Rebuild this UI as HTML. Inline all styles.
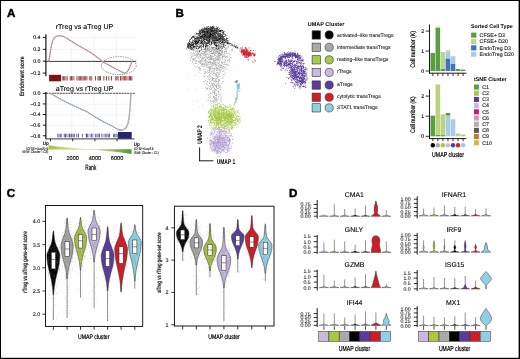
<!DOCTYPE html>
<html><head><meta charset="utf-8"><style>
html,body{margin:0;padding:0;background:#fff;width:520px;height:359px;overflow:hidden}
svg{display:block}
text{font-family:"Liberation Sans", sans-serif}
svg{will-change:transform}
text{filter:grayscale(1);text-rendering:geometricPrecision}
</style></head><body>
<svg width="520" height="359" viewBox="0 0 520 359" font-family='"Liberation Sans", sans-serif'>
<rect x="0" y="0" width="520" height="359" fill="#000"/>
<rect x="1" y="1" width="517.6" height="356.8" fill="#fff"/>
<text x="7" y="16.7" font-size="11.6" font-weight="bold" stroke="#000" stroke-width="0.45">A</text>
<text x="24.5" y="76.2" font-size="6.2" text-anchor="middle" textLength="39.7" lengthAdjust="spacingAndGlyphs" transform="rotate(-90 24.5 76.2)" stroke="#000" stroke-width="0.18" >Enrichment score</text>
<line x1="71.2" y1="34.5" x2="71.2" y2="74.5" stroke="#ececec" stroke-width="0.6" />
<line x1="94.2" y1="34.5" x2="94.2" y2="74.5" stroke="#ececec" stroke-width="0.6" />
<line x1="116.5" y1="34.5" x2="116.5" y2="74.5" stroke="#ececec" stroke-width="0.6" />
<line x1="46.4" y1="37.4" x2="137" y2="37.4" stroke="#ececec" stroke-width="0.6" />
<line x1="46.4" y1="49.3" x2="137" y2="49.3" stroke="#ececec" stroke-width="0.6" />
<text x="84.5" y="29.2" font-size="7.07" text-anchor="middle" textLength="57.6" lengthAdjust="spacingAndGlyphs" stroke="#000" stroke-width="0.12" >rTreg vs aTreg UP</text>
<line x1="45.9" y1="34.2" x2="45.9" y2="76.2" stroke="#000" stroke-width="1.1" />
<line x1="42.8" y1="37.4" x2="45.9" y2="37.4" stroke="#000" stroke-width="0.9" />
<text x="40.4" y="39.2" font-size="5.2" text-anchor="end" stroke="#000" stroke-width="0.12" >0.4</text>
<line x1="42.8" y1="49.3" x2="45.9" y2="49.3" stroke="#000" stroke-width="0.9" />
<text x="40.4" y="51.1" font-size="5.2" text-anchor="end" stroke="#000" stroke-width="0.12" >0.2</text>
<line x1="42.8" y1="61.2" x2="45.9" y2="61.2" stroke="#000" stroke-width="0.9" />
<text x="40.4" y="63" font-size="5.2" text-anchor="end" stroke="#000" stroke-width="0.12" >0.0</text>
<line x1="42.8" y1="73.1" x2="45.9" y2="73.1" stroke="#000" stroke-width="0.9" />
<text x="40.4" y="74.9" font-size="5.2" text-anchor="end" stroke="#000" stroke-width="0.12" >−0.2</text>
<line x1="45.9" y1="61.4" x2="136.2" y2="61.4" stroke="#222" stroke-width="0.9" />
<path d="M48.7 61.3 L49.6 56.5 L50.5 50.5 L51.5 45.3 L52.8 40.6 L54.4 37.6 L56.3 36.2 L59 35.9 L61.5 35.9 L63.5 36.4 L66 37.9 L70 40.4 L74 42.9 L78.4 45.5 L82.5 47.8 L86.7 50.2 L91 52.8 L95.1 55.6 L98.7 58.4 L102.2 61.3 L105.5 63.3 L109 65.2 L113 67.4 L117 69.5 L120.8 71.4 L123 72.6 L124.6 73.1 L126.2 72.6 L127.6 71.2 L129 68.8 L130.4 65.5 L131.3 62.8 L131.9 61.5" stroke="#e2bcbe" stroke-width="1.4" fill="none" stroke-linejoin="round" />
<path d="M48.7 61.3 L49.6 56.5 L50.5 50.5 L51.5 45.3 L52.8 40.6 L54.4 37.6 L56.3 36.2 L59 35.9 L61.5 35.9 L63.5 36.4 L66 37.9 L70 40.4 L74 42.9 L78.4 45.5 L82.5 47.8 L86.7 50.2 L91 52.8 L95.1 55.6 L98.7 58.4 L102.2 61.3 L105.5 63.3 L109 65.2 L113 67.4 L117 69.5 L120.8 71.4 L123 72.6 L124.6 73.1 L126.2 72.6 L127.6 71.2 L129 68.8 L130.4 65.5 L131.3 62.8 L131.9 61.5" stroke="#857a7a" stroke-width="0.85" fill="none" stroke-linejoin="round" stroke-dasharray="1.5 0.7"/>
<ellipse cx="118.8" cy="65.6" rx="17.4" ry="9" fill="none" stroke="#444" stroke-width="0.6" stroke-dasharray="1.3 1.1"/>
<rect x="49.1" y="74.8" width="11.9" height="6.5" fill="#7b1414" />
<rect x="61.8" y="76.1" width="0.8" height="4.4" fill="#9a3a3a"/><rect x="63.05" y="76.1" width="0.8" height="4.4" fill="#8c2626"/><rect x="64.3" y="76.1" width="0.8" height="4.4" fill="#9a3a3a"/><rect x="65.55" y="76.1" width="0.8" height="4.4" fill="#9a3a3a"/><rect x="66.8" y="76.1" width="0.8" height="4.4" fill="#9a3a3a"/><rect x="69.8" y="76.1" width="0.8" height="4.4" fill="#7b1414"/><rect x="71.05" y="76.1" width="0.8" height="4.4" fill="#7b1414"/><rect x="72.3" y="76.1" width="0.8" height="4.4" fill="#a85252"/><rect x="73.55" y="76.1" width="0.8" height="4.4" fill="#9a3a3a"/><rect x="76.5" y="76.1" width="0.8" height="4.4" fill="#9a3a3a"/><rect x="77.75" y="76.1" width="0.8" height="4.4" fill="#9a3a3a"/><rect x="79" y="76.1" width="0.8" height="4.4" fill="#9a3a3a"/><rect x="80.25" y="76.1" width="0.8" height="4.4" fill="#7b1414"/><rect x="81.5" y="76.1" width="0.8" height="4.4" fill="#7b1414"/><rect x="82.75" y="76.1" width="0.8" height="4.4" fill="#8c2626"/><rect x="84" y="76.1" width="0.8" height="4.4" fill="#9a3a3a"/><rect x="85.25" y="76.1" width="0.8" height="4.4" fill="#9a3a3a"/><rect x="86.5" y="76.1" width="0.8" height="4.4" fill="#861c1c"/><rect x="88.9" y="76.1" width="0.8" height="4.4" fill="#a85252"/><rect x="90.15" y="76.1" width="0.8" height="4.4" fill="#a85252"/><rect x="91.4" y="76.1" width="0.8" height="4.4" fill="#9a3a3a"/><rect x="95.15" y="76.1" width="0.8" height="4.4" fill="#861c1c"/><rect x="97.65" y="76.1" width="0.8" height="4.4" fill="#7b1414"/><rect x="98.9" y="76.1" width="0.8" height="4.4" fill="#7b1414"/><rect x="100.15" y="76.1" width="0.8" height="4.4" fill="#861c1c"/><rect x="103.5" y="76.1" width="0.8" height="4.4" fill="#7b1414"/><rect x="106" y="76.1" width="0.8" height="4.4" fill="#7b1414"/><rect x="108.5" y="76.1" width="0.8" height="4.4" fill="#8c2626"/><rect x="111" y="76.1" width="0.8" height="4.4" fill="#7b1414"/><rect x="115.2" y="76.1" width="0.8" height="4.4" fill="#a85252"/><rect x="116.45" y="76.1" width="0.8" height="4.4" fill="#7b1414"/><rect x="117.7" y="76.1" width="0.8" height="4.4" fill="#7b1414"/><rect x="120.2" y="76.1" width="0.8" height="4.4" fill="#7b1414"/><rect x="121.45" y="76.1" width="0.8" height="4.4" fill="#a85252"/><rect x="122.7" y="76.1" width="0.8" height="4.4" fill="#7b1414"/><rect x="123.95" y="76.1" width="0.8" height="4.4" fill="#8c2626"/><rect x="125.2" y="76.1" width="0.8" height="4.4" fill="#9a3a3a"/><rect x="126.45" y="76.1" width="0.8" height="4.4" fill="#9a3a3a"/><rect x="127.7" y="76.1" width="0.8" height="4.4" fill="#a85252"/><rect x="128.95" y="76.1" width="0.8" height="4.4" fill="#8c2626"/><rect x="130.2" y="76.1" width="0.8" height="4.4" fill="#7b1414"/><rect x="131.45" y="76.1" width="0.8" height="4.4" fill="#7b1414"/>
<line x1="71.7" y1="92.5" x2="71.7" y2="138.5" stroke="#ececec" stroke-width="0.6" />
<line x1="94.2" y1="92.5" x2="94.2" y2="138.5" stroke="#ececec" stroke-width="0.6" />
<line x1="116.5" y1="92.5" x2="116.5" y2="138.5" stroke="#ececec" stroke-width="0.6" />
<line x1="46.4" y1="104.2" x2="136" y2="104.2" stroke="#ececec" stroke-width="0.6" />
<line x1="46.4" y1="114.8" x2="136" y2="114.8" stroke="#ececec" stroke-width="0.6" />
<line x1="46.4" y1="125.3" x2="136" y2="125.3" stroke="#ececec" stroke-width="0.6" />
<text x="84.6" y="90.7" font-size="7.07" text-anchor="middle" textLength="57.7" lengthAdjust="spacingAndGlyphs" stroke="#000" stroke-width="0.12" >aTreg vs rTreg UP</text>
<line x1="45.9" y1="92" x2="45.9" y2="139.3" stroke="#000" stroke-width="1.1" />
<line x1="42.8" y1="93.3" x2="45.9" y2="93.3" stroke="#000" stroke-width="0.9" />
<text x="40.4" y="95.1" font-size="5.2" text-anchor="end" stroke="#000" stroke-width="0.12" >0.0</text>
<line x1="42.8" y1="103.92" x2="45.9" y2="103.92" stroke="#000" stroke-width="0.9" />
<text x="40.4" y="105.72" font-size="5.2" text-anchor="end" stroke="#000" stroke-width="0.12" >−0.2</text>
<line x1="42.8" y1="114.54" x2="45.9" y2="114.54" stroke="#000" stroke-width="0.9" />
<text x="40.4" y="116.34" font-size="5.2" text-anchor="end" stroke="#000" stroke-width="0.12" >−0.4</text>
<line x1="42.8" y1="125.16" x2="45.9" y2="125.16" stroke="#000" stroke-width="0.9" />
<text x="40.4" y="126.96" font-size="5.2" text-anchor="end" stroke="#000" stroke-width="0.12" >−0.6</text>
<line x1="42.8" y1="135.78" x2="45.9" y2="135.78" stroke="#000" stroke-width="0.9" />
<text x="40.4" y="137.58" font-size="5.2" text-anchor="end" stroke="#000" stroke-width="0.12" >−0.8</text>
<line x1="45.9" y1="93.3" x2="135.4" y2="93.3" stroke="#222" stroke-width="0.8" stroke-dasharray="2.2 0.6"/>
<path d="M50.4 93.3 L55 96 L60 98.8 L65 101.5 L70 104 L75 106.4 L81 109 L88 112.4 L96 117.5 L104 122 L111.7 125.9 L116 128.3 L119 129.8 L121.5 130.3" stroke="#c2d8e8" stroke-width="1.5" fill="none" stroke-linejoin="round" />
<path d="M119 129.8 L121.5 130.3 L124 129.6 L126.3 127.4 L128 123.5 L129.2 117 L130 108 L130.6 99 L131 93.5" stroke="#b4b4b4" stroke-width="1.6" fill="none" stroke-linejoin="round" />
<path d="M50.4 93.3 L55 96 L60 98.8 L65 101.5 L70 104 L75 106.4 L81 109 L88 112.4 L96 117.5 L104 122 L111.7 125.9 L116 128.3 L119 129.8 L121.5 130.3" stroke="#7a8088" stroke-width="0.85" fill="none" stroke-linejoin="round" stroke-dasharray="1.5 0.7"/>
<rect x="118" y="132" width="13.7" height="6.7" fill="#26266c" />
<rect x="57.3" y="133.7" width="0.75" height="3.7" fill="#6a6aa8"/><rect x="58.6" y="133.7" width="0.75" height="3.7" fill="#34347f"/><rect x="59.9" y="133.7" width="0.75" height="3.7" fill="#34347f"/><rect x="61.2" y="133.7" width="0.75" height="3.7" fill="#6a6aa8"/><rect x="63.8" y="133.7" width="0.75" height="3.7" fill="#2a2a78"/><rect x="65.1" y="133.7" width="0.75" height="3.7" fill="#2a2a78"/><rect x="66.4" y="133.7" width="0.75" height="3.7" fill="#6a6aa8"/><rect x="67.7" y="133.7" width="0.75" height="3.7" fill="#6a6aa8"/><rect x="69" y="133.7" width="0.75" height="3.7" fill="#2a2a78"/><rect x="70" y="133.7" width="0.75" height="3.7" fill="#8a8abc"/><rect x="71.3" y="133.7" width="0.75" height="3.7" fill="#34347f"/><rect x="72.6" y="133.7" width="0.75" height="3.7" fill="#2a2a78"/><rect x="73.9" y="133.7" width="0.75" height="3.7" fill="#34347f"/><rect x="76.5" y="133.7" width="0.75" height="3.7" fill="#34347f"/><rect x="78" y="133.7" width="0.75" height="3.7" fill="#34347f"/><rect x="81.9" y="133.7" width="0.75" height="3.7" fill="#34347f"/><rect x="85.8" y="133.7" width="0.75" height="3.7" fill="#4a4a94"/><rect x="86" y="133.7" width="0.75" height="3.7" fill="#34347f"/><rect x="87.3" y="133.7" width="0.75" height="3.7" fill="#4a4a94"/><rect x="88.6" y="133.7" width="0.75" height="3.7" fill="#8a8abc"/><rect x="89.9" y="133.7" width="0.75" height="3.7" fill="#8a8abc"/><rect x="91.2" y="133.7" width="0.75" height="3.7" fill="#4a4a94"/><rect x="92.5" y="133.7" width="0.75" height="3.7" fill="#4a4a94"/><rect x="95.1" y="133.7" width="0.75" height="3.7" fill="#4a4a94"/><rect x="96.4" y="133.7" width="0.75" height="3.7" fill="#6a6aa8"/><rect x="97.7" y="133.7" width="0.75" height="3.7" fill="#2a2a78"/><rect x="99" y="133.7" width="0.75" height="3.7" fill="#2a2a78"/><rect x="101.3" y="133.7" width="0.75" height="3.7" fill="#6a6aa8"/><rect x="102.6" y="133.7" width="0.75" height="3.7" fill="#6a6aa8"/><rect x="103.9" y="133.7" width="0.75" height="3.7" fill="#8a8abc"/><rect x="105.2" y="133.7" width="0.75" height="3.7" fill="#6a6aa8"/><rect x="106.5" y="133.7" width="0.75" height="3.7" fill="#34347f"/><rect x="107.8" y="133.7" width="0.75" height="3.7" fill="#34347f"/><rect x="109.1" y="133.7" width="0.75" height="3.7" fill="#34347f"/><rect x="113" y="133.7" width="0.75" height="3.7" fill="#4a4a94"/><rect x="114.3" y="133.7" width="0.75" height="3.7" fill="#4a4a94"/><rect x="115.6" y="133.7" width="0.75" height="3.7" fill="#2a2a78"/><rect x="116.9" y="133.7" width="0.75" height="3.7" fill="#4a4a94"/>
<line x1="45.9" y1="138.9" x2="134.5" y2="138.9" stroke="#222" stroke-width="0.9" />
<line x1="50.5" y1="138.8" x2="50.5" y2="141.4" stroke="#000" stroke-width="0.8" />
<text x="50.5" y="159.5" font-size="5.6" text-anchor="middle" stroke="#000" stroke-width="0.12" >0</text>
<line x1="72.7" y1="138.8" x2="72.7" y2="141.4" stroke="#000" stroke-width="0.8" />
<text x="72.7" y="159.5" font-size="5.6" text-anchor="middle" stroke="#000" stroke-width="0.12" >2000</text>
<line x1="94.9" y1="138.8" x2="94.9" y2="141.4" stroke="#000" stroke-width="0.8" />
<text x="94.9" y="159.5" font-size="5.6" text-anchor="middle" stroke="#000" stroke-width="0.12" >4000</text>
<line x1="117.1" y1="138.8" x2="117.1" y2="141.4" stroke="#000" stroke-width="0.8" />
<text x="117.1" y="159.5" font-size="5.6" text-anchor="middle" stroke="#000" stroke-width="0.12" >6000</text>
<text x="90.8" y="169.8" font-size="7.6" text-anchor="middle" textLength="10.9" lengthAdjust="spacingAndGlyphs" stroke="#000" stroke-width="0.22" >Rank</text>
<defs><linearGradient id="gl" x1="0" x2="1" y1="0" y2="0"><stop offset="0" stop-color="#a3c436"/><stop offset="0.45" stop-color="#cfe09a"/><stop offset="1" stop-color="#f4f8ea" stop-opacity="0"/></linearGradient><linearGradient id="gr" x1="0" x2="1" y1="0" y2="0"><stop offset="0" stop-color="#e4eed4" stop-opacity="0"/><stop offset="0.45" stop-color="#a9cc86"/><stop offset="1" stop-color="#56982a"/></linearGradient></defs>
<path d="M48.5 145.2 Q68 148.4 100 149.3 L100 149.8 L48.5 149.8 Z" fill="url(#gl)"/>
<line x1="48.5" y1="149.5" x2="131.5" y2="149.5" stroke="#d5e6b4" stroke-width="0.6" />
<path d="M84 149.3 L131.5 149.3 L131.5 153.9 Q112 151.2 84 149.3 Z" fill="url(#gr)"/>
<text x="42.8" y="145.3" font-size="5.2" font-weight="bold" textLength="6" lengthAdjust="spacingAndGlyphs" >Up</text>
<text x="48.3" y="149.5" font-size="3.7" text-anchor="end" fill="#222" textLength="22.2" lengthAdjust="spacingAndGlyphs" stroke="#222" stroke-width="0.12" >(CFSE+Day20 &amp;</text>
<text x="48.3" y="153.4" font-size="3.7" text-anchor="end" fill="#222" textLength="25.8" lengthAdjust="spacingAndGlyphs" stroke="#222" stroke-width="0.12" >tSNE Cluster - C3)</text>
<text x="133.8" y="145.6" font-size="5.2" font-weight="bold" textLength="6" lengthAdjust="spacingAndGlyphs" >Up</text>
<text x="133.8" y="149.6" font-size="3.7" fill="#222" textLength="20" lengthAdjust="spacingAndGlyphs" stroke="#222" stroke-width="0.12" >(CFSE+Day3 &amp;</text>
<text x="133.8" y="153.5" font-size="3.7" fill="#222" textLength="25" lengthAdjust="spacingAndGlyphs" stroke="#222" stroke-width="0.12" >tSNE Cluster - C1)</text>
<text x="175.4" y="17" font-size="11.6" font-weight="bold" stroke="#000" stroke-width="0.45">B</text>
<path d="M192.4 61.9h.7v.7h-.7zM204.6 63.8h.7v.7h-.7zM209.9 78.3h.7v.7h-.7zM205.2 51.8h.7v.7h-.7zM223.8 56.2h.7v.7h-.7zM191.3 56.6h.7v.7h-.7zM212.6 92.3h.7v.7h-.7zM213.0 63.5h.7v.7h-.7zM213.6 78.3h.7v.7h-.7zM222.3 50.9h.7v.7h-.7zM211.5 57.7h.7v.7h-.7zM198.6 60.6h.7v.7h-.7zM210.6 59.0h.7v.7h-.7zM211.0 58.5h.7v.7h-.7zM209.7 61.9h.7v.7h-.7zM216.7 107.8h.7v.7h-.7zM211.4 59.6h.7v.7h-.7zM210.8 104.9h.7v.7h-.7zM217.8 59.6h.7v.7h-.7zM216.4 78.0h.7v.7h-.7zM207.8 50.5h.7v.7h-.7zM205.7 65.7h.7v.7h-.7zM221.9 63.0h.7v.7h-.7zM216.3 59.1h.7v.7h-.7zM196.7 50.2h.7v.7h-.7zM196.1 53.4h.7v.7h-.7zM209.4 56.8h.7v.7h-.7zM211.9 62.1h.7v.7h-.7zM210.1 57.9h.7v.7h-.7zM208.7 82.6h.7v.7h-.7zM229.0 61.4h.7v.7h-.7zM217.8 52.8h.7v.7h-.7zM210.9 56.0h.7v.7h-.7zM198.9 51.6h.7v.7h-.7zM203.5 58.3h.7v.7h-.7zM215.5 51.9h.7v.7h-.7zM226.1 63.8h.7v.7h-.7zM226.5 56.5h.7v.7h-.7zM204.7 76.4h.7v.7h-.7zM218.4 90.9h.7v.7h-.7zM222.3 66.9h.7v.7h-.7zM202.8 57.7h.7v.7h-.7zM207.2 88.3h.7v.7h-.7zM212.8 74.8h.7v.7h-.7zM206.2 53.8h.7v.7h-.7zM216.6 68.2h.7v.7h-.7zM218.4 63.3h.7v.7h-.7zM210.6 56.9h.7v.7h-.7zM202.1 63.6h.7v.7h-.7zM207.3 81.3h.7v.7h-.7zM195.7 50.9h.7v.7h-.7zM196.4 55.9h.7v.7h-.7zM194.5 53.8h.7v.7h-.7zM208.9 59.2h.7v.7h-.7zM203.7 64.2h.7v.7h-.7zM213.1 71.8h.7v.7h-.7zM215.0 81.6h.7v.7h-.7zM212.5 68.3h.7v.7h-.7zM205.5 47.8h.7v.7h-.7zM203.9 75.8h.7v.7h-.7zM216.2 95.0h.7v.7h-.7zM217.4 51.2h.7v.7h-.7zM209.0 48.7h.7v.7h-.7zM202.8 53.0h.7v.7h-.7zM207.6 58.6h.7v.7h-.7zM207.6 47.3h.7v.7h-.7zM221.8 52.8h.7v.7h-.7zM213.7 60.6h.7v.7h-.7zM194.6 66.0h.7v.7h-.7zM218.1 52.6h.7v.7h-.7zM214.3 69.1h.7v.7h-.7zM220.2 54.2h.7v.7h-.7zM217.3 58.7h.7v.7h-.7zM209.1 50.5h.7v.7h-.7zM199.3 67.3h.7v.7h-.7zM215.9 95.5h.7v.7h-.7zM205.5 48.6h.7v.7h-.7zM226.5 48.1h.7v.7h-.7zM199.6 50.1h.7v.7h-.7zM223.2 64.5h.7v.7h-.7zM212.9 58.3h.7v.7h-.7zM217.2 52.4h.7v.7h-.7zM218.6 59.4h.7v.7h-.7zM203.7 52.0h.7v.7h-.7zM198.0 67.1h.7v.7h-.7zM216.0 85.8h.7v.7h-.7zM217.0 46.9h.7v.7h-.7zM228.7 59.6h.7v.7h-.7zM219.0 54.4h.7v.7h-.7zM204.4 52.9h.7v.7h-.7zM198.7 53.7h.7v.7h-.7zM215.4 80.0h.7v.7h-.7zM195.7 57.4h.7v.7h-.7zM200.6 55.2h.7v.7h-.7zM221.5 52.6h.7v.7h-.7zM210.5 66.1h.7v.7h-.7zM209.3 58.7h.7v.7h-.7zM210.5 73.4h.7v.7h-.7zM219.5 55.7h.7v.7h-.7zM211.6 59.2h.7v.7h-.7zM207.3 49.0h.7v.7h-.7zM199.1 61.6h.7v.7h-.7zM224.7 49.3h.7v.7h-.7zM222.6 47.0h.7v.7h-.7zM222.8 56.5h.7v.7h-.7zM214.0 54.9h.7v.7h-.7zM227.1 61.4h.7v.7h-.7zM216.6 46.8h.7v.7h-.7zM224.9 57.0h.7v.7h-.7zM219.1 50.3h.7v.7h-.7zM216.2 75.4h.7v.7h-.7zM222.2 59.4h.7v.7h-.7zM199.6 54.0h.7v.7h-.7zM214.3 73.3h.7v.7h-.7zM217.3 88.2h.7v.7h-.7zM198.1 53.2h.7v.7h-.7zM210.2 83.9h.7v.7h-.7zM208.3 96.9h.7v.7h-.7zM215.4 85.4h.7v.7h-.7zM220.7 54.0h.7v.7h-.7zM216.6 72.5h.7v.7h-.7zM207.5 49.5h.7v.7h-.7zM208.1 85.7h.7v.7h-.7zM232.0 49.3h.7v.7h-.7zM208.6 48.2h.7v.7h-.7zM212.0 84.8h.7v.7h-.7zM213.7 84.1h.7v.7h-.7zM215.6 64.8h.7v.7h-.7zM199.1 68.9h.7v.7h-.7zM207.5 58.5h.7v.7h-.7zM222.6 66.6h.7v.7h-.7zM220.7 65.2h.7v.7h-.7zM217.8 65.4h.7v.7h-.7zM203.6 81.3h.7v.7h-.7zM205.4 48.6h.7v.7h-.7zM219.3 70.6h.7v.7h-.7zM203.6 51.3h.7v.7h-.7zM220.1 70.6h.7v.7h-.7zM211.9 63.1h.7v.7h-.7zM212.6 79.2h.7v.7h-.7zM217.5 72.7h.7v.7h-.7zM224.9 59.9h.7v.7h-.7zM210.2 51.5h.7v.7h-.7zM221.8 47.8h.7v.7h-.7zM215.5 98.5h.7v.7h-.7zM212.8 63.1h.7v.7h-.7zM192.5 55.5h.7v.7h-.7zM204.7 51.2h.7v.7h-.7zM221.7 61.9h.7v.7h-.7zM208.5 62.4h.7v.7h-.7zM211.6 46.9h.7v.7h-.7zM211.8 53.2h.7v.7h-.7zM214.2 54.1h.7v.7h-.7zM216.5 107.2h.7v.7h-.7zM205.2 71.0h.7v.7h-.7zM211.4 51.2h.7v.7h-.7zM209.7 50.7h.7v.7h-.7zM215.4 78.7h.7v.7h-.7zM216.9 70.6h.7v.7h-.7zM219.1 53.4h.7v.7h-.7zM221.0 49.5h.7v.7h-.7zM220.0 99.6h.7v.7h-.7zM205.4 51.2h.7v.7h-.7zM200.1 53.7h.7v.7h-.7zM200.9 48.2h.7v.7h-.7zM221.5 62.5h.7v.7h-.7zM211.9 101.1h.7v.7h-.7zM225.7 50.8h.7v.7h-.7zM209.6 67.6h.7v.7h-.7zM200.3 63.4h.7v.7h-.7zM218.6 66.5h.7v.7h-.7zM214.2 85.0h.7v.7h-.7zM218.0 55.5h.7v.7h-.7zM221.8 51.4h.7v.7h-.7zM204.7 52.2h.7v.7h-.7zM202.7 50.9h.7v.7h-.7zM214.8 104.2h.7v.7h-.7zM218.9 57.3h.7v.7h-.7zM221.2 65.0h.7v.7h-.7zM209.4 50.1h.7v.7h-.7zM221.4 82.7h.7v.7h-.7zM209.0 74.0h.7v.7h-.7zM217.4 59.3h.7v.7h-.7zM218.3 47.6h.7v.7h-.7zM210.4 57.8h.7v.7h-.7zM201.5 60.3h.7v.7h-.7zM212.9 68.4h.7v.7h-.7zM199.6 55.8h.7v.7h-.7zM214.7 63.0h.7v.7h-.7zM209.3 64.4h.7v.7h-.7zM214.6 53.6h.7v.7h-.7zM219.2 55.4h.7v.7h-.7zM217.7 46.8h.7v.7h-.7zM218.3 52.8h.7v.7h-.7zM219.2 57.8h.7v.7h-.7zM217.1 48.1h.7v.7h-.7zM214.3 88.5h.7v.7h-.7zM218.9 79.8h.7v.7h-.7zM210.3 68.5h.7v.7h-.7zM225.1 50.7h.7v.7h-.7zM196.5 60.4h.7v.7h-.7zM203.0 55.0h.7v.7h-.7zM220.7 54.8h.7v.7h-.7zM213.4 56.5h.7v.7h-.7zM204.9 50.4h.7v.7h-.7zM212.9 59.7h.7v.7h-.7zM193.6 63.2h.7v.7h-.7zM209.5 67.8h.7v.7h-.7zM213.5 65.4h.7v.7h-.7zM220.3 53.6h.7v.7h-.7zM210.3 61.8h.7v.7h-.7zM216.0 86.6h.7v.7h-.7zM230.4 57.3h.7v.7h-.7zM212.7 64.0h.7v.7h-.7zM219.4 105.8h.7v.7h-.7zM206.7 51.1h.7v.7h-.7zM215.0 60.2h.7v.7h-.7zM207.4 50.4h.7v.7h-.7zM218.7 60.8h.7v.7h-.7zM213.3 51.0h.7v.7h-.7zM205.0 61.3h.7v.7h-.7zM202.1 58.4h.7v.7h-.7zM214.4 60.7h.7v.7h-.7zM219.3 52.8h.7v.7h-.7zM198.8 49.7h.7v.7h-.7zM219.2 55.0h.7v.7h-.7zM222.7 70.7h.7v.7h-.7zM210.6 66.6h.7v.7h-.7zM221.0 49.2h.7v.7h-.7zM214.0 90.9h.7v.7h-.7zM193.7 58.2h.7v.7h-.7zM211.6 64.4h.7v.7h-.7zM204.5 72.7h.7v.7h-.7zM204.1 57.1h.7v.7h-.7zM218.1 57.4h.7v.7h-.7zM204.9 49.1h.7v.7h-.7zM222.5 51.9h.7v.7h-.7zM213.0 58.5h.7v.7h-.7zM208.1 49.8h.7v.7h-.7zM201.3 49.7h.7v.7h-.7zM205.3 55.9h.7v.7h-.7zM221.6 53.6h.7v.7h-.7zM193.8 54.5h.7v.7h-.7zM210.1 89.4h.7v.7h-.7zM208.8 82.7h.7v.7h-.7zM209.2 66.6h.7v.7h-.7zM205.4 59.3h.7v.7h-.7zM218.0 79.0h.7v.7h-.7zM212.6 48.3h.7v.7h-.7zM223.4 66.1h.7v.7h-.7zM216.0 70.2h.7v.7h-.7zM212.1 57.4h.7v.7h-.7zM210.9 56.1h.7v.7h-.7zM219.1 50.6h.7v.7h-.7zM191.0 52.8h.7v.7h-.7zM228.5 64.7h.7v.7h-.7zM225.4 59.8h.7v.7h-.7zM221.5 53.1h.7v.7h-.7zM217.1 50.5h.7v.7h-.7zM219.6 58.0h.7v.7h-.7zM201.8 66.4h.7v.7h-.7zM205.5 61.9h.7v.7h-.7zM197.5 50.8h.7v.7h-.7zM220.1 89.1h.7v.7h-.7zM213.5 61.6h.7v.7h-.7zM205.3 47.9h.7v.7h-.7zM202.8 53.7h.7v.7h-.7zM214.8 52.8h.7v.7h-.7zM214.7 99.3h.7v.7h-.7zM219.6 86.1h.7v.7h-.7zM210.0 86.5h.7v.7h-.7zM210.4 81.5h.7v.7h-.7zM205.4 60.1h.7v.7h-.7zM219.3 48.7h.7v.7h-.7zM208.8 56.7h.7v.7h-.7zM226.2 53.3h.7v.7h-.7zM207.2 87.7h.7v.7h-.7zM204.6 57.4h.7v.7h-.7zM209.9 55.2h.7v.7h-.7zM214.0 93.8h.7v.7h-.7zM222.3 56.8h.7v.7h-.7zM215.1 64.2h.7v.7h-.7zM218.9 60.8h.7v.7h-.7zM213.8 89.3h.7v.7h-.7zM212.9 96.3h.7v.7h-.7zM210.7 62.4h.7v.7h-.7zM212.6 91.5h.7v.7h-.7zM209.2 70.1h.7v.7h-.7zM213.4 72.0h.7v.7h-.7zM202.0 51.3h.7v.7h-.7zM209.7 56.3h.7v.7h-.7zM215.7 51.7h.7v.7h-.7zM206.7 64.5h.7v.7h-.7zM218.0 81.9h.7v.7h-.7zM225.8 48.8h.7v.7h-.7zM199.4 67.7h.7v.7h-.7zM215.9 81.2h.7v.7h-.7zM217.5 59.4h.7v.7h-.7zM226.4 56.1h.7v.7h-.7zM211.8 67.9h.7v.7h-.7zM221.9 77.6h.7v.7h-.7zM222.6 56.6h.7v.7h-.7zM208.1 62.2h.7v.7h-.7zM218.6 51.8h.7v.7h-.7zM214.0 81.1h.7v.7h-.7zM213.0 100.4h.7v.7h-.7zM213.4 51.0h.7v.7h-.7zM220.3 45.9h.7v.7h-.7zM218.2 91.5h.7v.7h-.7zM207.1 76.1h.7v.7h-.7zM215.8 50.9h.7v.7h-.7zM209.6 72.4h.7v.7h-.7zM190.2 59.8h.7v.7h-.7zM218.2 54.4h.7v.7h-.7zM226.2 51.3h.7v.7h-.7zM195.3 51.6h.7v.7h-.7zM217.8 78.9h.7v.7h-.7zM218.2 55.2h.7v.7h-.7zM216.1 74.6h.7v.7h-.7zM228.0 46.8h.7v.7h-.7zM196.3 61.4h.7v.7h-.7zM216.6 94.7h.7v.7h-.7zM197.0 49.1h.7v.7h-.7zM218.7 50.8h.7v.7h-.7zM214.9 60.3h.7v.7h-.7zM198.3 53.9h.7v.7h-.7zM209.3 88.4h.7v.7h-.7zM193.7 58.9h.7v.7h-.7zM207.9 72.1h.7v.7h-.7zM218.3 96.3h.7v.7h-.7zM191.4 47.5h.7v.7h-.7zM202.5 64.2h.7v.7h-.7zM210.2 100.6h.7v.7h-.7zM219.7 65.0h.7v.7h-.7zM212.6 53.5h.7v.7h-.7zM215.8 99.2h.7v.7h-.7zM197.3 55.6h.7v.7h-.7zM211.8 59.1h.7v.7h-.7zM227.7 53.4h.7v.7h-.7zM217.6 76.6h.7v.7h-.7zM196.9 51.3h.7v.7h-.7zM208.4 94.8h.7v.7h-.7zM216.1 49.8h.7v.7h-.7zM213.5 49.8h.7v.7h-.7zM199.6 69.8h.7v.7h-.7zM215.4 62.5h.7v.7h-.7zM197.2 54.3h.7v.7h-.7zM218.7 84.2h.7v.7h-.7zM209.5 46.5h.7v.7h-.7zM212.4 52.7h.7v.7h-.7zM207.5 61.4h.7v.7h-.7zM204.5 60.7h.7v.7h-.7zM205.2 80.0h.7v.7h-.7zM206.2 83.1h.7v.7h-.7zM207.0 57.6h.7v.7h-.7zM200.0 47.5h.7v.7h-.7zM209.8 68.3h.7v.7h-.7zM217.8 99.2h.7v.7h-.7zM219.7 65.2h.7v.7h-.7zM211.7 80.5h.7v.7h-.7zM210.6 51.0h.7v.7h-.7zM221.9 56.0h.7v.7h-.7zM204.9 52.3h.7v.7h-.7zM215.1 97.1h.7v.7h-.7zM216.9 56.7h.7v.7h-.7zM207.4 46.9h.7v.7h-.7zM195.8 63.2h.7v.7h-.7zM213.0 52.2h.7v.7h-.7zM205.2 49.7h.7v.7h-.7zM198.1 48.1h.7v.7h-.7zM213.7 96.2h.7v.7h-.7zM211.0 53.3h.7v.7h-.7zM215.9 77.9h.7v.7h-.7zM206.4 89.6h.7v.7h-.7zM211.1 103.4h.7v.7h-.7zM216.6 68.8h.7v.7h-.7zM194.5 49.5h.7v.7h-.7zM218.0 85.0h.7v.7h-.7zM224.1 51.3h.7v.7h-.7zM216.7 51.1h.7v.7h-.7zM211.4 51.5h.7v.7h-.7zM210.1 61.8h.7v.7h-.7zM210.4 55.0h.7v.7h-.7zM217.6 81.4h.7v.7h-.7zM214.4 93.0h.7v.7h-.7zM209.8 68.4h.7v.7h-.7zM219.6 69.0h.7v.7h-.7zM231.2 49.4h.7v.7h-.7zM210.2 93.0h.7v.7h-.7zM192.2 60.7h.7v.7h-.7zM223.8 74.6h.7v.7h-.7zM213.1 73.4h.7v.7h-.7zM216.6 59.1h.7v.7h-.7zM214.6 48.3h.7v.7h-.7zM217.9 87.7h.7v.7h-.7zM218.1 66.4h.7v.7h-.7zM222.3 47.5h.7v.7h-.7zM215.0 54.7h.7v.7h-.7zM202.1 60.6h.7v.7h-.7zM204.3 73.4h.7v.7h-.7zM202.6 63.3h.7v.7h-.7zM215.2 56.9h.7v.7h-.7zM216.6 52.6h.7v.7h-.7zM215.0 50.8h.7v.7h-.7zM213.5 68.4h.7v.7h-.7zM221.8 62.5h.7v.7h-.7zM213.5 101.0h.7v.7h-.7zM209.8 97.0h.7v.7h-.7zM212.5 77.9h.7v.7h-.7zM209.1 62.2h.7v.7h-.7zM212.8 87.3h.7v.7h-.7zM226.7 64.3h.7v.7h-.7zM218.0 53.1h.7v.7h-.7zM200.5 68.6h.7v.7h-.7zM192.0 58.6h.7v.7h-.7zM212.2 78.8h.7v.7h-.7zM206.5 50.5h.7v.7h-.7zM215.3 48.3h.7v.7h-.7zM223.0 74.4h.7v.7h-.7zM222.6 45.6h.7v.7h-.7zM208.8 75.7h.7v.7h-.7zM205.6 51.5h.7v.7h-.7zM200.2 60.5h.7v.7h-.7zM211.7 62.8h.7v.7h-.7zM202.9 49.2h.7v.7h-.7zM218.0 82.8h.7v.7h-.7zM218.3 53.5h.7v.7h-.7zM195.0 55.2h.7v.7h-.7zM217.2 55.7h.7v.7h-.7zM198.4 57.5h.7v.7h-.7zM212.8 90.5h.7v.7h-.7zM209.2 66.9h.7v.7h-.7zM209.6 83.5h.7v.7h-.7zM218.8 73.4h.7v.7h-.7zM193.1 59.4h.7v.7h-.7zM224.8 55.9h.7v.7h-.7zM214.5 59.8h.7v.7h-.7zM205.5 54.4h.7v.7h-.7zM208.6 60.9h.7v.7h-.7zM219.9 55.1h.7v.7h-.7zM214.5 97.3h.7v.7h-.7zM219.0 80.6h.7v.7h-.7zM210.4 58.4h.7v.7h-.7zM198.7 61.6h.7v.7h-.7zM197.6 53.7h.7v.7h-.7zM217.7 81.0h.7v.7h-.7zM212.0 77.0h.7v.7h-.7zM211.8 85.2h.7v.7h-.7zM200.2 54.9h.7v.7h-.7zM216.7 98.3h.7v.7h-.7zM217.2 45.7h.7v.7h-.7zM216.2 96.8h.7v.7h-.7zM215.8 73.9h.7v.7h-.7zM213.4 83.0h.7v.7h-.7zM220.7 53.9h.7v.7h-.7zM211.0 88.3h.7v.7h-.7zM202.4 54.4h.7v.7h-.7zM199.1 50.4h.7v.7h-.7zM201.6 64.6h.7v.7h-.7zM218.0 57.9h.7v.7h-.7zM216.2 87.2h.7v.7h-.7zM191.1 57.2h.7v.7h-.7zM208.5 57.1h.7v.7h-.7zM200.1 62.5h.7v.7h-.7zM222.0 62.3h.7v.7h-.7zM192.9 58.7h.7v.7h-.7zM200.7 52.7h.7v.7h-.7zM205.5 48.2h.7v.7h-.7zM215.0 89.1h.7v.7h-.7zM213.1 97.0h.7v.7h-.7zM214.4 50.0h.7v.7h-.7zM220.9 54.8h.7v.7h-.7zM215.6 73.8h.7v.7h-.7zM200.1 61.0h.7v.7h-.7zM215.9 65.5h.7v.7h-.7z" fill="#808080"/>
<path d="M217.2 48.6h.7v.7h-.7zM215.2 78.4h.7v.7h-.7zM227.2 48.7h.7v.7h-.7zM207.0 47.8h.7v.7h-.7zM213.2 63.0h.7v.7h-.7zM219.8 67.2h.7v.7h-.7zM217.9 84.6h.7v.7h-.7zM211.7 46.8h.7v.7h-.7zM216.4 50.0h.7v.7h-.7zM199.0 72.2h.7v.7h-.7zM199.9 49.9h.7v.7h-.7zM214.7 101.5h.7v.7h-.7zM210.6 100.9h.7v.7h-.7zM215.9 50.1h.7v.7h-.7zM199.2 51.5h.7v.7h-.7zM203.9 68.8h.7v.7h-.7zM216.0 64.4h.7v.7h-.7zM192.8 53.5h.7v.7h-.7zM223.9 61.3h.7v.7h-.7zM217.9 58.4h.7v.7h-.7zM220.8 58.5h.7v.7h-.7zM216.3 101.3h.7v.7h-.7zM193.3 52.1h.7v.7h-.7zM207.0 60.8h.7v.7h-.7zM202.8 64.6h.7v.7h-.7zM210.9 67.7h.7v.7h-.7zM201.4 48.2h.7v.7h-.7zM218.7 74.1h.7v.7h-.7zM215.8 46.7h.7v.7h-.7zM199.9 68.3h.7v.7h-.7zM215.5 95.3h.7v.7h-.7zM189.0 50.2h.7v.7h-.7zM216.0 82.8h.7v.7h-.7zM215.4 48.5h.7v.7h-.7zM193.9 59.4h.7v.7h-.7zM214.6 82.7h.7v.7h-.7zM211.0 66.3h.7v.7h-.7zM195.6 62.0h.7v.7h-.7zM206.7 64.6h.7v.7h-.7zM188.6 51.8h.7v.7h-.7zM216.0 93.5h.7v.7h-.7zM217.1 75.4h.7v.7h-.7zM189.4 49.9h.7v.7h-.7zM218.1 69.3h.7v.7h-.7zM216.8 81.3h.7v.7h-.7zM210.6 63.6h.7v.7h-.7zM200.9 56.5h.7v.7h-.7zM223.1 53.5h.7v.7h-.7zM216.6 68.0h.7v.7h-.7zM205.3 54.6h.7v.7h-.7zM189.4 52.9h.7v.7h-.7zM206.3 74.8h.7v.7h-.7zM224.4 63.5h.7v.7h-.7zM211.1 79.8h.7v.7h-.7zM207.1 81.6h.7v.7h-.7zM215.6 60.2h.7v.7h-.7zM209.4 79.3h.7v.7h-.7zM196.6 55.3h.7v.7h-.7zM200.8 61.4h.7v.7h-.7zM208.4 66.6h.7v.7h-.7zM231.0 50.8h.7v.7h-.7zM219.6 92.8h.7v.7h-.7zM212.6 80.2h.7v.7h-.7zM212.6 66.7h.7v.7h-.7zM191.8 56.2h.7v.7h-.7zM219.9 47.4h.7v.7h-.7zM216.3 80.5h.7v.7h-.7zM209.9 55.7h.7v.7h-.7zM203.3 57.8h.7v.7h-.7zM196.3 54.2h.7v.7h-.7zM217.2 76.5h.7v.7h-.7zM228.2 45.5h.7v.7h-.7zM216.4 98.3h.7v.7h-.7zM218.8 64.1h.7v.7h-.7zM211.0 49.9h.7v.7h-.7zM210.2 87.5h.7v.7h-.7zM223.0 54.0h.7v.7h-.7zM204.1 48.6h.7v.7h-.7zM221.2 51.6h.7v.7h-.7zM218.8 59.7h.7v.7h-.7zM214.7 75.3h.7v.7h-.7zM208.4 48.9h.7v.7h-.7zM213.8 92.1h.7v.7h-.7zM220.6 50.3h.7v.7h-.7zM221.5 64.1h.7v.7h-.7zM214.1 48.3h.7v.7h-.7zM212.7 87.2h.7v.7h-.7zM218.2 85.9h.7v.7h-.7zM219.5 85.1h.7v.7h-.7zM216.6 67.4h.7v.7h-.7zM206.0 50.5h.7v.7h-.7zM195.6 51.5h.7v.7h-.7zM213.2 81.5h.7v.7h-.7zM199.1 62.5h.7v.7h-.7zM205.0 55.2h.7v.7h-.7zM215.4 57.0h.7v.7h-.7zM189.9 53.4h.7v.7h-.7zM216.6 61.6h.7v.7h-.7zM218.3 49.5h.7v.7h-.7zM196.2 60.9h.7v.7h-.7zM214.8 72.9h.7v.7h-.7zM218.4 62.9h.7v.7h-.7zM204.6 59.6h.7v.7h-.7zM212.5 86.9h.7v.7h-.7zM200.2 59.9h.7v.7h-.7zM213.1 60.2h.7v.7h-.7zM214.5 99.4h.7v.7h-.7zM201.5 59.7h.7v.7h-.7zM211.1 50.3h.7v.7h-.7zM219.1 49.8h.7v.7h-.7zM193.8 53.8h.7v.7h-.7zM224.7 62.4h.7v.7h-.7zM204.8 50.8h.7v.7h-.7zM211.9 59.7h.7v.7h-.7zM196.1 67.8h.7v.7h-.7zM217.3 83.5h.7v.7h-.7zM199.6 55.3h.7v.7h-.7zM223.9 52.2h.7v.7h-.7zM222.0 71.0h.7v.7h-.7zM215.0 47.8h.7v.7h-.7zM217.2 55.8h.7v.7h-.7zM214.9 57.7h.7v.7h-.7zM203.1 77.4h.7v.7h-.7zM217.7 94.3h.7v.7h-.7zM206.8 47.8h.7v.7h-.7zM209.4 52.3h.7v.7h-.7zM207.3 85.3h.7v.7h-.7zM200.1 60.9h.7v.7h-.7zM225.8 71.9h.7v.7h-.7zM213.7 61.8h.7v.7h-.7zM210.6 75.0h.7v.7h-.7zM221.6 47.8h.7v.7h-.7zM215.9 76.3h.7v.7h-.7zM206.8 84.0h.7v.7h-.7zM226.7 63.6h.7v.7h-.7zM207.6 60.6h.7v.7h-.7zM220.9 58.6h.7v.7h-.7zM225.7 52.2h.7v.7h-.7zM198.1 67.6h.7v.7h-.7zM213.6 68.2h.7v.7h-.7zM204.0 59.7h.7v.7h-.7zM194.9 60.2h.7v.7h-.7zM209.8 56.7h.7v.7h-.7zM206.0 62.5h.7v.7h-.7zM213.6 55.8h.7v.7h-.7zM218.4 65.6h.7v.7h-.7zM209.1 80.6h.7v.7h-.7zM222.1 74.9h.7v.7h-.7zM219.0 48.8h.7v.7h-.7zM194.9 47.8h.7v.7h-.7zM208.8 86.6h.7v.7h-.7zM212.7 51.4h.7v.7h-.7zM193.8 52.4h.7v.7h-.7zM215.0 59.7h.7v.7h-.7zM219.9 66.9h.7v.7h-.7zM208.6 49.9h.7v.7h-.7zM195.1 56.9h.7v.7h-.7zM202.0 64.0h.7v.7h-.7zM215.1 90.7h.7v.7h-.7zM220.0 47.8h.7v.7h-.7zM198.6 59.6h.7v.7h-.7zM209.6 56.3h.7v.7h-.7zM211.6 55.5h.7v.7h-.7zM205.2 86.8h.7v.7h-.7zM224.5 69.7h.7v.7h-.7zM200.0 54.3h.7v.7h-.7zM210.7 64.3h.7v.7h-.7zM212.4 49.8h.7v.7h-.7zM219.4 86.4h.7v.7h-.7zM201.6 59.1h.7v.7h-.7zM210.3 49.3h.7v.7h-.7zM213.8 64.3h.7v.7h-.7zM201.3 65.0h.7v.7h-.7zM215.6 67.8h.7v.7h-.7zM195.0 58.7h.7v.7h-.7zM212.3 66.3h.7v.7h-.7zM225.1 48.4h.7v.7h-.7zM196.7 52.6h.7v.7h-.7zM193.6 60.0h.7v.7h-.7zM197.4 52.4h.7v.7h-.7zM217.7 54.7h.7v.7h-.7zM206.3 53.6h.7v.7h-.7zM214.0 102.8h.7v.7h-.7zM227.1 57.1h.7v.7h-.7zM201.0 49.9h.7v.7h-.7zM217.6 57.9h.7v.7h-.7zM208.7 64.3h.7v.7h-.7zM221.5 49.3h.7v.7h-.7zM214.1 91.1h.7v.7h-.7zM221.3 65.0h.7v.7h-.7zM215.0 74.9h.7v.7h-.7zM224.9 63.8h.7v.7h-.7zM207.4 63.9h.7v.7h-.7zM232.5 49.8h.7v.7h-.7zM218.6 56.6h.7v.7h-.7zM222.1 65.4h.7v.7h-.7zM213.1 61.9h.7v.7h-.7zM212.1 74.4h.7v.7h-.7zM217.2 77.7h.7v.7h-.7zM214.9 50.6h.7v.7h-.7zM208.4 79.2h.7v.7h-.7zM203.2 54.4h.7v.7h-.7zM214.5 89.7h.7v.7h-.7zM225.1 66.7h.7v.7h-.7zM215.8 66.8h.7v.7h-.7zM218.9 57.2h.7v.7h-.7zM216.5 58.3h.7v.7h-.7zM216.0 94.8h.7v.7h-.7zM216.5 62.1h.7v.7h-.7zM196.0 60.4h.7v.7h-.7zM208.9 94.4h.7v.7h-.7zM201.3 64.6h.7v.7h-.7zM213.6 97.5h.7v.7h-.7zM209.5 49.3h.7v.7h-.7zM218.7 87.4h.7v.7h-.7zM214.4 63.9h.7v.7h-.7zM205.9 57.5h.7v.7h-.7zM218.4 59.3h.7v.7h-.7zM190.2 48.7h.7v.7h-.7zM226.1 56.1h.7v.7h-.7zM214.1 52.5h.7v.7h-.7zM200.3 50.0h.7v.7h-.7zM201.8 56.8h.7v.7h-.7zM215.6 74.3h.7v.7h-.7zM225.0 51.3h.7v.7h-.7zM204.2 65.7h.7v.7h-.7zM204.9 72.4h.7v.7h-.7zM217.5 79.5h.7v.7h-.7zM205.4 60.6h.7v.7h-.7zM206.1 63.3h.7v.7h-.7zM208.4 48.3h.7v.7h-.7zM206.5 61.1h.7v.7h-.7zM214.8 106.9h.7v.7h-.7zM208.8 48.5h.7v.7h-.7zM202.5 59.8h.7v.7h-.7zM215.0 63.4h.7v.7h-.7zM220.0 85.3h.7v.7h-.7zM208.2 55.3h.7v.7h-.7zM223.5 81.2h.7v.7h-.7zM223.1 55.8h.7v.7h-.7zM205.5 52.4h.7v.7h-.7zM201.6 73.5h.7v.7h-.7zM228.3 46.0h.7v.7h-.7zM214.3 53.2h.7v.7h-.7zM202.3 64.7h.7v.7h-.7zM211.1 100.9h.7v.7h-.7zM210.6 87.5h.7v.7h-.7zM204.7 55.2h.7v.7h-.7zM206.6 69.1h.7v.7h-.7zM194.4 57.2h.7v.7h-.7zM207.6 67.1h.7v.7h-.7zM219.4 58.1h.7v.7h-.7zM210.8 56.0h.7v.7h-.7zM204.9 50.2h.7v.7h-.7zM203.5 49.1h.7v.7h-.7zM208.6 70.2h.7v.7h-.7zM215.6 49.2h.7v.7h-.7zM218.0 84.0h.7v.7h-.7zM192.2 53.5h.7v.7h-.7zM214.0 99.8h.7v.7h-.7zM211.0 49.3h.7v.7h-.7zM220.2 97.5h.7v.7h-.7zM208.5 53.1h.7v.7h-.7zM215.0 102.0h.7v.7h-.7zM213.4 53.5h.7v.7h-.7zM195.1 51.4h.7v.7h-.7zM201.8 58.2h.7v.7h-.7zM204.7 72.7h.7v.7h-.7zM211.4 65.6h.7v.7h-.7zM212.9 61.1h.7v.7h-.7zM228.7 59.9h.7v.7h-.7zM213.4 102.6h.7v.7h-.7zM222.2 49.7h.7v.7h-.7zM199.8 61.6h.7v.7h-.7zM217.8 56.3h.7v.7h-.7zM205.1 72.1h.7v.7h-.7zM217.7 77.0h.7v.7h-.7zM213.1 60.3h.7v.7h-.7zM194.4 59.6h.7v.7h-.7zM229.6 53.1h.7v.7h-.7zM215.7 78.5h.7v.7h-.7zM201.5 63.6h.7v.7h-.7zM211.6 82.6h.7v.7h-.7zM204.4 54.2h.7v.7h-.7zM201.2 61.8h.7v.7h-.7zM214.9 74.1h.7v.7h-.7zM218.9 55.5h.7v.7h-.7zM193.9 48.6h.7v.7h-.7zM209.6 49.6h.7v.7h-.7zM232.0 50.2h.7v.7h-.7zM207.5 76.3h.7v.7h-.7zM218.2 93.5h.7v.7h-.7zM226.1 56.2h.7v.7h-.7zM212.9 85.2h.7v.7h-.7zM209.8 48.5h.7v.7h-.7zM213.1 78.1h.7v.7h-.7zM209.9 70.9h.7v.7h-.7zM211.1 51.7h.7v.7h-.7zM214.2 84.1h.7v.7h-.7zM216.1 100.7h.7v.7h-.7zM201.8 53.1h.7v.7h-.7zM217.4 75.9h.7v.7h-.7zM220.9 96.2h.7v.7h-.7zM218.3 67.9h.7v.7h-.7zM219.1 94.1h.7v.7h-.7zM216.3 92.8h.7v.7h-.7zM219.2 76.1h.7v.7h-.7zM213.0 104.0h.7v.7h-.7zM218.1 79.4h.7v.7h-.7zM214.8 51.7h.7v.7h-.7zM209.8 58.8h.7v.7h-.7zM205.9 56.0h.7v.7h-.7zM206.9 52.7h.7v.7h-.7zM225.7 47.3h.7v.7h-.7zM208.9 62.4h.7v.7h-.7zM228.8 60.3h.7v.7h-.7zM214.5 99.6h.7v.7h-.7zM201.7 51.3h.7v.7h-.7zM206.7 57.5h.7v.7h-.7zM214.2 80.8h.7v.7h-.7zM206.8 67.3h.7v.7h-.7zM198.1 64.2h.7v.7h-.7zM224.8 46.4h.7v.7h-.7zM221.2 101.3h.7v.7h-.7zM198.5 51.2h.7v.7h-.7zM209.9 57.0h.7v.7h-.7zM202.0 57.5h.7v.7h-.7zM214.0 88.3h.7v.7h-.7zM209.9 76.2h.7v.7h-.7zM216.9 54.2h.7v.7h-.7zM198.3 61.1h.7v.7h-.7zM228.6 50.3h.7v.7h-.7zM215.1 61.7h.7v.7h-.7zM204.5 49.0h.7v.7h-.7zM209.8 63.1h.7v.7h-.7zM208.1 99.2h.7v.7h-.7zM220.6 97.4h.7v.7h-.7zM214.5 88.0h.7v.7h-.7zM215.9 51.1h.7v.7h-.7zM219.3 58.1h.7v.7h-.7zM219.3 70.0h.7v.7h-.7zM198.4 67.1h.7v.7h-.7zM223.7 62.1h.7v.7h-.7zM212.7 56.5h.7v.7h-.7zM215.4 91.1h.7v.7h-.7zM214.3 83.4h.7v.7h-.7zM218.2 55.8h.7v.7h-.7zM219.3 67.2h.7v.7h-.7zM204.0 55.4h.7v.7h-.7zM200.5 56.2h.7v.7h-.7zM201.9 63.0h.7v.7h-.7zM212.2 56.1h.7v.7h-.7zM215.2 62.3h.7v.7h-.7zM205.9 62.2h.7v.7h-.7zM209.5 54.1h.7v.7h-.7zM205.6 60.3h.7v.7h-.7zM208.2 55.9h.7v.7h-.7zM214.0 62.7h.7v.7h-.7zM198.3 53.0h.7v.7h-.7zM209.8 56.8h.7v.7h-.7zM215.9 56.8h.7v.7h-.7zM190.0 55.1h.7v.7h-.7zM220.8 69.3h.7v.7h-.7zM190.5 49.4h.7v.7h-.7zM216.4 46.1h.7v.7h-.7zM214.2 80.9h.7v.7h-.7zM207.9 67.0h.7v.7h-.7zM214.4 67.5h.7v.7h-.7zM222.0 81.6h.7v.7h-.7zM203.0 52.9h.7v.7h-.7zM202.7 48.5h.7v.7h-.7zM217.0 52.8h.7v.7h-.7zM214.6 52.2h.7v.7h-.7zM213.7 47.2h.7v.7h-.7zM201.6 47.1h.7v.7h-.7zM209.2 82.8h.7v.7h-.7zM224.9 56.2h.7v.7h-.7zM211.7 58.2h.7v.7h-.7zM216.0 73.8h.7v.7h-.7zM199.8 70.2h.7v.7h-.7zM216.0 55.9h.7v.7h-.7zM228.5 64.9h.7v.7h-.7zM210.7 70.5h.7v.7h-.7zM195.3 63.0h.7v.7h-.7zM214.8 53.3h.7v.7h-.7zM206.5 47.0h.7v.7h-.7zM218.6 72.4h.7v.7h-.7zM217.5 77.1h.7v.7h-.7zM213.8 101.0h.7v.7h-.7zM195.4 50.9h.7v.7h-.7zM201.6 73.5h.7v.7h-.7zM208.6 97.8h.7v.7h-.7zM207.2 47.6h.7v.7h-.7zM224.6 53.1h.7v.7h-.7zM207.6 100.1h.7v.7h-.7zM200.2 46.8h.7v.7h-.7zM211.0 62.0h.7v.7h-.7zM219.8 50.5h.7v.7h-.7zM194.0 49.7h.7v.7h-.7zM211.1 62.3h.7v.7h-.7zM202.9 75.3h.7v.7h-.7zM218.9 76.5h.7v.7h-.7zM217.2 85.5h.7v.7h-.7zM211.9 49.7h.7v.7h-.7zM218.6 76.2h.7v.7h-.7zM207.1 50.4h.7v.7h-.7zM193.9 61.1h.7v.7h-.7zM204.4 63.0h.7v.7h-.7zM219.9 90.8h.7v.7h-.7zM208.7 71.5h.7v.7h-.7zM223.8 47.0h.7v.7h-.7zM206.2 87.6h.7v.7h-.7zM197.8 48.6h.7v.7h-.7zM211.3 65.7h.7v.7h-.7zM211.4 76.8h.7v.7h-.7zM210.6 65.5h.7v.7h-.7zM208.9 61.9h.7v.7h-.7zM218.1 95.8h.7v.7h-.7zM195.6 60.0h.7v.7h-.7zM211.0 55.5h.7v.7h-.7zM219.7 54.9h.7v.7h-.7zM206.5 63.7h.7v.7h-.7zM224.3 59.1h.7v.7h-.7zM216.2 90.3h.7v.7h-.7zM218.1 90.2h.7v.7h-.7zM216.6 101.0h.7v.7h-.7zM216.1 81.0h.7v.7h-.7zM199.5 51.3h.7v.7h-.7zM214.2 55.4h.7v.7h-.7zM214.4 87.9h.7v.7h-.7zM218.9 74.4h.7v.7h-.7zM217.2 61.8h.7v.7h-.7zM219.3 73.7h.7v.7h-.7zM211.6 70.0h.7v.7h-.7zM214.9 49.4h.7v.7h-.7zM217.1 63.4h.7v.7h-.7zM214.0 68.5h.7v.7h-.7zM200.0 57.0h.7v.7h-.7zM190.1 51.9h.7v.7h-.7zM194.2 48.4h.7v.7h-.7zM208.8 61.0h.7v.7h-.7zM205.6 56.7h.7v.7h-.7zM211.9 100.1h.7v.7h-.7zM212.9 48.7h.7v.7h-.7zM226.1 66.0h.7v.7h-.7zM214.3 92.6h.7v.7h-.7zM214.7 89.7h.7v.7h-.7zM201.0 52.7h.7v.7h-.7zM221.1 66.5h.7v.7h-.7zM198.5 48.4h.7v.7h-.7zM215.5 102.3h.7v.7h-.7zM210.1 51.1h.7v.7h-.7zM209.0 50.5h.7v.7h-.7zM204.2 70.8h.7v.7h-.7zM214.1 101.3h.7v.7h-.7zM217.1 66.8h.7v.7h-.7zM219.1 49.1h.7v.7h-.7zM209.7 63.9h.7v.7h-.7zM212.9 71.2h.7v.7h-.7zM215.8 72.3h.7v.7h-.7zM218.5 80.5h.7v.7h-.7zM218.2 54.4h.7v.7h-.7zM195.4 61.6h.7v.7h-.7zM205.3 61.3h.7v.7h-.7zM217.7 63.7h.7v.7h-.7zM203.0 62.5h.7v.7h-.7zM220.1 54.2h.7v.7h-.7zM225.3 47.8h.7v.7h-.7zM215.2 100.2h.7v.7h-.7zM210.6 81.5h.7v.7h-.7zM212.0 77.8h.7v.7h-.7zM217.3 53.1h.7v.7h-.7zM216.7 75.4h.7v.7h-.7zM219.0 68.8h.7v.7h-.7zM226.5 56.1h.7v.7h-.7zM207.7 50.4h.7v.7h-.7zM222.0 56.7h.7v.7h-.7zM207.7 47.7h.7v.7h-.7zM207.3 71.6h.7v.7h-.7zM206.9 71.5h.7v.7h-.7zM190.0 55.5h.7v.7h-.7zM222.0 68.3h.7v.7h-.7zM209.0 96.2h.7v.7h-.7zM213.3 86.3h.7v.7h-.7zM221.1 73.4h.7v.7h-.7zM205.8 53.6h.7v.7h-.7zM201.0 63.7h.7v.7h-.7zM222.5 51.9h.7v.7h-.7zM225.2 67.3h.7v.7h-.7zM216.6 80.4h.7v.7h-.7zM222.8 70.2h.7v.7h-.7zM212.5 65.4h.7v.7h-.7zM203.3 46.4h.7v.7h-.7zM223.6 53.9h.7v.7h-.7zM214.7 93.8h.7v.7h-.7zM212.8 100.9h.7v.7h-.7zM195.0 48.0h.7v.7h-.7zM216.3 56.8h.7v.7h-.7zM217.7 68.6h.7v.7h-.7zM211.0 93.1h.7v.7h-.7zM231.2 49.2h.7v.7h-.7zM218.6 52.1h.7v.7h-.7zM218.6 47.2h.7v.7h-.7zM223.5 70.8h.7v.7h-.7zM207.5 63.6h.7v.7h-.7zM204.5 61.0h.7v.7h-.7zM205.5 87.7h.7v.7h-.7zM218.5 72.0h.7v.7h-.7zM215.1 59.2h.7v.7h-.7zM220.1 94.7h.7v.7h-.7zM209.9 100.5h.7v.7h-.7zM218.1 56.1h.7v.7h-.7zM200.1 54.0h.7v.7h-.7zM212.1 58.3h.7v.7h-.7zM199.6 66.1h.7v.7h-.7zM197.8 48.6h.7v.7h-.7zM229.1 58.6h.7v.7h-.7zM215.7 89.8h.7v.7h-.7zM215.8 104.0h.7v.7h-.7zM199.6 47.2h.7v.7h-.7zM205.8 46.2h.7v.7h-.7zM211.7 70.1h.7v.7h-.7zM212.6 77.0h.7v.7h-.7zM192.6 59.2h.7v.7h-.7zM212.4 101.7h.7v.7h-.7zM223.7 68.6h.7v.7h-.7zM224.2 52.7h.7v.7h-.7zM209.1 51.6h.7v.7h-.7zM213.0 49.3h.7v.7h-.7zM204.9 58.8h.7v.7h-.7zM210.3 48.7h.7v.7h-.7zM213.0 72.4h.7v.7h-.7zM207.2 73.3h.7v.7h-.7zM203.9 54.6h.7v.7h-.7zM207.6 100.5h.7v.7h-.7zM207.9 77.6h.7v.7h-.7zM216.2 63.7h.7v.7h-.7zM225.1 47.8h.7v.7h-.7zM203.6 59.2h.7v.7h-.7zM223.5 44.7h.7v.7h-.7zM213.3 78.6h.7v.7h-.7zM191.7 56.2h.7v.7h-.7zM194.0 46.8h.7v.7h-.7zM221.8 50.3h.7v.7h-.7zM212.4 50.2h.7v.7h-.7zM212.0 49.7h.7v.7h-.7zM215.4 48.5h.7v.7h-.7zM221.4 48.6h.7v.7h-.7zM211.5 80.3h.7v.7h-.7zM218.3 74.5h.7v.7h-.7zM203.9 52.3h.7v.7h-.7zM213.6 80.0h.7v.7h-.7zM212.6 51.8h.7v.7h-.7zM192.0 50.3h.7v.7h-.7zM204.7 48.1h.7v.7h-.7zM216.1 83.8h.7v.7h-.7zM229.3 59.3h.7v.7h-.7zM204.5 52.5h.7v.7h-.7zM219.2 55.3h.7v.7h-.7zM201.3 58.9h.7v.7h-.7zM209.2 54.1h.7v.7h-.7zM210.6 78.7h.7v.7h-.7zM205.7 64.0h.7v.7h-.7zM213.4 53.9h.7v.7h-.7zM196.9 53.0h.7v.7h-.7zM205.0 59.8h.7v.7h-.7zM211.5 71.3h.7v.7h-.7zM214.8 63.0h.7v.7h-.7zM209.0 76.6h.7v.7h-.7zM220.4 50.6h.7v.7h-.7zM215.3 65.9h.7v.7h-.7zM214.9 78.2h.7v.7h-.7zM216.5 88.0h.7v.7h-.7zM219.5 46.6h.7v.7h-.7zM215.4 58.1h.7v.7h-.7zM212.2 54.6h.7v.7h-.7zM212.1 73.7h.7v.7h-.7zM213.6 65.3h.7v.7h-.7zM192.1 61.5h.7v.7h-.7zM216.4 51.0h.7v.7h-.7zM199.9 61.4h.7v.7h-.7zM221.1 99.6h.7v.7h-.7zM212.9 52.7h.7v.7h-.7zM198.9 51.0h.7v.7h-.7zM223.6 66.4h.7v.7h-.7zM194.8 58.5h.7v.7h-.7zM218.2 50.2h.7v.7h-.7zM219.3 87.0h.7v.7h-.7zM210.3 56.5h.7v.7h-.7zM219.2 103.5h.7v.7h-.7zM219.1 74.2h.7v.7h-.7zM220.0 53.3h.7v.7h-.7zM224.2 72.7h.7v.7h-.7zM222.1 51.8h.7v.7h-.7zM222.4 55.3h.7v.7h-.7zM211.4 50.8h.7v.7h-.7zM205.2 65.3h.7v.7h-.7zM215.0 86.3h.7v.7h-.7zM219.8 71.1h.7v.7h-.7zM219.6 57.1h.7v.7h-.7zM230.1 54.3h.7v.7h-.7zM214.8 49.0h.7v.7h-.7zM225.0 48.5h.7v.7h-.7zM220.6 55.1h.7v.7h-.7zM193.9 54.9h.7v.7h-.7zM203.7 68.9h.7v.7h-.7zM211.2 53.2h.7v.7h-.7zM203.5 66.0h.7v.7h-.7zM218.1 47.5h.7v.7h-.7zM202.3 53.2h.7v.7h-.7zM214.7 95.3h.7v.7h-.7zM206.2 47.8h.7v.7h-.7zM201.1 58.3h.7v.7h-.7zM220.0 59.6h.7v.7h-.7zM206.7 65.6h.7v.7h-.7zM206.1 49.0h.7v.7h-.7zM220.2 86.7h.7v.7h-.7zM217.3 100.0h.7v.7h-.7zM211.0 49.2h.7v.7h-.7zM217.5 46.3h.7v.7h-.7zM209.5 69.7h.7v.7h-.7zM214.9 65.7h.7v.7h-.7zM216.4 50.8h.7v.7h-.7zM198.5 55.7h.7v.7h-.7zM213.4 47.0h.7v.7h-.7zM209.4 88.6h.7v.7h-.7zM190.4 58.6h.7v.7h-.7zM212.7 49.7h.7v.7h-.7zM202.6 58.2h.7v.7h-.7zM223.8 48.7h.7v.7h-.7zM213.5 51.1h.7v.7h-.7zM223.9 67.2h.7v.7h-.7zM223.9 58.6h.7v.7h-.7zM214.3 70.0h.7v.7h-.7zM201.7 46.8h.7v.7h-.7zM216.3 53.3h.7v.7h-.7zM215.4 59.7h.7v.7h-.7zM203.7 57.9h.7v.7h-.7zM206.8 65.8h.7v.7h-.7zM203.3 66.3h.7v.7h-.7zM218.3 92.0h.7v.7h-.7zM225.1 64.3h.7v.7h-.7zM205.1 50.8h.7v.7h-.7zM224.3 61.7h.7v.7h-.7zM222.1 58.0h.7v.7h-.7zM215.8 88.9h.7v.7h-.7zM206.3 50.8h.7v.7h-.7zM216.9 49.4h.7v.7h-.7zM215.2 57.1h.7v.7h-.7zM220.9 51.0h.7v.7h-.7zM212.6 77.5h.7v.7h-.7zM216.6 49.9h.7v.7h-.7zM218.1 75.0h.7v.7h-.7zM202.6 56.8h.7v.7h-.7zM215.7 57.3h.7v.7h-.7zM217.3 103.4h.7v.7h-.7zM200.6 57.1h.7v.7h-.7zM221.8 53.9h.7v.7h-.7zM217.4 83.5h.7v.7h-.7zM224.9 61.8h.7v.7h-.7zM218.6 88.4h.7v.7h-.7zM212.4 83.6h.7v.7h-.7zM197.0 66.1h.7v.7h-.7zM210.3 61.1h.7v.7h-.7zM209.5 66.4h.7v.7h-.7zM210.2 46.8h.7v.7h-.7zM216.9 60.2h.7v.7h-.7zM220.8 67.8h.7v.7h-.7zM214.6 63.9h.7v.7h-.7zM211.9 87.8h.7v.7h-.7zM210.0 61.3h.7v.7h-.7zM210.5 72.5h.7v.7h-.7zM209.9 100.0h.7v.7h-.7zM204.3 67.1h.7v.7h-.7zM223.2 77.6h.7v.7h-.7zM203.7 52.5h.7v.7h-.7zM222.7 60.8h.7v.7h-.7zM211.1 46.3h.7v.7h-.7zM225.7 68.4h.7v.7h-.7zM214.0 62.4h.7v.7h-.7zM199.4 58.1h.7v.7h-.7zM212.9 85.7h.7v.7h-.7zM200.9 53.6h.7v.7h-.7zM211.1 89.6h.7v.7h-.7zM213.7 52.6h.7v.7h-.7zM217.8 86.1h.7v.7h-.7zM216.9 91.6h.7v.7h-.7zM212.4 77.6h.7v.7h-.7zM213.6 50.9h.7v.7h-.7zM225.3 68.5h.7v.7h-.7zM220.0 59.9h.7v.7h-.7zM213.4 78.3h.7v.7h-.7zM211.1 65.5h.7v.7h-.7zM208.7 69.6h.7v.7h-.7zM219.4 52.6h.7v.7h-.7zM210.6 66.8h.7v.7h-.7zM208.1 67.2h.7v.7h-.7zM198.9 55.9h.7v.7h-.7zM216.9 72.0h.7v.7h-.7zM216.1 100.2h.7v.7h-.7zM211.2 82.6h.7v.7h-.7zM203.5 49.8h.7v.7h-.7zM215.5 61.7h.7v.7h-.7zM213.9 71.3h.7v.7h-.7zM199.7 68.6h.7v.7h-.7zM224.1 47.4h.7v.7h-.7zM214.2 81.2h.7v.7h-.7zM206.1 55.1h.7v.7h-.7zM218.4 97.0h.7v.7h-.7zM213.5 105.5h.7v.7h-.7zM220.8 68.5h.7v.7h-.7zM214.7 51.1h.7v.7h-.7zM216.2 53.3h.7v.7h-.7zM214.6 59.7h.7v.7h-.7zM211.4 59.5h.7v.7h-.7zM220.7 95.5h.7v.7h-.7zM226.8 68.7h.7v.7h-.7zM217.5 63.4h.7v.7h-.7zM192.0 52.9h.7v.7h-.7zM195.6 55.0h.7v.7h-.7zM210.7 53.7h.7v.7h-.7zM230.0 50.9h.7v.7h-.7zM211.2 77.7h.7v.7h-.7zM216.9 46.2h.7v.7h-.7zM203.8 73.0h.7v.7h-.7zM220.4 48.5h.7v.7h-.7zM221.4 70.5h.7v.7h-.7zM202.5 59.7h.7v.7h-.7zM214.4 91.9h.7v.7h-.7zM209.3 90.6h.7v.7h-.7zM214.2 98.3h.7v.7h-.7zM217.4 67.8h.7v.7h-.7zM214.8 51.2h.7v.7h-.7zM210.3 91.9h.7v.7h-.7zM214.3 73.5h.7v.7h-.7zM215.5 47.5h.7v.7h-.7zM219.3 102.5h.7v.7h-.7zM202.3 58.5h.7v.7h-.7zM219.4 50.3h.7v.7h-.7zM215.8 104.9h.7v.7h-.7zM227.3 64.7h.7v.7h-.7zM210.7 73.3h.7v.7h-.7zM206.2 88.8h.7v.7h-.7zM217.1 73.8h.7v.7h-.7zM189.5 57.9h.7v.7h-.7zM212.8 48.9h.7v.7h-.7zM216.0 85.4h.7v.7h-.7zM221.2 56.9h.7v.7h-.7zM213.0 69.7h.7v.7h-.7zM201.8 63.8h.7v.7h-.7zM219.4 78.7h.7v.7h-.7zM212.6 86.0h.7v.7h-.7zM204.0 63.0h.7v.7h-.7zM211.3 83.6h.7v.7h-.7zM224.3 47.4h.7v.7h-.7zM193.3 48.7h.7v.7h-.7zM224.3 54.9h.7v.7h-.7zM215.0 92.8h.7v.7h-.7zM223.1 68.3h.7v.7h-.7zM198.3 56.9h.7v.7h-.7zM216.6 61.3h.7v.7h-.7zM203.1 63.1h.7v.7h-.7zM217.7 53.1h.7v.7h-.7zM205.1 53.8h.7v.7h-.7zM204.1 54.4h.7v.7h-.7zM217.1 52.1h.7v.7h-.7zM217.1 57.6h.7v.7h-.7zM220.9 66.8h.7v.7h-.7zM220.8 61.1h.7v.7h-.7zM208.5 53.5h.7v.7h-.7zM203.3 69.2h.7v.7h-.7zM207.6 56.6h.7v.7h-.7zM211.7 62.5h.7v.7h-.7zM218.3 56.6h.7v.7h-.7zM200.2 62.4h.7v.7h-.7zM215.1 73.4h.7v.7h-.7zM199.8 55.6h.7v.7h-.7zM215.4 52.8h.7v.7h-.7zM220.5 69.1h.7v.7h-.7zM227.0 61.4h.7v.7h-.7zM208.2 74.7h.7v.7h-.7zM224.3 64.3h.7v.7h-.7zM229.2 59.4h.7v.7h-.7zM195.8 50.3h.7v.7h-.7zM221.7 67.0h.7v.7h-.7zM229.3 52.7h.7v.7h-.7zM214.3 55.1h.7v.7h-.7zM227.0 60.1h.7v.7h-.7zM207.7 65.5h.7v.7h-.7zM203.8 57.1h.7v.7h-.7zM224.2 51.7h.7v.7h-.7zM207.8 51.9h.7v.7h-.7zM220.8 51.7h.7v.7h-.7zM221.2 61.8h.7v.7h-.7zM222.5 80.7h.7v.7h-.7zM208.9 79.7h.7v.7h-.7zM216.5 68.6h.7v.7h-.7zM198.2 52.1h.7v.7h-.7zM217.7 59.5h.7v.7h-.7zM209.0 70.9h.7v.7h-.7zM203.6 55.0h.7v.7h-.7zM227.0 46.8h.7v.7h-.7zM213.0 62.7h.7v.7h-.7zM219.3 62.5h.7v.7h-.7zM210.8 72.4h.7v.7h-.7zM215.6 76.0h.7v.7h-.7zM202.2 50.6h.7v.7h-.7zM215.6 68.2h.7v.7h-.7zM222.5 60.7h.7v.7h-.7zM219.0 64.2h.7v.7h-.7zM213.8 96.6h.7v.7h-.7zM209.2 68.5h.7v.7h-.7zM212.0 84.4h.7v.7h-.7zM220.6 67.0h.7v.7h-.7zM207.3 54.2h.7v.7h-.7zM219.9 64.3h.7v.7h-.7zM217.0 51.7h.7v.7h-.7zM212.6 86.0h.7v.7h-.7zM210.0 85.9h.7v.7h-.7zM215.0 52.2h.7v.7h-.7zM210.2 95.7h.7v.7h-.7zM220.7 49.1h.7v.7h-.7zM218.4 52.8h.7v.7h-.7zM217.6 63.4h.7v.7h-.7zM219.5 56.1h.7v.7h-.7zM197.7 56.8h.7v.7h-.7zM214.7 62.8h.7v.7h-.7zM215.5 52.7h.7v.7h-.7zM192.6 55.5h.7v.7h-.7zM218.7 51.1h.7v.7h-.7zM208.6 67.9h.7v.7h-.7zM212.5 93.1h.7v.7h-.7zM206.7 48.7h.7v.7h-.7zM210.5 67.7h.7v.7h-.7zM216.1 84.5h.7v.7h-.7zM225.3 57.6h.7v.7h-.7zM212.5 48.9h.7v.7h-.7zM228.7 54.8h.7v.7h-.7zM209.0 72.8h.7v.7h-.7zM199.3 46.5h.7v.7h-.7zM219.9 54.8h.7v.7h-.7zM225.2 49.5h.7v.7h-.7zM214.1 58.9h.7v.7h-.7zM220.8 98.1h.7v.7h-.7zM206.2 66.5h.7v.7h-.7zM209.2 72.4h.7v.7h-.7zM215.5 85.8h.7v.7h-.7zM216.5 64.9h.7v.7h-.7zM224.1 53.2h.7v.7h-.7zM212.4 82.9h.7v.7h-.7zM217.4 46.6h.7v.7h-.7zM220.4 94.5h.7v.7h-.7zM213.6 60.9h.7v.7h-.7zM210.7 51.2h.7v.7h-.7zM214.5 69.7h.7v.7h-.7zM207.7 78.5h.7v.7h-.7zM219.2 72.6h.7v.7h-.7zM208.5 60.0h.7v.7h-.7zM216.4 78.4h.7v.7h-.7zM222.0 47.2h.7v.7h-.7zM204.5 65.3h.7v.7h-.7zM215.7 54.9h.7v.7h-.7zM216.6 68.7h.7v.7h-.7zM204.4 74.6h.7v.7h-.7zM209.6 69.3h.7v.7h-.7zM216.4 64.7h.7v.7h-.7zM221.4 83.2h.7v.7h-.7zM211.4 85.1h.7v.7h-.7zM213.1 71.9h.7v.7h-.7zM221.5 87.0h.7v.7h-.7zM200.8 56.2h.7v.7h-.7zM207.0 70.5h.7v.7h-.7zM209.5 75.3h.7v.7h-.7zM206.8 53.5h.7v.7h-.7zM204.5 48.0h.7v.7h-.7zM216.4 48.6h.7v.7h-.7zM215.0 58.0h.7v.7h-.7zM214.0 52.8h.7v.7h-.7zM211.6 56.6h.7v.7h-.7zM217.7 49.5h.7v.7h-.7zM210.5 58.2h.7v.7h-.7zM214.9 68.0h.7v.7h-.7zM206.3 56.4h.7v.7h-.7zM202.6 58.2h.7v.7h-.7zM219.8 65.5h.7v.7h-.7zM213.4 99.7h.7v.7h-.7zM212.7 86.8h.7v.7h-.7zM230.8 57.5h.7v.7h-.7zM208.4 63.6h.7v.7h-.7zM210.4 59.8h.7v.7h-.7zM195.6 54.1h.7v.7h-.7zM216.8 76.0h.7v.7h-.7zM227.8 59.0h.7v.7h-.7zM213.9 84.3h.7v.7h-.7zM203.8 61.4h.7v.7h-.7zM217.3 68.4h.7v.7h-.7zM200.9 49.9h.7v.7h-.7zM225.1 61.5h.7v.7h-.7zM217.3 70.0h.7v.7h-.7zM211.7 83.7h.7v.7h-.7zM220.1 72.2h.7v.7h-.7zM219.9 66.6h.7v.7h-.7zM217.8 84.0h.7v.7h-.7zM214.4 58.0h.7v.7h-.7zM219.6 50.7h.7v.7h-.7zM218.8 106.9h.7v.7h-.7zM213.9 70.3h.7v.7h-.7zM208.3 63.5h.7v.7h-.7zM207.2 58.0h.7v.7h-.7zM204.7 81.3h.7v.7h-.7zM212.0 59.6h.7v.7h-.7zM210.1 53.4h.7v.7h-.7zM201.4 60.8h.7v.7h-.7zM211.1 48.2h.7v.7h-.7zM198.8 52.4h.7v.7h-.7zM220.3 59.5h.7v.7h-.7zM205.3 69.3h.7v.7h-.7zM217.9 65.6h.7v.7h-.7zM224.5 54.6h.7v.7h-.7zM221.3 78.1h.7v.7h-.7zM207.6 54.0h.7v.7h-.7zM217.3 88.2h.7v.7h-.7zM216.3 65.8h.7v.7h-.7zM217.7 66.7h.7v.7h-.7zM212.4 98.1h.7v.7h-.7zM224.4 51.5h.7v.7h-.7zM205.7 49.7h.7v.7h-.7zM206.5 62.5h.7v.7h-.7zM211.7 48.6h.7v.7h-.7zM206.6 58.1h.7v.7h-.7zM217.1 54.7h.7v.7h-.7zM209.4 68.2h.7v.7h-.7zM218.9 62.0h.7v.7h-.7zM208.3 94.3h.7v.7h-.7zM196.0 48.7h.7v.7h-.7zM221.2 47.1h.7v.7h-.7zM216.0 50.4h.7v.7h-.7zM212.0 65.2h.7v.7h-.7zM191.4 53.9h.7v.7h-.7zM206.6 61.8h.7v.7h-.7zM211.7 70.8h.7v.7h-.7zM212.8 52.2h.7v.7h-.7zM213.9 98.4h.7v.7h-.7zM218.6 68.1h.7v.7h-.7zM224.0 55.4h.7v.7h-.7zM209.5 79.3h.7v.7h-.7zM202.3 51.6h.7v.7h-.7zM211.5 69.5h.7v.7h-.7zM220.5 88.3h.7v.7h-.7zM205.8 72.0h.7v.7h-.7zM209.9 85.0h.7v.7h-.7z" fill="#b8b8b8"/>
<path d="M207.7 35.2h.75v.75h-.75zM209.9 34.8h.75v.75h-.75zM206.2 29.3h.75v.75h-.75zM222.2 30.2h.75v.75h-.75zM194.0 36.7h.75v.75h-.75zM222.4 40.4h.75v.75h-.75zM205.3 43.8h.75v.75h-.75zM208.9 39.1h.75v.75h-.75zM207.7 39.1h.75v.75h-.75zM200.5 33.3h.75v.75h-.75zM190.2 46.8h.75v.75h-.75zM218.2 39.8h.75v.75h-.75zM207.8 31.3h.75v.75h-.75zM207.6 32.2h.75v.75h-.75zM221.7 39.3h.75v.75h-.75zM188.4 45.2h.75v.75h-.75zM214.7 42.0h.75v.75h-.75zM221.0 38.5h.75v.75h-.75zM203.2 38.5h.75v.75h-.75zM191.3 42.1h.75v.75h-.75zM196.6 37.5h.75v.75h-.75zM207.1 43.6h.75v.75h-.75zM194.9 40.1h.75v.75h-.75zM205.2 35.4h.75v.75h-.75zM197.2 37.9h.75v.75h-.75zM198.9 32.7h.75v.75h-.75zM211.1 28.2h.75v.75h-.75zM208.0 35.1h.75v.75h-.75zM200.0 40.5h.75v.75h-.75zM207.0 36.8h.75v.75h-.75zM227.3 38.0h.75v.75h-.75zM210.1 34.4h.75v.75h-.75zM221.1 34.8h.75v.75h-.75zM200.8 38.4h.75v.75h-.75zM207.4 33.0h.75v.75h-.75zM189.9 41.5h.75v.75h-.75zM210.6 29.6h.75v.75h-.75zM189.2 44.1h.75v.75h-.75zM221.9 40.6h.75v.75h-.75zM203.8 35.6h.75v.75h-.75zM207.2 30.4h.75v.75h-.75zM192.3 39.8h.75v.75h-.75zM206.7 30.3h.75v.75h-.75zM211.2 29.7h.75v.75h-.75zM199.1 40.1h.75v.75h-.75zM215.9 44.0h.75v.75h-.75zM209.9 31.8h.75v.75h-.75zM218.1 36.5h.75v.75h-.75zM197.4 45.9h.75v.75h-.75zM222.7 38.8h.75v.75h-.75zM219.4 38.1h.75v.75h-.75zM217.4 39.4h.75v.75h-.75zM187.4 46.1h.75v.75h-.75zM198.8 40.6h.75v.75h-.75zM212.8 26.9h.75v.75h-.75zM208.6 35.1h.75v.75h-.75zM213.7 48.9h.75v.75h-.75zM208.5 26.3h.75v.75h-.75zM193.3 45.7h.75v.75h-.75zM209.3 40.0h.75v.75h-.75zM224.1 43.6h.75v.75h-.75zM219.3 39.7h.75v.75h-.75zM201.9 43.8h.75v.75h-.75zM193.1 35.8h.75v.75h-.75zM201.3 40.1h.75v.75h-.75zM188.7 44.9h.75v.75h-.75zM215.9 41.8h.75v.75h-.75zM214.8 40.2h.75v.75h-.75zM213.4 37.1h.75v.75h-.75zM207.2 29.1h.75v.75h-.75zM191.1 47.0h.75v.75h-.75zM210.2 33.0h.75v.75h-.75zM223.5 40.3h.75v.75h-.75zM208.5 30.5h.75v.75h-.75zM212.7 32.5h.75v.75h-.75zM220.8 33.7h.75v.75h-.75zM187.6 44.7h.75v.75h-.75zM200.9 29.8h.75v.75h-.75zM204.8 42.4h.75v.75h-.75zM214.3 34.2h.75v.75h-.75zM219.7 35.9h.75v.75h-.75zM190.4 48.6h.75v.75h-.75zM203.4 36.6h.75v.75h-.75zM221.1 38.5h.75v.75h-.75zM209.6 31.6h.75v.75h-.75zM219.4 30.9h.75v.75h-.75zM208.9 34.8h.75v.75h-.75zM219.7 30.3h.75v.75h-.75zM213.8 33.7h.75v.75h-.75zM217.4 31.3h.75v.75h-.75zM222.1 36.3h.75v.75h-.75zM207.7 33.4h.75v.75h-.75zM208.0 38.5h.75v.75h-.75zM201.3 42.6h.75v.75h-.75zM207.8 28.3h.75v.75h-.75zM187.6 45.5h.75v.75h-.75zM211.7 39.4h.75v.75h-.75zM195.6 38.1h.75v.75h-.75zM222.8 41.4h.75v.75h-.75zM207.4 37.4h.75v.75h-.75zM202.5 31.7h.75v.75h-.75zM222.9 39.1h.75v.75h-.75zM201.5 35.3h.75v.75h-.75zM195.2 40.9h.75v.75h-.75zM204.8 44.5h.75v.75h-.75zM204.5 36.0h.75v.75h-.75zM206.4 40.2h.75v.75h-.75zM196.0 42.8h.75v.75h-.75zM199.7 30.7h.75v.75h-.75zM215.9 33.0h.75v.75h-.75zM210.3 35.1h.75v.75h-.75zM203.6 31.3h.75v.75h-.75zM210.4 36.4h.75v.75h-.75zM212.0 30.3h.75v.75h-.75zM196.6 40.5h.75v.75h-.75zM218.5 39.3h.75v.75h-.75zM192.8 47.6h.75v.75h-.75zM212.0 36.1h.75v.75h-.75zM215.4 38.8h.75v.75h-.75zM223.6 45.2h.75v.75h-.75zM207.9 28.1h.75v.75h-.75zM215.5 38.9h.75v.75h-.75zM213.8 32.1h.75v.75h-.75zM217.9 40.8h.75v.75h-.75zM188.0 42.1h.75v.75h-.75zM212.4 27.6h.75v.75h-.75zM204.9 31.0h.75v.75h-.75zM194.4 43.2h.75v.75h-.75zM214.5 33.0h.75v.75h-.75zM206.6 43.1h.75v.75h-.75zM218.5 45.0h.75v.75h-.75zM196.1 48.3h.75v.75h-.75zM216.4 38.2h.75v.75h-.75zM199.7 37.8h.75v.75h-.75zM206.5 43.5h.75v.75h-.75zM197.4 33.0h.75v.75h-.75zM210.9 27.2h.75v.75h-.75zM218.8 35.6h.75v.75h-.75zM214.2 30.5h.75v.75h-.75zM223.5 39.5h.75v.75h-.75zM198.6 39.4h.75v.75h-.75zM196.9 43.3h.75v.75h-.75zM197.0 42.0h.75v.75h-.75zM202.8 31.1h.75v.75h-.75zM203.5 45.1h.75v.75h-.75zM205.9 44.8h.75v.75h-.75zM204.1 41.2h.75v.75h-.75zM209.8 30.7h.75v.75h-.75zM205.4 31.6h.75v.75h-.75zM210.3 35.7h.75v.75h-.75zM209.4 36.8h.75v.75h-.75zM198.4 37.5h.75v.75h-.75zM214.4 32.3h.75v.75h-.75zM187.3 45.6h.75v.75h-.75zM224.7 40.7h.75v.75h-.75zM197.2 36.7h.75v.75h-.75zM209.2 31.8h.75v.75h-.75zM203.5 31.3h.75v.75h-.75zM194.8 42.2h.75v.75h-.75zM200.8 36.4h.75v.75h-.75zM222.3 34.9h.75v.75h-.75zM210.2 33.9h.75v.75h-.75zM203.0 45.4h.75v.75h-.75zM200.8 37.5h.75v.75h-.75zM196.5 48.3h.75v.75h-.75zM205.3 34.8h.75v.75h-.75zM197.5 42.1h.75v.75h-.75zM192.1 43.7h.75v.75h-.75zM218.5 30.2h.75v.75h-.75zM202.4 36.4h.75v.75h-.75zM209.7 30.0h.75v.75h-.75zM188.3 46.8h.75v.75h-.75zM215.7 36.1h.75v.75h-.75zM200.3 33.2h.75v.75h-.75zM210.8 35.4h.75v.75h-.75zM188.9 45.1h.75v.75h-.75zM204.6 33.9h.75v.75h-.75zM215.0 31.9h.75v.75h-.75zM210.9 35.3h.75v.75h-.75zM207.7 45.3h.75v.75h-.75zM207.3 37.7h.75v.75h-.75zM199.4 40.3h.75v.75h-.75zM218.9 39.6h.75v.75h-.75zM193.9 46.3h.75v.75h-.75zM198.1 36.6h.75v.75h-.75zM200.7 31.9h.75v.75h-.75zM224.1 39.3h.75v.75h-.75zM191.5 46.4h.75v.75h-.75zM198.8 31.6h.75v.75h-.75zM208.2 32.2h.75v.75h-.75zM217.0 39.5h.75v.75h-.75zM203.4 42.1h.75v.75h-.75zM213.5 33.4h.75v.75h-.75zM195.1 38.6h.75v.75h-.75zM209.3 43.8h.75v.75h-.75zM194.8 38.0h.75v.75h-.75zM213.2 41.9h.75v.75h-.75zM221.3 39.9h.75v.75h-.75zM187.6 44.4h.75v.75h-.75zM198.3 42.5h.75v.75h-.75zM216.2 29.9h.75v.75h-.75zM217.6 34.8h.75v.75h-.75zM210.6 28.6h.75v.75h-.75zM225.4 41.0h.75v.75h-.75zM212.8 34.2h.75v.75h-.75zM210.9 42.1h.75v.75h-.75zM208.7 41.4h.75v.75h-.75zM194.7 47.6h.75v.75h-.75zM220.5 30.1h.75v.75h-.75zM205.0 45.7h.75v.75h-.75zM216.9 40.4h.75v.75h-.75zM218.6 36.4h.75v.75h-.75zM215.6 29.0h.75v.75h-.75zM217.7 35.0h.75v.75h-.75zM211.1 34.2h.75v.75h-.75zM199.7 37.3h.75v.75h-.75zM207.6 43.2h.75v.75h-.75zM210.5 28.0h.75v.75h-.75zM189.3 43.4h.75v.75h-.75zM212.9 31.3h.75v.75h-.75zM198.4 40.5h.75v.75h-.75zM207.4 34.7h.75v.75h-.75zM187.5 43.3h.75v.75h-.75zM191.2 44.4h.75v.75h-.75zM207.3 36.4h.75v.75h-.75zM199.4 33.2h.75v.75h-.75zM205.8 36.2h.75v.75h-.75zM199.4 32.3h.75v.75h-.75zM215.4 43.7h.75v.75h-.75zM218.2 48.0h.75v.75h-.75zM204.5 34.8h.75v.75h-.75zM205.0 46.8h.75v.75h-.75zM194.7 38.9h.75v.75h-.75zM206.2 30.7h.75v.75h-.75zM215.4 30.3h.75v.75h-.75zM208.9 29.0h.75v.75h-.75zM222.1 41.1h.75v.75h-.75zM209.5 33.6h.75v.75h-.75zM190.4 44.2h.75v.75h-.75zM208.5 35.0h.75v.75h-.75zM190.4 45.1h.75v.75h-.75zM194.2 43.2h.75v.75h-.75zM223.7 31.3h.75v.75h-.75zM203.3 45.0h.75v.75h-.75zM223.0 37.2h.75v.75h-.75zM201.4 38.1h.75v.75h-.75zM208.6 42.3h.75v.75h-.75zM219.2 30.8h.75v.75h-.75zM218.2 33.8h.75v.75h-.75zM208.0 41.6h.75v.75h-.75zM211.8 42.5h.75v.75h-.75zM213.8 41.8h.75v.75h-.75zM207.9 30.2h.75v.75h-.75zM197.9 44.6h.75v.75h-.75zM207.0 39.4h.75v.75h-.75zM220.0 43.6h.75v.75h-.75zM198.7 42.4h.75v.75h-.75zM211.1 29.3h.75v.75h-.75zM197.8 35.3h.75v.75h-.75zM213.5 38.2h.75v.75h-.75zM202.7 32.1h.75v.75h-.75zM213.9 31.1h.75v.75h-.75zM206.4 36.5h.75v.75h-.75zM215.6 42.2h.75v.75h-.75zM197.8 41.8h.75v.75h-.75zM213.6 29.2h.75v.75h-.75zM193.6 45.6h.75v.75h-.75zM208.9 40.5h.75v.75h-.75zM197.4 39.7h.75v.75h-.75zM197.5 39.8h.75v.75h-.75zM217.6 35.6h.75v.75h-.75zM202.2 43.0h.75v.75h-.75zM192.4 45.6h.75v.75h-.75zM202.0 37.6h.75v.75h-.75zM226.6 35.1h.75v.75h-.75zM216.0 36.4h.75v.75h-.75zM221.1 36.2h.75v.75h-.75zM222.2 38.4h.75v.75h-.75zM209.7 27.0h.75v.75h-.75zM217.6 42.3h.75v.75h-.75zM213.3 37.1h.75v.75h-.75zM209.4 42.5h.75v.75h-.75zM220.3 40.7h.75v.75h-.75zM195.0 42.6h.75v.75h-.75zM206.9 37.5h.75v.75h-.75zM209.2 37.4h.75v.75h-.75zM204.2 35.2h.75v.75h-.75zM219.5 38.5h.75v.75h-.75zM212.9 35.4h.75v.75h-.75zM188.4 47.6h.75v.75h-.75zM226.8 40.3h.75v.75h-.75zM199.4 45.6h.75v.75h-.75zM221.5 36.9h.75v.75h-.75zM217.3 40.2h.75v.75h-.75zM220.4 43.4h.75v.75h-.75zM211.7 31.8h.75v.75h-.75zM206.7 28.3h.75v.75h-.75zM203.4 28.2h.75v.75h-.75zM203.5 36.3h.75v.75h-.75zM220.2 30.3h.75v.75h-.75zM220.3 33.6h.75v.75h-.75zM200.9 30.2h.75v.75h-.75zM204.8 35.2h.75v.75h-.75zM203.0 44.3h.75v.75h-.75zM205.2 34.5h.75v.75h-.75zM212.1 33.2h.75v.75h-.75zM219.4 39.4h.75v.75h-.75zM213.1 36.0h.75v.75h-.75zM193.6 43.5h.75v.75h-.75zM221.6 35.9h.75v.75h-.75zM215.7 40.8h.75v.75h-.75zM211.0 43.3h.75v.75h-.75zM205.1 47.8h.75v.75h-.75zM213.5 35.4h.75v.75h-.75zM215.4 39.1h.75v.75h-.75zM214.3 29.2h.75v.75h-.75zM210.9 38.7h.75v.75h-.75zM200.4 30.0h.75v.75h-.75zM203.2 37.8h.75v.75h-.75zM207.2 36.5h.75v.75h-.75zM199.4 34.2h.75v.75h-.75zM206.3 32.7h.75v.75h-.75zM212.6 36.7h.75v.75h-.75zM209.0 39.8h.75v.75h-.75zM208.5 33.1h.75v.75h-.75zM218.8 34.2h.75v.75h-.75zM195.6 42.0h.75v.75h-.75zM198.9 40.5h.75v.75h-.75zM195.1 44.5h.75v.75h-.75zM211.8 28.6h.75v.75h-.75zM207.1 37.6h.75v.75h-.75zM189.4 43.3h.75v.75h-.75zM215.8 44.2h.75v.75h-.75zM211.3 31.3h.75v.75h-.75zM206.5 31.9h.75v.75h-.75zM214.4 26.8h.75v.75h-.75zM225.3 41.1h.75v.75h-.75zM198.5 33.0h.75v.75h-.75zM200.2 36.8h.75v.75h-.75zM206.4 32.2h.75v.75h-.75zM214.7 46.7h.75v.75h-.75zM216.1 30.9h.75v.75h-.75zM195.1 41.9h.75v.75h-.75zM205.2 46.0h.75v.75h-.75zM205.9 31.7h.75v.75h-.75zM187.0 46.4h.75v.75h-.75zM210.9 34.6h.75v.75h-.75zM223.9 38.8h.75v.75h-.75zM215.7 28.0h.75v.75h-.75zM196.4 33.7h.75v.75h-.75zM200.8 43.0h.75v.75h-.75zM203.7 29.2h.75v.75h-.75zM210.3 31.7h.75v.75h-.75zM217.4 27.3h.75v.75h-.75zM224.3 38.7h.75v.75h-.75zM201.1 29.3h.75v.75h-.75zM218.4 36.2h.75v.75h-.75zM215.0 28.6h.75v.75h-.75zM200.6 35.9h.75v.75h-.75zM202.1 32.0h.75v.75h-.75zM219.9 34.8h.75v.75h-.75zM198.7 40.7h.75v.75h-.75zM205.8 42.7h.75v.75h-.75zM216.5 39.6h.75v.75h-.75zM223.4 43.8h.75v.75h-.75zM191.2 45.1h.75v.75h-.75zM202.6 31.6h.75v.75h-.75zM211.8 40.9h.75v.75h-.75zM216.3 37.7h.75v.75h-.75zM216.5 29.4h.75v.75h-.75zM187.3 44.2h.75v.75h-.75zM221.1 43.8h.75v.75h-.75zM210.0 30.8h.75v.75h-.75zM211.6 33.4h.75v.75h-.75zM197.1 44.7h.75v.75h-.75zM202.7 35.4h.75v.75h-.75zM226.4 37.6h.75v.75h-.75zM209.5 31.5h.75v.75h-.75zM222.2 42.0h.75v.75h-.75zM200.6 42.1h.75v.75h-.75zM220.7 31.7h.75v.75h-.75zM198.7 30.3h.75v.75h-.75zM206.3 30.3h.75v.75h-.75zM217.6 48.9h.75v.75h-.75zM199.4 35.0h.75v.75h-.75zM190.0 39.0h.75v.75h-.75zM192.2 44.8h.75v.75h-.75zM213.3 34.9h.75v.75h-.75zM218.8 31.2h.75v.75h-.75zM216.7 31.9h.75v.75h-.75zM215.5 37.8h.75v.75h-.75zM216.7 33.6h.75v.75h-.75zM206.0 28.1h.75v.75h-.75zM197.1 41.8h.75v.75h-.75zM222.0 42.3h.75v.75h-.75zM198.3 36.9h.75v.75h-.75zM196.4 43.7h.75v.75h-.75zM200.9 38.1h.75v.75h-.75zM218.9 38.5h.75v.75h-.75zM189.8 47.2h.75v.75h-.75zM205.9 45.8h.75v.75h-.75zM209.4 36.6h.75v.75h-.75zM200.1 34.1h.75v.75h-.75zM204.9 44.6h.75v.75h-.75zM219.9 39.6h.75v.75h-.75zM213.9 30.9h.75v.75h-.75zM209.6 34.0h.75v.75h-.75zM199.2 38.0h.75v.75h-.75zM219.7 45.5h.75v.75h-.75zM214.1 33.4h.75v.75h-.75zM209.1 38.8h.75v.75h-.75zM205.1 28.2h.75v.75h-.75zM199.8 43.1h.75v.75h-.75zM208.8 46.6h.75v.75h-.75zM215.3 43.8h.75v.75h-.75zM211.9 34.2h.75v.75h-.75zM203.8 34.8h.75v.75h-.75zM220.5 38.2h.75v.75h-.75zM192.9 46.1h.75v.75h-.75zM195.5 41.7h.75v.75h-.75zM210.2 33.4h.75v.75h-.75zM206.7 26.4h.75v.75h-.75zM207.3 34.8h.75v.75h-.75zM214.7 39.4h.75v.75h-.75zM199.4 39.2h.75v.75h-.75zM214.5 43.2h.75v.75h-.75zM201.8 35.6h.75v.75h-.75zM190.8 45.2h.75v.75h-.75zM216.0 30.0h.75v.75h-.75zM203.0 39.9h.75v.75h-.75zM193.2 46.8h.75v.75h-.75zM213.8 43.5h.75v.75h-.75zM204.9 28.5h.75v.75h-.75zM188.5 43.3h.75v.75h-.75zM216.5 30.2h.75v.75h-.75zM221.5 29.9h.75v.75h-.75zM223.1 44.2h.75v.75h-.75zM202.8 40.2h.75v.75h-.75zM202.2 36.2h.75v.75h-.75zM220.4 36.6h.75v.75h-.75zM202.7 31.4h.75v.75h-.75zM214.7 28.5h.75v.75h-.75zM197.5 38.1h.75v.75h-.75zM197.6 34.3h.75v.75h-.75zM212.1 28.9h.75v.75h-.75zM199.8 36.2h.75v.75h-.75zM212.7 37.7h.75v.75h-.75zM208.2 28.1h.75v.75h-.75zM211.0 35.1h.75v.75h-.75zM212.2 27.2h.75v.75h-.75zM195.8 38.5h.75v.75h-.75zM206.9 37.8h.75v.75h-.75zM222.7 32.8h.75v.75h-.75zM201.9 29.4h.75v.75h-.75zM217.5 35.6h.75v.75h-.75zM218.2 38.2h.75v.75h-.75zM212.1 27.8h.75v.75h-.75zM208.0 29.9h.75v.75h-.75zM214.3 40.0h.75v.75h-.75zM212.4 31.7h.75v.75h-.75zM220.0 37.4h.75v.75h-.75zM218.7 29.9h.75v.75h-.75zM203.0 32.1h.75v.75h-.75zM219.2 46.5h.75v.75h-.75zM207.8 40.1h.75v.75h-.75zM217.4 29.7h.75v.75h-.75zM196.1 46.8h.75v.75h-.75zM217.3 33.0h.75v.75h-.75zM207.0 26.9h.75v.75h-.75zM220.4 37.9h.75v.75h-.75zM196.2 33.3h.75v.75h-.75zM219.2 36.5h.75v.75h-.75zM213.9 37.8h.75v.75h-.75zM187.9 45.9h.75v.75h-.75zM197.8 41.0h.75v.75h-.75zM200.6 42.7h.75v.75h-.75zM212.2 47.8h.75v.75h-.75zM209.1 39.8h.75v.75h-.75zM198.3 40.6h.75v.75h-.75zM207.8 40.5h.75v.75h-.75zM214.6 39.5h.75v.75h-.75zM215.8 45.1h.75v.75h-.75zM196.4 41.6h.75v.75h-.75zM208.1 38.0h.75v.75h-.75zM210.7 44.5h.75v.75h-.75zM207.8 35.3h.75v.75h-.75zM211.1 42.8h.75v.75h-.75zM197.7 41.3h.75v.75h-.75zM213.6 30.7h.75v.75h-.75zM207.9 37.6h.75v.75h-.75zM215.7 36.2h.75v.75h-.75zM220.0 38.1h.75v.75h-.75zM217.8 39.1h.75v.75h-.75zM209.0 37.4h.75v.75h-.75zM188.3 45.6h.75v.75h-.75zM205.0 32.0h.75v.75h-.75zM222.0 39.1h.75v.75h-.75zM201.7 40.7h.75v.75h-.75zM225.1 34.0h.75v.75h-.75zM213.0 33.0h.75v.75h-.75zM217.9 40.7h.75v.75h-.75zM212.2 40.3h.75v.75h-.75zM218.6 32.7h.75v.75h-.75zM194.5 41.6h.75v.75h-.75zM216.7 43.3h.75v.75h-.75zM217.7 40.3h.75v.75h-.75zM213.8 44.5h.75v.75h-.75zM191.8 36.8h.75v.75h-.75zM202.4 46.0h.75v.75h-.75zM206.8 36.9h.75v.75h-.75zM192.8 43.7h.75v.75h-.75zM210.8 30.0h.75v.75h-.75zM219.2 35.4h.75v.75h-.75zM214.9 45.2h.75v.75h-.75zM213.0 40.1h.75v.75h-.75zM202.1 31.5h.75v.75h-.75zM217.1 40.6h.75v.75h-.75zM219.1 39.8h.75v.75h-.75zM199.4 51.2h.75v.75h-.75zM214.3 42.7h.75v.75h-.75zM202.5 30.2h.75v.75h-.75zM196.3 43.5h.75v.75h-.75zM212.4 34.7h.75v.75h-.75zM216.0 40.1h.75v.75h-.75zM219.3 42.6h.75v.75h-.75zM207.4 30.7h.75v.75h-.75zM199.5 35.6h.75v.75h-.75zM206.9 32.8h.75v.75h-.75zM211.2 30.0h.75v.75h-.75zM210.3 34.1h.75v.75h-.75zM214.9 32.3h.75v.75h-.75zM215.2 35.0h.75v.75h-.75zM204.8 38.9h.75v.75h-.75zM201.6 34.6h.75v.75h-.75zM215.5 37.0h.75v.75h-.75zM208.9 31.5h.75v.75h-.75zM203.1 30.2h.75v.75h-.75zM194.0 38.4h.75v.75h-.75zM214.9 31.2h.75v.75h-.75zM204.7 38.3h.75v.75h-.75zM216.9 33.1h.75v.75h-.75zM211.0 33.7h.75v.75h-.75zM215.0 30.2h.75v.75h-.75zM195.4 43.6h.75v.75h-.75zM216.7 40.3h.75v.75h-.75zM208.0 36.7h.75v.75h-.75zM219.7 45.4h.75v.75h-.75zM217.4 45.1h.75v.75h-.75zM188.6 48.0h.75v.75h-.75zM189.8 39.3h.75v.75h-.75zM190.6 44.1h.75v.75h-.75zM197.9 48.2h.75v.75h-.75zM224.0 33.5h.75v.75h-.75zM201.3 44.6h.75v.75h-.75zM206.3 27.8h.75v.75h-.75zM212.0 37.1h.75v.75h-.75zM211.6 31.4h.75v.75h-.75zM200.5 32.9h.75v.75h-.75zM216.2 28.5h.75v.75h-.75zM196.2 39.1h.75v.75h-.75zM215.9 39.0h.75v.75h-.75zM188.1 45.3h.75v.75h-.75zM204.5 33.6h.75v.75h-.75zM210.7 37.9h.75v.75h-.75zM209.2 39.2h.75v.75h-.75zM201.8 28.4h.75v.75h-.75zM225.3 39.5h.75v.75h-.75zM204.4 36.6h.75v.75h-.75zM204.3 27.3h.75v.75h-.75zM212.1 26.0h.75v.75h-.75zM222.2 38.0h.75v.75h-.75zM217.1 36.8h.75v.75h-.75zM219.7 38.1h.75v.75h-.75zM203.4 30.7h.75v.75h-.75zM206.7 45.2h.75v.75h-.75zM205.8 39.1h.75v.75h-.75zM211.2 27.1h.75v.75h-.75zM208.7 32.7h.75v.75h-.75zM218.5 38.2h.75v.75h-.75zM194.0 40.9h.75v.75h-.75zM206.0 31.9h.75v.75h-.75zM206.2 39.3h.75v.75h-.75zM220.2 31.1h.75v.75h-.75zM215.3 32.5h.75v.75h-.75zM215.7 39.0h.75v.75h-.75zM189.7 39.1h.75v.75h-.75zM218.5 31.2h.75v.75h-.75zM190.9 48.5h.75v.75h-.75zM204.1 30.6h.75v.75h-.75zM228.9 43.6h.75v.75h-.75zM221.1 42.3h.75v.75h-.75zM213.3 38.4h.75v.75h-.75zM226.4 40.6h.75v.75h-.75zM221.3 41.8h.75v.75h-.75zM222.0 36.2h.75v.75h-.75zM190.7 45.4h.75v.75h-.75zM227.6 40.6h.75v.75h-.75zM192.7 44.4h.75v.75h-.75zM217.4 38.9h.75v.75h-.75zM204.4 38.3h.75v.75h-.75zM197.7 37.8h.75v.75h-.75zM200.6 41.4h.75v.75h-.75zM191.8 37.2h.75v.75h-.75zM202.8 33.6h.75v.75h-.75zM206.5 36.1h.75v.75h-.75zM216.1 45.7h.75v.75h-.75zM216.3 32.4h.75v.75h-.75zM222.5 30.6h.75v.75h-.75zM214.4 40.0h.75v.75h-.75zM196.5 41.4h.75v.75h-.75zM193.1 44.1h.75v.75h-.75zM212.3 35.6h.75v.75h-.75zM190.2 44.8h.75v.75h-.75zM204.2 39.4h.75v.75h-.75zM212.0 35.0h.75v.75h-.75zM223.9 46.7h.75v.75h-.75zM208.1 35.9h.75v.75h-.75zM195.7 40.7h.75v.75h-.75zM190.7 48.3h.75v.75h-.75zM214.7 38.3h.75v.75h-.75zM194.6 34.7h.75v.75h-.75zM195.7 43.7h.75v.75h-.75zM200.2 31.3h.75v.75h-.75zM197.1 44.7h.75v.75h-.75zM197.4 41.8h.75v.75h-.75zM220.3 31.6h.75v.75h-.75zM209.4 32.9h.75v.75h-.75zM215.8 30.1h.75v.75h-.75zM216.6 31.3h.75v.75h-.75zM199.6 36.1h.75v.75h-.75zM195.7 37.4h.75v.75h-.75zM208.2 29.8h.75v.75h-.75zM189.9 48.6h.75v.75h-.75zM207.3 30.8h.75v.75h-.75zM210.6 30.8h.75v.75h-.75zM209.7 36.5h.75v.75h-.75zM212.2 40.1h.75v.75h-.75zM201.3 35.9h.75v.75h-.75zM204.2 31.9h.75v.75h-.75zM199.4 36.1h.75v.75h-.75zM206.3 37.1h.75v.75h-.75zM221.9 34.5h.75v.75h-.75zM202.3 41.1h.75v.75h-.75zM198.7 47.5h.75v.75h-.75zM205.5 33.2h.75v.75h-.75zM189.7 43.4h.75v.75h-.75zM220.4 36.6h.75v.75h-.75zM206.5 39.4h.75v.75h-.75zM221.2 46.0h.75v.75h-.75zM211.1 31.5h.75v.75h-.75zM199.6 37.1h.75v.75h-.75zM212.4 28.2h.75v.75h-.75zM195.7 38.6h.75v.75h-.75zM211.0 35.9h.75v.75h-.75zM204.4 41.1h.75v.75h-.75zM214.0 39.5h.75v.75h-.75zM202.7 34.9h.75v.75h-.75zM200.7 46.4h.75v.75h-.75zM189.1 40.9h.75v.75h-.75zM206.3 27.7h.75v.75h-.75zM214.2 42.3h.75v.75h-.75zM205.8 34.0h.75v.75h-.75zM192.8 44.5h.75v.75h-.75zM189.1 43.0h.75v.75h-.75zM201.8 42.6h.75v.75h-.75zM223.0 36.6h.75v.75h-.75zM212.3 38.0h.75v.75h-.75zM213.4 47.3h.75v.75h-.75zM215.9 32.9h.75v.75h-.75zM215.6 31.0h.75v.75h-.75zM221.3 36.1h.75v.75h-.75zM213.3 26.7h.75v.75h-.75zM217.1 34.0h.75v.75h-.75zM214.2 34.3h.75v.75h-.75zM209.8 35.4h.75v.75h-.75zM203.3 43.5h.75v.75h-.75zM212.7 30.0h.75v.75h-.75zM220.1 40.4h.75v.75h-.75zM215.6 32.1h.75v.75h-.75zM207.4 43.6h.75v.75h-.75zM220.6 30.9h.75v.75h-.75zM201.1 40.6h.75v.75h-.75zM197.6 38.6h.75v.75h-.75zM210.6 41.4h.75v.75h-.75zM207.7 36.8h.75v.75h-.75zM206.6 43.5h.75v.75h-.75zM205.6 33.0h.75v.75h-.75zM202.1 37.4h.75v.75h-.75zM212.5 35.6h.75v.75h-.75zM212.6 30.5h.75v.75h-.75zM215.4 39.0h.75v.75h-.75zM190.9 37.4h.75v.75h-.75zM196.7 41.6h.75v.75h-.75zM216.1 26.6h.75v.75h-.75zM205.4 37.1h.75v.75h-.75zM216.4 45.1h.75v.75h-.75zM202.8 31.2h.75v.75h-.75zM202.8 37.3h.75v.75h-.75zM192.6 44.3h.75v.75h-.75zM218.3 37.6h.75v.75h-.75zM194.3 40.9h.75v.75h-.75zM199.6 33.0h.75v.75h-.75zM222.8 42.4h.75v.75h-.75zM212.8 30.5h.75v.75h-.75zM208.2 37.8h.75v.75h-.75zM186.5 48.4h.75v.75h-.75zM192.7 36.0h.75v.75h-.75zM218.4 37.5h.75v.75h-.75zM208.7 42.6h.75v.75h-.75zM192.7 49.2h.75v.75h-.75zM219.9 37.1h.75v.75h-.75zM194.2 46.0h.75v.75h-.75zM197.6 39.2h.75v.75h-.75zM200.6 45.5h.75v.75h-.75zM210.5 44.7h.75v.75h-.75zM210.0 29.1h.75v.75h-.75zM214.3 43.6h.75v.75h-.75zM203.9 43.2h.75v.75h-.75zM224.1 38.6h.75v.75h-.75zM204.2 32.8h.75v.75h-.75zM197.3 42.2h.75v.75h-.75zM208.4 41.4h.75v.75h-.75zM216.8 27.7h.75v.75h-.75zM221.8 47.9h.75v.75h-.75zM208.8 35.9h.75v.75h-.75zM207.7 33.4h.75v.75h-.75zM207.4 43.6h.75v.75h-.75zM200.9 38.9h.75v.75h-.75zM201.4 35.5h.75v.75h-.75zM202.7 35.2h.75v.75h-.75zM220.8 38.0h.75v.75h-.75zM204.5 29.5h.75v.75h-.75zM196.5 37.8h.75v.75h-.75zM217.0 27.9h.75v.75h-.75zM215.3 41.8h.75v.75h-.75zM204.3 32.8h.75v.75h-.75zM216.9 28.7h.75v.75h-.75zM219.7 33.2h.75v.75h-.75zM203.8 39.0h.75v.75h-.75zM219.3 28.0h.75v.75h-.75zM211.8 30.8h.75v.75h-.75zM212.6 32.2h.75v.75h-.75zM206.1 39.6h.75v.75h-.75zM216.3 48.1h.75v.75h-.75zM219.9 46.9h.75v.75h-.75zM204.4 31.3h.75v.75h-.75zM207.3 37.7h.75v.75h-.75zM199.2 46.9h.75v.75h-.75zM193.3 40.3h.75v.75h-.75zM198.3 40.1h.75v.75h-.75zM209.8 34.6h.75v.75h-.75zM223.3 31.9h.75v.75h-.75zM200.8 42.2h.75v.75h-.75zM203.0 36.6h.75v.75h-.75zM205.7 37.3h.75v.75h-.75zM205.3 46.3h.75v.75h-.75zM223.4 33.7h.75v.75h-.75zM215.0 40.0h.75v.75h-.75zM222.7 42.6h.75v.75h-.75zM208.4 28.9h.75v.75h-.75zM189.2 39.9h.75v.75h-.75zM219.9 36.5h.75v.75h-.75zM206.8 38.0h.75v.75h-.75zM207.8 43.1h.75v.75h-.75zM193.9 47.4h.75v.75h-.75zM222.0 32.5h.75v.75h-.75zM214.0 41.7h.75v.75h-.75zM194.0 38.5h.75v.75h-.75zM202.3 30.1h.75v.75h-.75zM209.4 35.2h.75v.75h-.75zM202.5 35.1h.75v.75h-.75zM198.7 33.7h.75v.75h-.75zM210.8 42.1h.75v.75h-.75zM190.1 44.1h.75v.75h-.75zM207.0 40.6h.75v.75h-.75zM212.9 28.5h.75v.75h-.75zM214.2 40.7h.75v.75h-.75zM206.4 31.2h.75v.75h-.75zM214.8 34.4h.75v.75h-.75zM207.7 33.6h.75v.75h-.75zM191.9 41.4h.75v.75h-.75zM207.1 31.9h.75v.75h-.75zM196.1 41.6h.75v.75h-.75zM207.6 41.5h.75v.75h-.75zM199.8 45.9h.75v.75h-.75zM207.8 42.4h.75v.75h-.75zM210.2 35.9h.75v.75h-.75zM196.2 40.8h.75v.75h-.75zM203.5 37.9h.75v.75h-.75zM209.3 31.9h.75v.75h-.75zM216.4 46.5h.75v.75h-.75zM212.3 38.9h.75v.75h-.75zM202.4 32.7h.75v.75h-.75zM189.3 46.5h.75v.75h-.75zM214.8 37.1h.75v.75h-.75zM207.0 34.0h.75v.75h-.75zM202.3 41.1h.75v.75h-.75zM208.5 36.9h.75v.75h-.75zM205.6 29.1h.75v.75h-.75zM192.7 41.9h.75v.75h-.75zM212.4 35.0h.75v.75h-.75zM210.6 26.8h.75v.75h-.75zM201.4 49.2h.75v.75h-.75zM215.4 36.0h.75v.75h-.75zM224.2 40.3h.75v.75h-.75zM221.9 41.2h.75v.75h-.75zM203.9 37.3h.75v.75h-.75zM201.1 36.7h.75v.75h-.75zM212.4 34.7h.75v.75h-.75zM215.6 45.2h.75v.75h-.75zM207.6 34.6h.75v.75h-.75zM208.8 33.9h.75v.75h-.75zM202.2 34.7h.75v.75h-.75zM204.1 39.1h.75v.75h-.75zM202.6 32.3h.75v.75h-.75zM206.4 42.2h.75v.75h-.75zM212.8 31.0h.75v.75h-.75zM218.1 39.4h.75v.75h-.75zM214.5 32.4h.75v.75h-.75zM198.8 32.9h.75v.75h-.75zM211.7 30.8h.75v.75h-.75zM218.8 35.9h.75v.75h-.75zM210.6 29.2h.75v.75h-.75zM207.4 48.4h.75v.75h-.75zM206.8 30.4h.75v.75h-.75zM219.7 35.5h.75v.75h-.75zM205.3 34.8h.75v.75h-.75zM220.3 38.4h.75v.75h-.75zM202.4 35.6h.75v.75h-.75zM201.9 31.0h.75v.75h-.75zM217.8 42.6h.75v.75h-.75zM203.9 34.1h.75v.75h-.75zM204.2 38.9h.75v.75h-.75zM219.1 39.3h.75v.75h-.75zM209.4 40.9h.75v.75h-.75zM224.9 39.6h.75v.75h-.75zM197.4 43.1h.75v.75h-.75zM209.8 27.8h.75v.75h-.75zM215.6 38.7h.75v.75h-.75zM221.2 38.7h.75v.75h-.75zM201.0 43.1h.75v.75h-.75zM198.8 46.6h.75v.75h-.75zM218.8 41.3h.75v.75h-.75zM201.2 41.9h.75v.75h-.75zM192.1 44.0h.75v.75h-.75zM205.2 36.0h.75v.75h-.75zM220.8 38.8h.75v.75h-.75zM220.8 38.0h.75v.75h-.75zM210.8 33.3h.75v.75h-.75zM199.4 38.1h.75v.75h-.75zM213.8 30.1h.75v.75h-.75zM214.4 30.2h.75v.75h-.75zM200.7 42.1h.75v.75h-.75zM200.7 41.3h.75v.75h-.75zM199.2 31.6h.75v.75h-.75zM226.1 38.1h.75v.75h-.75zM193.0 43.6h.75v.75h-.75zM218.4 29.5h.75v.75h-.75zM215.5 34.5h.75v.75h-.75zM192.2 36.4h.75v.75h-.75zM212.9 33.2h.75v.75h-.75zM188.3 44.1h.75v.75h-.75zM201.0 32.5h.75v.75h-.75zM201.7 41.9h.75v.75h-.75zM209.3 35.0h.75v.75h-.75zM215.6 35.1h.75v.75h-.75zM208.5 34.7h.75v.75h-.75zM208.9 36.8h.75v.75h-.75zM192.2 42.2h.75v.75h-.75zM211.5 30.7h.75v.75h-.75zM204.0 34.1h.75v.75h-.75zM218.7 38.0h.75v.75h-.75zM191.0 43.1h.75v.75h-.75zM218.4 48.1h.75v.75h-.75zM213.2 40.7h.75v.75h-.75zM203.6 44.9h.75v.75h-.75zM197.6 32.9h.75v.75h-.75zM212.9 25.8h.75v.75h-.75zM220.5 50.3h.75v.75h-.75zM209.5 40.6h.75v.75h-.75zM206.8 29.0h.75v.75h-.75zM206.4 35.1h.75v.75h-.75zM202.5 41.2h.75v.75h-.75zM213.7 28.0h.75v.75h-.75zM210.3 32.1h.75v.75h-.75zM222.9 46.0h.75v.75h-.75zM190.9 38.2h.75v.75h-.75zM225.3 35.1h.75v.75h-.75zM193.8 40.5h.75v.75h-.75zM210.7 30.6h.75v.75h-.75zM191.9 47.7h.75v.75h-.75zM208.4 28.0h.75v.75h-.75zM222.9 32.3h.75v.75h-.75zM202.5 33.4h.75v.75h-.75zM219.1 42.3h.75v.75h-.75zM196.4 40.7h.75v.75h-.75zM193.2 36.5h.75v.75h-.75zM207.2 31.4h.75v.75h-.75zM190.6 44.8h.75v.75h-.75zM209.1 44.0h.75v.75h-.75zM203.0 34.2h.75v.75h-.75zM210.4 32.1h.75v.75h-.75zM227.4 38.1h.75v.75h-.75zM212.8 40.7h.75v.75h-.75zM208.3 41.3h.75v.75h-.75zM222.8 44.5h.75v.75h-.75zM214.0 38.1h.75v.75h-.75zM204.7 33.5h.75v.75h-.75zM202.0 36.5h.75v.75h-.75zM210.5 44.2h.75v.75h-.75zM204.4 34.6h.75v.75h-.75zM204.2 34.6h.75v.75h-.75zM188.6 45.2h.75v.75h-.75zM195.2 43.7h.75v.75h-.75zM194.7 36.5h.75v.75h-.75zM201.9 30.0h.75v.75h-.75zM215.3 37.4h.75v.75h-.75zM199.9 38.1h.75v.75h-.75zM200.8 41.9h.75v.75h-.75zM195.7 46.3h.75v.75h-.75zM197.3 43.2h.75v.75h-.75zM217.9 46.4h.75v.75h-.75z" fill="#050505"/>
<path d="M208.7 40.5h.75v.75h-.75zM208.8 27.8h.75v.75h-.75zM203.9 32.8h.75v.75h-.75zM208.5 32.6h.75v.75h-.75zM199.5 44.4h.75v.75h-.75zM205.6 41.6h.75v.75h-.75zM212.6 37.9h.75v.75h-.75zM199.2 33.1h.75v.75h-.75zM223.1 33.8h.75v.75h-.75zM218.1 33.2h.75v.75h-.75zM216.5 42.5h.75v.75h-.75zM197.8 33.2h.75v.75h-.75zM206.5 35.2h.75v.75h-.75zM226.5 38.7h.75v.75h-.75zM223.3 42.4h.75v.75h-.75zM202.5 39.2h.75v.75h-.75zM203.9 33.2h.75v.75h-.75zM219.0 39.0h.75v.75h-.75zM218.5 35.6h.75v.75h-.75zM191.9 48.6h.75v.75h-.75zM188.9 46.1h.75v.75h-.75zM218.7 48.2h.75v.75h-.75zM204.0 38.5h.75v.75h-.75zM216.2 37.0h.75v.75h-.75zM195.4 40.2h.75v.75h-.75zM206.2 36.1h.75v.75h-.75zM205.3 42.2h.75v.75h-.75zM201.3 41.3h.75v.75h-.75zM213.7 31.3h.75v.75h-.75zM222.1 37.8h.75v.75h-.75zM210.9 43.8h.75v.75h-.75zM207.1 41.9h.75v.75h-.75zM222.6 36.1h.75v.75h-.75zM207.8 28.8h.75v.75h-.75zM210.6 31.6h.75v.75h-.75zM202.0 34.2h.75v.75h-.75zM208.7 28.0h.75v.75h-.75zM207.1 29.8h.75v.75h-.75zM194.6 39.9h.75v.75h-.75zM192.9 41.8h.75v.75h-.75zM217.5 36.9h.75v.75h-.75zM208.6 29.8h.75v.75h-.75zM192.6 45.3h.75v.75h-.75zM208.8 34.6h.75v.75h-.75zM199.4 29.5h.75v.75h-.75zM197.0 36.8h.75v.75h-.75zM218.8 34.6h.75v.75h-.75zM206.9 33.0h.75v.75h-.75zM220.5 35.3h.75v.75h-.75zM219.6 35.3h.75v.75h-.75zM198.7 33.3h.75v.75h-.75zM209.7 30.4h.75v.75h-.75zM215.4 31.9h.75v.75h-.75zM223.1 37.4h.75v.75h-.75zM211.0 40.8h.75v.75h-.75zM201.8 30.4h.75v.75h-.75zM188.6 48.3h.75v.75h-.75zM208.2 31.6h.75v.75h-.75zM203.6 41.8h.75v.75h-.75zM202.8 30.9h.75v.75h-.75zM215.6 37.7h.75v.75h-.75zM214.2 32.8h.75v.75h-.75zM208.0 30.6h.75v.75h-.75zM216.9 37.3h.75v.75h-.75zM220.3 41.2h.75v.75h-.75zM217.0 33.5h.75v.75h-.75zM219.7 36.5h.75v.75h-.75zM187.3 46.8h.75v.75h-.75zM195.1 43.6h.75v.75h-.75zM223.3 37.9h.75v.75h-.75zM198.8 40.3h.75v.75h-.75zM210.5 25.9h.75v.75h-.75zM206.1 37.8h.75v.75h-.75zM213.0 27.1h.75v.75h-.75zM214.8 43.3h.75v.75h-.75zM205.5 30.1h.75v.75h-.75zM196.5 39.4h.75v.75h-.75zM206.9 46.1h.75v.75h-.75zM210.2 37.8h.75v.75h-.75zM195.6 45.8h.75v.75h-.75zM193.5 44.2h.75v.75h-.75zM214.3 28.7h.75v.75h-.75zM196.5 42.8h.75v.75h-.75zM208.2 33.0h.75v.75h-.75zM205.6 44.4h.75v.75h-.75zM211.0 40.7h.75v.75h-.75zM207.3 35.8h.75v.75h-.75zM206.4 35.9h.75v.75h-.75zM219.4 38.5h.75v.75h-.75zM213.5 31.8h.75v.75h-.75zM204.6 33.9h.75v.75h-.75zM208.6 32.0h.75v.75h-.75zM191.1 45.0h.75v.75h-.75zM203.2 31.8h.75v.75h-.75zM204.5 41.5h.75v.75h-.75zM212.5 27.5h.75v.75h-.75zM196.4 36.6h.75v.75h-.75zM222.0 30.0h.75v.75h-.75zM189.3 44.2h.75v.75h-.75zM224.8 36.2h.75v.75h-.75zM220.0 41.2h.75v.75h-.75zM222.9 46.5h.75v.75h-.75zM220.2 39.6h.75v.75h-.75zM199.5 31.9h.75v.75h-.75zM204.2 27.9h.75v.75h-.75zM216.4 30.0h.75v.75h-.75zM206.3 32.5h.75v.75h-.75zM220.4 37.7h.75v.75h-.75zM211.8 29.2h.75v.75h-.75zM209.9 40.4h.75v.75h-.75zM209.1 33.5h.75v.75h-.75zM216.8 38.2h.75v.75h-.75zM221.8 36.0h.75v.75h-.75zM213.1 34.4h.75v.75h-.75zM223.1 36.5h.75v.75h-.75zM200.3 42.4h.75v.75h-.75zM218.0 34.4h.75v.75h-.75zM222.6 35.8h.75v.75h-.75zM201.0 45.1h.75v.75h-.75zM207.9 26.6h.75v.75h-.75zM214.5 32.9h.75v.75h-.75zM202.4 35.5h.75v.75h-.75zM206.1 34.5h.75v.75h-.75zM219.9 34.6h.75v.75h-.75zM217.8 27.5h.75v.75h-.75zM209.5 32.4h.75v.75h-.75zM213.0 33.2h.75v.75h-.75zM208.9 35.8h.75v.75h-.75zM216.7 35.9h.75v.75h-.75zM206.1 28.8h.75v.75h-.75zM200.3 32.3h.75v.75h-.75zM227.0 43.6h.75v.75h-.75zM195.7 38.3h.75v.75h-.75zM191.5 38.0h.75v.75h-.75zM196.1 32.8h.75v.75h-.75zM201.7 42.2h.75v.75h-.75zM213.8 33.6h.75v.75h-.75zM198.8 38.4h.75v.75h-.75zM197.5 41.6h.75v.75h-.75zM210.0 30.1h.75v.75h-.75zM211.9 27.9h.75v.75h-.75zM213.9 28.7h.75v.75h-.75zM215.6 37.6h.75v.75h-.75zM217.0 32.4h.75v.75h-.75zM208.1 34.9h.75v.75h-.75zM201.1 35.7h.75v.75h-.75zM208.2 41.0h.75v.75h-.75zM214.0 36.2h.75v.75h-.75zM214.0 36.4h.75v.75h-.75zM198.6 41.9h.75v.75h-.75zM214.6 30.4h.75v.75h-.75zM211.8 37.1h.75v.75h-.75zM210.6 37.6h.75v.75h-.75zM202.9 28.9h.75v.75h-.75zM214.6 41.6h.75v.75h-.75zM216.0 30.8h.75v.75h-.75zM203.1 40.2h.75v.75h-.75zM199.1 36.9h.75v.75h-.75zM200.2 45.8h.75v.75h-.75zM203.1 47.0h.75v.75h-.75zM205.8 27.0h.75v.75h-.75zM206.1 30.2h.75v.75h-.75zM206.8 46.2h.75v.75h-.75zM217.5 31.3h.75v.75h-.75zM215.4 32.5h.75v.75h-.75zM210.8 38.4h.75v.75h-.75zM222.6 36.2h.75v.75h-.75zM191.8 47.5h.75v.75h-.75zM202.7 30.2h.75v.75h-.75zM194.5 40.8h.75v.75h-.75zM191.8 41.8h.75v.75h-.75zM208.3 37.8h.75v.75h-.75zM200.4 34.6h.75v.75h-.75zM202.9 44.9h.75v.75h-.75zM192.3 43.7h.75v.75h-.75zM206.2 43.9h.75v.75h-.75zM209.5 32.1h.75v.75h-.75zM199.1 31.0h.75v.75h-.75zM205.2 32.4h.75v.75h-.75zM210.8 43.8h.75v.75h-.75zM216.9 38.7h.75v.75h-.75zM198.2 41.2h.75v.75h-.75zM206.2 35.3h.75v.75h-.75zM188.5 43.2h.75v.75h-.75zM202.9 45.9h.75v.75h-.75zM191.7 43.5h.75v.75h-.75zM190.0 46.2h.75v.75h-.75zM225.8 43.5h.75v.75h-.75zM193.4 50.5h.75v.75h-.75zM222.2 41.7h.75v.75h-.75zM208.4 35.7h.75v.75h-.75zM220.0 34.0h.75v.75h-.75zM191.5 49.5h.75v.75h-.75zM204.6 42.4h.75v.75h-.75zM204.5 36.6h.75v.75h-.75zM218.4 29.0h.75v.75h-.75zM224.0 42.0h.75v.75h-.75zM210.9 42.8h.75v.75h-.75zM197.0 40.9h.75v.75h-.75zM221.6 44.5h.75v.75h-.75zM193.0 37.0h.75v.75h-.75zM204.7 38.6h.75v.75h-.75zM191.2 49.1h.75v.75h-.75zM216.0 46.4h.75v.75h-.75zM205.7 27.3h.75v.75h-.75zM201.6 35.7h.75v.75h-.75zM222.0 31.5h.75v.75h-.75zM218.7 32.9h.75v.75h-.75zM207.7 35.0h.75v.75h-.75zM216.5 33.5h.75v.75h-.75zM211.9 35.7h.75v.75h-.75zM214.2 40.5h.75v.75h-.75zM227.5 40.2h.75v.75h-.75zM213.3 38.9h.75v.75h-.75zM205.4 37.1h.75v.75h-.75zM199.3 32.5h.75v.75h-.75zM218.7 34.5h.75v.75h-.75zM220.3 34.5h.75v.75h-.75zM208.0 35.3h.75v.75h-.75zM210.8 30.6h.75v.75h-.75zM202.2 36.0h.75v.75h-.75zM218.8 36.3h.75v.75h-.75zM205.2 42.4h.75v.75h-.75zM213.5 38.0h.75v.75h-.75zM213.0 37.8h.75v.75h-.75zM216.5 37.5h.75v.75h-.75zM221.7 46.0h.75v.75h-.75zM202.5 38.7h.75v.75h-.75zM214.1 44.3h.75v.75h-.75zM207.4 28.7h.75v.75h-.75zM208.9 34.3h.75v.75h-.75zM206.7 35.8h.75v.75h-.75zM204.0 35.2h.75v.75h-.75zM189.9 44.4h.75v.75h-.75zM218.9 29.8h.75v.75h-.75zM216.5 31.9h.75v.75h-.75zM196.2 45.7h.75v.75h-.75zM204.3 31.9h.75v.75h-.75zM193.6 46.6h.75v.75h-.75zM214.8 39.6h.75v.75h-.75zM220.5 42.5h.75v.75h-.75zM216.4 31.7h.75v.75h-.75zM217.2 29.0h.75v.75h-.75zM217.0 37.7h.75v.75h-.75zM206.3 35.0h.75v.75h-.75zM213.3 42.7h.75v.75h-.75zM221.3 29.7h.75v.75h-.75zM205.3 29.2h.75v.75h-.75zM219.7 38.2h.75v.75h-.75zM205.8 39.5h.75v.75h-.75zM203.8 30.1h.75v.75h-.75zM218.6 41.6h.75v.75h-.75zM210.5 34.7h.75v.75h-.75zM208.6 38.7h.75v.75h-.75zM203.7 38.4h.75v.75h-.75zM219.5 34.1h.75v.75h-.75zM197.0 41.0h.75v.75h-.75zM225.9 41.2h.75v.75h-.75zM207.2 33.9h.75v.75h-.75zM193.1 45.6h.75v.75h-.75zM209.8 29.3h.75v.75h-.75zM216.6 35.6h.75v.75h-.75zM214.8 34.3h.75v.75h-.75zM218.4 41.6h.75v.75h-.75zM198.1 41.0h.75v.75h-.75zM217.1 42.3h.75v.75h-.75zM214.5 36.6h.75v.75h-.75zM210.1 37.0h.75v.75h-.75zM200.6 40.5h.75v.75h-.75zM224.5 42.1h.75v.75h-.75zM222.8 33.5h.75v.75h-.75zM210.8 31.7h.75v.75h-.75zM217.6 39.1h.75v.75h-.75zM195.0 46.5h.75v.75h-.75zM218.0 36.0h.75v.75h-.75zM213.5 34.8h.75v.75h-.75zM199.3 35.3h.75v.75h-.75zM214.7 36.7h.75v.75h-.75zM198.2 38.2h.75v.75h-.75zM205.4 31.9h.75v.75h-.75zM222.4 43.6h.75v.75h-.75zM212.5 38.9h.75v.75h-.75zM189.9 46.1h.75v.75h-.75zM201.3 39.8h.75v.75h-.75zM211.1 36.6h.75v.75h-.75zM205.6 38.5h.75v.75h-.75zM225.7 38.5h.75v.75h-.75zM204.0 30.7h.75v.75h-.75zM200.3 45.7h.75v.75h-.75zM204.4 37.8h.75v.75h-.75zM187.5 44.1h.75v.75h-.75zM206.7 28.8h.75v.75h-.75zM208.4 37.1h.75v.75h-.75zM218.7 43.2h.75v.75h-.75zM192.1 40.7h.75v.75h-.75zM202.4 37.1h.75v.75h-.75zM215.0 36.2h.75v.75h-.75zM214.5 28.5h.75v.75h-.75zM193.7 37.1h.75v.75h-.75zM223.3 38.2h.75v.75h-.75zM196.0 44.8h.75v.75h-.75zM214.9 37.6h.75v.75h-.75zM204.0 49.3h.75v.75h-.75zM213.2 36.2h.75v.75h-.75zM205.9 38.6h.75v.75h-.75zM215.4 36.0h.75v.75h-.75zM193.5 45.4h.75v.75h-.75zM205.4 36.6h.75v.75h-.75zM186.8 46.9h.75v.75h-.75zM211.6 41.4h.75v.75h-.75zM192.0 45.2h.75v.75h-.75zM221.8 37.6h.75v.75h-.75zM214.4 30.5h.75v.75h-.75zM206.5 37.0h.75v.75h-.75zM227.2 41.8h.75v.75h-.75zM211.9 36.9h.75v.75h-.75zM225.0 45.3h.75v.75h-.75zM209.0 35.7h.75v.75h-.75zM222.5 36.7h.75v.75h-.75zM199.0 31.8h.75v.75h-.75zM227.2 42.8h.75v.75h-.75zM192.7 42.1h.75v.75h-.75zM215.6 31.5h.75v.75h-.75zM212.3 26.3h.75v.75h-.75zM202.4 35.1h.75v.75h-.75zM212.2 34.5h.75v.75h-.75zM213.9 29.3h.75v.75h-.75zM201.1 32.2h.75v.75h-.75zM225.8 39.0h.75v.75h-.75zM196.5 43.5h.75v.75h-.75zM214.4 35.5h.75v.75h-.75zM206.1 31.9h.75v.75h-.75zM211.9 29.1h.75v.75h-.75zM203.8 37.8h.75v.75h-.75zM219.0 31.0h.75v.75h-.75zM190.5 45.9h.75v.75h-.75zM213.4 30.7h.75v.75h-.75zM203.3 39.4h.75v.75h-.75zM205.2 28.6h.75v.75h-.75zM192.5 36.4h.75v.75h-.75zM217.2 39.1h.75v.75h-.75zM202.6 35.7h.75v.75h-.75zM204.0 33.5h.75v.75h-.75zM196.5 40.2h.75v.75h-.75zM214.9 32.9h.75v.75h-.75zM211.0 37.3h.75v.75h-.75zM209.9 39.3h.75v.75h-.75zM200.7 34.6h.75v.75h-.75zM196.3 43.1h.75v.75h-.75zM221.5 37.1h.75v.75h-.75zM191.4 45.6h.75v.75h-.75zM206.0 34.0h.75v.75h-.75zM206.6 38.5h.75v.75h-.75zM223.4 41.6h.75v.75h-.75zM208.4 29.9h.75v.75h-.75zM204.2 29.1h.75v.75h-.75zM223.6 38.8h.75v.75h-.75zM203.6 33.6h.75v.75h-.75zM206.4 35.1h.75v.75h-.75zM207.8 35.4h.75v.75h-.75zM204.4 33.3h.75v.75h-.75zM205.8 37.2h.75v.75h-.75zM208.4 33.1h.75v.75h-.75zM203.5 36.0h.75v.75h-.75zM214.9 32.7h.75v.75h-.75zM223.4 40.2h.75v.75h-.75zM202.1 28.5h.75v.75h-.75zM209.1 28.3h.75v.75h-.75zM206.5 32.3h.75v.75h-.75zM192.8 43.7h.75v.75h-.75zM223.4 31.3h.75v.75h-.75zM215.1 40.3h.75v.75h-.75zM203.6 42.9h.75v.75h-.75zM208.8 38.0h.75v.75h-.75zM220.0 43.3h.75v.75h-.75zM218.6 43.9h.75v.75h-.75zM213.7 32.2h.75v.75h-.75zM222.6 37.5h.75v.75h-.75zM208.8 28.7h.75v.75h-.75zM210.7 26.8h.75v.75h-.75zM196.2 42.4h.75v.75h-.75zM220.7 34.4h.75v.75h-.75zM215.5 42.0h.75v.75h-.75zM209.3 32.8h.75v.75h-.75zM213.8 33.5h.75v.75h-.75zM202.9 40.0h.75v.75h-.75zM207.6 41.1h.75v.75h-.75zM204.1 43.2h.75v.75h-.75zM223.9 37.8h.75v.75h-.75zM207.4 34.8h.75v.75h-.75zM216.8 37.9h.75v.75h-.75zM224.9 41.2h.75v.75h-.75zM218.9 41.3h.75v.75h-.75zM212.3 43.1h.75v.75h-.75zM199.8 29.5h.75v.75h-.75zM216.4 48.4h.75v.75h-.75zM207.6 36.7h.75v.75h-.75zM214.5 37.3h.75v.75h-.75zM218.4 38.9h.75v.75h-.75zM191.8 47.8h.75v.75h-.75zM213.9 33.7h.75v.75h-.75zM193.1 42.7h.75v.75h-.75zM221.7 35.6h.75v.75h-.75zM207.2 34.9h.75v.75h-.75zM198.5 46.4h.75v.75h-.75zM224.3 36.1h.75v.75h-.75zM196.6 36.3h.75v.75h-.75zM201.1 37.4h.75v.75h-.75zM213.7 39.1h.75v.75h-.75zM209.4 29.4h.75v.75h-.75zM197.8 46.7h.75v.75h-.75zM211.6 37.0h.75v.75h-.75zM209.5 41.6h.75v.75h-.75zM199.8 42.9h.75v.75h-.75zM193.7 41.3h.75v.75h-.75zM202.4 40.8h.75v.75h-.75zM189.2 45.8h.75v.75h-.75zM219.3 35.7h.75v.75h-.75zM218.2 44.4h.75v.75h-.75zM206.4 35.1h.75v.75h-.75zM222.0 34.6h.75v.75h-.75zM214.5 36.2h.75v.75h-.75zM204.5 40.0h.75v.75h-.75zM204.8 31.6h.75v.75h-.75zM198.7 40.4h.75v.75h-.75zM220.1 36.4h.75v.75h-.75zM203.1 29.7h.75v.75h-.75zM212.8 32.5h.75v.75h-.75zM225.9 39.8h.75v.75h-.75zM208.1 34.8h.75v.75h-.75zM188.8 42.4h.75v.75h-.75zM197.7 42.6h.75v.75h-.75zM212.4 33.1h.75v.75h-.75zM202.7 31.9h.75v.75h-.75zM201.0 47.4h.75v.75h-.75zM212.2 26.6h.75v.75h-.75zM194.0 39.3h.75v.75h-.75zM205.3 38.9h.75v.75h-.75zM204.2 28.3h.75v.75h-.75zM192.2 42.2h.75v.75h-.75zM201.1 31.1h.75v.75h-.75zM211.1 30.7h.75v.75h-.75zM203.8 32.6h.75v.75h-.75zM227.7 43.5h.75v.75h-.75zM212.6 34.4h.75v.75h-.75zM211.4 47.0h.75v.75h-.75zM203.0 46.5h.75v.75h-.75zM216.0 31.0h.75v.75h-.75zM211.3 42.7h.75v.75h-.75zM216.4 35.6h.75v.75h-.75zM189.9 42.6h.75v.75h-.75zM221.9 37.4h.75v.75h-.75zM210.8 32.1h.75v.75h-.75zM210.2 38.5h.75v.75h-.75zM208.0 40.6h.75v.75h-.75zM203.3 40.0h.75v.75h-.75zM218.0 32.1h.75v.75h-.75zM198.2 41.5h.75v.75h-.75zM208.1 31.6h.75v.75h-.75zM217.9 34.0h.75v.75h-.75zM224.5 42.4h.75v.75h-.75zM214.4 34.4h.75v.75h-.75z" fill="#3c3c3c"/>
<path d="M234.1 44.3h.75v.75h-.75zM230.4 45.1h.75v.75h-.75zM227.4 42.3h.75v.75h-.75zM235.7 45.9h.75v.75h-.75zM230.2 43.1h.75v.75h-.75zM236.8 47.5h.75v.75h-.75zM226.9 43.2h.75v.75h-.75zM229.4 42.8h.75v.75h-.75zM227.8 43.2h.75v.75h-.75zM227.1 42.0h.75v.75h-.75zM231.6 45.6h.75v.75h-.75zM235.0 47.2h.75v.75h-.75zM235.6 46.6h.75v.75h-.75zM227.5 42.6h.75v.75h-.75zM237.5 46.7h.75v.75h-.75zM237.5 47.7h.75v.75h-.75zM226.5 42.0h.75v.75h-.75zM234.4 46.2h.75v.75h-.75zM236.1 47.5h.75v.75h-.75zM230.7 43.2h.75v.75h-.75zM225.2 42.0h.75v.75h-.75zM231.1 44.0h.75v.75h-.75zM226.6 42.0h.75v.75h-.75zM232.2 44.3h.75v.75h-.75zM226.7 41.6h.75v.75h-.75zM237.1 46.7h.75v.75h-.75zM236.2 44.9h.75v.75h-.75zM228.5 43.4h.75v.75h-.75zM234.2 45.8h.75v.75h-.75zM231.5 45.6h.75v.75h-.75zM229.4 42.9h.75v.75h-.75zM227.6 41.7h.75v.75h-.75zM227.0 42.7h.75v.75h-.75zM234.1 45.5h.75v.75h-.75zM226.5 41.8h.75v.75h-.75zM232.3 45.2h.75v.75h-.75zM235.5 46.8h.75v.75h-.75zM226.0 41.8h.75v.75h-.75zM228.5 43.2h.75v.75h-.75zM225.7 41.7h.75v.75h-.75zM232.5 45.2h.75v.75h-.75zM235.2 45.9h.75v.75h-.75zM233.3 45.8h.75v.75h-.75zM228.0 42.2h.75v.75h-.75zM237.0 47.1h.75v.75h-.75z" fill="#333"/>
<path d="M244.5 50.2h.8v.8h-.8zM246.5 52.4h.8v.8h-.8zM242.0 48.0h.8v.8h-.8zM247.0 51.7h.8v.8h-.8zM253.5 53.6h.8v.8h-.8zM253.3 54.1h.8v.8h-.8zM240.8 49.5h.8v.8h-.8zM241.5 50.7h.8v.8h-.8zM241.7 49.9h.8v.8h-.8zM241.3 51.7h.8v.8h-.8zM248.1 54.7h.8v.8h-.8zM248.4 56.1h.8v.8h-.8zM253.7 53.9h.8v.8h-.8zM251.0 53.3h.8v.8h-.8zM245.9 51.8h.8v.8h-.8zM254.4 55.4h.8v.8h-.8zM240.5 48.5h.8v.8h-.8zM241.6 49.2h.8v.8h-.8zM253.9 54.4h.8v.8h-.8zM243.1 53.1h.8v.8h-.8zM242.5 51.9h.8v.8h-.8zM251.3 53.9h.8v.8h-.8zM243.7 49.8h.8v.8h-.8zM252.1 53.1h.8v.8h-.8zM251.9 53.7h.8v.8h-.8zM240.5 47.0h.8v.8h-.8zM251.1 55.0h.8v.8h-.8zM248.5 54.3h.8v.8h-.8zM244.9 50.4h.8v.8h-.8zM248.6 54.9h.8v.8h-.8zM244.2 50.0h.8v.8h-.8zM252.1 52.8h.8v.8h-.8zM246.3 51.1h.8v.8h-.8zM249.6 55.4h.8v.8h-.8zM254.7 53.7h.8v.8h-.8zM255.0 53.6h.8v.8h-.8zM251.6 53.7h.8v.8h-.8zM242.1 50.9h.8v.8h-.8zM251.4 54.3h.8v.8h-.8zM239.5 48.4h.8v.8h-.8zM254.0 55.5h.8v.8h-.8zM247.4 52.5h.8v.8h-.8zM251.6 53.4h.8v.8h-.8zM245.5 51.8h.8v.8h-.8zM241.3 50.1h.8v.8h-.8zM242.6 52.3h.8v.8h-.8zM250.0 54.7h.8v.8h-.8zM242.6 49.9h.8v.8h-.8zM245.0 52.4h.8v.8h-.8zM249.1 52.4h.8v.8h-.8zM244.3 51.8h.8v.8h-.8zM248.0 53.6h.8v.8h-.8zM254.0 54.6h.8v.8h-.8zM244.4 51.8h.8v.8h-.8zM249.4 53.8h.8v.8h-.8zM245.2 52.1h.8v.8h-.8zM254.2 55.8h.8v.8h-.8zM254.3 55.8h.8v.8h-.8zM252.4 53.1h.8v.8h-.8zM240.7 48.4h.8v.8h-.8zM246.0 51.6h.8v.8h-.8zM241.7 50.9h.8v.8h-.8zM254.1 53.8h.8v.8h-.8zM246.3 52.5h.8v.8h-.8zM248.5 53.8h.8v.8h-.8zM245.7 51.7h.8v.8h-.8zM254.6 54.8h.8v.8h-.8zM246.0 52.6h.8v.8h-.8zM253.0 55.2h.8v.8h-.8zM254.6 53.6h.8v.8h-.8zM247.0 52.8h.8v.8h-.8zM248.9 54.6h.8v.8h-.8zM244.8 51.7h.8v.8h-.8zM243.5 54.5h.8v.8h-.8zM247.9 53.4h.8v.8h-.8zM248.7 47.6h.8v.8h-.8zM242.5 50.0h.8v.8h-.8zM241.4 51.1h.8v.8h-.8zM247.7 52.6h.8v.8h-.8zM249.5 52.6h.8v.8h-.8zM243.4 50.6h.8v.8h-.8zM242.5 54.0h.8v.8h-.8zM243.4 52.3h.8v.8h-.8zM245.1 51.7h.8v.8h-.8zM244.3 52.4h.8v.8h-.8zM244.4 50.3h.8v.8h-.8zM242.8 53.7h.8v.8h-.8zM241.5 49.6h.8v.8h-.8zM243.4 49.2h.8v.8h-.8zM247.5 54.7h.8v.8h-.8zM248.1 56.0h.8v.8h-.8zM243.8 54.9h.8v.8h-.8zM246.5 49.7h.8v.8h-.8zM244.4 52.8h.8v.8h-.8zM245.8 53.4h.8v.8h-.8zM244.4 53.5h.8v.8h-.8zM247.3 54.0h.8v.8h-.8zM244.9 47.8h.8v.8h-.8zM249.8 51.7h.8v.8h-.8zM245.3 47.1h.8v.8h-.8zM245.6 47.9h.8v.8h-.8zM250.6 50.3h.8v.8h-.8zM245.5 51.2h.8v.8h-.8zM244.5 57.3h.8v.8h-.8zM243.2 50.0h.8v.8h-.8zM242.5 51.0h.8v.8h-.8zM247.8 49.9h.8v.8h-.8zM244.8 52.4h.8v.8h-.8zM241.1 50.9h.8v.8h-.8zM241.2 52.2h.8v.8h-.8zM243.8 51.4h.8v.8h-.8zM249.0 52.3h.8v.8h-.8zM246.8 51.4h.8v.8h-.8zM252.9 50.0h.8v.8h-.8zM250.1 52.6h.8v.8h-.8zM244.6 53.6h.8v.8h-.8zM246.8 54.1h.8v.8h-.8zM247.6 52.0h.8v.8h-.8zM244.5 54.9h.8v.8h-.8zM249.3 52.3h.8v.8h-.8zM250.1 50.1h.8v.8h-.8zM243.7 54.0h.8v.8h-.8zM245.6 55.1h.8v.8h-.8zM242.6 54.0h.8v.8h-.8zM247.3 52.8h.8v.8h-.8zM243.7 54.0h.8v.8h-.8zM242.4 51.9h.8v.8h-.8zM242.0 46.8h.8v.8h-.8zM247.2 54.0h.8v.8h-.8zM247.8 55.2h.8v.8h-.8zM242.5 51.9h.8v.8h-.8zM247.2 52.9h.8v.8h-.8zM245.5 53.6h.8v.8h-.8zM241.4 51.3h.8v.8h-.8zM247.1 57.3h.8v.8h-.8zM249.6 53.0h.8v.8h-.8zM250.1 53.7h.8v.8h-.8zM246.4 51.0h.8v.8h-.8zM242.3 50.7h.8v.8h-.8zM249.4 52.3h.8v.8h-.8zM242.9 54.5h.8v.8h-.8zM247.0 50.9h.8v.8h-.8zM247.4 51.9h.8v.8h-.8zM243.1 51.3h.8v.8h-.8zM246.4 51.9h.8v.8h-.8zM247.5 55.6h.8v.8h-.8zM250.2 49.7h.8v.8h-.8zM245.6 55.4h.8v.8h-.8zM241.9 49.7h.8v.8h-.8zM243.4 53.2h.8v.8h-.8zM252.5 53.2h.8v.8h-.8zM249.9 55.4h.8v.8h-.8zM244.1 53.0h.8v.8h-.8zM246.8 53.8h.8v.8h-.8zM247.9 52.5h.8v.8h-.8zM244.4 49.1h.8v.8h-.8zM246.3 53.8h.8v.8h-.8zM245.2 51.0h.8v.8h-.8zM243.6 53.2h.8v.8h-.8zM244.2 53.9h.8v.8h-.8zM247.3 49.3h.8v.8h-.8zM246.5 54.8h.8v.8h-.8zM242.3 54.5h.8v.8h-.8zM244.5 54.0h.8v.8h-.8zM243.6 52.6h.8v.8h-.8zM246.3 54.1h.8v.8h-.8zM249.2 53.9h.8v.8h-.8zM245.9 52.7h.8v.8h-.8zM249.8 51.7h.8v.8h-.8zM248.1 51.6h.8v.8h-.8zM245.6 51.6h.8v.8h-.8zM245.9 53.3h.8v.8h-.8zM249.3 54.9h.8v.8h-.8zM245.4 50.6h.8v.8h-.8zM245.6 49.3h.8v.8h-.8zM245.8 50.0h.8v.8h-.8zM246.3 54.7h.8v.8h-.8zM246.4 52.1h.8v.8h-.8zM245.8 56.6h.8v.8h-.8zM247.5 53.9h.8v.8h-.8zM247.2 50.2h.8v.8h-.8zM244.2 54.2h.8v.8h-.8zM241.3 52.9h.8v.8h-.8zM245.7 50.0h.8v.8h-.8zM248.1 54.0h.8v.8h-.8zM246.7 53.6h.8v.8h-.8zM243.5 51.0h.8v.8h-.8zM244.2 52.9h.8v.8h-.8zM246.7 51.4h.8v.8h-.8zM246.3 47.7h.8v.8h-.8zM250.1 54.3h.8v.8h-.8zM246.0 52.3h.8v.8h-.8zM243.3 54.3h.8v.8h-.8zM248.9 50.9h.8v.8h-.8zM244.9 51.6h.8v.8h-.8zM247.5 52.8h.8v.8h-.8zM245.6 55.0h.8v.8h-.8zM248.7 52.0h.8v.8h-.8zM248.3 53.0h.8v.8h-.8zM249.8 50.4h.8v.8h-.8zM246.3 50.4h.8v.8h-.8zM252.5 52.2h.8v.8h-.8zM249.6 55.7h.8v.8h-.8zM248.0 51.4h.8v.8h-.8zM244.3 51.5h.8v.8h-.8zM246.0 51.9h.8v.8h-.8zM243.4 53.9h.8v.8h-.8zM246.8 53.8h.8v.8h-.8zM244.3 52.5h.8v.8h-.8zM254.2 55.1h.8v.8h-.8zM243.5 53.3h.8v.8h-.8zM242.7 49.8h.8v.8h-.8zM243.5 52.5h.8v.8h-.8zM248.0 54.6h.8v.8h-.8zM245.9 53.6h.8v.8h-.8zM243.0 49.6h.8v.8h-.8zM244.8 56.0h.8v.8h-.8zM246.5 49.4h.8v.8h-.8zM243.4 52.0h.8v.8h-.8zM241.0 50.5h.8v.8h-.8zM242.5 52.5h.8v.8h-.8zM245.0 54.3h.8v.8h-.8zM246.6 56.0h.8v.8h-.8zM250.3 53.3h.8v.8h-.8zM248.3 57.4h.8v.8h-.8zM247.1 54.3h.8v.8h-.8zM244.6 51.9h.8v.8h-.8zM249.0 53.1h.8v.8h-.8zM244.2 55.9h.8v.8h-.8zM246.2 54.6h.8v.8h-.8zM240.5 51.5h.8v.8h-.8zM245.9 51.2h.8v.8h-.8zM241.5 51.0h.8v.8h-.8zM246.5 54.6h.8v.8h-.8zM245.5 52.2h.8v.8h-.8zM246.3 51.0h.8v.8h-.8zM246.3 57.1h.8v.8h-.8zM245.8 53.9h.8v.8h-.8zM239.5 50.8h.8v.8h-.8zM246.8 51.8h.8v.8h-.8zM244.4 51.3h.8v.8h-.8zM245.7 52.2h.8v.8h-.8zM246.0 51.0h.8v.8h-.8zM245.6 56.8h.8v.8h-.8zM252.6 56.7h.8v.8h-.8zM243.0 54.5h.8v.8h-.8zM244.8 50.6h.8v.8h-.8zM246.6 53.8h.8v.8h-.8zM243.9 52.5h.8v.8h-.8zM248.8 55.2h.8v.8h-.8zM243.5 51.8h.8v.8h-.8zM242.7 53.1h.8v.8h-.8zM245.4 52.6h.8v.8h-.8zM249.3 54.1h.8v.8h-.8zM243.2 51.5h.8v.8h-.8zM246.4 55.4h.8v.8h-.8zM242.3 55.0h.8v.8h-.8zM249.4 53.4h.8v.8h-.8zM242.2 51.5h.8v.8h-.8zM245.6 48.8h.8v.8h-.8zM248.2 59.7h.8v.8h-.8zM253.4 61.9h.8v.8h-.8zM247.6 59.0h.8v.8h-.8zM251.9 61.2h.8v.8h-.8zM255.0 60.6h.8v.8h-.8zM254.1 59.6h.8v.8h-.8z" fill="#d21f2b"/>
<path d="M236.8 81.6h.75v.75h-.75zM236.6 82.6h.75v.75h-.75zM235.6 81.6h.75v.75h-.75zM236.8 80.7h.75v.75h-.75zM234.7 82.0h.75v.75h-.75zM236.5 79.9h.75v.75h-.75zM235.2 81.4h.75v.75h-.75zM236.4 82.2h.75v.75h-.75zM235.4 81.0h.75v.75h-.75zM236.3 80.7h.75v.75h-.75zM236.5 82.4h.75v.75h-.75zM237.0 80.2h.75v.75h-.75z" fill="#666"/>
<path d="M236.4 82.1h.8v.8h-.8zM238.4 86.9h.8v.8h-.8zM238.1 86.9h.8v.8h-.8zM237.7 86.4h.8v.8h-.8zM237.4 89.8h.8v.8h-.8zM236.8 86.5h.8v.8h-.8zM237.4 88.1h.8v.8h-.8zM238.6 82.8h.8v.8h-.8zM238.0 84.8h.8v.8h-.8zM238.0 86.2h.8v.8h-.8zM238.0 86.2h.8v.8h-.8zM238.9 85.0h.8v.8h-.8zM236.8 85.1h.8v.8h-.8zM239.6 88.5h.8v.8h-.8zM237.8 86.3h.8v.8h-.8zM236.7 84.9h.8v.8h-.8zM237.1 87.8h.8v.8h-.8zM238.2 87.1h.8v.8h-.8zM238.0 85.6h.8v.8h-.8zM238.9 91.1h.8v.8h-.8zM237.5 85.4h.8v.8h-.8zM236.5 85.0h.8v.8h-.8zM237.1 89.3h.8v.8h-.8zM238.7 87.9h.8v.8h-.8zM238.4 86.5h.8v.8h-.8zM237.6 83.9h.8v.8h-.8zM237.7 86.8h.8v.8h-.8zM239.0 85.3h.8v.8h-.8zM237.3 84.2h.8v.8h-.8zM237.2 86.3h.8v.8h-.8zM237.2 86.0h.8v.8h-.8zM236.6 85.5h.8v.8h-.8zM237.7 84.9h.8v.8h-.8zM239.0 86.5h.8v.8h-.8zM238.4 89.7h.8v.8h-.8zM238.0 87.7h.8v.8h-.8zM236.4 87.5h.8v.8h-.8zM237.4 86.2h.8v.8h-.8zM236.7 84.4h.8v.8h-.8zM238.4 88.9h.8v.8h-.8zM239.2 86.2h.8v.8h-.8zM237.1 86.5h.8v.8h-.8zM236.2 84.8h.8v.8h-.8zM237.6 84.3h.8v.8h-.8zM238.7 85.2h.8v.8h-.8zM238.1 88.1h.8v.8h-.8zM237.2 80.9h.8v.8h-.8zM238.0 83.7h.8v.8h-.8zM237.7 86.6h.8v.8h-.8zM237.9 86.2h.8v.8h-.8zM239.1 84.7h.8v.8h-.8zM237.5 87.4h.8v.8h-.8zM238.1 85.5h.8v.8h-.8zM238.3 88.0h.8v.8h-.8zM236.2 89.5h.8v.8h-.8zM237.1 84.3h.8v.8h-.8zM238.3 84.4h.8v.8h-.8zM237.1 83.7h.8v.8h-.8zM239.1 87.2h.8v.8h-.8zM238.0 86.5h.8v.8h-.8zM237.2 88.2h.8v.8h-.8zM238.9 83.2h.8v.8h-.8zM237.5 84.8h.8v.8h-.8zM239.0 86.3h.8v.8h-.8zM237.6 86.2h.8v.8h-.8zM238.1 85.8h.8v.8h-.8zM237.0 85.3h.8v.8h-.8zM237.6 85.3h.8v.8h-.8zM238.9 84.0h.8v.8h-.8zM238.6 84.0h.8v.8h-.8zM236.6 92.5h.8v.8h-.8zM236.5 95.7h.8v.8h-.8zM235.3 98.0h.8v.8h-.8zM236.4 97.8h.8v.8h-.8zM236.3 94.9h.8v.8h-.8zM235.9 97.9h.8v.8h-.8zM237.0 95.8h.8v.8h-.8zM237.2 94.1h.8v.8h-.8zM236.8 94.7h.8v.8h-.8zM236.4 100.5h.8v.8h-.8zM236.7 97.4h.8v.8h-.8zM237.6 93.5h.8v.8h-.8zM236.6 96.5h.8v.8h-.8zM236.7 97.2h.8v.8h-.8zM237.5 90.6h.8v.8h-.8zM237.4 91.1h.8v.8h-.8zM237.3 90.6h.8v.8h-.8zM234.9 98.1h.8v.8h-.8zM236.3 95.4h.8v.8h-.8zM236.9 97.4h.8v.8h-.8zM236.3 96.4h.8v.8h-.8zM237.0 94.1h.8v.8h-.8zM236.6 94.2h.8v.8h-.8zM236.3 91.5h.8v.8h-.8zM235.0 99.4h.8v.8h-.8zM236.9 92.5h.8v.8h-.8zM236.4 99.3h.8v.8h-.8zM236.7 91.9h.8v.8h-.8zM236.8 92.5h.8v.8h-.8zM235.5 98.6h.8v.8h-.8zM237.6 90.7h.8v.8h-.8zM236.1 92.0h.8v.8h-.8zM237.4 93.4h.8v.8h-.8zM237.1 94.3h.8v.8h-.8zM235.5 100.3h.8v.8h-.8z" fill="#80c4da"/>
<path d="M234.1 103.3h.75v.75h-.75zM234.5 103.7h.75v.75h-.75zM232.8 104.6h.75v.75h-.75zM236.4 98.3h.75v.75h-.75zM234.5 104.1h.75v.75h-.75zM236.8 96.8h.75v.75h-.75zM236.9 98.2h.75v.75h-.75zM236.6 98.4h.75v.75h-.75zM234.7 106.5h.75v.75h-.75zM235.9 99.2h.75v.75h-.75zM235.9 101.0h.75v.75h-.75zM235.4 102.0h.75v.75h-.75zM234.2 104.0h.75v.75h-.75zM233.9 101.8h.75v.75h-.75zM236.9 97.9h.75v.75h-.75zM234.9 102.5h.75v.75h-.75zM235.1 101.2h.75v.75h-.75zM234.2 102.0h.75v.75h-.75z" fill="#a9c84a"/>
<path d="M227.6 123.0h.75v.75h-.75zM215.6 105.3h.75v.75h-.75zM221.8 120.5h.75v.75h-.75zM223.5 108.5h.75v.75h-.75zM223.7 124.4h.75v.75h-.75zM229.1 109.6h.75v.75h-.75zM224.5 117.5h.75v.75h-.75zM208.3 111.0h.75v.75h-.75zM226.7 125.2h.75v.75h-.75zM215.8 117.6h.75v.75h-.75zM220.0 118.3h.75v.75h-.75zM215.9 123.8h.75v.75h-.75zM232.1 108.2h.75v.75h-.75zM238.4 122.7h.75v.75h-.75zM215.5 124.1h.75v.75h-.75zM221.6 114.6h.75v.75h-.75zM220.8 117.6h.75v.75h-.75zM228.9 121.5h.75v.75h-.75zM220.4 123.1h.75v.75h-.75zM218.9 114.7h.75v.75h-.75zM227.0 114.5h.75v.75h-.75zM219.3 115.8h.75v.75h-.75zM230.2 114.5h.75v.75h-.75zM222.5 115.8h.75v.75h-.75zM232.8 121.1h.75v.75h-.75zM226.3 122.1h.75v.75h-.75zM225.8 122.4h.75v.75h-.75zM220.7 119.3h.75v.75h-.75zM232.3 120.1h.75v.75h-.75zM218.9 129.2h.75v.75h-.75zM213.1 119.3h.75v.75h-.75zM223.2 111.3h.75v.75h-.75zM218.9 115.6h.75v.75h-.75zM217.4 106.3h.75v.75h-.75zM222.6 124.8h.75v.75h-.75zM223.4 116.1h.75v.75h-.75zM215.4 111.7h.75v.75h-.75zM238.8 120.5h.75v.75h-.75zM219.1 111.7h.75v.75h-.75zM218.1 118.4h.75v.75h-.75zM223.9 117.2h.75v.75h-.75zM209.8 112.5h.75v.75h-.75zM213.3 122.2h.75v.75h-.75zM219.3 109.1h.75v.75h-.75zM225.0 121.9h.75v.75h-.75zM228.8 114.4h.75v.75h-.75zM215.4 119.6h.75v.75h-.75zM224.6 121.9h.75v.75h-.75zM230.0 116.5h.75v.75h-.75zM225.9 106.2h.75v.75h-.75zM217.0 118.2h.75v.75h-.75zM233.2 125.0h.75v.75h-.75zM223.3 120.0h.75v.75h-.75zM219.3 127.0h.75v.75h-.75zM214.6 119.8h.75v.75h-.75zM228.1 111.0h.75v.75h-.75zM231.7 108.9h.75v.75h-.75zM222.7 113.8h.75v.75h-.75zM215.5 114.0h.75v.75h-.75zM232.3 112.9h.75v.75h-.75zM213.1 111.6h.75v.75h-.75zM216.6 113.8h.75v.75h-.75zM218.6 112.8h.75v.75h-.75zM228.2 115.7h.75v.75h-.75zM226.8 117.7h.75v.75h-.75zM224.4 121.5h.75v.75h-.75zM221.3 112.1h.75v.75h-.75zM222.7 109.5h.75v.75h-.75zM212.2 129.1h.75v.75h-.75zM224.7 109.1h.75v.75h-.75zM217.9 120.2h.75v.75h-.75zM225.7 120.4h.75v.75h-.75zM219.5 117.1h.75v.75h-.75zM230.0 113.2h.75v.75h-.75zM211.1 118.3h.75v.75h-.75zM232.0 121.5h.75v.75h-.75zM225.7 114.1h.75v.75h-.75zM234.8 119.9h.75v.75h-.75zM230.7 116.3h.75v.75h-.75zM229.7 116.9h.75v.75h-.75zM209.4 114.7h.75v.75h-.75zM217.8 110.4h.75v.75h-.75zM220.4 124.1h.75v.75h-.75zM211.2 111.4h.75v.75h-.75zM233.3 107.8h.75v.75h-.75zM224.4 114.0h.75v.75h-.75zM222.8 119.4h.75v.75h-.75zM220.5 114.6h.75v.75h-.75zM214.9 110.6h.75v.75h-.75zM219.2 109.8h.75v.75h-.75zM221.1 107.4h.75v.75h-.75zM226.3 113.5h.75v.75h-.75zM220.1 112.4h.75v.75h-.75zM231.2 127.7h.75v.75h-.75zM224.1 119.7h.75v.75h-.75zM225.1 111.6h.75v.75h-.75zM220.5 116.1h.75v.75h-.75zM223.1 115.1h.75v.75h-.75zM227.5 107.6h.75v.75h-.75zM223.8 114.0h.75v.75h-.75zM224.9 119.6h.75v.75h-.75zM217.9 120.6h.75v.75h-.75zM215.7 123.1h.75v.75h-.75zM220.7 125.8h.75v.75h-.75zM220.1 130.9h.75v.75h-.75zM215.2 116.8h.75v.75h-.75zM230.8 114.1h.75v.75h-.75zM236.1 118.0h.75v.75h-.75zM220.7 118.7h.75v.75h-.75zM211.3 113.3h.75v.75h-.75zM219.5 106.9h.75v.75h-.75zM228.8 120.9h.75v.75h-.75zM228.7 111.7h.75v.75h-.75zM225.6 125.3h.75v.75h-.75zM213.7 119.6h.75v.75h-.75zM222.6 112.0h.75v.75h-.75zM220.8 123.6h.75v.75h-.75zM221.3 125.0h.75v.75h-.75zM223.8 128.0h.75v.75h-.75zM221.5 117.0h.75v.75h-.75zM231.3 127.2h.75v.75h-.75zM220.4 119.0h.75v.75h-.75zM232.9 113.9h.75v.75h-.75zM219.5 118.8h.75v.75h-.75zM228.3 119.8h.75v.75h-.75zM218.5 115.8h.75v.75h-.75zM225.5 123.6h.75v.75h-.75zM220.8 123.7h.75v.75h-.75zM216.0 119.7h.75v.75h-.75zM221.6 125.5h.75v.75h-.75zM229.2 120.7h.75v.75h-.75zM230.6 119.9h.75v.75h-.75zM211.2 123.6h.75v.75h-.75zM217.5 119.8h.75v.75h-.75zM225.4 128.4h.75v.75h-.75zM224.2 117.5h.75v.75h-.75zM218.6 115.3h.75v.75h-.75zM223.2 114.3h.75v.75h-.75zM233.2 109.4h.75v.75h-.75zM225.6 119.0h.75v.75h-.75zM229.9 109.4h.75v.75h-.75zM219.8 106.4h.75v.75h-.75zM221.6 120.4h.75v.75h-.75zM225.3 122.3h.75v.75h-.75zM222.5 118.1h.75v.75h-.75zM226.5 117.2h.75v.75h-.75zM213.6 122.0h.75v.75h-.75zM214.5 122.4h.75v.75h-.75zM216.5 117.9h.75v.75h-.75zM226.2 121.2h.75v.75h-.75zM225.0 122.1h.75v.75h-.75zM226.7 114.1h.75v.75h-.75zM211.8 115.9h.75v.75h-.75zM213.3 112.1h.75v.75h-.75zM228.3 116.9h.75v.75h-.75zM215.0 114.8h.75v.75h-.75zM223.8 117.2h.75v.75h-.75zM226.2 116.4h.75v.75h-.75zM221.3 124.2h.75v.75h-.75zM216.1 115.0h.75v.75h-.75zM219.2 109.2h.75v.75h-.75zM216.2 120.6h.75v.75h-.75zM217.6 121.4h.75v.75h-.75zM224.2 114.2h.75v.75h-.75zM220.4 116.9h.75v.75h-.75zM218.7 121.5h.75v.75h-.75zM225.6 131.1h.75v.75h-.75zM223.6 126.1h.75v.75h-.75zM225.8 111.6h.75v.75h-.75zM224.9 125.8h.75v.75h-.75zM220.6 108.7h.75v.75h-.75zM210.6 120.5h.75v.75h-.75zM216.3 120.8h.75v.75h-.75zM227.3 115.2h.75v.75h-.75zM228.5 116.6h.75v.75h-.75zM220.3 117.6h.75v.75h-.75zM233.1 116.4h.75v.75h-.75zM211.0 120.2h.75v.75h-.75zM224.6 117.4h.75v.75h-.75zM225.9 112.4h.75v.75h-.75zM210.4 122.1h.75v.75h-.75zM225.0 106.0h.75v.75h-.75zM218.9 105.9h.75v.75h-.75zM239.1 122.5h.75v.75h-.75zM229.4 121.9h.75v.75h-.75zM216.6 122.9h.75v.75h-.75zM213.7 108.3h.75v.75h-.75zM213.6 112.1h.75v.75h-.75zM220.4 112.9h.75v.75h-.75zM212.3 119.3h.75v.75h-.75zM213.9 119.5h.75v.75h-.75zM216.6 112.8h.75v.75h-.75zM226.7 112.7h.75v.75h-.75zM234.4 111.0h.75v.75h-.75zM215.5 125.5h.75v.75h-.75zM221.1 113.4h.75v.75h-.75zM218.4 119.4h.75v.75h-.75zM228.5 124.5h.75v.75h-.75zM210.9 126.6h.75v.75h-.75zM225.8 113.4h.75v.75h-.75zM230.7 121.5h.75v.75h-.75zM225.1 116.3h.75v.75h-.75zM223.9 118.1h.75v.75h-.75zM236.4 117.3h.75v.75h-.75zM213.3 118.2h.75v.75h-.75zM215.3 109.8h.75v.75h-.75zM238.0 125.5h.75v.75h-.75zM214.2 128.7h.75v.75h-.75zM214.1 116.0h.75v.75h-.75zM217.4 116.1h.75v.75h-.75zM215.0 115.7h.75v.75h-.75zM212.8 112.8h.75v.75h-.75zM213.9 110.0h.75v.75h-.75zM238.5 116.2h.75v.75h-.75zM223.3 113.0h.75v.75h-.75zM213.2 111.8h.75v.75h-.75zM223.7 107.1h.75v.75h-.75zM231.4 108.3h.75v.75h-.75zM212.4 112.4h.75v.75h-.75zM227.3 124.1h.75v.75h-.75zM215.8 114.4h.75v.75h-.75zM232.7 112.1h.75v.75h-.75zM233.0 116.2h.75v.75h-.75zM231.1 110.7h.75v.75h-.75zM213.9 123.6h.75v.75h-.75zM227.5 110.7h.75v.75h-.75zM227.9 122.3h.75v.75h-.75zM224.8 116.6h.75v.75h-.75zM223.9 108.8h.75v.75h-.75zM217.8 119.1h.75v.75h-.75zM218.4 116.8h.75v.75h-.75zM221.6 108.9h.75v.75h-.75zM227.9 115.0h.75v.75h-.75zM224.4 109.3h.75v.75h-.75zM229.7 113.6h.75v.75h-.75zM223.6 117.1h.75v.75h-.75zM225.0 118.7h.75v.75h-.75zM224.3 115.9h.75v.75h-.75zM233.1 116.0h.75v.75h-.75zM225.6 113.3h.75v.75h-.75zM224.5 120.6h.75v.75h-.75zM209.1 117.1h.75v.75h-.75zM216.4 126.0h.75v.75h-.75zM210.3 122.0h.75v.75h-.75zM229.3 127.5h.75v.75h-.75zM222.1 117.1h.75v.75h-.75zM211.4 114.1h.75v.75h-.75zM219.1 110.9h.75v.75h-.75zM215.3 115.2h.75v.75h-.75zM232.0 109.4h.75v.75h-.75zM223.9 118.1h.75v.75h-.75zM216.5 112.5h.75v.75h-.75zM216.1 118.3h.75v.75h-.75zM221.0 115.2h.75v.75h-.75zM232.6 124.5h.75v.75h-.75zM226.0 108.7h.75v.75h-.75zM231.3 122.6h.75v.75h-.75zM220.0 107.5h.75v.75h-.75zM223.7 130.6h.75v.75h-.75zM229.6 125.2h.75v.75h-.75zM217.1 122.6h.75v.75h-.75zM235.3 120.3h.75v.75h-.75zM223.5 110.6h.75v.75h-.75zM231.0 127.2h.75v.75h-.75zM218.6 117.3h.75v.75h-.75zM229.6 129.6h.75v.75h-.75zM228.8 123.3h.75v.75h-.75zM213.1 118.4h.75v.75h-.75zM231.3 118.3h.75v.75h-.75zM228.2 110.1h.75v.75h-.75zM232.1 113.8h.75v.75h-.75zM211.6 119.2h.75v.75h-.75zM228.0 115.4h.75v.75h-.75zM226.4 121.7h.75v.75h-.75zM213.6 105.1h.75v.75h-.75zM233.6 122.5h.75v.75h-.75zM225.3 112.5h.75v.75h-.75zM229.7 115.1h.75v.75h-.75zM221.6 121.6h.75v.75h-.75zM220.2 126.1h.75v.75h-.75zM223.4 112.6h.75v.75h-.75zM232.5 116.8h.75v.75h-.75zM226.2 110.8h.75v.75h-.75zM222.4 118.2h.75v.75h-.75zM232.0 117.1h.75v.75h-.75zM223.8 110.7h.75v.75h-.75zM218.2 123.3h.75v.75h-.75zM221.9 113.2h.75v.75h-.75zM224.9 115.6h.75v.75h-.75zM230.1 115.1h.75v.75h-.75zM217.0 118.3h.75v.75h-.75zM218.0 128.5h.75v.75h-.75zM217.3 120.5h.75v.75h-.75zM214.0 115.1h.75v.75h-.75zM236.8 124.8h.75v.75h-.75zM231.2 120.4h.75v.75h-.75zM223.6 112.4h.75v.75h-.75zM218.4 120.5h.75v.75h-.75zM232.4 108.6h.75v.75h-.75zM238.4 118.7h.75v.75h-.75zM221.0 118.3h.75v.75h-.75zM224.9 117.6h.75v.75h-.75zM227.8 120.9h.75v.75h-.75zM214.2 114.1h.75v.75h-.75zM208.8 110.5h.75v.75h-.75zM221.2 108.8h.75v.75h-.75zM222.0 120.0h.75v.75h-.75zM225.7 118.3h.75v.75h-.75zM231.5 117.1h.75v.75h-.75zM233.0 114.1h.75v.75h-.75zM236.3 123.6h.75v.75h-.75zM236.0 121.4h.75v.75h-.75zM216.1 117.3h.75v.75h-.75zM227.3 111.4h.75v.75h-.75zM226.1 121.7h.75v.75h-.75zM227.2 118.7h.75v.75h-.75zM228.8 117.8h.75v.75h-.75zM225.7 108.6h.75v.75h-.75zM218.0 120.6h.75v.75h-.75zM220.8 120.8h.75v.75h-.75zM221.6 118.9h.75v.75h-.75zM217.7 116.5h.75v.75h-.75zM230.0 114.2h.75v.75h-.75zM215.8 109.0h.75v.75h-.75zM218.1 111.1h.75v.75h-.75zM231.5 122.4h.75v.75h-.75zM225.3 116.7h.75v.75h-.75zM216.8 120.1h.75v.75h-.75zM220.7 121.6h.75v.75h-.75zM216.1 111.2h.75v.75h-.75zM222.3 109.1h.75v.75h-.75zM218.8 122.4h.75v.75h-.75zM218.7 115.8h.75v.75h-.75zM208.1 120.4h.75v.75h-.75zM232.6 107.6h.75v.75h-.75zM236.8 122.6h.75v.75h-.75zM220.9 120.5h.75v.75h-.75zM219.0 127.7h.75v.75h-.75zM216.4 122.5h.75v.75h-.75zM210.2 121.8h.75v.75h-.75zM218.5 110.3h.75v.75h-.75zM220.1 128.9h.75v.75h-.75zM229.9 117.5h.75v.75h-.75zM219.1 118.9h.75v.75h-.75zM226.1 115.6h.75v.75h-.75zM220.5 123.3h.75v.75h-.75zM224.9 105.2h.75v.75h-.75zM223.2 112.6h.75v.75h-.75zM220.5 120.9h.75v.75h-.75zM216.2 123.4h.75v.75h-.75zM216.3 123.8h.75v.75h-.75zM211.2 123.7h.75v.75h-.75zM224.2 128.2h.75v.75h-.75zM217.9 118.5h.75v.75h-.75zM216.8 117.2h.75v.75h-.75zM233.1 117.3h.75v.75h-.75zM219.8 127.6h.75v.75h-.75zM222.6 116.5h.75v.75h-.75zM224.0 117.5h.75v.75h-.75zM227.5 119.8h.75v.75h-.75zM224.9 116.9h.75v.75h-.75zM219.1 119.2h.75v.75h-.75zM215.0 116.6h.75v.75h-.75zM220.9 114.8h.75v.75h-.75zM223.4 127.5h.75v.75h-.75zM215.8 114.6h.75v.75h-.75zM217.6 118.1h.75v.75h-.75zM226.7 124.6h.75v.75h-.75zM220.0 116.5h.75v.75h-.75zM216.5 117.8h.75v.75h-.75zM216.8 122.4h.75v.75h-.75zM217.1 113.3h.75v.75h-.75zM229.1 112.7h.75v.75h-.75zM233.3 115.5h.75v.75h-.75zM229.9 107.3h.75v.75h-.75zM235.8 119.3h.75v.75h-.75zM220.9 119.1h.75v.75h-.75zM218.9 118.9h.75v.75h-.75zM228.8 106.7h.75v.75h-.75zM226.4 122.6h.75v.75h-.75zM216.3 118.4h.75v.75h-.75zM230.8 117.1h.75v.75h-.75zM231.5 114.4h.75v.75h-.75zM233.3 106.5h.75v.75h-.75zM227.0 116.7h.75v.75h-.75zM222.4 126.7h.75v.75h-.75zM220.7 119.9h.75v.75h-.75zM225.5 124.1h.75v.75h-.75zM211.0 106.1h.75v.75h-.75zM227.5 118.9h.75v.75h-.75zM217.5 117.3h.75v.75h-.75zM213.9 113.6h.75v.75h-.75zM213.7 116.9h.75v.75h-.75zM234.2 112.7h.75v.75h-.75zM217.4 105.8h.75v.75h-.75zM214.8 117.5h.75v.75h-.75zM214.4 126.9h.75v.75h-.75zM213.2 110.0h.75v.75h-.75zM222.7 115.3h.75v.75h-.75zM227.6 108.5h.75v.75h-.75zM227.5 126.2h.75v.75h-.75zM217.0 118.1h.75v.75h-.75zM222.8 127.6h.75v.75h-.75zM220.5 119.5h.75v.75h-.75zM222.9 115.8h.75v.75h-.75zM239.7 118.5h.75v.75h-.75zM222.3 117.0h.75v.75h-.75zM226.7 122.7h.75v.75h-.75zM209.8 117.1h.75v.75h-.75zM215.2 119.3h.75v.75h-.75zM219.5 117.8h.75v.75h-.75zM226.7 109.6h.75v.75h-.75zM226.5 114.9h.75v.75h-.75zM217.8 108.6h.75v.75h-.75zM220.5 121.0h.75v.75h-.75zM211.7 119.9h.75v.75h-.75zM220.7 106.2h.75v.75h-.75zM228.6 122.8h.75v.75h-.75zM234.7 109.9h.75v.75h-.75zM222.4 107.6h.75v.75h-.75zM221.1 127.2h.75v.75h-.75zM222.8 116.9h.75v.75h-.75zM220.0 116.7h.75v.75h-.75zM222.9 114.2h.75v.75h-.75zM225.5 107.3h.75v.75h-.75zM219.1 116.6h.75v.75h-.75zM226.5 116.1h.75v.75h-.75zM225.4 118.1h.75v.75h-.75zM220.9 113.7h.75v.75h-.75zM217.3 111.5h.75v.75h-.75zM209.0 123.6h.75v.75h-.75zM218.4 113.6h.75v.75h-.75zM229.4 113.2h.75v.75h-.75zM227.4 119.4h.75v.75h-.75zM225.7 114.0h.75v.75h-.75zM211.5 112.8h.75v.75h-.75zM231.5 117.5h.75v.75h-.75zM215.0 117.4h.75v.75h-.75zM224.9 119.9h.75v.75h-.75zM228.0 116.7h.75v.75h-.75zM218.3 127.3h.75v.75h-.75zM225.7 124.2h.75v.75h-.75zM218.7 118.0h.75v.75h-.75zM228.6 112.5h.75v.75h-.75zM220.7 124.4h.75v.75h-.75zM228.2 123.4h.75v.75h-.75zM214.1 122.0h.75v.75h-.75zM221.0 117.3h.75v.75h-.75zM228.6 126.5h.75v.75h-.75zM217.9 103.5h.75v.75h-.75zM223.5 116.9h.75v.75h-.75zM224.4 113.8h.75v.75h-.75zM214.9 127.1h.75v.75h-.75zM214.1 111.0h.75v.75h-.75zM215.5 119.7h.75v.75h-.75zM222.1 121.5h.75v.75h-.75zM215.8 115.4h.75v.75h-.75zM217.1 125.2h.75v.75h-.75zM211.6 118.2h.75v.75h-.75zM222.1 113.9h.75v.75h-.75zM218.6 113.4h.75v.75h-.75zM224.4 108.2h.75v.75h-.75zM220.1 122.4h.75v.75h-.75zM211.8 110.0h.75v.75h-.75zM222.4 120.6h.75v.75h-.75zM223.0 112.0h.75v.75h-.75zM214.1 123.1h.75v.75h-.75zM220.2 123.1h.75v.75h-.75zM213.5 113.9h.75v.75h-.75zM233.0 120.2h.75v.75h-.75zM217.5 121.8h.75v.75h-.75zM228.0 114.9h.75v.75h-.75zM225.0 115.0h.75v.75h-.75zM223.8 117.7h.75v.75h-.75zM220.1 130.0h.75v.75h-.75zM217.3 114.9h.75v.75h-.75zM219.4 122.4h.75v.75h-.75zM223.5 131.2h.75v.75h-.75zM222.5 107.9h.75v.75h-.75zM223.9 111.9h.75v.75h-.75zM215.5 128.6h.75v.75h-.75zM228.3 121.3h.75v.75h-.75zM215.4 107.9h.75v.75h-.75zM219.3 111.0h.75v.75h-.75zM236.5 127.1h.75v.75h-.75zM212.8 117.8h.75v.75h-.75zM221.6 111.4h.75v.75h-.75zM227.5 127.2h.75v.75h-.75zM220.0 120.6h.75v.75h-.75zM227.4 116.5h.75v.75h-.75zM227.9 123.5h.75v.75h-.75zM231.6 127.4h.75v.75h-.75zM231.9 122.2h.75v.75h-.75zM217.4 120.2h.75v.75h-.75zM220.4 117.9h.75v.75h-.75zM208.7 125.0h.75v.75h-.75zM214.0 115.5h.75v.75h-.75zM222.4 126.7h.75v.75h-.75zM225.2 131.2h.75v.75h-.75zM232.4 119.0h.75v.75h-.75zM215.3 106.9h.75v.75h-.75zM218.6 122.2h.75v.75h-.75zM220.5 105.3h.75v.75h-.75zM220.7 109.6h.75v.75h-.75zM225.9 117.9h.75v.75h-.75zM225.3 119.3h.75v.75h-.75zM226.0 109.0h.75v.75h-.75zM229.0 119.6h.75v.75h-.75zM229.9 116.0h.75v.75h-.75zM222.8 110.3h.75v.75h-.75zM213.2 106.6h.75v.75h-.75zM219.8 122.6h.75v.75h-.75zM229.7 120.3h.75v.75h-.75zM223.8 124.0h.75v.75h-.75zM235.4 123.0h.75v.75h-.75zM218.4 111.9h.75v.75h-.75zM220.7 118.9h.75v.75h-.75zM217.6 123.3h.75v.75h-.75zM217.5 123.7h.75v.75h-.75zM219.5 114.1h.75v.75h-.75zM220.9 117.0h.75v.75h-.75zM218.6 121.0h.75v.75h-.75zM218.9 118.5h.75v.75h-.75zM222.7 113.9h.75v.75h-.75zM237.9 116.6h.75v.75h-.75zM238.0 115.6h.75v.75h-.75zM228.6 114.9h.75v.75h-.75zM230.6 109.6h.75v.75h-.75zM223.6 125.0h.75v.75h-.75zM215.4 127.9h.75v.75h-.75zM231.3 128.7h.75v.75h-.75zM228.7 118.4h.75v.75h-.75zM231.1 123.3h.75v.75h-.75zM220.3 116.0h.75v.75h-.75zM237.2 119.6h.75v.75h-.75zM217.3 114.7h.75v.75h-.75zM211.2 117.1h.75v.75h-.75zM223.2 104.1h.75v.75h-.75zM216.7 118.9h.75v.75h-.75zM214.3 113.6h.75v.75h-.75zM232.2 127.3h.75v.75h-.75zM219.2 113.4h.75v.75h-.75zM220.4 123.1h.75v.75h-.75zM217.7 123.0h.75v.75h-.75zM226.3 114.4h.75v.75h-.75zM231.3 122.1h.75v.75h-.75zM215.8 117.1h.75v.75h-.75zM226.0 116.1h.75v.75h-.75zM209.9 124.8h.75v.75h-.75zM220.8 120.3h.75v.75h-.75zM218.4 118.0h.75v.75h-.75zM224.9 125.6h.75v.75h-.75zM211.4 127.6h.75v.75h-.75zM225.2 112.8h.75v.75h-.75zM223.8 116.3h.75v.75h-.75zM229.0 114.6h.75v.75h-.75zM224.8 118.2h.75v.75h-.75zM219.4 119.0h.75v.75h-.75zM224.8 104.9h.75v.75h-.75zM229.7 107.3h.75v.75h-.75zM215.9 118.1h.75v.75h-.75zM210.0 125.1h.75v.75h-.75zM221.3 106.6h.75v.75h-.75zM210.1 122.8h.75v.75h-.75zM217.4 107.0h.75v.75h-.75zM230.2 112.5h.75v.75h-.75zM226.5 117.2h.75v.75h-.75zM221.2 122.1h.75v.75h-.75zM232.7 114.7h.75v.75h-.75zM211.7 128.4h.75v.75h-.75zM212.5 115.1h.75v.75h-.75zM213.5 127.4h.75v.75h-.75zM217.2 113.4h.75v.75h-.75zM224.2 130.1h.75v.75h-.75zM221.5 116.3h.75v.75h-.75zM223.8 115.6h.75v.75h-.75zM223.8 113.8h.75v.75h-.75zM223.4 111.4h.75v.75h-.75zM222.7 112.5h.75v.75h-.75zM230.7 123.0h.75v.75h-.75zM223.7 129.3h.75v.75h-.75zM216.9 122.8h.75v.75h-.75zM231.3 116.1h.75v.75h-.75zM209.4 124.0h.75v.75h-.75zM221.9 107.4h.75v.75h-.75zM223.3 107.6h.75v.75h-.75zM224.6 127.4h.75v.75h-.75zM223.8 119.5h.75v.75h-.75zM216.8 112.5h.75v.75h-.75zM219.8 121.4h.75v.75h-.75zM217.5 108.6h.75v.75h-.75zM213.3 112.2h.75v.75h-.75zM218.4 118.0h.75v.75h-.75zM217.3 113.2h.75v.75h-.75zM218.5 113.3h.75v.75h-.75zM223.6 127.0h.75v.75h-.75zM222.4 108.9h.75v.75h-.75zM229.6 124.5h.75v.75h-.75zM215.1 108.6h.75v.75h-.75zM229.1 115.6h.75v.75h-.75zM218.1 117.3h.75v.75h-.75zM226.5 115.8h.75v.75h-.75zM227.1 119.6h.75v.75h-.75zM223.4 113.8h.75v.75h-.75zM225.5 119.0h.75v.75h-.75zM224.9 125.4h.75v.75h-.75zM217.0 118.7h.75v.75h-.75zM220.4 110.8h.75v.75h-.75zM220.8 110.9h.75v.75h-.75zM224.9 122.8h.75v.75h-.75zM229.4 104.0h.75v.75h-.75zM227.9 117.8h.75v.75h-.75zM221.5 120.2h.75v.75h-.75zM219.4 117.1h.75v.75h-.75zM226.5 115.5h.75v.75h-.75zM224.3 116.6h.75v.75h-.75zM223.0 119.8h.75v.75h-.75zM222.2 120.1h.75v.75h-.75zM221.1 118.2h.75v.75h-.75zM218.2 114.3h.75v.75h-.75zM218.3 127.7h.75v.75h-.75zM228.9 128.9h.75v.75h-.75zM224.9 105.6h.75v.75h-.75zM213.2 110.7h.75v.75h-.75zM221.1 124.3h.75v.75h-.75zM218.8 113.6h.75v.75h-.75zM217.5 112.4h.75v.75h-.75zM216.8 115.9h.75v.75h-.75zM217.7 123.8h.75v.75h-.75zM215.0 117.1h.75v.75h-.75zM215.5 113.0h.75v.75h-.75zM215.3 113.0h.75v.75h-.75zM223.9 131.2h.75v.75h-.75zM211.6 127.7h.75v.75h-.75zM226.3 120.9h.75v.75h-.75zM214.1 124.4h.75v.75h-.75zM214.6 117.6h.75v.75h-.75zM207.8 121.7h.75v.75h-.75zM223.6 109.7h.75v.75h-.75zM221.6 110.1h.75v.75h-.75zM229.4 113.4h.75v.75h-.75zM231.4 127.9h.75v.75h-.75zM231.1 128.7h.75v.75h-.75zM215.3 116.6h.75v.75h-.75zM223.2 109.0h.75v.75h-.75zM229.5 109.3h.75v.75h-.75zM218.0 113.2h.75v.75h-.75zM215.6 120.1h.75v.75h-.75zM217.4 113.6h.75v.75h-.75zM223.5 118.1h.75v.75h-.75zM235.0 124.7h.75v.75h-.75zM222.6 116.3h.75v.75h-.75zM219.7 109.5h.75v.75h-.75zM215.9 116.9h.75v.75h-.75zM220.1 121.8h.75v.75h-.75zM227.7 118.3h.75v.75h-.75zM225.7 119.1h.75v.75h-.75zM223.5 122.5h.75v.75h-.75zM226.6 115.8h.75v.75h-.75zM224.5 111.6h.75v.75h-.75zM209.8 115.1h.75v.75h-.75zM230.6 115.0h.75v.75h-.75zM223.2 117.4h.75v.75h-.75zM227.9 118.9h.75v.75h-.75zM224.1 126.7h.75v.75h-.75zM230.0 105.7h.75v.75h-.75zM217.0 112.3h.75v.75h-.75zM222.5 112.5h.75v.75h-.75zM223.8 118.2h.75v.75h-.75zM230.1 124.0h.75v.75h-.75zM208.8 116.2h.75v.75h-.75zM222.3 110.2h.75v.75h-.75zM226.0 111.1h.75v.75h-.75zM220.6 115.1h.75v.75h-.75zM218.1 112.4h.75v.75h-.75zM233.1 115.1h.75v.75h-.75zM215.0 111.1h.75v.75h-.75zM228.3 116.4h.75v.75h-.75zM222.5 124.3h.75v.75h-.75zM212.4 117.0h.75v.75h-.75zM217.5 112.9h.75v.75h-.75zM222.5 120.4h.75v.75h-.75zM226.3 111.7h.75v.75h-.75zM226.2 114.9h.75v.75h-.75zM224.3 118.9h.75v.75h-.75zM214.0 110.8h.75v.75h-.75zM211.3 120.6h.75v.75h-.75zM225.0 128.6h.75v.75h-.75zM227.9 120.8h.75v.75h-.75zM213.4 127.9h.75v.75h-.75zM225.4 112.0h.75v.75h-.75zM227.5 115.7h.75v.75h-.75zM214.0 109.5h.75v.75h-.75zM215.4 120.8h.75v.75h-.75zM218.1 121.7h.75v.75h-.75zM215.8 111.0h.75v.75h-.75zM210.0 119.3h.75v.75h-.75zM235.2 113.5h.75v.75h-.75zM227.2 118.5h.75v.75h-.75zM218.2 108.5h.75v.75h-.75zM229.1 121.2h.75v.75h-.75zM220.1 123.0h.75v.75h-.75zM224.2 116.9h.75v.75h-.75zM228.5 114.3h.75v.75h-.75zM219.4 124.7h.75v.75h-.75zM218.6 124.1h.75v.75h-.75zM215.0 107.1h.75v.75h-.75zM210.3 121.1h.75v.75h-.75zM227.0 130.4h.75v.75h-.75zM218.7 126.7h.75v.75h-.75zM215.4 115.7h.75v.75h-.75zM217.1 123.6h.75v.75h-.75zM226.1 113.3h.75v.75h-.75zM230.2 120.9h.75v.75h-.75zM225.8 115.6h.75v.75h-.75zM218.7 121.5h.75v.75h-.75zM230.5 117.3h.75v.75h-.75zM216.0 119.2h.75v.75h-.75zM215.1 125.0h.75v.75h-.75zM220.2 105.8h.75v.75h-.75zM225.0 107.4h.75v.75h-.75zM213.9 119.7h.75v.75h-.75zM220.8 119.9h.75v.75h-.75zM224.7 125.3h.75v.75h-.75zM219.3 112.6h.75v.75h-.75zM217.4 106.9h.75v.75h-.75zM227.6 126.9h.75v.75h-.75zM231.3 125.7h.75v.75h-.75zM226.1 118.6h.75v.75h-.75zM224.3 116.1h.75v.75h-.75zM220.8 109.3h.75v.75h-.75zM229.0 111.5h.75v.75h-.75zM214.7 117.0h.75v.75h-.75zM225.6 111.9h.75v.75h-.75zM218.0 121.4h.75v.75h-.75zM222.7 121.3h.75v.75h-.75zM216.8 128.3h.75v.75h-.75zM214.6 115.5h.75v.75h-.75zM217.6 119.5h.75v.75h-.75zM215.9 112.8h.75v.75h-.75zM229.6 105.2h.75v.75h-.75zM229.3 116.8h.75v.75h-.75zM219.5 114.5h.75v.75h-.75zM215.6 125.9h.75v.75h-.75zM214.9 120.0h.75v.75h-.75zM219.0 113.9h.75v.75h-.75zM220.8 109.0h.75v.75h-.75zM215.0 117.4h.75v.75h-.75zM228.7 114.8h.75v.75h-.75zM228.2 118.1h.75v.75h-.75zM215.9 121.1h.75v.75h-.75zM217.1 113.0h.75v.75h-.75zM227.5 110.5h.75v.75h-.75zM214.9 117.8h.75v.75h-.75zM224.1 123.3h.75v.75h-.75zM234.2 120.2h.75v.75h-.75zM220.2 118.1h.75v.75h-.75zM216.6 124.7h.75v.75h-.75zM217.7 122.1h.75v.75h-.75zM212.9 127.8h.75v.75h-.75zM224.1 118.2h.75v.75h-.75zM227.1 118.8h.75v.75h-.75zM220.0 121.5h.75v.75h-.75zM212.6 117.5h.75v.75h-.75zM228.0 112.4h.75v.75h-.75zM216.1 124.9h.75v.75h-.75zM225.1 111.4h.75v.75h-.75zM216.8 116.8h.75v.75h-.75zM221.7 112.0h.75v.75h-.75zM216.1 112.5h.75v.75h-.75zM219.8 120.1h.75v.75h-.75zM221.4 112.9h.75v.75h-.75zM222.1 107.5h.75v.75h-.75zM223.7 123.3h.75v.75h-.75zM231.4 114.8h.75v.75h-.75zM224.1 116.5h.75v.75h-.75zM216.2 118.9h.75v.75h-.75zM210.0 120.4h.75v.75h-.75zM223.3 108.6h.75v.75h-.75zM219.0 117.7h.75v.75h-.75zM231.9 121.4h.75v.75h-.75zM215.4 109.3h.75v.75h-.75zM222.7 104.1h.75v.75h-.75zM226.7 108.7h.75v.75h-.75zM216.0 123.9h.75v.75h-.75zM227.3 105.9h.75v.75h-.75zM225.7 111.8h.75v.75h-.75zM222.7 125.0h.75v.75h-.75zM227.6 128.7h.75v.75h-.75zM218.1 126.2h.75v.75h-.75zM225.2 117.8h.75v.75h-.75zM219.6 123.5h.75v.75h-.75zM222.2 124.4h.75v.75h-.75zM227.9 116.3h.75v.75h-.75zM218.9 116.7h.75v.75h-.75zM220.2 104.2h.75v.75h-.75zM224.0 113.0h.75v.75h-.75zM221.7 104.4h.75v.75h-.75zM213.2 125.8h.75v.75h-.75zM225.1 119.8h.75v.75h-.75zM210.7 109.3h.75v.75h-.75zM220.5 131.2h.75v.75h-.75zM216.3 122.7h.75v.75h-.75zM232.1 122.0h.75v.75h-.75zM223.6 124.7h.75v.75h-.75zM223.9 120.5h.75v.75h-.75zM210.7 112.1h.75v.75h-.75zM221.8 111.8h.75v.75h-.75zM227.3 113.8h.75v.75h-.75zM218.8 112.1h.75v.75h-.75zM220.1 122.3h.75v.75h-.75zM224.9 114.5h.75v.75h-.75zM224.6 121.4h.75v.75h-.75zM212.6 118.1h.75v.75h-.75zM227.0 113.5h.75v.75h-.75zM223.2 115.2h.75v.75h-.75zM219.2 117.5h.75v.75h-.75zM227.8 122.3h.75v.75h-.75zM214.6 125.0h.75v.75h-.75zM214.6 121.7h.75v.75h-.75zM215.9 114.6h.75v.75h-.75zM224.7 114.6h.75v.75h-.75zM221.4 110.2h.75v.75h-.75zM209.5 122.1h.75v.75h-.75zM227.1 116.3h.75v.75h-.75zM216.7 118.3h.75v.75h-.75zM217.7 106.3h.75v.75h-.75zM226.1 114.0h.75v.75h-.75zM218.7 111.8h.75v.75h-.75zM217.1 124.1h.75v.75h-.75zM214.0 124.4h.75v.75h-.75zM232.5 121.0h.75v.75h-.75zM226.9 114.5h.75v.75h-.75zM232.4 108.3h.75v.75h-.75zM211.6 118.8h.75v.75h-.75zM223.5 108.9h.75v.75h-.75zM233.6 114.5h.75v.75h-.75zM229.7 114.5h.75v.75h-.75zM226.9 113.2h.75v.75h-.75zM212.9 106.3h.75v.75h-.75zM212.0 121.7h.75v.75h-.75zM226.3 122.5h.75v.75h-.75zM218.7 117.6h.75v.75h-.75zM228.1 115.5h.75v.75h-.75zM213.0 123.3h.75v.75h-.75zM230.8 114.5h.75v.75h-.75zM226.2 112.3h.75v.75h-.75zM234.6 125.1h.75v.75h-.75zM214.5 114.4h.75v.75h-.75zM224.6 124.9h.75v.75h-.75zM227.4 115.8h.75v.75h-.75zM228.0 121.8h.75v.75h-.75zM222.2 127.5h.75v.75h-.75zM237.9 120.1h.75v.75h-.75zM212.7 108.9h.75v.75h-.75zM217.2 115.2h.75v.75h-.75zM225.1 113.1h.75v.75h-.75zM226.4 126.0h.75v.75h-.75zM219.7 124.1h.75v.75h-.75zM240.2 120.7h.75v.75h-.75zM219.3 120.3h.75v.75h-.75zM225.0 109.3h.75v.75h-.75zM228.8 114.6h.75v.75h-.75zM229.8 125.2h.75v.75h-.75zM211.5 113.6h.75v.75h-.75zM214.3 119.7h.75v.75h-.75zM232.9 114.3h.75v.75h-.75zM219.3 118.4h.75v.75h-.75zM217.0 123.7h.75v.75h-.75zM227.0 120.5h.75v.75h-.75zM228.7 113.3h.75v.75h-.75zM221.9 120.1h.75v.75h-.75zM226.9 125.2h.75v.75h-.75zM213.8 112.4h.75v.75h-.75zM220.0 116.0h.75v.75h-.75zM214.6 117.4h.75v.75h-.75zM227.1 115.5h.75v.75h-.75zM234.1 113.8h.75v.75h-.75zM215.8 110.7h.75v.75h-.75zM224.3 110.2h.75v.75h-.75zM221.4 112.3h.75v.75h-.75zM222.6 122.4h.75v.75h-.75zM219.4 115.5h.75v.75h-.75zM213.0 121.2h.75v.75h-.75zM221.1 125.7h.75v.75h-.75zM225.0 116.3h.75v.75h-.75zM216.1 118.0h.75v.75h-.75zM211.0 126.8h.75v.75h-.75zM218.3 111.6h.75v.75h-.75zM218.3 125.4h.75v.75h-.75zM213.3 105.5h.75v.75h-.75zM210.1 112.5h.75v.75h-.75zM211.2 108.7h.75v.75h-.75zM215.7 127.2h.75v.75h-.75zM209.3 116.0h.75v.75h-.75zM218.8 108.3h.75v.75h-.75zM209.4 126.7h.75v.75h-.75zM217.4 107.7h.75v.75h-.75zM214.5 120.4h.75v.75h-.75zM211.1 110.0h.75v.75h-.75zM218.5 113.6h.75v.75h-.75zM209.2 111.1h.75v.75h-.75zM219.2 118.5h.75v.75h-.75zM222.2 111.8h.75v.75h-.75zM216.6 111.4h.75v.75h-.75zM221.4 109.1h.75v.75h-.75zM217.2 117.4h.75v.75h-.75zM224.0 110.2h.75v.75h-.75zM217.7 117.1h.75v.75h-.75zM218.2 115.5h.75v.75h-.75zM219.2 120.5h.75v.75h-.75zM214.7 109.6h.75v.75h-.75zM213.4 105.3h.75v.75h-.75zM212.5 108.8h.75v.75h-.75zM215.4 116.1h.75v.75h-.75zM211.8 116.4h.75v.75h-.75zM217.4 115.5h.75v.75h-.75zM214.6 118.1h.75v.75h-.75zM210.0 114.5h.75v.75h-.75zM210.3 110.7h.75v.75h-.75zM215.2 109.7h.75v.75h-.75zM213.9 115.6h.75v.75h-.75zM215.3 106.7h.75v.75h-.75zM218.9 105.4h.75v.75h-.75zM212.6 118.5h.75v.75h-.75zM218.9 116.7h.75v.75h-.75zM212.2 115.7h.75v.75h-.75zM210.1 120.0h.75v.75h-.75zM213.1 113.9h.75v.75h-.75zM216.5 104.3h.75v.75h-.75zM216.3 116.1h.75v.75h-.75zM216.2 108.4h.75v.75h-.75zM208.1 120.1h.75v.75h-.75zM226.2 116.0h.75v.75h-.75zM216.7 121.5h.75v.75h-.75zM215.5 105.5h.75v.75h-.75zM222.0 113.5h.75v.75h-.75zM212.8 124.9h.75v.75h-.75zM214.6 112.5h.75v.75h-.75zM220.0 113.2h.75v.75h-.75zM221.7 114.9h.75v.75h-.75zM209.4 115.1h.75v.75h-.75zM209.5 117.6h.75v.75h-.75zM208.5 112.1h.75v.75h-.75zM218.7 110.3h.75v.75h-.75zM224.2 117.7h.75v.75h-.75zM220.0 110.8h.75v.75h-.75zM217.9 114.8h.75v.75h-.75zM214.6 113.1h.75v.75h-.75zM211.9 112.8h.75v.75h-.75zM217.5 122.1h.75v.75h-.75zM217.4 113.4h.75v.75h-.75zM214.9 111.9h.75v.75h-.75zM210.2 119.1h.75v.75h-.75zM213.6 112.2h.75v.75h-.75zM216.2 117.4h.75v.75h-.75zM217.0 113.1h.75v.75h-.75zM209.2 112.9h.75v.75h-.75zM208.5 115.8h.75v.75h-.75zM214.6 108.5h.75v.75h-.75zM215.7 116.9h.75v.75h-.75zM211.9 122.0h.75v.75h-.75zM218.0 116.7h.75v.75h-.75zM216.9 110.2h.75v.75h-.75zM214.0 114.9h.75v.75h-.75zM212.8 106.0h.75v.75h-.75zM217.3 123.6h.75v.75h-.75zM210.9 115.8h.75v.75h-.75zM213.1 114.5h.75v.75h-.75zM209.8 113.6h.75v.75h-.75zM213.4 113.4h.75v.75h-.75zM215.5 105.5h.75v.75h-.75zM214.8 113.3h.75v.75h-.75zM221.8 115.4h.75v.75h-.75zM210.8 116.2h.75v.75h-.75zM223.5 115.3h.75v.75h-.75zM210.0 108.8h.75v.75h-.75zM218.1 122.9h.75v.75h-.75zM218.4 118.0h.75v.75h-.75zM214.9 107.7h.75v.75h-.75zM222.0 115.0h.75v.75h-.75zM208.6 116.2h.75v.75h-.75zM208.1 112.3h.75v.75h-.75zM212.3 118.8h.75v.75h-.75zM221.1 110.8h.75v.75h-.75zM224.3 115.4h.75v.75h-.75zM210.5 115.2h.75v.75h-.75zM217.1 108.6h.75v.75h-.75zM216.9 113.8h.75v.75h-.75zM210.5 109.4h.75v.75h-.75zM218.2 112.9h.75v.75h-.75zM220.4 121.9h.75v.75h-.75zM211.2 123.1h.75v.75h-.75zM215.2 120.1h.75v.75h-.75zM215.3 119.7h.75v.75h-.75zM212.1 110.7h.75v.75h-.75zM212.7 113.2h.75v.75h-.75zM218.0 112.9h.75v.75h-.75zM209.4 110.7h.75v.75h-.75zM220.6 120.8h.75v.75h-.75zM224.9 115.9h.75v.75h-.75zM220.6 112.9h.75v.75h-.75zM220.8 113.9h.75v.75h-.75zM214.3 117.2h.75v.75h-.75zM218.0 114.0h.75v.75h-.75zM220.7 105.7h.75v.75h-.75zM210.4 114.6h.75v.75h-.75zM213.5 120.1h.75v.75h-.75zM211.1 121.9h.75v.75h-.75zM210.7 114.0h.75v.75h-.75zM209.5 115.8h.75v.75h-.75zM212.9 114.9h.75v.75h-.75zM214.9 117.4h.75v.75h-.75zM220.8 117.8h.75v.75h-.75zM215.1 118.0h.75v.75h-.75zM211.8 110.5h.75v.75h-.75zM211.4 110.9h.75v.75h-.75zM212.0 116.2h.75v.75h-.75zM215.4 108.6h.75v.75h-.75zM217.3 118.1h.75v.75h-.75zM208.6 118.5h.75v.75h-.75zM227.2 121.7h.75v.75h-.75zM215.6 118.2h.75v.75h-.75zM216.8 116.0h.75v.75h-.75zM216.8 116.1h.75v.75h-.75zM217.2 115.8h.75v.75h-.75zM211.1 118.7h.75v.75h-.75zM217.0 117.8h.75v.75h-.75zM216.9 118.9h.75v.75h-.75zM220.1 118.7h.75v.75h-.75zM214.3 116.5h.75v.75h-.75zM217.4 113.6h.75v.75h-.75zM211.8 117.5h.75v.75h-.75zM215.7 109.5h.75v.75h-.75zM221.8 113.6h.75v.75h-.75zM214.4 109.6h.75v.75h-.75zM210.0 112.3h.75v.75h-.75zM215.2 110.3h.75v.75h-.75zM215.6 110.3h.75v.75h-.75zM212.4 116.9h.75v.75h-.75zM210.5 116.1h.75v.75h-.75zM209.5 112.9h.75v.75h-.75zM210.5 112.6h.75v.75h-.75zM219.8 109.6h.75v.75h-.75zM219.8 116.4h.75v.75h-.75zM210.9 119.3h.75v.75h-.75zM217.0 103.7h.75v.75h-.75zM218.5 111.5h.75v.75h-.75zM209.6 116.8h.75v.75h-.75zM215.2 109.3h.75v.75h-.75zM217.9 124.9h.75v.75h-.75zM207.9 120.2h.75v.75h-.75zM212.9 107.6h.75v.75h-.75zM214.9 116.1h.75v.75h-.75zM210.7 114.3h.75v.75h-.75zM216.0 118.6h.75v.75h-.75zM214.2 111.0h.75v.75h-.75zM210.3 110.4h.75v.75h-.75zM208.1 113.6h.75v.75h-.75zM214.8 118.3h.75v.75h-.75zM215.8 121.8h.75v.75h-.75zM212.3 114.6h.75v.75h-.75zM220.4 108.0h.75v.75h-.75zM210.7 115.0h.75v.75h-.75zM217.0 104.4h.75v.75h-.75zM207.6 115.9h.75v.75h-.75zM217.6 118.8h.75v.75h-.75zM219.5 115.6h.75v.75h-.75zM209.9 113.9h.75v.75h-.75zM212.2 115.8h.75v.75h-.75zM217.3 110.1h.75v.75h-.75zM215.4 111.0h.75v.75h-.75zM213.3 115.4h.75v.75h-.75zM210.9 114.2h.75v.75h-.75zM212.9 106.5h.75v.75h-.75zM217.4 113.7h.75v.75h-.75zM215.1 115.4h.75v.75h-.75zM218.9 114.9h.75v.75h-.75zM213.7 109.0h.75v.75h-.75zM208.4 117.9h.75v.75h-.75zM222.7 113.7h.75v.75h-.75zM211.7 119.6h.75v.75h-.75zM215.4 107.9h.75v.75h-.75zM215.4 116.6h.75v.75h-.75zM212.9 119.5h.75v.75h-.75zM222.8 106.7h.75v.75h-.75zM211.1 116.5h.75v.75h-.75zM208.1 111.6h.75v.75h-.75zM212.6 117.7h.75v.75h-.75zM214.9 120.2h.75v.75h-.75zM209.6 114.8h.75v.75h-.75zM210.9 120.7h.75v.75h-.75zM211.7 107.7h.75v.75h-.75zM214.5 113.6h.75v.75h-.75zM210.5 116.3h.75v.75h-.75zM219.6 126.4h.75v.75h-.75zM210.1 113.8h.75v.75h-.75zM218.8 106.3h.75v.75h-.75zM210.2 108.9h.75v.75h-.75zM218.1 109.4h.75v.75h-.75zM215.8 111.1h.75v.75h-.75zM234.0 119.5h.75v.75h-.75zM229.8 119.2h.75v.75h-.75zM233.7 111.4h.75v.75h-.75zM234.4 122.7h.75v.75h-.75zM234.2 112.1h.75v.75h-.75zM233.9 127.5h.75v.75h-.75zM227.8 112.9h.75v.75h-.75zM229.0 116.0h.75v.75h-.75zM231.9 122.7h.75v.75h-.75zM229.5 115.4h.75v.75h-.75zM226.0 112.4h.75v.75h-.75zM231.9 117.0h.75v.75h-.75zM231.9 119.0h.75v.75h-.75zM235.6 119.6h.75v.75h-.75zM234.3 121.9h.75v.75h-.75zM231.8 115.2h.75v.75h-.75zM227.3 121.3h.75v.75h-.75zM228.1 120.5h.75v.75h-.75zM225.8 123.3h.75v.75h-.75zM230.8 118.8h.75v.75h-.75zM232.7 112.0h.75v.75h-.75zM230.4 113.5h.75v.75h-.75zM230.4 121.4h.75v.75h-.75zM230.6 118.0h.75v.75h-.75zM228.7 112.8h.75v.75h-.75zM229.0 119.6h.75v.75h-.75zM232.0 122.6h.75v.75h-.75zM230.5 111.9h.75v.75h-.75zM227.2 118.4h.75v.75h-.75zM235.2 118.5h.75v.75h-.75zM229.9 122.2h.75v.75h-.75zM228.9 113.0h.75v.75h-.75zM230.2 115.0h.75v.75h-.75zM231.0 112.3h.75v.75h-.75zM228.8 111.6h.75v.75h-.75zM238.2 115.7h.75v.75h-.75zM230.9 109.8h.75v.75h-.75zM232.1 117.2h.75v.75h-.75zM236.9 120.6h.75v.75h-.75zM226.4 111.7h.75v.75h-.75zM232.3 119.4h.75v.75h-.75zM227.9 107.1h.75v.75h-.75zM222.3 125.2h.75v.75h-.75zM227.0 114.5h.75v.75h-.75zM231.7 120.0h.75v.75h-.75zM227.4 119.8h.75v.75h-.75zM228.0 117.8h.75v.75h-.75zM231.9 117.7h.75v.75h-.75zM230.0 118.6h.75v.75h-.75zM237.2 118.4h.75v.75h-.75zM229.7 112.4h.75v.75h-.75zM235.5 110.8h.75v.75h-.75zM232.6 112.3h.75v.75h-.75zM235.1 120.0h.75v.75h-.75zM235.8 114.5h.75v.75h-.75zM228.2 115.1h.75v.75h-.75zM239.5 117.7h.75v.75h-.75zM227.0 124.9h.75v.75h-.75zM223.1 123.7h.75v.75h-.75zM229.4 122.6h.75v.75h-.75zM230.5 116.7h.75v.75h-.75zM231.7 118.9h.75v.75h-.75zM230.4 123.8h.75v.75h-.75zM235.1 118.0h.75v.75h-.75zM228.7 119.0h.75v.75h-.75zM227.1 116.5h.75v.75h-.75zM228.8 117.1h.75v.75h-.75zM231.5 113.7h.75v.75h-.75zM234.1 111.9h.75v.75h-.75zM229.6 116.7h.75v.75h-.75zM230.0 118.4h.75v.75h-.75zM232.7 120.4h.75v.75h-.75zM232.0 121.9h.75v.75h-.75zM231.4 116.8h.75v.75h-.75zM231.3 121.3h.75v.75h-.75zM233.0 120.9h.75v.75h-.75zM232.5 125.8h.75v.75h-.75zM224.2 120.0h.75v.75h-.75zM234.1 117.3h.75v.75h-.75zM232.5 121.3h.75v.75h-.75zM230.8 119.5h.75v.75h-.75zM237.0 120.2h.75v.75h-.75zM233.2 116.7h.75v.75h-.75zM226.2 120.7h.75v.75h-.75zM222.9 108.8h.75v.75h-.75zM225.4 122.6h.75v.75h-.75zM232.3 110.1h.75v.75h-.75zM237.8 109.9h.75v.75h-.75zM232.5 126.9h.75v.75h-.75zM230.9 111.9h.75v.75h-.75zM230.9 122.0h.75v.75h-.75zM225.4 125.1h.75v.75h-.75zM235.5 114.7h.75v.75h-.75zM225.1 116.2h.75v.75h-.75zM234.9 122.4h.75v.75h-.75zM232.2 127.5h.75v.75h-.75zM227.7 114.8h.75v.75h-.75zM236.0 121.3h.75v.75h-.75zM231.9 116.7h.75v.75h-.75zM235.0 122.9h.75v.75h-.75zM227.7 113.9h.75v.75h-.75zM230.1 123.6h.75v.75h-.75zM228.4 117.6h.75v.75h-.75zM232.3 128.8h.75v.75h-.75zM221.1 115.8h.75v.75h-.75zM236.9 119.3h.75v.75h-.75zM231.3 115.6h.75v.75h-.75zM237.0 121.0h.75v.75h-.75zM228.9 119.1h.75v.75h-.75zM234.4 121.6h.75v.75h-.75zM239.2 118.1h.75v.75h-.75zM231.1 116.4h.75v.75h-.75zM232.1 122.3h.75v.75h-.75zM237.6 112.1h.75v.75h-.75zM227.0 117.8h.75v.75h-.75zM225.7 117.0h.75v.75h-.75zM229.1 111.0h.75v.75h-.75zM230.2 108.8h.75v.75h-.75zM230.8 108.8h.75v.75h-.75zM225.2 120.6h.75v.75h-.75zM231.3 120.9h.75v.75h-.75zM235.5 112.4h.75v.75h-.75zM224.2 112.9h.75v.75h-.75zM222.7 130.2h.75v.75h-.75zM235.6 115.0h.75v.75h-.75zM230.2 123.3h.75v.75h-.75zM230.5 116.8h.75v.75h-.75zM230.8 119.1h.75v.75h-.75zM229.0 130.5h.75v.75h-.75zM225.6 117.9h.75v.75h-.75zM231.8 121.7h.75v.75h-.75zM235.3 119.2h.75v.75h-.75zM228.4 120.5h.75v.75h-.75zM225.6 122.8h.75v.75h-.75zM230.1 126.7h.75v.75h-.75zM226.2 109.9h.75v.75h-.75zM229.7 121.2h.75v.75h-.75zM228.2 117.3h.75v.75h-.75zM224.2 114.6h.75v.75h-.75zM239.8 116.4h.75v.75h-.75zM224.2 115.7h.75v.75h-.75zM230.7 113.9h.75v.75h-.75zM228.8 106.4h.75v.75h-.75zM237.0 110.8h.75v.75h-.75zM233.3 122.5h.75v.75h-.75zM231.4 116.8h.75v.75h-.75zM231.4 117.8h.75v.75h-.75zM237.4 111.4h.75v.75h-.75zM226.9 114.0h.75v.75h-.75zM227.3 119.6h.75v.75h-.75zM236.7 112.5h.75v.75h-.75zM233.3 119.7h.75v.75h-.75zM230.7 125.4h.75v.75h-.75zM225.9 122.6h.75v.75h-.75zM230.6 111.2h.75v.75h-.75zM237.3 115.3h.75v.75h-.75zM228.9 117.9h.75v.75h-.75zM231.3 124.6h.75v.75h-.75zM222.9 115.9h.75v.75h-.75zM225.7 122.3h.75v.75h-.75zM235.3 114.0h.75v.75h-.75zM231.5 114.0h.75v.75h-.75zM231.8 112.9h.75v.75h-.75zM232.1 126.2h.75v.75h-.75zM219.0 117.1h.75v.75h-.75zM231.5 114.5h.75v.75h-.75zM234.0 123.7h.75v.75h-.75zM230.5 113.8h.75v.75h-.75zM224.3 126.0h.75v.75h-.75zM229.6 113.7h.75v.75h-.75zM233.3 121.6h.75v.75h-.75zM234.1 125.1h.75v.75h-.75zM238.9 112.7h.75v.75h-.75zM227.0 117.4h.75v.75h-.75zM237.2 118.3h.75v.75h-.75zM228.2 119.3h.75v.75h-.75zM234.1 113.8h.75v.75h-.75zM230.1 115.3h.75v.75h-.75zM232.2 115.4h.75v.75h-.75zM235.7 124.3h.75v.75h-.75zM229.9 121.0h.75v.75h-.75zM227.4 113.8h.75v.75h-.75zM238.2 121.1h.75v.75h-.75zM233.7 109.2h.75v.75h-.75zM227.9 125.9h.75v.75h-.75zM232.6 120.5h.75v.75h-.75zM235.7 117.7h.75v.75h-.75zM228.4 114.0h.75v.75h-.75zM233.2 111.6h.75v.75h-.75zM225.3 106.3h.75v.75h-.75zM230.6 115.4h.75v.75h-.75zM224.8 118.0h.75v.75h-.75zM220.9 120.1h.75v.75h-.75zM230.8 114.4h.75v.75h-.75zM233.8 116.7h.75v.75h-.75zM222.7 118.3h.75v.75h-.75zM239.6 120.9h.75v.75h-.75zM226.2 120.5h.75v.75h-.75zM226.8 115.2h.75v.75h-.75zM226.9 122.3h.75v.75h-.75zM232.6 116.5h.75v.75h-.75zM236.0 116.0h.75v.75h-.75zM226.6 119.4h.75v.75h-.75zM236.7 120.5h.75v.75h-.75zM227.5 113.7h.75v.75h-.75zM233.2 111.5h.75v.75h-.75zM225.3 109.0h.75v.75h-.75zM232.1 124.3h.75v.75h-.75zM229.1 117.4h.75v.75h-.75zM230.3 120.9h.75v.75h-.75zM223.3 123.4h.75v.75h-.75zM231.3 119.0h.75v.75h-.75zM232.7 110.9h.75v.75h-.75zM227.6 113.9h.75v.75h-.75zM226.6 118.2h.75v.75h-.75zM226.4 130.6h.75v.75h-.75zM230.1 114.9h.75v.75h-.75zM232.3 121.6h.75v.75h-.75zM230.5 125.5h.75v.75h-.75zM232.5 119.7h.75v.75h-.75zM230.2 118.1h.75v.75h-.75zM238.9 119.3h.75v.75h-.75zM233.0 115.6h.75v.75h-.75zM218.6 118.9h.75v.75h-.75zM234.1 108.8h.75v.75h-.75zM230.9 120.5h.75v.75h-.75zM229.0 122.5h.75v.75h-.75zM234.4 122.5h.75v.75h-.75zM233.0 117.0h.75v.75h-.75zM231.0 127.8h.75v.75h-.75zM225.6 126.5h.75v.75h-.75zM230.6 112.9h.75v.75h-.75zM238.4 118.8h.75v.75h-.75zM238.8 116.3h.75v.75h-.75zM229.8 114.2h.75v.75h-.75zM236.6 116.4h.75v.75h-.75zM231.7 115.5h.75v.75h-.75zM230.2 123.8h.75v.75h-.75zM227.1 124.0h.75v.75h-.75zM220.9 124.0h.75v.75h-.75zM229.5 113.1h.75v.75h-.75zM225.8 111.8h.75v.75h-.75zM229.0 117.5h.75v.75h-.75zM229.1 123.9h.75v.75h-.75z" fill="#a9c84a"/>
<path d="M223.0 145.2h.8v.8h-.8zM227.8 148.1h.8v.8h-.8zM226.4 142.4h.8v.8h-.8zM220.5 131.0h.8v.8h-.8zM224.1 137.2h.8v.8h-.8zM215.0 148.7h.8v.8h-.8zM218.0 134.7h.8v.8h-.8zM225.7 144.1h.8v.8h-.8zM225.2 134.7h.8v.8h-.8zM220.7 134.0h.8v.8h-.8zM225.2 145.0h.8v.8h-.8zM227.4 138.0h.8v.8h-.8zM215.8 135.9h.8v.8h-.8zM216.9 131.6h.8v.8h-.8zM224.9 149.2h.8v.8h-.8zM213.9 147.4h.8v.8h-.8zM214.5 145.7h.8v.8h-.8zM220.0 141.8h.8v.8h-.8zM217.4 136.9h.8v.8h-.8zM219.7 139.1h.8v.8h-.8zM225.5 137.5h.8v.8h-.8zM220.3 141.5h.8v.8h-.8zM211.0 132.4h.8v.8h-.8zM222.2 143.3h.8v.8h-.8zM217.5 143.6h.8v.8h-.8zM216.8 138.1h.8v.8h-.8zM211.5 150.1h.8v.8h-.8zM218.0 142.4h.8v.8h-.8zM220.7 141.8h.8v.8h-.8zM222.5 148.6h.8v.8h-.8zM217.7 138.3h.8v.8h-.8zM221.0 150.9h.8v.8h-.8zM219.8 148.3h.8v.8h-.8zM211.4 133.0h.8v.8h-.8zM227.2 139.7h.8v.8h-.8zM226.4 140.5h.8v.8h-.8zM218.5 148.0h.8v.8h-.8zM222.6 131.1h.8v.8h-.8zM226.9 143.6h.8v.8h-.8zM210.1 147.7h.8v.8h-.8zM221.1 140.1h.8v.8h-.8zM222.5 149.0h.8v.8h-.8zM219.3 147.8h.8v.8h-.8zM219.0 132.1h.8v.8h-.8zM224.7 142.2h.8v.8h-.8zM209.6 133.8h.8v.8h-.8zM226.2 152.3h.8v.8h-.8zM228.7 138.4h.8v.8h-.8zM222.8 141.9h.8v.8h-.8zM221.6 142.2h.8v.8h-.8zM221.6 128.9h.8v.8h-.8zM229.7 132.4h.8v.8h-.8zM217.9 143.3h.8v.8h-.8zM219.0 139.1h.8v.8h-.8zM224.2 138.4h.8v.8h-.8zM219.4 149.0h.8v.8h-.8zM213.1 145.4h.8v.8h-.8zM209.9 143.0h.8v.8h-.8zM218.8 138.6h.8v.8h-.8zM230.1 139.6h.8v.8h-.8zM221.6 142.7h.8v.8h-.8zM224.1 144.6h.8v.8h-.8zM218.7 130.8h.8v.8h-.8zM216.1 137.8h.8v.8h-.8zM213.3 139.0h.8v.8h-.8zM215.7 134.3h.8v.8h-.8zM225.3 136.5h.8v.8h-.8zM218.4 130.8h.8v.8h-.8zM222.7 140.3h.8v.8h-.8zM214.0 131.8h.8v.8h-.8zM226.9 132.6h.8v.8h-.8zM219.0 136.3h.8v.8h-.8zM224.0 137.0h.8v.8h-.8zM228.2 146.3h.8v.8h-.8zM221.3 132.7h.8v.8h-.8zM212.4 140.7h.8v.8h-.8zM220.8 145.8h.8v.8h-.8zM218.1 140.9h.8v.8h-.8zM232.0 142.8h.8v.8h-.8zM216.4 132.5h.8v.8h-.8zM221.9 137.3h.8v.8h-.8zM212.3 141.6h.8v.8h-.8zM227.5 140.1h.8v.8h-.8zM214.8 137.2h.8v.8h-.8zM214.7 134.9h.8v.8h-.8zM219.9 135.2h.8v.8h-.8zM220.9 139.1h.8v.8h-.8zM218.1 134.7h.8v.8h-.8zM220.6 139.6h.8v.8h-.8zM217.1 142.0h.8v.8h-.8zM221.0 150.6h.8v.8h-.8zM213.3 129.9h.8v.8h-.8zM209.9 139.3h.8v.8h-.8zM220.6 143.2h.8v.8h-.8zM223.2 149.1h.8v.8h-.8zM219.7 134.2h.8v.8h-.8zM214.2 138.3h.8v.8h-.8zM215.3 137.5h.8v.8h-.8zM224.4 140.3h.8v.8h-.8zM215.9 143.0h.8v.8h-.8zM232.4 136.2h.8v.8h-.8zM230.3 135.5h.8v.8h-.8zM215.9 145.1h.8v.8h-.8zM227.1 136.0h.8v.8h-.8zM219.8 138.3h.8v.8h-.8zM222.9 136.0h.8v.8h-.8zM212.9 149.4h.8v.8h-.8zM226.7 127.3h.8v.8h-.8zM216.5 136.7h.8v.8h-.8zM222.4 137.8h.8v.8h-.8zM217.7 127.2h.8v.8h-.8zM222.3 138.6h.8v.8h-.8zM211.3 143.5h.8v.8h-.8zM222.4 142.4h.8v.8h-.8zM225.2 134.8h.8v.8h-.8zM225.0 143.6h.8v.8h-.8zM211.0 141.0h.8v.8h-.8zM209.8 134.6h.8v.8h-.8zM225.2 151.9h.8v.8h-.8zM213.5 143.9h.8v.8h-.8zM218.0 141.8h.8v.8h-.8zM216.0 151.6h.8v.8h-.8zM220.0 148.7h.8v.8h-.8zM226.5 141.9h.8v.8h-.8zM218.8 137.4h.8v.8h-.8zM215.1 147.8h.8v.8h-.8zM229.6 141.6h.8v.8h-.8zM220.3 137.0h.8v.8h-.8zM217.7 136.4h.8v.8h-.8zM227.8 138.4h.8v.8h-.8zM213.7 130.0h.8v.8h-.8zM220.5 128.9h.8v.8h-.8zM218.1 139.5h.8v.8h-.8zM225.6 139.1h.8v.8h-.8zM220.1 136.4h.8v.8h-.8zM220.8 140.1h.8v.8h-.8zM217.6 145.0h.8v.8h-.8zM213.8 137.8h.8v.8h-.8zM227.8 139.4h.8v.8h-.8zM224.9 132.7h.8v.8h-.8zM222.6 150.5h.8v.8h-.8zM220.0 140.2h.8v.8h-.8zM218.9 138.0h.8v.8h-.8zM226.1 143.4h.8v.8h-.8zM213.1 138.1h.8v.8h-.8zM220.2 141.2h.8v.8h-.8zM221.3 141.8h.8v.8h-.8zM214.9 136.6h.8v.8h-.8zM228.8 135.1h.8v.8h-.8zM224.1 137.7h.8v.8h-.8zM223.7 147.3h.8v.8h-.8zM223.9 132.8h.8v.8h-.8zM221.7 144.5h.8v.8h-.8zM220.0 139.6h.8v.8h-.8zM214.2 142.0h.8v.8h-.8zM214.5 136.7h.8v.8h-.8zM220.7 138.4h.8v.8h-.8zM216.3 144.0h.8v.8h-.8zM219.2 127.7h.8v.8h-.8zM230.6 144.9h.8v.8h-.8zM215.7 133.9h.8v.8h-.8zM212.7 133.0h.8v.8h-.8zM230.6 133.4h.8v.8h-.8zM224.2 147.0h.8v.8h-.8zM222.4 144.5h.8v.8h-.8zM221.4 149.4h.8v.8h-.8zM220.9 134.6h.8v.8h-.8zM216.7 141.4h.8v.8h-.8zM222.1 140.4h.8v.8h-.8zM227.1 138.3h.8v.8h-.8zM221.0 140.1h.8v.8h-.8zM216.6 137.5h.8v.8h-.8zM214.0 137.5h.8v.8h-.8zM226.5 140.3h.8v.8h-.8zM223.8 150.0h.8v.8h-.8zM225.0 141.4h.8v.8h-.8zM211.0 148.4h.8v.8h-.8zM218.4 143.0h.8v.8h-.8zM216.0 150.8h.8v.8h-.8zM220.0 134.1h.8v.8h-.8zM212.7 151.0h.8v.8h-.8zM221.8 140.4h.8v.8h-.8zM222.7 145.3h.8v.8h-.8zM213.1 142.3h.8v.8h-.8zM220.6 132.0h.8v.8h-.8zM230.9 133.2h.8v.8h-.8zM225.6 135.8h.8v.8h-.8zM224.4 129.6h.8v.8h-.8zM222.7 145.9h.8v.8h-.8zM223.0 142.0h.8v.8h-.8zM216.9 153.2h.8v.8h-.8zM213.9 137.2h.8v.8h-.8zM218.5 144.9h.8v.8h-.8zM216.6 144.3h.8v.8h-.8zM211.6 147.0h.8v.8h-.8zM217.3 134.5h.8v.8h-.8zM221.2 134.3h.8v.8h-.8zM217.6 135.5h.8v.8h-.8zM223.3 143.9h.8v.8h-.8zM212.9 134.6h.8v.8h-.8zM212.3 134.4h.8v.8h-.8zM211.4 141.4h.8v.8h-.8zM219.2 148.1h.8v.8h-.8zM222.4 139.0h.8v.8h-.8zM212.0 150.1h.8v.8h-.8zM225.0 137.1h.8v.8h-.8zM213.9 138.4h.8v.8h-.8zM217.6 133.2h.8v.8h-.8zM210.2 141.0h.8v.8h-.8zM212.6 130.6h.8v.8h-.8zM222.9 141.6h.8v.8h-.8zM222.1 139.7h.8v.8h-.8zM210.0 143.4h.8v.8h-.8zM223.1 144.8h.8v.8h-.8zM221.2 145.1h.8v.8h-.8zM217.5 152.1h.8v.8h-.8zM226.0 132.8h.8v.8h-.8zM216.0 134.3h.8v.8h-.8zM219.8 138.4h.8v.8h-.8zM210.8 131.1h.8v.8h-.8zM230.1 140.7h.8v.8h-.8zM214.7 149.2h.8v.8h-.8zM222.6 132.2h.8v.8h-.8zM227.0 150.9h.8v.8h-.8zM214.0 132.4h.8v.8h-.8zM219.0 140.6h.8v.8h-.8zM229.5 139.1h.8v.8h-.8zM221.0 134.8h.8v.8h-.8zM222.4 147.0h.8v.8h-.8zM214.8 127.9h.8v.8h-.8zM214.9 147.4h.8v.8h-.8zM221.0 139.4h.8v.8h-.8zM214.5 140.7h.8v.8h-.8zM215.3 146.0h.8v.8h-.8zM220.1 144.0h.8v.8h-.8zM216.4 147.8h.8v.8h-.8zM213.6 143.2h.8v.8h-.8zM224.0 141.4h.8v.8h-.8zM216.4 136.8h.8v.8h-.8zM221.2 134.6h.8v.8h-.8zM220.7 147.7h.8v.8h-.8zM220.4 132.3h.8v.8h-.8zM213.0 133.3h.8v.8h-.8zM226.6 144.5h.8v.8h-.8zM216.0 141.9h.8v.8h-.8zM217.7 139.1h.8v.8h-.8zM223.3 143.7h.8v.8h-.8zM219.4 138.1h.8v.8h-.8zM213.6 142.6h.8v.8h-.8zM227.0 135.4h.8v.8h-.8zM222.0 149.4h.8v.8h-.8zM227.3 151.6h.8v.8h-.8zM213.8 139.4h.8v.8h-.8zM218.2 129.3h.8v.8h-.8zM216.8 145.0h.8v.8h-.8zM217.1 135.8h.8v.8h-.8zM210.1 147.7h.8v.8h-.8zM229.6 142.0h.8v.8h-.8zM219.2 139.8h.8v.8h-.8zM229.3 140.6h.8v.8h-.8zM224.3 142.0h.8v.8h-.8zM228.7 135.0h.8v.8h-.8zM214.7 145.5h.8v.8h-.8zM215.5 137.2h.8v.8h-.8zM227.1 137.6h.8v.8h-.8zM225.0 147.9h.8v.8h-.8zM222.5 144.0h.8v.8h-.8zM217.6 133.4h.8v.8h-.8zM226.5 148.7h.8v.8h-.8zM225.8 131.7h.8v.8h-.8zM228.6 143.5h.8v.8h-.8zM222.8 144.2h.8v.8h-.8zM220.6 139.2h.8v.8h-.8zM223.6 142.1h.8v.8h-.8zM219.0 139.7h.8v.8h-.8zM219.5 136.8h.8v.8h-.8zM229.3 132.3h.8v.8h-.8zM216.0 137.4h.8v.8h-.8zM220.4 137.7h.8v.8h-.8zM216.2 133.7h.8v.8h-.8zM232.1 139.3h.8v.8h-.8zM226.0 141.9h.8v.8h-.8zM215.8 128.6h.8v.8h-.8zM211.3 148.4h.8v.8h-.8zM215.5 136.9h.8v.8h-.8zM222.6 137.1h.8v.8h-.8zM228.1 144.2h.8v.8h-.8zM219.4 148.8h.8v.8h-.8zM217.1 136.8h.8v.8h-.8zM215.1 148.7h.8v.8h-.8zM219.4 148.4h.8v.8h-.8zM212.0 136.7h.8v.8h-.8zM220.0 138.6h.8v.8h-.8zM226.0 152.3h.8v.8h-.8zM220.4 146.1h.8v.8h-.8zM218.7 144.7h.8v.8h-.8zM222.9 138.5h.8v.8h-.8zM219.6 142.7h.8v.8h-.8zM223.1 133.5h.8v.8h-.8zM217.7 136.6h.8v.8h-.8zM225.9 144.1h.8v.8h-.8zM226.9 132.3h.8v.8h-.8zM227.3 138.1h.8v.8h-.8zM221.9 141.9h.8v.8h-.8zM211.1 143.3h.8v.8h-.8zM219.5 143.8h.8v.8h-.8zM223.7 143.2h.8v.8h-.8zM227.5 129.7h.8v.8h-.8zM220.4 149.6h.8v.8h-.8zM214.5 132.2h.8v.8h-.8zM229.9 135.4h.8v.8h-.8zM228.7 141.5h.8v.8h-.8zM221.2 134.1h.8v.8h-.8zM216.1 146.5h.8v.8h-.8zM217.9 140.5h.8v.8h-.8zM226.6 138.9h.8v.8h-.8zM222.4 141.8h.8v.8h-.8zM219.8 127.3h.8v.8h-.8zM227.1 150.1h.8v.8h-.8zM216.2 139.3h.8v.8h-.8zM228.8 150.2h.8v.8h-.8zM218.9 141.8h.8v.8h-.8zM220.4 141.6h.8v.8h-.8zM221.7 140.3h.8v.8h-.8zM223.8 146.1h.8v.8h-.8zM211.4 133.8h.8v.8h-.8zM228.4 140.6h.8v.8h-.8zM218.1 143.8h.8v.8h-.8zM232.6 139.3h.8v.8h-.8zM224.5 142.1h.8v.8h-.8zM216.4 146.3h.8v.8h-.8zM225.6 144.9h.8v.8h-.8zM225.0 141.5h.8v.8h-.8zM220.9 142.3h.8v.8h-.8zM209.2 139.3h.8v.8h-.8zM226.6 146.5h.8v.8h-.8zM228.3 131.2h.8v.8h-.8zM219.0 134.2h.8v.8h-.8zM226.7 137.5h.8v.8h-.8zM211.7 141.7h.8v.8h-.8zM217.2 128.3h.8v.8h-.8zM220.9 131.9h.8v.8h-.8zM220.5 144.7h.8v.8h-.8zM218.2 147.6h.8v.8h-.8zM222.9 139.8h.8v.8h-.8zM215.7 142.2h.8v.8h-.8zM232.6 136.2h.8v.8h-.8zM224.5 128.1h.8v.8h-.8zM225.8 139.9h.8v.8h-.8zM217.8 144.3h.8v.8h-.8zM215.1 128.6h.8v.8h-.8zM228.9 130.7h.8v.8h-.8zM224.1 137.5h.8v.8h-.8zM211.1 140.4h.8v.8h-.8zM212.6 136.2h.8v.8h-.8zM215.4 143.7h.8v.8h-.8zM224.2 137.6h.8v.8h-.8zM218.6 148.2h.8v.8h-.8zM220.3 143.7h.8v.8h-.8zM211.3 144.4h.8v.8h-.8zM223.1 127.7h.8v.8h-.8zM217.3 132.7h.8v.8h-.8zM218.8 145.3h.8v.8h-.8zM222.8 132.2h.8v.8h-.8zM217.2 140.7h.8v.8h-.8zM213.9 131.0h.8v.8h-.8zM210.1 140.0h.8v.8h-.8zM209.1 144.2h.8v.8h-.8zM218.1 141.5h.8v.8h-.8zM219.5 143.9h.8v.8h-.8zM216.7 129.2h.8v.8h-.8zM226.6 134.6h.8v.8h-.8zM221.9 138.2h.8v.8h-.8zM215.1 136.5h.8v.8h-.8zM214.4 144.8h.8v.8h-.8zM221.0 128.9h.8v.8h-.8zM227.0 136.9h.8v.8h-.8zM220.0 140.1h.8v.8h-.8zM223.1 140.5h.8v.8h-.8zM214.8 137.8h.8v.8h-.8zM222.0 139.8h.8v.8h-.8zM225.4 139.8h.8v.8h-.8zM214.0 149.6h.8v.8h-.8zM224.3 143.5h.8v.8h-.8zM221.2 137.5h.8v.8h-.8zM227.2 149.0h.8v.8h-.8zM214.0 149.1h.8v.8h-.8zM225.8 149.3h.8v.8h-.8zM223.4 143.1h.8v.8h-.8zM214.8 140.9h.8v.8h-.8zM220.3 147.7h.8v.8h-.8zM227.0 143.7h.8v.8h-.8zM221.6 147.7h.8v.8h-.8zM216.6 139.3h.8v.8h-.8zM231.2 134.6h.8v.8h-.8zM215.2 142.2h.8v.8h-.8zM215.6 149.6h.8v.8h-.8zM226.6 143.4h.8v.8h-.8zM221.7 142.8h.8v.8h-.8zM228.6 148.6h.8v.8h-.8zM221.1 149.6h.8v.8h-.8zM219.1 134.8h.8v.8h-.8zM209.8 135.2h.8v.8h-.8zM221.4 145.4h.8v.8h-.8zM222.0 149.6h.8v.8h-.8zM230.5 148.1h.8v.8h-.8zM219.1 135.4h.8v.8h-.8zM226.3 129.2h.8v.8h-.8zM212.7 133.1h.8v.8h-.8zM221.6 141.7h.8v.8h-.8zM226.5 140.4h.8v.8h-.8zM219.4 135.7h.8v.8h-.8zM215.2 141.6h.8v.8h-.8zM211.5 143.0h.8v.8h-.8zM222.0 126.4h.8v.8h-.8zM211.2 139.5h.8v.8h-.8zM221.5 130.8h.8v.8h-.8zM227.2 147.7h.8v.8h-.8zM216.0 143.4h.8v.8h-.8zM212.2 142.6h.8v.8h-.8zM219.8 141.9h.8v.8h-.8zM214.7 140.9h.8v.8h-.8zM215.3 142.7h.8v.8h-.8zM227.7 144.7h.8v.8h-.8zM214.5 141.5h.8v.8h-.8zM219.6 145.4h.8v.8h-.8zM232.6 142.0h.8v.8h-.8zM219.1 139.1h.8v.8h-.8zM224.0 130.8h.8v.8h-.8zM224.5 126.6h.8v.8h-.8zM214.3 151.3h.8v.8h-.8zM217.7 135.6h.8v.8h-.8zM218.0 142.4h.8v.8h-.8zM224.9 141.1h.8v.8h-.8zM215.9 127.3h.8v.8h-.8zM218.3 144.3h.8v.8h-.8zM210.1 131.9h.8v.8h-.8zM214.0 127.5h.8v.8h-.8zM218.6 139.5h.8v.8h-.8zM218.4 138.0h.8v.8h-.8zM218.9 141.1h.8v.8h-.8zM224.3 128.3h.8v.8h-.8zM214.2 138.5h.8v.8h-.8zM218.9 136.4h.8v.8h-.8zM216.9 144.7h.8v.8h-.8zM224.4 130.8h.8v.8h-.8zM220.3 136.0h.8v.8h-.8zM217.2 145.5h.8v.8h-.8zM226.4 140.1h.8v.8h-.8zM218.3 151.4h.8v.8h-.8zM219.9 143.9h.8v.8h-.8zM220.1 130.1h.8v.8h-.8zM226.0 135.0h.8v.8h-.8zM215.7 136.5h.8v.8h-.8zM223.4 145.8h.8v.8h-.8zM226.9 140.6h.8v.8h-.8zM220.0 134.6h.8v.8h-.8zM226.6 152.2h.8v.8h-.8zM209.8 136.9h.8v.8h-.8zM218.8 136.8h.8v.8h-.8zM218.1 135.9h.8v.8h-.8zM222.6 142.7h.8v.8h-.8zM227.8 132.7h.8v.8h-.8zM214.5 136.1h.8v.8h-.8zM222.1 130.9h.8v.8h-.8zM222.2 142.5h.8v.8h-.8zM226.1 145.7h.8v.8h-.8zM218.1 128.7h.8v.8h-.8zM220.8 133.5h.8v.8h-.8zM217.4 145.4h.8v.8h-.8zM218.9 152.5h.8v.8h-.8zM216.4 134.9h.8v.8h-.8zM228.4 142.2h.8v.8h-.8zM225.5 142.1h.8v.8h-.8zM224.7 135.6h.8v.8h-.8zM227.6 137.0h.8v.8h-.8zM219.8 130.7h.8v.8h-.8zM226.5 135.0h.8v.8h-.8zM224.2 134.5h.8v.8h-.8zM228.1 128.7h.8v.8h-.8zM222.2 135.3h.8v.8h-.8zM226.5 146.8h.8v.8h-.8zM215.2 146.6h.8v.8h-.8zM228.8 144.7h.8v.8h-.8zM221.0 141.7h.8v.8h-.8zM210.4 140.3h.8v.8h-.8zM228.9 128.3h.8v.8h-.8zM210.9 132.3h.8v.8h-.8zM230.4 135.2h.8v.8h-.8zM209.7 145.5h.8v.8h-.8zM221.7 137.6h.8v.8h-.8zM221.4 150.5h.8v.8h-.8zM216.6 148.9h.8v.8h-.8zM222.4 139.2h.8v.8h-.8zM219.5 145.1h.8v.8h-.8zM223.8 146.5h.8v.8h-.8zM223.4 144.4h.8v.8h-.8zM226.7 145.2h.8v.8h-.8zM220.5 135.8h.8v.8h-.8zM229.1 130.3h.8v.8h-.8zM223.2 144.7h.8v.8h-.8zM229.1 138.0h.8v.8h-.8zM220.8 136.5h.8v.8h-.8zM216.0 137.5h.8v.8h-.8zM213.8 143.9h.8v.8h-.8zM229.2 140.0h.8v.8h-.8zM223.9 139.9h.8v.8h-.8zM224.1 140.9h.8v.8h-.8zM218.4 149.3h.8v.8h-.8zM219.0 146.4h.8v.8h-.8zM211.8 139.7h.8v.8h-.8zM222.5 148.0h.8v.8h-.8zM225.2 145.0h.8v.8h-.8zM224.3 142.1h.8v.8h-.8zM223.2 132.8h.8v.8h-.8zM219.3 130.6h.8v.8h-.8zM219.7 141.7h.8v.8h-.8zM219.2 140.6h.8v.8h-.8zM216.9 152.1h.8v.8h-.8zM219.6 148.1h.8v.8h-.8zM221.7 146.0h.8v.8h-.8zM210.3 143.6h.8v.8h-.8zM227.7 145.5h.8v.8h-.8zM219.5 137.4h.8v.8h-.8zM224.7 141.6h.8v.8h-.8zM226.5 141.6h.8v.8h-.8zM219.9 138.9h.8v.8h-.8zM218.8 130.9h.8v.8h-.8zM223.1 146.8h.8v.8h-.8zM228.5 145.4h.8v.8h-.8zM214.9 137.2h.8v.8h-.8zM222.4 130.2h.8v.8h-.8zM218.3 127.1h.8v.8h-.8zM222.5 128.2h.8v.8h-.8zM217.6 142.6h.8v.8h-.8zM228.6 132.8h.8v.8h-.8zM226.5 139.6h.8v.8h-.8zM218.7 132.5h.8v.8h-.8zM225.7 140.2h.8v.8h-.8zM214.5 132.7h.8v.8h-.8zM223.9 148.1h.8v.8h-.8zM221.8 141.3h.8v.8h-.8zM220.7 142.2h.8v.8h-.8zM223.6 134.8h.8v.8h-.8zM221.1 136.5h.8v.8h-.8zM222.8 137.1h.8v.8h-.8zM222.0 138.8h.8v.8h-.8zM222.1 144.4h.8v.8h-.8zM229.1 147.7h.8v.8h-.8zM221.4 150.1h.8v.8h-.8zM217.1 135.9h.8v.8h-.8zM211.3 143.7h.8v.8h-.8zM220.6 132.2h.8v.8h-.8zM232.5 138.8h.8v.8h-.8zM227.0 146.4h.8v.8h-.8zM230.8 147.3h.8v.8h-.8zM217.7 128.9h.8v.8h-.8zM217.0 136.7h.8v.8h-.8zM223.9 139.6h.8v.8h-.8zM223.4 137.3h.8v.8h-.8zM213.7 146.1h.8v.8h-.8zM225.0 134.3h.8v.8h-.8zM218.2 143.7h.8v.8h-.8zM224.3 146.7h.8v.8h-.8zM220.8 135.2h.8v.8h-.8zM223.8 141.2h.8v.8h-.8zM210.7 142.1h.8v.8h-.8zM218.8 142.9h.8v.8h-.8zM227.7 150.4h.8v.8h-.8zM223.0 144.0h.8v.8h-.8zM211.0 133.7h.8v.8h-.8zM209.4 139.9h.8v.8h-.8zM210.1 137.4h.8v.8h-.8zM220.0 137.0h.8v.8h-.8zM219.1 139.9h.8v.8h-.8zM227.1 140.2h.8v.8h-.8zM222.6 146.9h.8v.8h-.8zM219.6 143.0h.8v.8h-.8zM225.1 139.3h.8v.8h-.8zM217.4 145.0h.8v.8h-.8zM225.1 131.4h.8v.8h-.8zM227.4 147.3h.8v.8h-.8zM226.0 145.5h.8v.8h-.8zM228.7 149.4h.8v.8h-.8zM219.7 133.9h.8v.8h-.8zM219.0 146.9h.8v.8h-.8zM227.6 146.4h.8v.8h-.8zM225.5 134.7h.8v.8h-.8zM212.8 143.8h.8v.8h-.8zM225.2 144.2h.8v.8h-.8zM224.8 145.4h.8v.8h-.8zM218.1 140.8h.8v.8h-.8zM229.2 136.4h.8v.8h-.8zM220.2 153.6h.8v.8h-.8zM221.3 139.7h.8v.8h-.8zM219.5 144.0h.8v.8h-.8zM227.9 140.5h.8v.8h-.8zM218.1 129.4h.8v.8h-.8zM227.7 149.7h.8v.8h-.8zM217.0 131.3h.8v.8h-.8zM220.5 137.6h.8v.8h-.8zM215.1 139.5h.8v.8h-.8zM222.7 135.9h.8v.8h-.8zM214.0 136.2h.8v.8h-.8zM216.3 144.0h.8v.8h-.8zM228.3 144.2h.8v.8h-.8zM224.6 139.7h.8v.8h-.8zM217.5 153.1h.8v.8h-.8zM220.9 147.3h.8v.8h-.8zM223.6 136.9h.8v.8h-.8zM216.3 144.0h.8v.8h-.8zM228.2 141.1h.8v.8h-.8zM229.5 146.8h.8v.8h-.8zM223.9 142.3h.8v.8h-.8zM217.7 141.6h.8v.8h-.8zM227.0 145.3h.8v.8h-.8zM218.5 139.2h.8v.8h-.8zM228.6 148.1h.8v.8h-.8zM219.2 132.1h.8v.8h-.8zM225.9 132.7h.8v.8h-.8zM210.4 144.4h.8v.8h-.8zM213.2 128.5h.8v.8h-.8zM220.4 145.9h.8v.8h-.8zM215.7 139.1h.8v.8h-.8zM223.4 135.1h.8v.8h-.8zM218.7 151.8h.8v.8h-.8zM219.0 148.5h.8v.8h-.8zM223.8 142.3h.8v.8h-.8zM222.7 147.2h.8v.8h-.8zM225.9 131.0h.8v.8h-.8zM217.5 139.7h.8v.8h-.8zM229.3 139.7h.8v.8h-.8zM226.6 138.3h.8v.8h-.8zM215.2 148.7h.8v.8h-.8zM225.9 135.7h.8v.8h-.8zM224.2 139.0h.8v.8h-.8zM209.9 144.7h.8v.8h-.8zM215.1 130.0h.8v.8h-.8zM217.4 140.5h.8v.8h-.8zM227.6 136.1h.8v.8h-.8zM220.2 145.4h.8v.8h-.8zM219.2 148.6h.8v.8h-.8zM214.3 139.7h.8v.8h-.8zM223.8 144.8h.8v.8h-.8zM224.6 142.9h.8v.8h-.8zM223.8 148.9h.8v.8h-.8zM217.4 139.0h.8v.8h-.8zM224.7 144.5h.8v.8h-.8zM217.7 153.6h.8v.8h-.8zM223.5 139.5h.8v.8h-.8zM228.3 137.3h.8v.8h-.8zM210.3 146.6h.8v.8h-.8zM227.3 147.7h.8v.8h-.8zM226.7 138.4h.8v.8h-.8zM219.5 142.0h.8v.8h-.8zM225.0 136.2h.8v.8h-.8zM220.1 130.3h.8v.8h-.8zM227.0 145.0h.8v.8h-.8zM225.5 135.0h.8v.8h-.8zM217.1 134.7h.8v.8h-.8zM228.6 138.5h.8v.8h-.8zM227.6 135.9h.8v.8h-.8zM214.7 138.9h.8v.8h-.8zM222.3 141.2h.8v.8h-.8zM231.3 146.3h.8v.8h-.8zM215.6 139.3h.8v.8h-.8zM219.4 128.6h.8v.8h-.8zM220.0 151.9h.8v.8h-.8zM219.5 141.9h.8v.8h-.8zM224.9 147.0h.8v.8h-.8zM216.8 143.5h.8v.8h-.8zM214.6 135.7h.8v.8h-.8zM221.1 142.2h.8v.8h-.8zM211.3 140.6h.8v.8h-.8zM220.6 145.7h.8v.8h-.8zM216.6 148.7h.8v.8h-.8zM218.4 143.3h.8v.8h-.8zM222.0 141.0h.8v.8h-.8zM216.8 149.4h.8v.8h-.8zM227.1 138.1h.8v.8h-.8zM218.2 148.4h.8v.8h-.8zM215.3 145.6h.8v.8h-.8zM215.1 143.3h.8v.8h-.8zM223.3 127.4h.8v.8h-.8zM224.4 151.1h.8v.8h-.8zM222.3 150.6h.8v.8h-.8zM214.4 139.4h.8v.8h-.8zM215.2 145.9h.8v.8h-.8zM219.0 131.8h.8v.8h-.8zM228.5 138.3h.8v.8h-.8zM226.6 141.1h.8v.8h-.8zM217.5 149.7h.8v.8h-.8zM219.2 149.4h.8v.8h-.8zM217.2 146.2h.8v.8h-.8zM222.2 143.8h.8v.8h-.8zM222.0 144.8h.8v.8h-.8zM223.6 136.8h.8v.8h-.8zM224.6 137.5h.8v.8h-.8zM221.0 133.1h.8v.8h-.8zM223.2 149.8h.8v.8h-.8zM228.1 147.2h.8v.8h-.8zM213.3 129.2h.8v.8h-.8zM225.6 153.4h.8v.8h-.8zM223.1 146.5h.8v.8h-.8zM225.5 139.0h.8v.8h-.8zM220.0 151.7h.8v.8h-.8zM222.9 149.7h.8v.8h-.8zM220.4 142.0h.8v.8h-.8zM221.3 139.8h.8v.8h-.8zM223.7 146.5h.8v.8h-.8zM224.4 133.3h.8v.8h-.8zM219.7 131.3h.8v.8h-.8zM222.8 146.4h.8v.8h-.8zM217.5 142.1h.8v.8h-.8zM212.5 144.0h.8v.8h-.8zM229.6 138.8h.8v.8h-.8zM219.8 135.8h.8v.8h-.8zM224.1 137.2h.8v.8h-.8zM231.8 139.0h.8v.8h-.8zM221.6 136.5h.8v.8h-.8zM211.9 150.6h.8v.8h-.8zM219.4 142.8h.8v.8h-.8zM225.4 133.0h.8v.8h-.8zM217.4 138.4h.8v.8h-.8zM229.5 144.2h.8v.8h-.8zM222.5 130.3h.8v.8h-.8zM212.8 150.3h.8v.8h-.8zM227.8 140.0h.8v.8h-.8zM208.9 141.6h.8v.8h-.8zM221.3 129.7h.8v.8h-.8zM224.0 148.7h.8v.8h-.8zM222.8 139.8h.8v.8h-.8zM224.2 139.3h.8v.8h-.8zM220.8 146.1h.8v.8h-.8zM220.5 137.0h.8v.8h-.8zM218.0 146.3h.8v.8h-.8zM216.1 146.8h.8v.8h-.8zM228.0 139.5h.8v.8h-.8zM223.2 146.9h.8v.8h-.8zM220.4 140.9h.8v.8h-.8zM225.8 136.6h.8v.8h-.8zM215.1 139.0h.8v.8h-.8zM219.8 142.9h.8v.8h-.8zM215.9 144.0h.8v.8h-.8zM219.7 130.6h.8v.8h-.8zM225.9 143.1h.8v.8h-.8zM217.6 152.6h.8v.8h-.8zM218.0 143.8h.8v.8h-.8zM219.4 135.4h.8v.8h-.8zM229.6 131.2h.8v.8h-.8zM228.8 151.0h.8v.8h-.8zM215.0 145.1h.8v.8h-.8zM225.0 135.4h.8v.8h-.8zM223.6 144.7h.8v.8h-.8zM222.7 146.2h.8v.8h-.8zM217.9 140.2h.8v.8h-.8zM231.1 135.6h.8v.8h-.8zM229.4 141.9h.8v.8h-.8zM217.1 147.2h.8v.8h-.8zM212.8 150.8h.8v.8h-.8zM212.5 136.7h.8v.8h-.8zM218.7 142.8h.8v.8h-.8zM215.8 142.7h.8v.8h-.8zM216.1 141.3h.8v.8h-.8zM212.6 145.5h.8v.8h-.8zM209.9 145.4h.8v.8h-.8zM225.0 147.1h.8v.8h-.8zM221.2 130.1h.8v.8h-.8zM212.5 141.4h.8v.8h-.8zM229.3 141.1h.8v.8h-.8zM224.1 147.5h.8v.8h-.8zM219.3 133.1h.8v.8h-.8zM224.7 132.6h.8v.8h-.8zM218.9 140.7h.8v.8h-.8zM211.7 132.6h.8v.8h-.8zM216.0 145.4h.8v.8h-.8zM216.3 146.7h.8v.8h-.8zM224.2 144.3h.8v.8h-.8zM224.6 142.1h.8v.8h-.8zM222.8 145.9h.8v.8h-.8zM216.9 135.9h.8v.8h-.8zM214.1 138.0h.8v.8h-.8zM221.4 144.3h.8v.8h-.8zM223.6 138.3h.8v.8h-.8zM215.9 142.9h.8v.8h-.8zM223.7 137.3h.8v.8h-.8zM220.4 133.4h.8v.8h-.8zM223.3 149.9h.8v.8h-.8zM220.7 132.7h.8v.8h-.8zM219.5 146.7h.8v.8h-.8zM217.4 138.0h.8v.8h-.8zM230.2 140.7h.8v.8h-.8zM216.1 153.0h.8v.8h-.8zM218.1 131.7h.8v.8h-.8zM220.9 131.3h.8v.8h-.8zM216.9 141.5h.8v.8h-.8zM220.1 132.0h.8v.8h-.8zM221.5 134.8h.8v.8h-.8zM228.8 132.9h.8v.8h-.8zM212.4 142.7h.8v.8h-.8zM218.9 133.5h.8v.8h-.8zM215.0 142.2h.8v.8h-.8zM219.2 129.4h.8v.8h-.8zM220.9 144.0h.8v.8h-.8zM225.3 138.5h.8v.8h-.8zM220.2 148.0h.8v.8h-.8zM224.0 147.7h.8v.8h-.8zM219.3 139.0h.8v.8h-.8zM222.2 135.2h.8v.8h-.8zM216.9 145.5h.8v.8h-.8zM211.1 144.0h.8v.8h-.8zM216.6 139.1h.8v.8h-.8zM216.5 146.4h.8v.8h-.8zM225.9 147.7h.8v.8h-.8zM212.8 143.2h.8v.8h-.8zM214.4 141.3h.8v.8h-.8zM208.8 143.2h.8v.8h-.8zM211.7 143.0h.8v.8h-.8zM213.5 146.4h.8v.8h-.8zM216.5 147.9h.8v.8h-.8zM211.4 140.4h.8v.8h-.8zM220.6 145.7h.8v.8h-.8zM218.0 145.8h.8v.8h-.8zM219.9 141.5h.8v.8h-.8zM224.6 147.0h.8v.8h-.8zM218.0 140.3h.8v.8h-.8zM214.1 147.4h.8v.8h-.8zM215.7 145.7h.8v.8h-.8zM213.7 145.0h.8v.8h-.8zM223.0 151.5h.8v.8h-.8zM221.7 147.4h.8v.8h-.8zM216.3 138.9h.8v.8h-.8zM217.1 139.5h.8v.8h-.8zM216.8 144.7h.8v.8h-.8zM213.3 145.2h.8v.8h-.8zM215.4 140.5h.8v.8h-.8zM219.6 151.1h.8v.8h-.8zM210.8 148.8h.8v.8h-.8zM216.2 145.4h.8v.8h-.8zM214.0 149.3h.8v.8h-.8zM210.6 145.5h.8v.8h-.8zM216.1 153.2h.8v.8h-.8zM220.1 152.1h.8v.8h-.8zM210.7 147.3h.8v.8h-.8zM214.6 140.1h.8v.8h-.8zM217.2 139.3h.8v.8h-.8zM215.4 139.3h.8v.8h-.8zM216.6 143.1h.8v.8h-.8zM214.5 143.3h.8v.8h-.8zM210.2 139.9h.8v.8h-.8zM214.1 146.1h.8v.8h-.8zM214.3 147.7h.8v.8h-.8zM218.4 147.1h.8v.8h-.8zM216.6 151.0h.8v.8h-.8zM222.1 142.6h.8v.8h-.8zM211.6 146.9h.8v.8h-.8zM218.3 150.7h.8v.8h-.8zM213.5 147.3h.8v.8h-.8zM210.7 142.1h.8v.8h-.8zM217.8 147.1h.8v.8h-.8zM218.1 144.8h.8v.8h-.8zM217.0 145.5h.8v.8h-.8zM212.7 142.6h.8v.8h-.8zM223.4 150.3h.8v.8h-.8zM219.1 140.2h.8v.8h-.8zM213.4 141.1h.8v.8h-.8zM214.1 143.8h.8v.8h-.8zM219.2 139.5h.8v.8h-.8zM213.3 146.3h.8v.8h-.8zM213.5 142.2h.8v.8h-.8zM217.1 146.6h.8v.8h-.8zM218.8 148.5h.8v.8h-.8zM214.8 148.7h.8v.8h-.8zM219.2 145.4h.8v.8h-.8zM217.0 146.2h.8v.8h-.8zM210.4 143.2h.8v.8h-.8zM214.8 150.7h.8v.8h-.8zM216.5 145.9h.8v.8h-.8zM220.0 143.3h.8v.8h-.8zM214.9 139.9h.8v.8h-.8zM211.8 149.3h.8v.8h-.8zM217.7 147.8h.8v.8h-.8zM223.3 144.5h.8v.8h-.8zM215.6 150.4h.8v.8h-.8zM216.8 150.1h.8v.8h-.8zM217.3 150.8h.8v.8h-.8zM217.7 146.1h.8v.8h-.8zM214.8 149.3h.8v.8h-.8zM217.4 137.0h.8v.8h-.8zM216.7 148.4h.8v.8h-.8zM213.9 147.4h.8v.8h-.8zM220.5 147.2h.8v.8h-.8zM217.3 142.4h.8v.8h-.8zM210.4 145.6h.8v.8h-.8zM217.9 150.3h.8v.8h-.8zM214.2 143.9h.8v.8h-.8zM219.1 151.1h.8v.8h-.8zM217.9 147.6h.8v.8h-.8zM218.5 147.6h.8v.8h-.8zM223.3 140.4h.8v.8h-.8zM214.5 151.9h.8v.8h-.8zM221.0 138.8h.8v.8h-.8zM217.5 136.6h.8v.8h-.8zM216.4 142.4h.8v.8h-.8zM218.6 141.9h.8v.8h-.8zM224.7 145.3h.8v.8h-.8zM224.8 147.1h.8v.8h-.8zM209.3 141.1h.8v.8h-.8zM213.9 143.4h.8v.8h-.8zM219.7 146.7h.8v.8h-.8zM217.7 148.1h.8v.8h-.8zM222.0 144.6h.8v.8h-.8zM218.4 140.6h.8v.8h-.8zM213.3 146.5h.8v.8h-.8zM221.0 144.2h.8v.8h-.8zM218.0 145.9h.8v.8h-.8zM218.1 148.1h.8v.8h-.8zM217.4 151.4h.8v.8h-.8zM218.0 142.8h.8v.8h-.8zM216.2 150.1h.8v.8h-.8zM212.0 146.2h.8v.8h-.8zM213.0 142.0h.8v.8h-.8zM214.0 135.9h.8v.8h-.8zM215.7 150.2h.8v.8h-.8zM212.4 148.3h.8v.8h-.8zM214.3 137.7h.8v.8h-.8zM213.8 142.0h.8v.8h-.8zM215.2 148.7h.8v.8h-.8zM213.4 144.2h.8v.8h-.8zM213.0 148.6h.8v.8h-.8zM220.2 142.7h.8v.8h-.8zM215.6 143.5h.8v.8h-.8zM219.4 142.8h.8v.8h-.8zM215.3 145.7h.8v.8h-.8zM221.8 146.1h.8v.8h-.8zM221.2 144.5h.8v.8h-.8zM222.2 138.8h.8v.8h-.8zM216.7 143.1h.8v.8h-.8zM216.6 149.7h.8v.8h-.8zM216.2 137.8h.8v.8h-.8zM216.7 149.7h.8v.8h-.8zM217.3 135.8h.8v.8h-.8zM215.1 146.0h.8v.8h-.8zM213.3 145.7h.8v.8h-.8zM212.1 141.3h.8v.8h-.8zM211.0 146.9h.8v.8h-.8zM213.7 144.8h.8v.8h-.8zM213.0 141.2h.8v.8h-.8zM217.6 140.7h.8v.8h-.8zM219.1 148.8h.8v.8h-.8zM219.8 138.2h.8v.8h-.8zM216.8 144.0h.8v.8h-.8zM214.2 150.5h.8v.8h-.8zM220.4 148.5h.8v.8h-.8zM219.6 145.8h.8v.8h-.8zM219.3 141.4h.8v.8h-.8zM219.8 142.7h.8v.8h-.8zM217.0 147.0h.8v.8h-.8zM220.5 146.9h.8v.8h-.8zM213.5 149.8h.8v.8h-.8zM217.2 145.1h.8v.8h-.8zM222.2 143.1h.8v.8h-.8zM214.6 143.0h.8v.8h-.8zM217.4 136.4h.8v.8h-.8zM214.5 147.0h.8v.8h-.8zM213.0 143.3h.8v.8h-.8zM215.0 144.0h.8v.8h-.8zM213.4 140.6h.8v.8h-.8zM218.1 149.4h.8v.8h-.8zM220.4 144.5h.8v.8h-.8zM221.5 143.2h.8v.8h-.8zM216.6 152.1h.8v.8h-.8zM221.0 146.8h.8v.8h-.8zM217.3 139.3h.8v.8h-.8zM213.5 148.0h.8v.8h-.8zM214.8 149.9h.8v.8h-.8zM219.4 146.9h.8v.8h-.8zM222.7 136.9h.8v.8h-.8zM221.6 148.9h.8v.8h-.8zM212.6 145.0h.8v.8h-.8zM214.0 142.6h.8v.8h-.8zM216.9 148.6h.8v.8h-.8z" fill="#bfaedb"/>
<path d="M218.3 141.7h.7v.7h-.7zM214.5 142.1h.7v.7h-.7zM218.8 137.0h.7v.7h-.7zM215.5 148.1h.7v.7h-.7zM222.0 138.0h.7v.7h-.7zM207.1 137.8h.7v.7h-.7zM220.4 144.1h.7v.7h-.7zM226.6 128.2h.7v.7h-.7zM217.1 140.3h.7v.7h-.7zM215.7 146.9h.7v.7h-.7zM222.7 131.3h.7v.7h-.7zM219.7 138.4h.7v.7h-.7zM229.4 139.1h.7v.7h-.7zM229.1 143.0h.7v.7h-.7zM211.2 134.3h.7v.7h-.7zM217.8 156.3h.7v.7h-.7zM223.4 138.4h.7v.7h-.7zM225.4 142.0h.7v.7h-.7zM228.6 140.5h.7v.7h-.7zM216.1 145.3h.7v.7h-.7zM217.3 138.7h.7v.7h-.7zM216.9 142.1h.7v.7h-.7zM223.4 145.8h.7v.7h-.7zM212.8 143.4h.7v.7h-.7zM220.6 152.4h.7v.7h-.7z" fill="#7a62a8"/>
<path d="M294.0 55.8h.75v.75h-.75zM291.4 54.9h.75v.75h-.75zM287.7 56.0h.75v.75h-.75zM292.2 54.5h.75v.75h-.75zM284.6 55.6h.75v.75h-.75zM282.8 59.7h.75v.75h-.75zM298.4 59.8h.75v.75h-.75zM289.7 55.1h.75v.75h-.75zM279.0 59.1h.75v.75h-.75zM279.3 60.6h.75v.75h-.75zM286.3 55.7h.75v.75h-.75zM290.1 55.4h.75v.75h-.75zM291.6 53.8h.75v.75h-.75zM296.0 55.6h.75v.75h-.75zM297.7 54.8h.75v.75h-.75zM295.8 57.1h.75v.75h-.75zM290.5 51.9h.75v.75h-.75zM289.9 55.0h.75v.75h-.75zM290.9 53.4h.75v.75h-.75zM285.8 53.2h.75v.75h-.75zM298.2 54.7h.75v.75h-.75zM288.0 51.6h.75v.75h-.75zM292.1 52.6h.75v.75h-.75zM277.8 58.7h.75v.75h-.75zM282.8 56.3h.75v.75h-.75zM280.6 60.2h.75v.75h-.75zM279.1 59.3h.75v.75h-.75zM279.6 62.1h.75v.75h-.75zM287.9 54.0h.75v.75h-.75zM278.2 58.3h.75v.75h-.75zM278.5 58.6h.75v.75h-.75zM295.1 55.2h.75v.75h-.75zM279.4 58.6h.75v.75h-.75zM295.1 54.7h.75v.75h-.75zM280.4 57.2h.75v.75h-.75zM287.2 55.0h.75v.75h-.75zM296.1 57.1h.75v.75h-.75zM279.8 58.0h.75v.75h-.75zM278.8 58.0h.75v.75h-.75zM297.1 59.6h.75v.75h-.75zM279.5 59.0h.75v.75h-.75zM287.9 55.8h.75v.75h-.75zM288.9 54.6h.75v.75h-.75zM285.4 56.2h.75v.75h-.75zM297.4 52.7h.75v.75h-.75zM296.8 59.7h.75v.75h-.75zM292.7 55.7h.75v.75h-.75zM279.4 62.7h.75v.75h-.75zM292.3 54.5h.75v.75h-.75zM280.2 59.4h.75v.75h-.75zM289.7 54.1h.75v.75h-.75zM299.2 55.4h.75v.75h-.75zM299.5 57.1h.75v.75h-.75zM300.1 57.8h.75v.75h-.75zM280.6 59.1h.75v.75h-.75zM286.3 54.6h.75v.75h-.75zM279.5 62.2h.75v.75h-.75zM287.0 54.6h.75v.75h-.75zM297.1 59.2h.75v.75h-.75zM297.6 58.4h.75v.75h-.75zM290.6 54.8h.75v.75h-.75zM298.8 58.6h.75v.75h-.75zM298.8 58.3h.75v.75h-.75zM290.0 54.2h.75v.75h-.75zM283.5 54.3h.75v.75h-.75zM286.1 54.2h.75v.75h-.75zM278.0 56.6h.75v.75h-.75zM281.1 58.4h.75v.75h-.75zM296.1 55.9h.75v.75h-.75zM296.3 56.1h.75v.75h-.75zM287.0 53.7h.75v.75h-.75zM289.0 53.9h.75v.75h-.75zM286.9 55.9h.75v.75h-.75zM292.4 53.2h.75v.75h-.75zM290.4 53.3h.75v.75h-.75zM280.1 59.1h.75v.75h-.75zM283.2 57.0h.75v.75h-.75zM276.9 63.4h.75v.75h-.75zM287.4 55.8h.75v.75h-.75zM282.3 56.8h.75v.75h-.75zM294.2 53.8h.75v.75h-.75zM290.0 55.1h.75v.75h-.75zM293.7 53.8h.75v.75h-.75zM285.7 53.2h.75v.75h-.75zM288.8 52.4h.75v.75h-.75zM280.3 58.2h.75v.75h-.75zM296.4 55.4h.75v.75h-.75zM292.2 56.6h.75v.75h-.75zM295.8 57.2h.75v.75h-.75zM283.9 56.4h.75v.75h-.75zM292.8 53.8h.75v.75h-.75zM290.8 52.5h.75v.75h-.75zM282.2 54.7h.75v.75h-.75zM278.2 61.9h.75v.75h-.75zM297.5 56.3h.75v.75h-.75zM278.2 58.3h.75v.75h-.75zM296.8 55.7h.75v.75h-.75zM278.5 59.3h.75v.75h-.75zM278.8 59.0h.75v.75h-.75zM294.6 51.6h.75v.75h-.75zM284.4 53.8h.75v.75h-.75zM289.3 54.3h.75v.75h-.75zM278.5 58.7h.75v.75h-.75zM281.3 61.2h.75v.75h-.75zM288.9 54.1h.75v.75h-.75zM283.3 55.0h.75v.75h-.75zM281.6 58.5h.75v.75h-.75zM279.2 55.1h.75v.75h-.75zM279.9 56.6h.75v.75h-.75zM297.7 55.5h.75v.75h-.75zM285.3 57.4h.75v.75h-.75zM281.8 58.0h.75v.75h-.75zM283.8 55.7h.75v.75h-.75zM285.1 56.5h.75v.75h-.75zM298.9 55.0h.75v.75h-.75zM299.4 55.1h.75v.75h-.75zM294.4 53.4h.75v.75h-.75zM279.4 57.4h.75v.75h-.75zM295.9 55.7h.75v.75h-.75zM294.0 54.0h.75v.75h-.75zM279.8 59.7h.75v.75h-.75zM291.5 53.4h.75v.75h-.75zM295.2 52.9h.75v.75h-.75zM278.2 59.5h.75v.75h-.75zM280.5 57.6h.75v.75h-.75zM289.0 53.3h.75v.75h-.75zM297.1 57.2h.75v.75h-.75zM297.0 57.3h.75v.75h-.75zM296.9 53.6h.75v.75h-.75zM279.3 61.6h.75v.75h-.75zM278.5 61.0h.75v.75h-.75zM280.8 61.3h.75v.75h-.75zM289.8 55.9h.75v.75h-.75zM281.4 58.2h.75v.75h-.75zM294.9 54.4h.75v.75h-.75zM278.7 57.8h.75v.75h-.75zM279.2 58.8h.75v.75h-.75zM282.9 56.2h.75v.75h-.75zM282.7 56.1h.75v.75h-.75zM282.1 60.8h.75v.75h-.75zM290.1 53.5h.75v.75h-.75zM287.4 55.6h.75v.75h-.75zM282.4 59.5h.75v.75h-.75zM289.2 57.0h.75v.75h-.75zM278.2 63.1h.75v.75h-.75zM294.4 55.3h.75v.75h-.75zM289.3 55.3h.75v.75h-.75zM292.9 53.3h.75v.75h-.75zM286.3 54.5h.75v.75h-.75zM299.8 56.5h.75v.75h-.75zM299.1 58.2h.75v.75h-.75zM276.7 57.3h.75v.75h-.75zM295.4 53.0h.75v.75h-.75zM287.4 53.5h.75v.75h-.75zM287.0 54.5h.75v.75h-.75zM284.7 53.0h.75v.75h-.75zM281.0 56.8h.75v.75h-.75zM297.8 61.2h.75v.75h-.75zM295.3 54.1h.75v.75h-.75zM280.7 57.0h.75v.75h-.75zM292.9 52.6h.75v.75h-.75zM287.9 55.0h.75v.75h-.75zM294.7 53.4h.75v.75h-.75zM295.2 54.1h.75v.75h-.75zM285.0 56.2h.75v.75h-.75zM291.2 53.8h.75v.75h-.75zM286.0 55.1h.75v.75h-.75zM285.6 54.1h.75v.75h-.75zM299.7 58.5h.75v.75h-.75zM292.6 53.2h.75v.75h-.75zM278.7 57.6h.75v.75h-.75zM282.0 56.5h.75v.75h-.75zM294.6 52.1h.75v.75h-.75zM280.0 58.2h.75v.75h-.75zM296.6 56.8h.75v.75h-.75zM282.4 58.7h.75v.75h-.75zM295.2 55.1h.75v.75h-.75zM299.1 56.6h.75v.75h-.75zM294.2 54.5h.75v.75h-.75zM282.4 55.9h.75v.75h-.75zM291.7 53.4h.75v.75h-.75zM286.5 54.8h.75v.75h-.75zM284.5 53.4h.75v.75h-.75zM297.0 57.6h.75v.75h-.75zM295.8 56.0h.75v.75h-.75zM283.1 56.8h.75v.75h-.75zM298.3 55.1h.75v.75h-.75zM278.4 59.4h.75v.75h-.75zM279.4 59.4h.75v.75h-.75zM293.7 55.8h.75v.75h-.75zM279.9 61.6h.75v.75h-.75zM281.4 55.9h.75v.75h-.75zM280.6 57.3h.75v.75h-.75zM287.5 56.5h.75v.75h-.75zM286.9 54.5h.75v.75h-.75zM289.1 54.8h.75v.75h-.75zM277.1 61.7h.75v.75h-.75zM283.9 56.1h.75v.75h-.75zM288.3 55.2h.75v.75h-.75zM279.9 59.7h.75v.75h-.75zM296.7 57.0h.75v.75h-.75zM280.9 57.2h.75v.75h-.75zM296.3 54.9h.75v.75h-.75zM296.9 57.7h.75v.75h-.75zM283.0 56.8h.75v.75h-.75zM298.1 57.8h.75v.75h-.75zM291.9 54.1h.75v.75h-.75zM291.8 55.6h.75v.75h-.75zM289.2 55.5h.75v.75h-.75zM284.4 52.0h.75v.75h-.75zM279.5 62.7h.75v.75h-.75zM282.9 56.5h.75v.75h-.75zM288.5 57.3h.75v.75h-.75zM297.4 56.1h.75v.75h-.75zM292.4 55.0h.75v.75h-.75zM295.3 55.5h.75v.75h-.75zM290.9 55.9h.75v.75h-.75zM298.2 54.7h.75v.75h-.75zM281.5 54.4h.75v.75h-.75zM294.3 53.7h.75v.75h-.75zM286.6 55.0h.75v.75h-.75zM278.0 61.0h.75v.75h-.75zM279.4 64.7h.75v.75h-.75zM278.9 61.2h.75v.75h-.75zM278.5 57.9h.75v.75h-.75zM285.3 58.1h.75v.75h-.75zM290.3 55.3h.75v.75h-.75zM278.0 58.6h.75v.75h-.75zM295.2 57.2h.75v.75h-.75zM297.0 53.2h.75v.75h-.75zM297.4 55.3h.75v.75h-.75zM284.7 57.4h.75v.75h-.75zM285.7 56.4h.75v.75h-.75zM288.1 55.7h.75v.75h-.75zM287.5 53.2h.75v.75h-.75zM279.8 60.7h.75v.75h-.75zM298.8 58.4h.75v.75h-.75zM289.0 52.6h.75v.75h-.75zM296.6 54.6h.75v.75h-.75zM294.2 55.1h.75v.75h-.75zM287.3 54.5h.75v.75h-.75zM302.2 60.1h.75v.75h-.75zM299.7 59.7h.75v.75h-.75zM294.4 54.2h.75v.75h-.75zM277.5 59.3h.75v.75h-.75zM296.5 56.0h.75v.75h-.75zM294.7 53.1h.75v.75h-.75zM300.3 55.4h.75v.75h-.75zM292.8 53.7h.75v.75h-.75zM289.3 54.8h.75v.75h-.75zM281.1 63.4h.75v.75h-.75zM296.7 56.4h.75v.75h-.75zM290.0 53.8h.75v.75h-.75zM286.7 54.6h.75v.75h-.75zM282.7 56.2h.75v.75h-.75zM280.5 56.1h.75v.75h-.75zM286.4 54.0h.75v.75h-.75zM281.4 57.4h.75v.75h-.75zM296.1 57.3h.75v.75h-.75zM286.0 55.2h.75v.75h-.75zM295.7 57.1h.75v.75h-.75zM290.5 50.8h.75v.75h-.75zM293.0 55.2h.75v.75h-.75zM284.9 56.7h.75v.75h-.75zM288.7 55.6h.75v.75h-.75zM288.9 54.8h.75v.75h-.75zM296.9 56.7h.75v.75h-.75zM281.4 60.9h.75v.75h-.75zM292.0 55.6h.75v.75h-.75zM295.7 56.7h.75v.75h-.75zM284.6 55.7h.75v.75h-.75zM283.5 54.9h.75v.75h-.75zM280.0 61.9h.75v.75h-.75zM278.5 59.8h.75v.75h-.75zM295.6 56.3h.75v.75h-.75zM279.1 55.5h.75v.75h-.75zM297.1 54.6h.75v.75h-.75zM293.4 54.8h.75v.75h-.75zM295.2 56.2h.75v.75h-.75zM291.0 54.5h.75v.75h-.75zM280.0 54.8h.75v.75h-.75zM281.8 56.5h.75v.75h-.75zM278.0 58.6h.75v.75h-.75zM283.6 52.2h.75v.75h-.75zM280.9 63.6h.75v.75h-.75zM298.7 56.7h.75v.75h-.75zM294.1 53.2h.75v.75h-.75zM283.3 56.4h.75v.75h-.75zM277.7 63.2h.75v.75h-.75zM295.5 54.6h.75v.75h-.75zM288.6 54.3h.75v.75h-.75zM279.4 60.4h.75v.75h-.75zM292.2 55.5h.75v.75h-.75zM298.9 58.7h.75v.75h-.75zM277.4 62.0h.75v.75h-.75zM292.6 52.0h.75v.75h-.75zM285.9 52.9h.75v.75h-.75zM295.7 56.5h.75v.75h-.75zM297.4 55.0h.75v.75h-.75zM283.8 57.4h.75v.75h-.75zM284.9 54.5h.75v.75h-.75zM284.0 54.1h.75v.75h-.75zM288.8 56.0h.75v.75h-.75zM284.6 55.9h.75v.75h-.75zM283.1 56.0h.75v.75h-.75zM282.6 55.6h.75v.75h-.75zM295.4 56.4h.75v.75h-.75zM286.9 52.3h.75v.75h-.75zM300.1 57.2h.75v.75h-.75zM292.9 55.4h.75v.75h-.75zM280.1 58.8h.75v.75h-.75zM282.4 53.6h.75v.75h-.75zM295.9 56.6h.75v.75h-.75zM279.9 61.5h.75v.75h-.75zM281.1 61.3h.75v.75h-.75zM290.5 54.8h.75v.75h-.75zM290.1 56.2h.75v.75h-.75zM284.0 55.9h.75v.75h-.75zM291.6 57.4h.75v.75h-.75zM283.9 53.6h.75v.75h-.75zM280.9 60.2h.75v.75h-.75zM284.8 57.8h.75v.75h-.75zM290.3 52.2h.75v.75h-.75zM281.3 56.8h.75v.75h-.75zM293.8 53.1h.75v.75h-.75zM278.4 59.1h.75v.75h-.75zM281.3 55.7h.75v.75h-.75zM287.7 54.2h.75v.75h-.75zM295.0 57.7h.75v.75h-.75zM293.7 55.5h.75v.75h-.75zM281.8 56.8h.75v.75h-.75zM293.3 54.9h.75v.75h-.75zM292.3 54.0h.75v.75h-.75zM297.2 54.4h.75v.75h-.75zM277.8 62.8h.75v.75h-.75zM280.9 54.6h.75v.75h-.75zM287.4 56.5h.75v.75h-.75zM300.3 58.3h.75v.75h-.75zM298.2 56.1h.75v.75h-.75zM284.0 56.0h.75v.75h-.75zM275.2 61.1h.75v.75h-.75zM297.7 53.8h.75v.75h-.75zM281.1 56.1h.75v.75h-.75zM281.9 57.8h.75v.75h-.75zM278.9 60.5h.75v.75h-.75zM297.7 57.6h.75v.75h-.75zM282.8 55.4h.75v.75h-.75zM290.1 56.1h.75v.75h-.75zM288.0 55.1h.75v.75h-.75zM285.1 55.9h.75v.75h-.75zM298.9 57.3h.75v.75h-.75zM289.4 52.9h.75v.75h-.75zM286.5 55.9h.75v.75h-.75zM288.7 55.6h.75v.75h-.75zM286.8 54.4h.75v.75h-.75zM289.5 55.7h.75v.75h-.75zM286.6 57.4h.75v.75h-.75zM285.3 55.5h.75v.75h-.75zM284.4 56.3h.75v.75h-.75zM288.5 53.2h.75v.75h-.75zM278.9 61.6h.75v.75h-.75zM292.3 53.1h.75v.75h-.75zM278.0 59.5h.75v.75h-.75zM295.5 56.5h.75v.75h-.75zM286.4 56.5h.75v.75h-.75zM295.3 56.5h.75v.75h-.75zM280.0 60.7h.75v.75h-.75zM283.5 57.2h.75v.75h-.75zM291.6 54.2h.75v.75h-.75zM287.4 57.4h.75v.75h-.75zM295.1 56.8h.75v.75h-.75zM292.0 55.9h.75v.75h-.75zM284.7 54.6h.75v.75h-.75zM293.1 54.7h.75v.75h-.75zM295.7 54.8h.75v.75h-.75zM288.8 55.5h.75v.75h-.75zM294.9 56.6h.75v.75h-.75zM295.5 57.1h.75v.75h-.75zM284.1 53.5h.75v.75h-.75zM296.2 56.0h.75v.75h-.75zM300.2 73.1h.75v.75h-.75zM302.6 80.7h.75v.75h-.75zM302.6 65.6h.75v.75h-.75zM300.4 61.2h.75v.75h-.75zM301.6 71.6h.75v.75h-.75zM300.1 83.7h.75v.75h-.75zM302.2 81.9h.75v.75h-.75zM301.0 55.7h.75v.75h-.75zM303.6 80.7h.75v.75h-.75zM304.5 75.1h.75v.75h-.75zM300.5 66.8h.75v.75h-.75zM303.3 78.9h.75v.75h-.75zM300.8 62.7h.75v.75h-.75zM303.0 70.1h.75v.75h-.75zM303.1 60.7h.75v.75h-.75zM304.7 76.3h.75v.75h-.75zM300.4 65.4h.75v.75h-.75zM301.7 77.9h.75v.75h-.75zM302.0 60.7h.75v.75h-.75zM306.6 69.7h.75v.75h-.75zM304.8 73.3h.75v.75h-.75zM304.6 70.2h.75v.75h-.75zM301.8 70.3h.75v.75h-.75zM302.5 72.5h.75v.75h-.75zM301.3 80.9h.75v.75h-.75zM300.9 69.3h.75v.75h-.75zM300.6 77.6h.75v.75h-.75zM305.2 66.9h.75v.75h-.75zM299.1 60.1h.75v.75h-.75zM303.1 74.9h.75v.75h-.75zM296.8 85.5h.75v.75h-.75zM299.7 66.2h.75v.75h-.75zM303.6 81.8h.75v.75h-.75zM301.6 57.3h.75v.75h-.75zM303.7 74.8h.75v.75h-.75zM303.9 73.8h.75v.75h-.75zM304.7 72.2h.75v.75h-.75zM300.9 69.5h.75v.75h-.75zM297.9 59.5h.75v.75h-.75zM302.6 74.6h.75v.75h-.75zM300.3 61.4h.75v.75h-.75zM301.0 70.0h.75v.75h-.75zM306.9 78.0h.75v.75h-.75zM300.7 83.1h.75v.75h-.75zM302.1 75.5h.75v.75h-.75zM304.8 75.6h.75v.75h-.75zM303.0 80.1h.75v.75h-.75zM301.3 67.8h.75v.75h-.75zM303.3 67.2h.75v.75h-.75zM301.2 82.1h.75v.75h-.75zM302.3 81.5h.75v.75h-.75zM298.9 67.3h.75v.75h-.75zM302.6 79.8h.75v.75h-.75zM305.5 73.2h.75v.75h-.75zM300.4 65.9h.75v.75h-.75zM305.3 70.8h.75v.75h-.75zM303.4 72.1h.75v.75h-.75zM300.3 65.7h.75v.75h-.75zM303.1 70.9h.75v.75h-.75zM305.5 79.8h.75v.75h-.75zM302.4 83.3h.75v.75h-.75zM302.0 72.6h.75v.75h-.75zM302.4 74.7h.75v.75h-.75zM300.4 60.0h.75v.75h-.75zM303.9 70.9h.75v.75h-.75zM302.2 78.7h.75v.75h-.75zM306.3 78.7h.75v.75h-.75zM301.6 72.9h.75v.75h-.75zM303.0 65.8h.75v.75h-.75zM302.6 76.7h.75v.75h-.75zM298.6 68.5h.75v.75h-.75zM300.6 71.3h.75v.75h-.75zM306.7 79.5h.75v.75h-.75zM300.6 80.6h.75v.75h-.75zM297.5 58.2h.75v.75h-.75zM300.6 64.9h.75v.75h-.75zM298.8 62.0h.75v.75h-.75zM303.3 81.6h.75v.75h-.75zM300.3 64.8h.75v.75h-.75zM300.4 66.8h.75v.75h-.75zM301.5 70.8h.75v.75h-.75zM300.4 61.7h.75v.75h-.75zM300.8 62.9h.75v.75h-.75zM297.8 66.2h.75v.75h-.75zM305.0 82.2h.75v.75h-.75zM303.1 73.3h.75v.75h-.75zM303.1 76.5h.75v.75h-.75zM299.6 69.5h.75v.75h-.75zM302.6 60.6h.75v.75h-.75zM301.3 60.1h.75v.75h-.75zM301.0 81.5h.75v.75h-.75zM304.3 69.0h.75v.75h-.75zM304.2 77.6h.75v.75h-.75zM299.3 62.8h.75v.75h-.75zM306.4 75.4h.75v.75h-.75zM302.5 80.4h.75v.75h-.75zM299.9 62.9h.75v.75h-.75zM302.7 82.7h.75v.75h-.75zM301.5 75.1h.75v.75h-.75zM301.9 73.1h.75v.75h-.75zM301.8 66.7h.75v.75h-.75zM303.2 78.9h.75v.75h-.75zM302.5 79.3h.75v.75h-.75zM302.0 81.1h.75v.75h-.75zM302.4 68.6h.75v.75h-.75zM298.2 63.5h.75v.75h-.75zM304.2 72.3h.75v.75h-.75zM303.0 79.4h.75v.75h-.75zM301.5 59.8h.75v.75h-.75zM299.7 84.8h.75v.75h-.75zM303.4 75.0h.75v.75h-.75zM303.8 69.3h.75v.75h-.75zM304.5 73.3h.75v.75h-.75zM299.3 81.2h.75v.75h-.75zM304.7 76.4h.75v.75h-.75zM296.9 58.9h.75v.75h-.75zM302.0 86.0h.75v.75h-.75zM303.7 80.8h.75v.75h-.75zM303.0 67.3h.75v.75h-.75zM297.5 67.8h.75v.75h-.75zM301.7 68.0h.75v.75h-.75zM300.0 66.4h.75v.75h-.75zM302.7 66.3h.75v.75h-.75zM303.3 69.8h.75v.75h-.75zM301.3 65.9h.75v.75h-.75zM302.0 70.4h.75v.75h-.75zM302.0 58.4h.75v.75h-.75zM302.4 63.1h.75v.75h-.75zM297.8 61.0h.75v.75h-.75zM302.9 63.1h.75v.75h-.75zM304.3 79.0h.75v.75h-.75zM301.5 74.0h.75v.75h-.75zM302.1 68.6h.75v.75h-.75zM298.9 66.0h.75v.75h-.75zM305.5 68.8h.75v.75h-.75zM303.0 77.4h.75v.75h-.75zM305.1 82.5h.75v.75h-.75zM299.2 75.0h.75v.75h-.75zM298.4 65.5h.75v.75h-.75zM300.9 60.2h.75v.75h-.75zM303.6 77.9h.75v.75h-.75zM302.2 66.3h.75v.75h-.75zM301.5 69.6h.75v.75h-.75zM304.5 70.7h.75v.75h-.75zM299.3 61.9h.75v.75h-.75zM303.7 77.6h.75v.75h-.75zM297.2 61.6h.75v.75h-.75zM300.5 78.0h.75v.75h-.75zM304.8 67.0h.75v.75h-.75zM300.7 59.8h.75v.75h-.75zM297.9 60.7h.75v.75h-.75zM300.9 61.9h.75v.75h-.75zM305.3 74.1h.75v.75h-.75zM303.0 68.0h.75v.75h-.75zM300.7 84.4h.75v.75h-.75zM303.3 63.1h.75v.75h-.75zM304.5 75.8h.75v.75h-.75zM300.4 59.5h.75v.75h-.75zM304.7 68.0h.75v.75h-.75zM300.7 80.2h.75v.75h-.75zM299.9 64.7h.75v.75h-.75zM301.5 84.7h.75v.75h-.75zM298.8 85.4h.75v.75h-.75zM305.1 81.7h.75v.75h-.75zM297.3 63.1h.75v.75h-.75zM301.5 67.0h.75v.75h-.75zM303.1 72.1h.75v.75h-.75zM306.1 68.7h.75v.75h-.75zM300.9 70.1h.75v.75h-.75zM298.8 69.0h.75v.75h-.75zM304.1 75.7h.75v.75h-.75zM304.1 81.0h.75v.75h-.75zM299.9 73.1h.75v.75h-.75zM302.4 64.9h.75v.75h-.75zM301.1 62.4h.75v.75h-.75zM300.6 63.1h.75v.75h-.75zM304.5 81.5h.75v.75h-.75zM300.0 77.7h.75v.75h-.75zM301.8 59.1h.75v.75h-.75zM303.7 81.6h.75v.75h-.75zM304.5 83.5h.75v.75h-.75zM302.0 79.3h.75v.75h-.75zM302.5 81.9h.75v.75h-.75zM303.9 86.2h.75v.75h-.75zM300.5 68.7h.75v.75h-.75zM303.3 67.1h.75v.75h-.75zM303.7 78.0h.75v.75h-.75zM297.9 61.9h.75v.75h-.75zM303.9 63.3h.75v.75h-.75zM305.2 80.5h.75v.75h-.75zM302.7 71.3h.75v.75h-.75zM303.3 66.6h.75v.75h-.75zM302.5 75.8h.75v.75h-.75zM302.7 64.0h.75v.75h-.75zM301.0 81.2h.75v.75h-.75zM300.9 76.6h.75v.75h-.75zM299.6 87.0h.75v.75h-.75zM302.8 77.9h.75v.75h-.75zM301.0 68.1h.75v.75h-.75zM302.9 85.9h.75v.75h-.75zM304.4 71.5h.75v.75h-.75zM303.0 72.3h.75v.75h-.75zM301.4 81.4h.75v.75h-.75zM306.5 77.0h.75v.75h-.75zM302.3 75.1h.75v.75h-.75zM303.9 76.3h.75v.75h-.75zM305.8 75.6h.75v.75h-.75zM304.8 76.3h.75v.75h-.75zM296.2 61.8h.75v.75h-.75zM305.7 80.0h.75v.75h-.75zM300.2 76.3h.75v.75h-.75zM302.6 73.8h.75v.75h-.75zM304.3 72.3h.75v.75h-.75zM300.0 84.8h.75v.75h-.75zM300.0 65.2h.75v.75h-.75zM301.3 69.0h.75v.75h-.75zM303.7 82.2h.75v.75h-.75zM297.8 65.6h.75v.75h-.75zM300.3 65.0h.75v.75h-.75zM302.2 79.6h.75v.75h-.75zM306.4 73.7h.75v.75h-.75zM302.8 76.4h.75v.75h-.75zM301.3 84.4h.75v.75h-.75zM300.8 62.9h.75v.75h-.75zM304.8 82.7h.75v.75h-.75zM304.4 71.6h.75v.75h-.75zM303.2 77.3h.75v.75h-.75zM301.6 77.8h.75v.75h-.75zM304.8 84.7h.75v.75h-.75zM298.3 57.3h.75v.75h-.75zM302.1 80.2h.75v.75h-.75zM300.8 81.1h.75v.75h-.75zM304.4 78.8h.75v.75h-.75zM301.0 72.9h.75v.75h-.75zM301.2 69.1h.75v.75h-.75zM300.8 63.9h.75v.75h-.75zM301.0 71.5h.75v.75h-.75zM305.2 69.1h.75v.75h-.75zM304.2 78.2h.75v.75h-.75zM300.6 81.8h.75v.75h-.75zM300.6 65.7h.75v.75h-.75zM300.2 66.7h.75v.75h-.75zM301.7 76.8h.75v.75h-.75zM303.7 72.9h.75v.75h-.75zM306.5 72.4h.75v.75h-.75zM301.3 69.9h.75v.75h-.75zM303.2 86.3h.75v.75h-.75zM301.1 71.9h.75v.75h-.75zM301.0 82.3h.75v.75h-.75zM300.1 69.4h.75v.75h-.75zM295.0 72.5h.75v.75h-.75zM297.2 84.5h.75v.75h-.75zM298.4 67.9h.75v.75h-.75zM293.7 70.6h.75v.75h-.75zM289.0 72.5h.75v.75h-.75zM297.9 75.2h.75v.75h-.75zM296.3 79.5h.75v.75h-.75zM296.2 75.6h.75v.75h-.75zM296.5 67.3h.75v.75h-.75zM300.4 77.1h.75v.75h-.75zM298.2 65.6h.75v.75h-.75zM294.2 73.1h.75v.75h-.75zM291.8 68.2h.75v.75h-.75zM294.0 76.7h.75v.75h-.75zM302.2 74.4h.75v.75h-.75zM302.0 74.1h.75v.75h-.75zM292.1 75.4h.75v.75h-.75zM299.9 80.1h.75v.75h-.75zM301.6 83.2h.75v.75h-.75zM293.5 72.3h.75v.75h-.75zM294.2 79.4h.75v.75h-.75zM301.9 76.8h.75v.75h-.75zM292.9 78.7h.75v.75h-.75zM290.6 72.9h.75v.75h-.75zM297.0 83.1h.75v.75h-.75zM292.3 73.5h.75v.75h-.75zM294.6 77.3h.75v.75h-.75zM293.6 77.5h.75v.75h-.75zM295.1 66.3h.75v.75h-.75zM296.3 69.3h.75v.75h-.75zM297.5 71.3h.75v.75h-.75zM297.1 66.8h.75v.75h-.75zM302.2 72.4h.75v.75h-.75zM302.5 79.9h.75v.75h-.75zM296.7 73.4h.75v.75h-.75zM299.5 73.9h.75v.75h-.75zM299.4 72.6h.75v.75h-.75zM292.0 82.1h.75v.75h-.75zM302.5 81.5h.75v.75h-.75zM296.3 74.3h.75v.75h-.75zM294.3 75.0h.75v.75h-.75zM290.6 76.3h.75v.75h-.75zM298.0 84.5h.75v.75h-.75zM293.5 86.8h.75v.75h-.75zM293.8 75.6h.75v.75h-.75zM301.4 82.5h.75v.75h-.75zM298.8 76.5h.75v.75h-.75zM297.4 66.4h.75v.75h-.75zM297.4 79.1h.75v.75h-.75zM290.0 82.2h.75v.75h-.75zM291.3 76.6h.75v.75h-.75zM298.9 85.7h.75v.75h-.75zM293.8 79.4h.75v.75h-.75zM298.3 76.4h.75v.75h-.75zM300.9 79.9h.75v.75h-.75zM303.2 85.5h.75v.75h-.75zM296.9 78.2h.75v.75h-.75zM305.5 82.0h.75v.75h-.75zM295.0 76.6h.75v.75h-.75zM303.5 71.3h.75v.75h-.75zM296.7 79.5h.75v.75h-.75zM299.3 72.9h.75v.75h-.75zM296.7 80.4h.75v.75h-.75zM297.3 73.6h.75v.75h-.75zM295.8 72.8h.75v.75h-.75zM296.7 76.4h.75v.75h-.75zM296.9 70.9h.75v.75h-.75zM294.4 70.5h.75v.75h-.75zM301.4 73.6h.75v.75h-.75zM298.0 72.2h.75v.75h-.75zM292.5 68.6h.75v.75h-.75zM298.2 79.8h.75v.75h-.75zM301.3 80.0h.75v.75h-.75zM295.3 73.8h.75v.75h-.75zM293.9 76.0h.75v.75h-.75zM294.4 78.3h.75v.75h-.75zM295.9 83.9h.75v.75h-.75zM300.1 77.5h.75v.75h-.75zM288.2 77.7h.75v.75h-.75zM289.3 77.6h.75v.75h-.75zM294.8 79.1h.75v.75h-.75zM293.7 76.2h.75v.75h-.75zM295.7 80.8h.75v.75h-.75zM300.5 81.8h.75v.75h-.75zM301.6 81.3h.75v.75h-.75zM302.1 80.0h.75v.75h-.75zM294.0 83.8h.75v.75h-.75zM295.2 57.1h.75v.75h-.75zM301.8 80.2h.75v.75h-.75zM302.0 76.8h.75v.75h-.75zM290.7 66.7h.75v.75h-.75zM301.2 78.4h.75v.75h-.75zM297.7 73.4h.75v.75h-.75zM305.5 87.2h.75v.75h-.75zM293.5 70.9h.75v.75h-.75zM301.3 79.7h.75v.75h-.75zM296.2 82.3h.75v.75h-.75zM299.8 72.5h.75v.75h-.75zM300.4 71.5h.75v.75h-.75zM295.5 74.7h.75v.75h-.75zM302.0 76.7h.75v.75h-.75zM289.4 67.1h.75v.75h-.75zM292.5 71.9h.75v.75h-.75zM295.2 86.0h.75v.75h-.75zM296.0 76.9h.75v.75h-.75zM298.9 79.9h.75v.75h-.75zM281.5 67.7h.75v.75h-.75zM296.8 76.2h.75v.75h-.75zM300.2 80.9h.75v.75h-.75zM293.5 77.8h.75v.75h-.75zM299.1 79.9h.75v.75h-.75zM290.7 66.8h.75v.75h-.75zM296.8 77.3h.75v.75h-.75zM295.7 71.6h.75v.75h-.75zM300.7 76.5h.75v.75h-.75zM300.8 75.3h.75v.75h-.75zM304.4 80.7h.75v.75h-.75zM292.3 74.9h.75v.75h-.75zM294.6 76.5h.75v.75h-.75zM285.2 83.0h.75v.75h-.75zM295.7 75.1h.75v.75h-.75zM301.4 74.4h.75v.75h-.75zM297.4 66.9h.75v.75h-.75zM296.3 79.5h.75v.75h-.75zM294.9 75.1h.75v.75h-.75zM306.6 68.3h.75v.75h-.75zM294.9 72.8h.75v.75h-.75zM300.5 83.9h.75v.75h-.75zM292.9 75.9h.75v.75h-.75zM301.5 82.1h.75v.75h-.75zM291.3 67.8h.75v.75h-.75zM299.4 66.3h.75v.75h-.75zM299.6 82.9h.75v.75h-.75zM299.0 80.7h.75v.75h-.75zM299.6 68.1h.75v.75h-.75zM286.0 77.3h.75v.75h-.75zM295.6 78.2h.75v.75h-.75zM291.5 70.8h.75v.75h-.75zM297.5 73.8h.75v.75h-.75zM289.7 64.0h.75v.75h-.75zM299.1 79.4h.75v.75h-.75zM302.5 72.3h.75v.75h-.75zM301.5 69.5h.75v.75h-.75zM298.4 75.9h.75v.75h-.75zM296.9 82.6h.75v.75h-.75zM301.4 82.2h.75v.75h-.75zM296.9 81.1h.75v.75h-.75zM302.4 78.8h.75v.75h-.75zM302.7 78.1h.75v.75h-.75zM297.1 73.8h.75v.75h-.75zM298.8 72.1h.75v.75h-.75zM296.8 82.9h.75v.75h-.75zM297.1 70.5h.75v.75h-.75zM291.1 70.2h.75v.75h-.75zM291.5 80.0h.75v.75h-.75zM303.3 70.6h.75v.75h-.75zM297.8 67.7h.75v.75h-.75zM294.7 85.3h.75v.75h-.75zM299.3 73.1h.75v.75h-.75zM291.8 79.6h.75v.75h-.75zM295.7 82.5h.75v.75h-.75zM303.5 82.2h.75v.75h-.75zM298.0 83.4h.75v.75h-.75zM294.3 67.8h.75v.75h-.75zM298.6 68.4h.75v.75h-.75zM290.6 65.5h.75v.75h-.75zM294.0 64.2h.75v.75h-.75zM300.9 78.0h.75v.75h-.75zM299.9 78.5h.75v.75h-.75zM296.0 75.5h.75v.75h-.75zM298.3 66.6h.75v.75h-.75zM290.7 69.1h.75v.75h-.75zM296.5 81.5h.75v.75h-.75zM297.9 81.1h.75v.75h-.75zM295.9 75.9h.75v.75h-.75zM294.4 76.4h.75v.75h-.75zM293.7 64.7h.75v.75h-.75zM298.8 80.4h.75v.75h-.75zM295.0 76.5h.75v.75h-.75zM298.4 82.0h.75v.75h-.75zM298.0 72.8h.75v.75h-.75zM296.1 77.2h.75v.75h-.75zM300.0 77.4h.75v.75h-.75zM294.3 77.6h.75v.75h-.75zM301.2 78.9h.75v.75h-.75zM301.4 81.6h.75v.75h-.75zM295.8 75.5h.75v.75h-.75zM301.0 67.0h.75v.75h-.75zM291.5 70.0h.75v.75h-.75zM297.5 68.2h.75v.75h-.75zM296.7 80.9h.75v.75h-.75zM299.0 74.8h.75v.75h-.75zM292.7 82.4h.75v.75h-.75zM300.9 81.8h.75v.75h-.75zM292.2 69.5h.75v.75h-.75zM295.9 67.0h.75v.75h-.75zM301.3 77.6h.75v.75h-.75zM291.4 73.6h.75v.75h-.75zM292.8 86.1h.75v.75h-.75zM294.2 88.0h.75v.75h-.75zM295.5 84.2h.75v.75h-.75zM290.8 79.3h.75v.75h-.75zM297.4 75.5h.75v.75h-.75zM294.0 75.4h.75v.75h-.75zM300.7 83.9h.75v.75h-.75zM294.6 70.5h.75v.75h-.75zM297.4 69.3h.75v.75h-.75zM291.8 76.2h.75v.75h-.75zM290.2 71.4h.75v.75h-.75zM294.5 75.5h.75v.75h-.75zM295.6 74.3h.75v.75h-.75zM296.3 69.4h.75v.75h-.75zM293.5 73.7h.75v.75h-.75zM300.6 71.6h.75v.75h-.75zM299.6 77.2h.75v.75h-.75zM295.9 74.5h.75v.75h-.75zM299.9 86.5h.75v.75h-.75zM294.8 78.7h.75v.75h-.75zM293.2 79.1h.75v.75h-.75zM287.6 77.4h.75v.75h-.75zM298.8 72.1h.75v.75h-.75zM305.4 73.6h.75v.75h-.75zM299.7 77.9h.75v.75h-.75zM297.6 76.1h.75v.75h-.75zM302.1 75.5h.75v.75h-.75zM289.2 74.2h.75v.75h-.75zM299.2 80.0h.75v.75h-.75zM299.4 78.3h.75v.75h-.75zM299.5 77.5h.75v.75h-.75zM295.6 70.6h.75v.75h-.75zM298.8 74.0h.75v.75h-.75zM294.9 73.7h.75v.75h-.75zM301.9 70.5h.75v.75h-.75zM295.6 75.3h.75v.75h-.75zM299.9 81.4h.75v.75h-.75zM297.4 76.9h.75v.75h-.75zM298.2 76.0h.75v.75h-.75zM299.1 81.7h.75v.75h-.75zM298.5 87.4h.75v.75h-.75zM297.1 76.6h.75v.75h-.75zM294.2 84.2h.75v.75h-.75zM300.2 80.9h.75v.75h-.75zM303.8 82.3h.75v.75h-.75zM299.9 88.5h.75v.75h-.75zM297.3 84.3h.75v.75h-.75zM294.8 60.0h.75v.75h-.75zM304.6 86.1h.75v.75h-.75zM300.6 73.2h.75v.75h-.75zM294.2 79.6h.75v.75h-.75zM290.9 73.6h.75v.75h-.75zM296.0 63.2h.75v.75h-.75zM291.5 69.0h.75v.75h-.75zM295.3 82.6h.75v.75h-.75zM295.5 71.5h.75v.75h-.75zM302.9 79.1h.75v.75h-.75zM300.0 69.9h.75v.75h-.75zM290.6 70.9h.75v.75h-.75zM291.3 69.2h.75v.75h-.75zM300.9 78.5h.75v.75h-.75zM302.1 83.1h.75v.75h-.75zM304.0 78.4h.75v.75h-.75zM294.4 74.1h.75v.75h-.75zM306.6 76.7h.75v.75h-.75zM305.9 73.7h.75v.75h-.75zM301.7 77.6h.75v.75h-.75zM294.0 72.5h.75v.75h-.75zM300.2 76.9h.75v.75h-.75zM295.7 75.1h.75v.75h-.75zM297.2 80.0h.75v.75h-.75zM299.2 73.1h.75v.75h-.75zM298.6 70.3h.75v.75h-.75zM298.6 74.5h.75v.75h-.75zM301.5 77.4h.75v.75h-.75zM302.7 76.5h.75v.75h-.75zM292.4 72.9h.75v.75h-.75zM299.0 86.2h.75v.75h-.75zM298.5 73.3h.75v.75h-.75zM299.0 70.8h.75v.75h-.75zM293.8 74.1h.75v.75h-.75zM301.1 74.7h.75v.75h-.75zM291.1 80.4h.75v.75h-.75zM298.2 67.6h.75v.75h-.75zM298.1 81.1h.75v.75h-.75zM295.5 71.6h.75v.75h-.75zM300.0 77.6h.75v.75h-.75zM298.7 73.1h.75v.75h-.75zM295.8 72.6h.75v.75h-.75zM288.1 78.5h.75v.75h-.75zM295.6 67.6h.75v.75h-.75zM303.7 74.8h.75v.75h-.75zM298.1 72.0h.75v.75h-.75zM299.0 78.0h.75v.75h-.75zM303.2 59.0h.75v.75h-.75zM295.8 76.7h.75v.75h-.75zM294.5 79.7h.75v.75h-.75zM299.7 81.0h.75v.75h-.75zM298.3 82.0h.75v.75h-.75zM296.1 71.6h.75v.75h-.75zM296.7 66.0h.75v.75h-.75zM296.5 79.2h.75v.75h-.75zM295.0 65.7h.75v.75h-.75zM291.4 65.8h.75v.75h-.75zM301.6 80.1h.75v.75h-.75zM298.2 82.0h.75v.75h-.75zM298.9 78.6h.75v.75h-.75zM302.1 79.3h.75v.75h-.75zM290.5 75.2h.75v.75h-.75zM299.5 79.5h.75v.75h-.75zM290.0 73.5h.75v.75h-.75zM298.4 76.6h.75v.75h-.75zM295.0 68.8h.75v.75h-.75zM296.8 81.6h.75v.75h-.75zM299.5 73.5h.75v.75h-.75zM289.1 73.7h.75v.75h-.75zM295.9 79.5h.75v.75h-.75zM297.3 76.6h.75v.75h-.75zM292.8 75.8h.75v.75h-.75zM292.1 66.4h.75v.75h-.75zM295.0 71.1h.75v.75h-.75zM297.0 74.1h.75v.75h-.75zM294.0 76.8h.75v.75h-.75zM295.1 65.0h.75v.75h-.75zM290.8 72.7h.75v.75h-.75zM296.3 77.3h.75v.75h-.75zM301.6 68.4h.75v.75h-.75zM294.0 69.2h.75v.75h-.75zM299.8 82.7h.75v.75h-.75zM301.3 79.5h.75v.75h-.75zM292.5 77.2h.75v.75h-.75zM297.4 76.8h.75v.75h-.75zM295.0 74.8h.75v.75h-.75zM296.5 78.1h.75v.75h-.75zM300.3 86.0h.75v.75h-.75zM295.3 70.8h.75v.75h-.75zM298.1 77.5h.75v.75h-.75zM298.7 77.3h.75v.75h-.75zM297.7 79.8h.75v.75h-.75zM301.0 70.6h.75v.75h-.75zM302.0 83.3h.75v.75h-.75zM292.6 83.5h.75v.75h-.75zM297.2 84.7h.75v.75h-.75zM305.0 78.4h.75v.75h-.75zM296.4 72.9h.75v.75h-.75zM292.3 77.9h.75v.75h-.75zM300.9 82.1h.75v.75h-.75zM291.1 81.9h.75v.75h-.75zM296.0 75.1h.75v.75h-.75zM296.3 68.8h.75v.75h-.75zM294.2 84.5h.75v.75h-.75zM304.9 86.9h.75v.75h-.75zM294.9 67.2h.75v.75h-.75zM296.7 71.9h.75v.75h-.75zM303.1 81.2h.75v.75h-.75zM290.6 78.0h.75v.75h-.75zM289.2 70.4h.75v.75h-.75zM302.6 75.0h.75v.75h-.75zM292.2 75.8h.75v.75h-.75zM290.5 77.0h.75v.75h-.75zM300.8 74.7h.75v.75h-.75zM292.4 75.3h.75v.75h-.75zM290.0 67.2h.75v.75h-.75zM299.1 71.5h.75v.75h-.75zM297.2 82.3h.75v.75h-.75zM292.8 72.7h.75v.75h-.75zM295.5 82.2h.75v.75h-.75zM299.8 77.0h.75v.75h-.75zM276.8 63.3h.75v.75h-.75zM278.1 58.2h.75v.75h-.75zM281.6 66.7h.75v.75h-.75zM280.8 65.2h.75v.75h-.75zM281.9 66.3h.75v.75h-.75zM280.3 69.4h.75v.75h-.75zM284.8 56.2h.75v.75h-.75zM279.4 64.0h.75v.75h-.75zM284.3 61.4h.75v.75h-.75zM286.6 60.2h.75v.75h-.75zM281.2 60.5h.75v.75h-.75zM285.9 67.8h.75v.75h-.75zM279.6 61.5h.75v.75h-.75zM281.5 58.5h.75v.75h-.75zM281.1 60.2h.75v.75h-.75zM282.4 63.9h.75v.75h-.75zM281.2 64.4h.75v.75h-.75zM282.4 68.0h.75v.75h-.75zM283.5 62.7h.75v.75h-.75zM280.4 61.9h.75v.75h-.75zM282.0 60.5h.75v.75h-.75zM280.4 60.7h.75v.75h-.75zM280.2 65.0h.75v.75h-.75zM281.9 61.9h.75v.75h-.75zM280.2 63.1h.75v.75h-.75zM283.0 65.2h.75v.75h-.75zM283.4 62.6h.75v.75h-.75zM285.5 59.5h.75v.75h-.75zM280.7 69.4h.75v.75h-.75zM282.2 55.9h.75v.75h-.75zM284.4 65.6h.75v.75h-.75zM280.4 65.9h.75v.75h-.75zM282.6 59.9h.75v.75h-.75zM286.0 60.9h.75v.75h-.75zM278.6 63.5h.75v.75h-.75zM278.6 59.4h.75v.75h-.75zM279.8 63.3h.75v.75h-.75zM279.6 64.4h.75v.75h-.75zM280.3 64.8h.75v.75h-.75zM284.1 64.7h.75v.75h-.75zM280.3 60.6h.75v.75h-.75zM282.6 60.6h.75v.75h-.75zM279.9 61.6h.75v.75h-.75zM281.2 64.5h.75v.75h-.75zM280.8 58.2h.75v.75h-.75zM279.1 63.9h.75v.75h-.75zM277.6 64.3h.75v.75h-.75zM281.1 59.2h.75v.75h-.75zM287.8 65.2h.75v.75h-.75zM277.4 61.1h.75v.75h-.75zM273.9 61.0h.75v.75h-.75zM284.1 63.9h.75v.75h-.75zM277.0 63.0h.75v.75h-.75zM282.8 61.5h.75v.75h-.75zM278.9 62.8h.75v.75h-.75zM279.0 62.9h.75v.75h-.75zM280.1 56.8h.75v.75h-.75zM285.8 65.7h.75v.75h-.75zM280.7 64.7h.75v.75h-.75zM284.6 64.2h.75v.75h-.75zM284.8 62.6h.75v.75h-.75zM285.3 58.3h.75v.75h-.75zM285.0 64.9h.75v.75h-.75zM280.4 63.0h.75v.75h-.75zM280.6 60.9h.75v.75h-.75zM279.2 60.3h.75v.75h-.75zM279.8 63.8h.75v.75h-.75zM285.3 62.2h.75v.75h-.75zM281.1 63.0h.75v.75h-.75zM283.8 64.9h.75v.75h-.75zM278.3 59.7h.75v.75h-.75zM279.4 60.9h.75v.75h-.75zM284.3 62.5h.75v.75h-.75zM280.5 62.1h.75v.75h-.75zM276.5 64.5h.75v.75h-.75zM280.4 66.6h.75v.75h-.75zM281.0 61.9h.75v.75h-.75zM284.5 61.1h.75v.75h-.75zM285.5 61.0h.75v.75h-.75zM284.2 63.4h.75v.75h-.75zM280.2 61.5h.75v.75h-.75zM280.0 60.9h.75v.75h-.75zM278.7 58.9h.75v.75h-.75zM283.1 63.6h.75v.75h-.75zM280.5 60.6h.75v.75h-.75zM280.0 62.5h.75v.75h-.75zM280.9 64.3h.75v.75h-.75zM277.7 60.7h.75v.75h-.75zM281.7 61.3h.75v.75h-.75zM280.8 61.8h.75v.75h-.75zM296.3 63.3h.75v.75h-.75zM290.3 65.0h.75v.75h-.75zM288.7 63.6h.75v.75h-.75zM283.6 62.3h.75v.75h-.75zM288.8 62.4h.75v.75h-.75zM284.5 69.7h.75v.75h-.75zM287.9 64.5h.75v.75h-.75zM287.9 56.8h.75v.75h-.75zM290.5 66.5h.75v.75h-.75zM285.2 60.7h.75v.75h-.75zM285.6 65.6h.75v.75h-.75zM289.1 61.2h.75v.75h-.75zM292.0 66.5h.75v.75h-.75zM286.0 63.4h.75v.75h-.75zM287.7 64.8h.75v.75h-.75zM292.7 61.2h.75v.75h-.75zM288.1 63.0h.75v.75h-.75zM291.9 62.4h.75v.75h-.75zM287.6 64.2h.75v.75h-.75zM293.3 61.2h.75v.75h-.75zM296.7 61.8h.75v.75h-.75zM289.9 64.5h.75v.75h-.75zM288.7 67.2h.75v.75h-.75zM286.2 63.3h.75v.75h-.75zM288.5 67.5h.75v.75h-.75zM289.8 71.4h.75v.75h-.75zM289.5 62.5h.75v.75h-.75zM293.6 61.0h.75v.75h-.75zM285.7 65.8h.75v.75h-.75zM293.0 60.9h.75v.75h-.75zM291.8 64.2h.75v.75h-.75zM285.5 60.5h.75v.75h-.75zM289.9 61.9h.75v.75h-.75zM300.0 62.9h.75v.75h-.75zM291.9 58.0h.75v.75h-.75zM289.6 65.5h.75v.75h-.75zM289.9 65.4h.75v.75h-.75zM290.3 66.9h.75v.75h-.75zM295.6 65.0h.75v.75h-.75zM291.6 63.3h.75v.75h-.75zM288.8 63.4h.75v.75h-.75zM284.7 60.4h.75v.75h-.75zM288.2 63.9h.75v.75h-.75zM288.5 62.9h.75v.75h-.75zM289.9 61.4h.75v.75h-.75zM291.8 56.8h.75v.75h-.75zM290.9 66.3h.75v.75h-.75zM294.9 57.6h.75v.75h-.75zM288.9 57.5h.75v.75h-.75zM292.6 64.7h.75v.75h-.75zM285.7 64.9h.75v.75h-.75zM291.1 60.6h.75v.75h-.75zM291.5 62.9h.75v.75h-.75zM280.0 60.2h.75v.75h-.75zM289.8 68.0h.75v.75h-.75zM293.0 69.3h.75v.75h-.75zM286.4 65.8h.75v.75h-.75zM288.1 59.4h.75v.75h-.75zM293.0 61.4h.75v.75h-.75zM290.3 69.1h.75v.75h-.75zM283.2 65.4h.75v.75h-.75zM289.0 64.0h.75v.75h-.75zM287.9 59.1h.75v.75h-.75zM289.0 63.8h.75v.75h-.75zM290.4 63.0h.75v.75h-.75zM289.0 66.9h.75v.75h-.75zM287.6 63.7h.75v.75h-.75zM287.5 65.4h.75v.75h-.75zM284.1 65.9h.75v.75h-.75zM290.3 60.3h.75v.75h-.75zM288.3 61.3h.75v.75h-.75zM287.0 65.0h.75v.75h-.75zM289.5 60.7h.75v.75h-.75zM292.1 59.9h.75v.75h-.75zM294.5 61.3h.75v.75h-.75zM291.8 68.1h.75v.75h-.75zM291.5 69.3h.75v.75h-.75zM286.7 62.1h.75v.75h-.75zM293.2 65.6h.75v.75h-.75zM290.5 63.0h.75v.75h-.75zM292.7 58.6h.75v.75h-.75zM285.7 62.8h.75v.75h-.75zM283.7 64.3h.75v.75h-.75zM292.1 61.7h.75v.75h-.75zM291.8 64.7h.75v.75h-.75zM294.9 71.8h.75v.75h-.75zM288.5 58.9h.75v.75h-.75zM286.5 65.0h.75v.75h-.75zM296.4 68.0h.75v.75h-.75zM293.2 67.8h.75v.75h-.75zM290.5 65.3h.75v.75h-.75zM290.3 61.3h.75v.75h-.75zM284.9 54.1h.75v.75h-.75zM291.4 57.9h.75v.75h-.75zM289.0 64.7h.75v.75h-.75zM290.5 63.2h.75v.75h-.75zM286.4 59.8h.75v.75h-.75zM290.9 60.4h.75v.75h-.75zM286.8 60.6h.75v.75h-.75zM283.2 68.1h.75v.75h-.75zM286.6 62.5h.75v.75h-.75zM292.9 61.9h.75v.75h-.75zM289.2 52.8h.75v.75h-.75zM286.8 67.8h.75v.75h-.75zM294.3 63.5h.75v.75h-.75zM289.3 72.1h.75v.75h-.75zM288.3 64.4h.75v.75h-.75zM293.4 60.5h.75v.75h-.75zM296.9 64.6h.75v.75h-.75zM291.1 59.9h.75v.75h-.75zM292.4 66.0h.75v.75h-.75zM283.5 67.6h.75v.75h-.75zM291.0 59.5h.75v.75h-.75zM295.2 64.0h.75v.75h-.75zM289.7 64.6h.75v.75h-.75zM295.8 61.0h.75v.75h-.75zM289.9 70.6h.75v.75h-.75zM288.9 63.1h.75v.75h-.75zM285.2 63.6h.75v.75h-.75zM294.7 59.4h.75v.75h-.75zM291.8 66.5h.75v.75h-.75zM296.5 60.7h.75v.75h-.75zM288.3 60.7h.75v.75h-.75zM289.9 63.4h.75v.75h-.75zM288.5 60.5h.75v.75h-.75zM288.0 64.2h.75v.75h-.75zM291.2 65.8h.75v.75h-.75zM286.2 66.0h.75v.75h-.75zM289.4 61.2h.75v.75h-.75zM284.9 62.7h.75v.75h-.75zM290.6 61.0h.75v.75h-.75zM294.1 64.9h.75v.75h-.75zM299.4 72.2h.75v.75h-.75zM289.9 67.9h.75v.75h-.75zM285.5 61.2h.75v.75h-.75zM294.3 61.0h.75v.75h-.75zM287.6 65.5h.75v.75h-.75zM291.3 67.5h.75v.75h-.75zM284.1 63.2h.75v.75h-.75zM287.6 64.7h.75v.75h-.75zM285.8 62.5h.75v.75h-.75zM291.3 61.3h.75v.75h-.75zM294.3 66.2h.75v.75h-.75zM292.3 71.0h.75v.75h-.75zM290.0 67.8h.75v.75h-.75zM288.7 61.2h.75v.75h-.75zM294.1 65.8h.75v.75h-.75zM286.0 64.1h.75v.75h-.75zM294.2 60.6h.75v.75h-.75zM290.0 62.7h.75v.75h-.75zM285.8 60.6h.75v.75h-.75zM289.0 64.5h.75v.75h-.75zM288.6 60.0h.75v.75h-.75zM286.7 64.3h.75v.75h-.75zM288.5 62.4h.75v.75h-.75zM291.4 63.1h.75v.75h-.75zM297.3 66.2h.75v.75h-.75zM285.3 65.1h.75v.75h-.75zM290.5 63.3h.75v.75h-.75zM290.9 63.6h.75v.75h-.75zM286.0 61.7h.75v.75h-.75zM286.2 60.2h.75v.75h-.75zM293.2 65.3h.75v.75h-.75zM294.5 56.3h.75v.75h-.75zM290.8 60.9h.75v.75h-.75zM294.4 71.4h.75v.75h-.75zM296.6 62.2h.75v.75h-.75zM287.4 62.5h.75v.75h-.75zM290.3 59.8h.75v.75h-.75zM281.3 69.8h.75v.75h-.75zM295.4 67.4h.75v.75h-.75zM297.1 72.1h.75v.75h-.75zM291.4 67.1h.75v.75h-.75zM296.7 71.7h.75v.75h-.75zM296.1 76.1h.75v.75h-.75zM294.1 77.2h.75v.75h-.75zM294.1 77.6h.75v.75h-.75zM293.3 74.7h.75v.75h-.75zM298.6 65.5h.75v.75h-.75zM291.9 69.0h.75v.75h-.75zM292.7 72.9h.75v.75h-.75zM295.6 72.7h.75v.75h-.75zM294.7 72.3h.75v.75h-.75zM298.4 67.6h.75v.75h-.75zM289.7 65.4h.75v.75h-.75zM296.4 68.3h.75v.75h-.75zM293.2 67.3h.75v.75h-.75zM292.0 63.9h.75v.75h-.75zM292.5 58.3h.75v.75h-.75zM292.7 71.5h.75v.75h-.75zM293.9 70.8h.75v.75h-.75zM285.3 69.5h.75v.75h-.75zM289.3 71.9h.75v.75h-.75zM291.2 69.8h.75v.75h-.75zM291.6 74.8h.75v.75h-.75zM293.0 70.7h.75v.75h-.75zM292.2 69.1h.75v.75h-.75zM294.3 67.6h.75v.75h-.75zM292.3 70.3h.75v.75h-.75zM288.3 68.0h.75v.75h-.75zM288.5 74.1h.75v.75h-.75zM292.3 72.2h.75v.75h-.75zM288.0 66.0h.75v.75h-.75zM292.9 78.1h.75v.75h-.75zM292.2 75.3h.75v.75h-.75zM291.7 76.7h.75v.75h-.75zM293.6 69.6h.75v.75h-.75zM291.8 77.6h.75v.75h-.75zM291.8 68.1h.75v.75h-.75zM295.3 72.3h.75v.75h-.75zM293.0 67.5h.75v.75h-.75zM292.7 71.7h.75v.75h-.75zM295.8 70.7h.75v.75h-.75zM291.1 75.2h.75v.75h-.75zM289.3 70.1h.75v.75h-.75zM299.5 70.1h.75v.75h-.75zM292.9 70.4h.75v.75h-.75zM291.5 63.0h.75v.75h-.75zM294.5 71.1h.75v.75h-.75zM296.9 70.1h.75v.75h-.75zM292.2 72.8h.75v.75h-.75zM290.5 73.9h.75v.75h-.75zM293.4 70.0h.75v.75h-.75zM290.6 72.1h.75v.75h-.75zM291.8 71.4h.75v.75h-.75zM295.0 74.9h.75v.75h-.75zM295.9 64.5h.75v.75h-.75zM290.6 71.6h.75v.75h-.75zM292.9 66.9h.75v.75h-.75zM295.5 77.3h.75v.75h-.75zM292.8 74.0h.75v.75h-.75zM295.3 67.5h.75v.75h-.75zM293.5 69.8h.75v.75h-.75zM294.9 70.5h.75v.75h-.75zM294.2 66.8h.75v.75h-.75zM293.8 68.9h.75v.75h-.75zM295.0 73.6h.75v.75h-.75zM290.5 72.5h.75v.75h-.75zM294.8 74.9h.75v.75h-.75zM292.9 67.5h.75v.75h-.75zM294.1 73.8h.75v.75h-.75zM292.8 75.7h.75v.75h-.75zM294.1 72.6h.75v.75h-.75zM296.8 65.5h.75v.75h-.75zM292.6 63.6h.75v.75h-.75zM293.8 74.2h.75v.75h-.75zM294.4 72.3h.75v.75h-.75zM295.1 81.3h.75v.75h-.75zM299.9 69.3h.75v.75h-.75zM294.7 73.1h.75v.75h-.75zM294.6 72.0h.75v.75h-.75zM295.8 72.7h.75v.75h-.75zM293.5 75.3h.75v.75h-.75zM295.0 74.2h.75v.75h-.75zM289.9 76.3h.75v.75h-.75zM292.9 72.0h.75v.75h-.75zM297.3 69.1h.75v.75h-.75zM292.9 73.0h.75v.75h-.75zM296.3 61.8h.75v.75h-.75zM294.4 80.0h.75v.75h-.75zM291.7 66.7h.75v.75h-.75zM297.1 76.0h.75v.75h-.75zM296.6 67.2h.75v.75h-.75zM294.9 75.7h.75v.75h-.75zM292.5 75.6h.75v.75h-.75zM293.4 78.2h.75v.75h-.75zM291.2 68.4h.75v.75h-.75zM289.7 74.7h.75v.75h-.75zM291.5 71.8h.75v.75h-.75zM294.6 71.4h.75v.75h-.75zM298.0 80.1h.75v.75h-.75zM293.6 72.1h.75v.75h-.75zM293.2 76.3h.75v.75h-.75zM292.4 75.7h.75v.75h-.75zM296.2 65.1h.75v.75h-.75zM295.2 75.5h.75v.75h-.75zM295.1 70.7h.75v.75h-.75zM288.3 72.5h.75v.75h-.75zM294.7 69.2h.75v.75h-.75zM297.1 74.1h.75v.75h-.75zM294.5 73.6h.75v.75h-.75zM293.7 70.5h.75v.75h-.75zM299.9 76.4h.75v.75h-.75zM293.9 70.3h.75v.75h-.75zM290.6 74.1h.75v.75h-.75zM294.2 68.6h.75v.75h-.75zM292.0 66.5h.75v.75h-.75zM291.8 69.1h.75v.75h-.75zM287.0 70.1h.75v.75h-.75zM295.5 78.7h.75v.75h-.75z" fill="#5a3d9a"/>
<path d="M199.4 58.3h.6v.6h-.6zM199.2 76.4h.6v.6h-.6zM217.4 33.1h.6v.6h-.6zM200.5 73.3h.6v.6h-.6zM191.9 104.2h.6v.6h-.6zM193.2 40.9h.6v.6h-.6zM194.4 75.3h.6v.6h-.6zM195.9 74.7h.6v.6h-.6zM221.4 45.5h.6v.6h-.6zM220.1 66.0h.6v.6h-.6zM201.3 77.7h.6v.6h-.6zM227.0 69.1h.6v.6h-.6zM199.6 33.1h.6v.6h-.6zM220.4 97.1h.6v.6h-.6zM188.3 88.7h.6v.6h-.6zM230.1 55.4h.6v.6h-.6zM193.8 53.4h.6v.6h-.6zM210.4 81.1h.6v.6h-.6zM195.5 88.8h.6v.6h-.6zM231.4 50.4h.6v.6h-.6zM234.0 51.3h.6v.6h-.6zM208.1 50.3h.6v.6h-.6zM189.5 67.5h.6v.6h-.6zM196.9 100.8h.6v.6h-.6zM223.2 68.6h.6v.6h-.6zM213.0 49.6h.6v.6h-.6zM205.0 44.0h.6v.6h-.6zM231.8 34.0h.6v.6h-.6zM209.2 66.1h.6v.6h-.6zM232.8 109.5h.6v.6h-.6zM188.9 57.5h.6v.6h-.6zM213.2 72.6h.6v.6h-.6zM202.1 88.4h.6v.6h-.6zM193.1 42.5h.6v.6h-.6zM224.8 91.9h.6v.6h-.6zM199.9 70.1h.6v.6h-.6zM207.1 94.0h.6v.6h-.6zM215.2 31.3h.6v.6h-.6zM202.8 82.0h.6v.6h-.6zM188.8 73.3h.6v.6h-.6zM219.4 67.3h.6v.6h-.6zM234.0 68.6h.6v.6h-.6zM188.7 102.2h.6v.6h-.6zM223.6 76.1h.6v.6h-.6zM186.5 63.0h.6v.6h-.6zM202.0 104.1h.6v.6h-.6zM199.3 107.5h.6v.6h-.6zM228.7 61.0h.6v.6h-.6zM229.4 39.6h.6v.6h-.6zM224.0 109.5h.6v.6h-.6zM209.4 77.1h.6v.6h-.6zM224.4 39.3h.6v.6h-.6zM187.9 89.9h.6v.6h-.6zM191.9 100.6h.6v.6h-.6zM209.6 86.9h.6v.6h-.6zM192.6 110.0h.6v.6h-.6zM196.2 66.5h.6v.6h-.6zM221.7 66.8h.6v.6h-.6zM193.2 64.3h.6v.6h-.6zM226.1 41.5h.6v.6h-.6z" fill="#bbb"/>
<path d="M220.2 117.4h.6v.6h-.6zM213.4 128.8h.6v.6h-.6zM218.4 128.3h.6v.6h-.6zM225.2 149.2h.6v.6h-.6zM230.2 137.8h.6v.6h-.6zM214.7 109.9h.6v.6h-.6zM220.5 93.1h.6v.6h-.6zM227.7 137.7h.6v.6h-.6zM228.0 144.4h.6v.6h-.6zM220.1 107.1h.6v.6h-.6zM233.5 119.9h.6v.6h-.6zM220.4 100.8h.6v.6h-.6zM214.9 108.0h.6v.6h-.6zM212.4 120.7h.6v.6h-.6zM226.9 119.1h.6v.6h-.6zM215.9 104.4h.6v.6h-.6zM220.9 135.7h.6v.6h-.6zM224.8 107.5h.6v.6h-.6zM213.8 143.9h.6v.6h-.6zM230.5 128.4h.6v.6h-.6zM230.7 123.5h.6v.6h-.6zM224.2 110.7h.6v.6h-.6zM210.8 134.4h.6v.6h-.6zM219.4 95.6h.6v.6h-.6zM230.9 112.7h.6v.6h-.6z" fill="#cfdc90"/>
<line x1="199.6" y1="147.4" x2="199.6" y2="161.2" stroke="#000" stroke-width="0.9" />
<line x1="199.2" y1="160.8" x2="213.4" y2="160.8" stroke="#000" stroke-width="0.9" />
<text x="202.4" y="134.5" font-size="6.8" text-anchor="middle" font-weight="bold" textLength="18.5" lengthAdjust="spacingAndGlyphs" transform="rotate(-90 202.4 134.5)" >UMAP 2</text>
<text x="216.7" y="163.5" font-size="6.8" font-weight="bold" textLength="18.5" lengthAdjust="spacingAndGlyphs" >UMAP 1</text>
<text x="307.7" y="26" font-size="5.5" font-weight="bold" textLength="36.7" lengthAdjust="spacingAndGlyphs" >UMAP Cluster</text>
<rect x="312.1" y="30.8" width="8.3" height="8.3" fill="#000" stroke="#333" stroke-width="0.6" />
<circle cx="329.2" cy="34.95" r="4.1" fill="#000" stroke="#333" stroke-width="0.6"/>
<text x="337" y="36.8" font-size="5.1" fill="#2a2a2a" stroke="#2a2a2a" stroke-width="0.12" >activated–like transTregs</text>
<rect x="312.1" y="43.1" width="8.3" height="8.3" fill="#a9a9a9" stroke="#333" stroke-width="0.6" />
<circle cx="329.2" cy="47.25" r="4.1" fill="#a9a9a9" stroke="#333" stroke-width="0.6"/>
<text x="337" y="48.5" font-size="5.1" fill="#2a2a2a" stroke="#2a2a2a" stroke-width="0.12" >intermediate transTregs</text>
<rect x="312.1" y="55.7" width="8.3" height="8.3" fill="#a9c84a" stroke="#333" stroke-width="0.6" />
<circle cx="329.2" cy="59.85" r="4.1" fill="#a9c84a" stroke="#333" stroke-width="0.6"/>
<text x="337" y="60.9" font-size="5.1" fill="#2a2a2a" stroke="#2a2a2a" stroke-width="0.12" >resting–like transTregs</text>
<rect x="312.1" y="68.3" width="8.3" height="8.3" fill="#c9b9df" stroke="#333" stroke-width="0.6" />
<circle cx="329.2" cy="72.45" r="4.1" fill="#c9b9df" stroke="#333" stroke-width="0.6"/>
<text x="337" y="73" font-size="5.1" fill="#2a2a2a" stroke="#2a2a2a" stroke-width="0.12" >rTregs</text>
<rect x="312.1" y="80.9" width="8.3" height="8.3" fill="#5a3d9a" stroke="#333" stroke-width="0.6" />
<circle cx="329.2" cy="85.05" r="4.1" fill="#5a3d9a" stroke="#333" stroke-width="0.6"/>
<text x="337" y="85.7" font-size="5.1" fill="#2a2a2a" stroke="#2a2a2a" stroke-width="0.12" >aTregs</text>
<rect x="312.1" y="93.1" width="8.3" height="8.3" fill="#d21f2b" stroke="#333" stroke-width="0.6" />
<circle cx="329.2" cy="97.25" r="4.1" fill="#d21f2b" stroke="#333" stroke-width="0.6"/>
<text x="337" y="97.7" font-size="5.1" fill="#2a2a2a" stroke="#2a2a2a" stroke-width="0.12" >cytolytic transTregs</text>
<rect x="312.1" y="103.7" width="8.3" height="8.3" fill="#8fcfdf" stroke="#333" stroke-width="0.6" />
<circle cx="329.2" cy="107.85" r="4.1" fill="#8fcfdf" stroke="#333" stroke-width="0.6"/>
<text x="337" y="109.3" font-size="5.1" fill="#2a2a2a" stroke="#2a2a2a" stroke-width="0.12" >STAT1 transTregs</text>
<line x1="429.5" y1="24.5" x2="429.5" y2="73.6" stroke="#000" stroke-width="0.9" />
<line x1="429.1" y1="73.2" x2="466.4" y2="73.2" stroke="#000" stroke-width="0.9" />
<line x1="425.6" y1="71" x2="429.5" y2="71" stroke="#000" stroke-width="0.8" />
<text x="422.6" y="72.9" font-size="5.2" text-anchor="middle" stroke="#000" stroke-width="0.12" >0</text>
<line x1="425.6" y1="51.05" x2="429.5" y2="51.05" stroke="#000" stroke-width="0.8" />
<text x="422.6" y="52.95" font-size="5.2" text-anchor="middle" stroke="#000" stroke-width="0.12" >1</text>
<line x1="425.6" y1="31.1" x2="429.5" y2="31.1" stroke="#000" stroke-width="0.8" />
<text x="422.6" y="33" font-size="5.2" text-anchor="middle" stroke="#000" stroke-width="0.12" >2</text>
<text x="414.7" y="49.3" font-size="6.6" text-anchor="middle" textLength="36.8" lengthAdjust="spacingAndGlyphs" transform="rotate(-90 414.7 49.3)" stroke="#000" stroke-width="0.18" >Cell number (K)</text>
<line x1="432.8" y1="73.2" x2="432.8" y2="76" stroke="#000" stroke-width="0.8" />
<line x1="437.85" y1="73.2" x2="437.85" y2="76" stroke="#000" stroke-width="0.8" />
<line x1="442.9" y1="73.2" x2="442.9" y2="76" stroke="#000" stroke-width="0.8" />
<line x1="447.95" y1="73.2" x2="447.95" y2="76" stroke="#000" stroke-width="0.8" />
<line x1="453" y1="73.2" x2="453" y2="76" stroke="#000" stroke-width="0.8" />
<line x1="458.05" y1="73.2" x2="458.05" y2="76" stroke="#000" stroke-width="0.8" />
<line x1="463.1" y1="73.2" x2="463.1" y2="76" stroke="#000" stroke-width="0.8" />
<rect x="430.5" y="53.05" width="4.6" height="17.95" fill="#5a9e44" />
<rect x="435.55" y="27.91" width="4.6" height="43.09" fill="#5a9e44" />
<rect x="435.55" y="26.71" width="4.6" height="1.2" fill="#b9d68c" />
<rect x="440.6" y="68.61" width="4.6" height="2.39" fill="#5a9e44" />
<rect x="440.6" y="52.05" width="4.6" height="16.56" fill="#b9d68c" />
<rect x="445.65" y="58.43" width="4.6" height="12.57" fill="#3f74b8" />
<rect x="445.65" y="51.25" width="4.6" height="7.18" fill="#aacbe6" />
<rect x="445.65" y="50.25" width="4.6" height="1" fill="#b9d68c" />
<rect x="450.7" y="63.82" width="4.6" height="7.18" fill="#3f74b8" />
<rect x="450.7" y="56.64" width="4.6" height="7.18" fill="#aacbe6" />
<rect x="450.7" y="55.84" width="4.6" height="0.8" fill="#b9d68c" />
<rect x="455.75" y="69" width="4.6" height="2" fill="#5a9e44" />
<rect x="460.8" y="69.6" width="4.6" height="1.4" fill="#5a9e44" />
<text x="470.9" y="28" font-size="5.35" font-weight="bold" textLength="41.8" lengthAdjust="spacingAndGlyphs" >Sorted Cell Type</text>
<rect x="471.1" y="32.6" width="5.3" height="5.1" fill="#5a9e44" />
<text x="479.6" y="36.8" font-size="5.3" fill="#222" stroke="#222" stroke-width="0.12" >CFSE+ D3</text>
<rect x="471.1" y="38.95" width="5.3" height="5.1" fill="#b9d68c" />
<text x="479.6" y="43.15" font-size="5.3" fill="#222" stroke="#222" stroke-width="0.12" >CFSE+ D20</text>
<rect x="471.1" y="45.3" width="5.3" height="5.1" fill="#3f74b8" />
<text x="479.6" y="49.5" font-size="5.3" fill="#222" stroke="#222" stroke-width="0.12" >EndoTreg D3</text>
<rect x="471.1" y="51.65" width="5.3" height="5.1" fill="#aacbe6" />
<text x="479.6" y="55.85" font-size="5.3" fill="#222" stroke="#222" stroke-width="0.12" >EndoTreg D20</text>
<line x1="429.5" y1="89.5" x2="429.5" y2="139" stroke="#000" stroke-width="0.9" />
<line x1="429.1" y1="138.6" x2="466.4" y2="138.6" stroke="#000" stroke-width="0.9" />
<line x1="425.6" y1="136.3" x2="429.5" y2="136.3" stroke="#000" stroke-width="0.8" />
<text x="422.6" y="138.2" font-size="5.2" text-anchor="middle" stroke="#000" stroke-width="0.12" >0</text>
<line x1="425.6" y1="116.2" x2="429.5" y2="116.2" stroke="#000" stroke-width="0.8" />
<text x="422.6" y="118.1" font-size="5.2" text-anchor="middle" stroke="#000" stroke-width="0.12" >1</text>
<line x1="425.6" y1="96.1" x2="429.5" y2="96.1" stroke="#000" stroke-width="0.8" />
<text x="422.6" y="98" font-size="5.2" text-anchor="middle" stroke="#000" stroke-width="0.12" >2</text>
<text x="414.9" y="114.8" font-size="6.6" text-anchor="middle" textLength="36.5" lengthAdjust="spacingAndGlyphs" transform="rotate(-90 414.9 114.8)" stroke="#000" stroke-width="0.18" >Cell number (K)</text>
<line x1="432.8" y1="138.6" x2="432.8" y2="141.2" stroke="#000" stroke-width="0.8" />
<line x1="437.85" y1="138.6" x2="437.85" y2="141.2" stroke="#000" stroke-width="0.8" />
<line x1="442.9" y1="138.6" x2="442.9" y2="141.2" stroke="#000" stroke-width="0.8" />
<line x1="447.95" y1="138.6" x2="447.95" y2="141.2" stroke="#000" stroke-width="0.8" />
<line x1="453" y1="138.6" x2="453" y2="141.2" stroke="#000" stroke-width="0.8" />
<line x1="458.05" y1="138.6" x2="458.05" y2="141.2" stroke="#000" stroke-width="0.8" />
<line x1="463.1" y1="138.6" x2="463.1" y2="141.2" stroke="#000" stroke-width="0.8" />
<rect x="430.5" y="115.6" width="4.6" height="20.7" fill="#5a9e44" />
<rect x="435.55" y="134.69" width="4.6" height="1.61" fill="#5a9e44" />
<rect x="435.55" y="84.44" width="4.6" height="50.25" fill="#b8d47e" />
<rect x="440.6" y="135.09" width="4.6" height="1.21" fill="#5a9e44" />
<rect x="440.6" y="114.39" width="4.6" height="20.7" fill="#b8d47e" />
<rect x="445.65" y="115.6" width="4.6" height="20.7" fill="#aacbe6" />
<rect x="445.65" y="112.98" width="4.6" height="2.61" fill="#5a9e44" />
<rect x="450.7" y="119.62" width="4.6" height="16.68" fill="#aacbe6" />
<rect x="450.7" y="119.01" width="4.6" height="0.6" fill="#b8d47e" />
<rect x="455.75" y="133.49" width="4.6" height="2.81" fill="#b8d47e" />
<rect x="460.8" y="134.49" width="4.6" height="1.81" fill="#b8d47e" />
<circle cx="432.8" cy="145.3" r="2.2" fill="#000"/>
<circle cx="437.85" cy="145.3" r="2.2" fill="#a9a9a9"/>
<circle cx="442.9" cy="145.3" r="2.2" fill="#a9c84a"/>
<circle cx="447.95" cy="145.3" r="2.2" fill="#c9b9df"/>
<circle cx="453" cy="145.3" r="2.2" fill="#5a3d9a"/>
<circle cx="458.05" cy="145.3" r="2.2" fill="#d21f2b"/>
<circle cx="463.1" cy="145.3" r="2.2" fill="#8fcfdf"/>
<text x="448" y="156.6" font-size="7" text-anchor="middle" textLength="31.8" lengthAdjust="spacingAndGlyphs" stroke="#000" stroke-width="0.22" >UMAP cluster</text>
<text x="474" y="80.7" font-size="5.35" font-weight="bold" textLength="32.7" lengthAdjust="spacingAndGlyphs" >tSNE Cluster</text>
<rect x="474" y="84.5" width="4.9" height="5.1" fill="#5a9e44" />
<text x="482.2" y="88.8" font-size="5.3" fill="#222" stroke="#222" stroke-width="0.12" >C1</text>
<rect x="474" y="90.69" width="4.9" height="5.1" fill="#a9c84a" />
<text x="482.2" y="94.99" font-size="5.3" fill="#222" stroke="#222" stroke-width="0.12" >C2</text>
<rect x="474" y="96.88" width="4.9" height="5.1" fill="#5b3b9b" />
<text x="482.2" y="101.18" font-size="5.3" fill="#222" stroke="#222" stroke-width="0.12" >C3</text>
<rect x="474" y="103.07" width="4.9" height="5.1" fill="#c9b9de" />
<text x="482.2" y="107.37" font-size="5.3" fill="#222" stroke="#222" stroke-width="0.12" >C4</text>
<rect x="474" y="109.26" width="4.9" height="5.1" fill="#c8187a" />
<text x="482.2" y="113.56" font-size="5.3" fill="#222" stroke="#222" stroke-width="0.12" >C5</text>
<rect x="474" y="115.45" width="4.9" height="5.1" fill="#dd8fbf" />
<text x="482.2" y="119.75" font-size="5.3" fill="#222" stroke="#222" stroke-width="0.12" >C6</text>
<rect x="474" y="121.64" width="4.9" height="5.1" fill="#b0b0b0" />
<text x="482.2" y="125.94" font-size="5.3" fill="#222" stroke="#222" stroke-width="0.12" >C7</text>
<rect x="474" y="127.83" width="4.9" height="5.1" fill="#5a5a5a" />
<text x="482.2" y="132.13" font-size="5.3" fill="#222" stroke="#222" stroke-width="0.12" >C8</text>
<rect x="474" y="134.02" width="4.9" height="5.1" fill="#c8762e" />
<text x="482.2" y="138.32" font-size="5.3" fill="#222" stroke="#222" stroke-width="0.12" >C9</text>
<rect x="474" y="140.21" width="4.9" height="5.1" fill="#e0b040" />
<text x="482.2" y="144.51" font-size="5.3" fill="#222" stroke="#222" stroke-width="0.12" >C10</text>
<text x="6.8" y="197.3" font-size="11.6" font-weight="bold" stroke="#000" stroke-width="0.45">C</text>
<line x1="53.4" y1="230.3" x2="53.4" y2="320" stroke="#8c8c8c" stroke-width="0.95" />
<path d="M53.65 231.3 C53.88 233.06 54.38 239.1 55.01 241.88 C55.64 244.66 56.68 246.13 57.42 247.98 C58.16 249.83 59.03 251.55 59.45 252.97 C59.86 254.39 59.98 254.5 59.9 256.5 C59.82 258.5 59.53 261.89 58.99 264.97 C58.45 268.05 57.37 271.64 56.64 274.98 C55.91 278.32 55.11 281.65 54.61 284.99 C54.11 288.33 53.81 293.33 53.65 295 L53.15 295 C52.99 293.33 52.69 288.33 52.19 284.99 C51.69 281.65 50.89 278.32 50.16 274.98 C49.43 271.64 48.35 268.05 47.81 264.97 C47.27 261.89 46.98 258.5 46.9 256.5 C46.82 254.5 46.94 254.39 47.35 252.97 C47.77 251.55 48.64 249.83 49.38 247.98 C50.12 246.13 51.16 244.66 51.79 241.88 C52.42 239.1 52.92 233.06 53.15 231.3Z" fill="#000000" stroke="#333" stroke-width="0.5"/>
<line x1="67.1" y1="217.5" x2="67.1" y2="318" stroke="#8c8c8c" stroke-width="0.95" />
<path d="M67.35 218.5 C67.56 220.5 68.02 227.33 68.61 230.47 C69.2 233.61 70.18 235.28 70.87 237.37 C71.56 239.46 72.38 241.4 72.77 243.01 C73.16 244.62 73.27 245.16 73.2 247 C73.13 248.84 72.86 251.48 72.35 254.04 C71.84 256.6 70.83 259.59 70.14 262.36 C69.46 265.13 68.7 267.91 68.23 270.68 C67.77 273.45 67.5 277.61 67.35 279 L66.85 279 C66.7 277.61 66.43 273.45 65.97 270.68 C65.5 267.91 64.74 265.13 64.06 262.36 C63.37 259.59 62.36 256.6 61.85 254.04 C61.34 251.48 61.07 248.84 61 247 C60.93 245.16 61.04 244.62 61.43 243.01 C61.82 241.4 62.64 239.46 63.33 237.37 C64.02 235.28 65 233.61 65.59 230.47 C66.18 227.33 66.64 220.5 66.85 218.5Z" fill="#a9a9a9" stroke="#333" stroke-width="0.5"/>
<line x1="80.5" y1="217" x2="80.5" y2="297.6" stroke="#8c8c8c" stroke-width="0.95" />
<path d="M80.75 218 C80.96 219.44 81.42 224.35 82.01 226.61 C82.6 228.87 83.58 230.07 84.27 231.57 C84.96 233.07 85.78 234.48 86.17 235.63 C86.56 236.78 86.67 236.87 86.6 238.5 C86.53 240.13 86.26 242.91 85.75 245.43 C85.24 247.95 84.23 250.89 83.54 253.62 C82.86 256.35 82.1 259.08 81.63 261.81 C81.17 264.54 80.9 268.63 80.75 270 L80.25 270 C80.1 268.63 79.83 264.54 79.37 261.81 C78.9 259.08 78.14 256.35 77.46 253.62 C76.77 250.89 75.76 247.95 75.25 245.43 C74.74 242.91 74.47 240.13 74.4 238.5 C74.33 236.87 74.44 236.78 74.83 235.63 C75.22 234.48 76.04 233.07 76.73 231.57 C77.42 230.07 78.4 228.87 78.99 226.61 C79.58 224.35 80.04 219.44 80.25 218Z" fill="#a9c83c" stroke="#333" stroke-width="0.5"/>
<line x1="94.1" y1="209.8" x2="94.1" y2="308" stroke="#8c8c8c" stroke-width="0.95" />
<path d="M94.35 210.8 C94.56 212.28 95.02 217.36 95.61 219.7 C96.2 222.04 97.18 223.28 97.87 224.83 C98.56 226.39 99.38 227.84 99.77 229.03 C100.16 230.23 100.27 230.41 100.2 232 C100.13 233.59 99.86 236.2 99.35 238.6 C98.84 241 97.83 243.8 97.14 246.4 C96.46 249 95.7 251.6 95.23 254.2 C94.77 256.8 94.5 260.7 94.35 262 L93.85 262 C93.7 260.7 93.43 256.8 92.97 254.2 C92.5 251.6 91.74 249 91.06 246.4 C90.37 243.8 89.36 241 88.85 238.6 C88.34 236.2 88.07 233.59 88 232 C87.93 230.41 88.04 230.23 88.43 229.03 C88.82 227.84 89.64 226.39 90.33 224.83 C91.02 223.28 92 222.04 92.59 219.7 C93.18 217.36 93.64 212.28 93.85 210.8Z" fill="#c9b8df" stroke="#333" stroke-width="0.5"/>
<line x1="107.6" y1="226.2" x2="107.6" y2="321.4" stroke="#8c8c8c" stroke-width="0.95" />
<path d="M107.85 227.2 C108.07 229.29 108.57 236.43 109.18 239.72 C109.8 243 110.83 244.74 111.56 246.93 C112.28 249.11 113.14 251.15 113.55 252.83 C113.96 254.51 114.07 255.06 114 257 C113.93 258.94 113.64 261.76 113.1 264.48 C112.57 267.2 111.51 270.37 110.79 273.32 C110.07 276.27 109.28 279.21 108.79 282.16 C108.3 285.11 108.01 289.53 107.85 291 L107.35 291 C107.19 289.53 106.9 285.11 106.41 282.16 C105.92 279.21 105.13 276.27 104.41 273.32 C103.69 270.37 102.63 267.2 102.1 264.48 C101.56 261.76 101.27 258.94 101.2 257 C101.13 255.06 101.24 254.51 101.65 252.83 C102.06 251.15 102.92 249.11 103.64 246.93 C104.37 244.74 105.4 243 106.02 239.72 C106.63 236.43 107.13 229.29 107.35 227.2Z" fill="#5a3a9a" stroke="#333" stroke-width="0.5"/>
<line x1="121.1" y1="222.4" x2="121.1" y2="292.3" stroke="#8c8c8c" stroke-width="0.95" />
<path d="M121.35 223.4 C121.57 225.26 122.07 231.64 122.68 234.57 C123.3 237.51 124.33 239.06 125.06 241.01 C125.78 242.96 126.64 244.78 127.05 246.28 C127.46 247.77 127.57 247.86 127.5 250 C127.43 252.14 127.14 255.81 126.6 259.13 C126.07 262.45 125.01 266.32 124.29 269.92 C123.57 273.52 122.78 277.11 122.29 280.71 C121.8 284.31 121.51 289.7 121.35 291.5 L120.85 291.5 C120.69 289.7 120.4 284.31 119.91 280.71 C119.42 277.11 118.63 273.52 117.91 269.92 C117.19 266.32 116.13 262.45 115.6 259.13 C115.06 255.81 114.77 252.14 114.7 250 C114.63 247.86 114.74 247.77 115.15 246.28 C115.56 244.78 116.42 242.96 117.14 241.01 C117.87 239.06 118.9 237.51 119.52 234.57 C120.13 231.64 120.63 225.26 120.85 223.4Z" fill="#d01c26" stroke="#333" stroke-width="0.5"/>
<line x1="134.8" y1="224.3" x2="134.8" y2="288.6" stroke="#8c8c8c" stroke-width="0.95" />
<path d="M135.05 225.3 C135.28 226.54 135.78 230.78 136.41 232.73 C137.04 234.69 138.08 235.72 138.82 237.02 C139.56 238.32 140.43 239.52 140.84 240.52 C141.26 241.52 141.38 241.19 141.3 243 C141.22 244.81 140.93 248.32 140.39 251.36 C139.85 254.4 138.77 257.95 138.04 261.24 C137.31 264.53 136.51 267.83 136.01 271.12 C135.51 274.41 135.21 279.35 135.05 281 L134.55 281 C134.39 279.35 134.09 274.41 133.59 271.12 C133.09 267.83 132.29 264.53 131.56 261.24 C130.83 257.95 129.75 254.4 129.21 251.36 C128.67 248.32 128.38 244.81 128.3 243 C128.22 241.19 128.34 241.52 128.76 240.52 C129.17 239.52 130.04 238.32 130.78 237.02 C131.52 235.72 132.56 234.69 133.19 232.73 C133.82 230.78 134.32 226.54 134.55 225.3Z" fill="#8fd0e2" stroke="#333" stroke-width="0.5"/>
<path d="M51.7 258.7h.55v.55h-.55zM53.4 257.2h.55v.55h-.55zM58.8 253.6h.55v.55h-.55zM53.6 259.0h.55v.55h-.55zM58.8 248.6h.55v.55h-.55zM54.6 243.2h.55v.55h-.55zM50.7 250.1h.55v.55h-.55zM50.2 273.8h.55v.55h-.55zM48.5 259.3h.55v.55h-.55zM53.6 308.8h.55v.55h-.55zM52.5 260.0h.55v.55h-.55zM52.3 235.2h.55v.55h-.55zM50.6 272.9h.55v.55h-.55zM53.3 274.6h.55v.55h-.55zM56.5 260.8h.55v.55h-.55zM58.8 252.3h.55v.55h-.55zM50.3 256.0h.55v.55h-.55zM52.8 235.8h.55v.55h-.55zM48.0 252.3h.55v.55h-.55zM55.7 305.6h.55v.55h-.55zM51.6 243.5h.55v.55h-.55zM57.2 271.8h.55v.55h-.55zM52.1 243.5h.55v.55h-.55zM54.7 252.9h.55v.55h-.55zM50.3 264.0h.55v.55h-.55zM58.8 265.9h.55v.55h-.55zM56.9 261.4h.55v.55h-.55zM54.4 257.2h.55v.55h-.55zM58.8 252.9h.55v.55h-.55zM51.3 271.2h.55v.55h-.55zM55.4 246.2h.55v.55h-.55zM54.0 266.0h.55v.55h-.55zM53.5 247.7h.55v.55h-.55zM52.2 282.2h.55v.55h-.55zM57.1 265.9h.55v.55h-.55zM48.0 259.5h.55v.55h-.55zM48.0 280.0h.55v.55h-.55zM56.2 253.0h.55v.55h-.55zM50.3 259.0h.55v.55h-.55zM58.8 253.9h.55v.55h-.55zM57.5 263.0h.55v.55h-.55zM53.9 280.3h.55v.55h-.55zM51.0 261.1h.55v.55h-.55zM54.6 311.3h.55v.55h-.55zM57.0 268.9h.55v.55h-.55zM51.5 277.1h.55v.55h-.55zM54.2 254.6h.55v.55h-.55zM53.7 270.2h.55v.55h-.55zM52.2 265.0h.55v.55h-.55zM55.4 284.2h.55v.55h-.55zM58.8 260.3h.55v.55h-.55zM50.7 268.4h.55v.55h-.55zM55.0 246.8h.55v.55h-.55zM55.8 298.9h.55v.55h-.55zM57.5 261.9h.55v.55h-.55zM53.0 290.6h.55v.55h-.55zM57.2 257.6h.55v.55h-.55zM50.8 250.8h.55v.55h-.55zM48.0 244.5h.55v.55h-.55zM50.4 254.0h.55v.55h-.55zM53.1 263.8h.55v.55h-.55zM53.4 249.9h.55v.55h-.55zM51.4 286.2h.55v.55h-.55zM55.6 254.8h.55v.55h-.55zM57.3 247.1h.55v.55h-.55zM51.0 247.6h.55v.55h-.55zM48.5 275.5h.55v.55h-.55zM58.3 265.4h.55v.55h-.55zM56.1 264.8h.55v.55h-.55zM58.8 259.5h.55v.55h-.55zM56.3 251.9h.55v.55h-.55zM55.1 252.1h.55v.55h-.55zM58.8 248.6h.55v.55h-.55zM51.5 232.8h.55v.55h-.55zM54.4 274.3h.55v.55h-.55zM48.0 261.2h.55v.55h-.55zM52.7 314.2h.55v.55h-.55zM52.0 271.1h.55v.55h-.55zM52.8 275.8h.55v.55h-.55zM52.7 289.5h.55v.55h-.55zM55.9 262.1h.55v.55h-.55zM51.3 242.3h.55v.55h-.55zM52.5 241.5h.55v.55h-.55zM56.5 270.2h.55v.55h-.55zM57.3 268.5h.55v.55h-.55zM52.2 267.8h.55v.55h-.55zM49.3 256.7h.55v.55h-.55zM56.7 253.7h.55v.55h-.55zM48.0 251.8h.55v.55h-.55zM55.9 256.4h.55v.55h-.55zM54.0 249.9h.55v.55h-.55zM58.8 264.7h.55v.55h-.55zM48.1 259.5h.55v.55h-.55zM52.1 237.9h.55v.55h-.55zM58.6 252.8h.55v.55h-.55zM53.8 273.1h.55v.55h-.55zM51.3 249.1h.55v.55h-.55zM53.8 298.1h.55v.55h-.55zM52.9 255.6h.55v.55h-.55zM54.3 245.5h.55v.55h-.55zM52.6 251.3h.55v.55h-.55zM48.0 261.5h.55v.55h-.55zM51.3 308.5h.55v.55h-.55zM51.6 278.3h.55v.55h-.55zM58.8 255.1h.55v.55h-.55zM56.1 241.8h.55v.55h-.55zM50.0 267.6h.55v.55h-.55zM53.5 280.1h.55v.55h-.55zM48.0 258.9h.55v.55h-.55zM53.4 254.8h.55v.55h-.55zM54.0 289.4h.55v.55h-.55zM51.2 268.8h.55v.55h-.55zM51.0 258.3h.55v.55h-.55zM48.3 254.1h.55v.55h-.55zM52.7 279.3h.55v.55h-.55zM52.0 234.5h.55v.55h-.55zM48.4 262.2h.55v.55h-.55zM51.8 255.6h.55v.55h-.55zM55.5 249.1h.55v.55h-.55zM51.1 284.6h.55v.55h-.55zM52.0 262.6h.55v.55h-.55zM58.8 252.3h.55v.55h-.55zM50.7 261.7h.55v.55h-.55zM55.8 282.9h.55v.55h-.55zM51.0 298.0h.55v.55h-.55zM54.3 267.0h.55v.55h-.55zM52.3 276.7h.55v.55h-.55zM53.7 255.6h.55v.55h-.55zM52.9 255.1h.55v.55h-.55zM51.6 244.7h.55v.55h-.55zM48.0 252.1h.55v.55h-.55zM53.4 260.3h.55v.55h-.55zM58.8 251.5h.55v.55h-.55zM58.8 255.1h.55v.55h-.55zM51.2 251.3h.55v.55h-.55zM57.0 262.5h.55v.55h-.55zM48.9 268.2h.55v.55h-.55zM48.2 251.9h.55v.55h-.55zM53.8 246.2h.55v.55h-.55zM55.1 263.1h.55v.55h-.55zM52.6 248.1h.55v.55h-.55zM51.2 264.5h.55v.55h-.55zM51.6 249.1h.55v.55h-.55zM50.9 291.7h.55v.55h-.55zM50.4 250.9h.55v.55h-.55zM48.0 249.5h.55v.55h-.55zM51.9 257.9h.55v.55h-.55zM51.4 264.8h.55v.55h-.55zM53.9 297.9h.55v.55h-.55zM54.2 264.7h.55v.55h-.55zM48.0 272.1h.55v.55h-.55zM53.2 233.7h.55v.55h-.55zM58.7 266.6h.55v.55h-.55zM55.8 247.2h.55v.55h-.55zM48.0 256.2h.55v.55h-.55zM58.1 260.2h.55v.55h-.55zM48.0 272.6h.55v.55h-.55zM58.8 270.3h.55v.55h-.55zM58.8 246.9h.55v.55h-.55zM54.8 265.4h.55v.55h-.55zM48.0 261.4h.55v.55h-.55zM53.2 244.9h.55v.55h-.55zM56.9 261.4h.55v.55h-.55zM48.0 268.5h.55v.55h-.55zM58.8 257.7h.55v.55h-.55zM50.1 262.4h.55v.55h-.55zM53.8 263.0h.55v.55h-.55zM58.8 254.2h.55v.55h-.55zM55.3 252.6h.55v.55h-.55zM48.0 257.6h.55v.55h-.55zM50.9 264.6h.55v.55h-.55zM54.3 286.6h.55v.55h-.55zM55.9 270.3h.55v.55h-.55zM54.9 290.2h.55v.55h-.55zM55.8 240.2h.55v.55h-.55zM49.7 263.2h.55v.55h-.55zM48.0 244.9h.55v.55h-.55zM57.5 273.6h.55v.55h-.55zM50.1 276.0h.55v.55h-.55zM53.3 250.1h.55v.55h-.55zM58.0 261.9h.55v.55h-.55zM50.6 260.3h.55v.55h-.55zM51.3 251.5h.55v.55h-.55zM51.7 261.6h.55v.55h-.55zM58.8 257.5h.55v.55h-.55zM58.8 256.2h.55v.55h-.55zM52.2 265.1h.55v.55h-.55zM54.3 275.1h.55v.55h-.55zM48.0 251.6h.55v.55h-.55zM58.8 290.2h.55v.55h-.55zM58.8 263.7h.55v.55h-.55zM49.1 260.2h.55v.55h-.55zM52.7 265.8h.55v.55h-.55zM58.8 268.0h.55v.55h-.55zM53.1 276.2h.55v.55h-.55zM50.9 248.3h.55v.55h-.55zM53.7 254.5h.55v.55h-.55zM51.1 279.2h.55v.55h-.55zM54.5 241.9h.55v.55h-.55zM48.3 257.4h.55v.55h-.55zM52.7 255.4h.55v.55h-.55zM54.7 253.2h.55v.55h-.55zM56.7 254.3h.55v.55h-.55zM50.2 246.8h.55v.55h-.55zM53.6 245.1h.55v.55h-.55zM51.9 241.3h.55v.55h-.55zM56.7 253.2h.55v.55h-.55zM54.0 265.0h.55v.55h-.55zM48.0 258.2h.55v.55h-.55zM54.2 253.7h.55v.55h-.55zM50.9 250.8h.55v.55h-.55zM53.0 272.6h.55v.55h-.55zM55.9 243.9h.55v.55h-.55zM48.5 256.6h.55v.55h-.55zM54.8 249.6h.55v.55h-.55zM53.0 262.3h.55v.55h-.55zM55.7 263.2h.55v.55h-.55zM56.6 256.4h.55v.55h-.55zM58.8 267.4h.55v.55h-.55zM56.5 254.4h.55v.55h-.55zM48.0 267.5h.55v.55h-.55zM52.4 264.9h.55v.55h-.55zM50.3 264.3h.55v.55h-.55zM56.1 265.6h.55v.55h-.55zM51.8 244.5h.55v.55h-.55zM50.5 272.7h.55v.55h-.55zM58.8 261.3h.55v.55h-.55zM48.0 250.3h.55v.55h-.55zM58.8 271.0h.55v.55h-.55zM48.0 253.2h.55v.55h-.55zM56.6 275.6h.55v.55h-.55zM50.2 249.7h.55v.55h-.55zM48.1 256.4h.55v.55h-.55zM51.4 249.4h.55v.55h-.55zM57.6 250.8h.55v.55h-.55zM51.2 274.5h.55v.55h-.55zM58.8 252.8h.55v.55h-.55zM50.5 248.3h.55v.55h-.55zM54.2 260.1h.55v.55h-.55zM52.3 252.1h.55v.55h-.55zM54.9 271.8h.55v.55h-.55zM49.7 253.1h.55v.55h-.55zM57.2 285.1h.55v.55h-.55zM57.3 261.7h.55v.55h-.55zM51.3 282.7h.55v.55h-.55zM56.4 239.3h.55v.55h-.55zM53.7 258.3h.55v.55h-.55zM55.1 256.5h.55v.55h-.55zM54.6 267.4h.55v.55h-.55zM49.3 271.4h.55v.55h-.55zM52.7 263.8h.55v.55h-.55zM55.7 252.4h.55v.55h-.55zM54.4 276.3h.55v.55h-.55zM48.0 268.4h.55v.55h-.55zM58.8 252.7h.55v.55h-.55zM48.0 263.4h.55v.55h-.55zM48.0 260.7h.55v.55h-.55zM58.8 260.0h.55v.55h-.55zM53.1 245.8h.55v.55h-.55zM55.6 254.2h.55v.55h-.55zM48.0 263.4h.55v.55h-.55zM58.4 258.6h.55v.55h-.55zM53.3 289.6h.55v.55h-.55zM56.0 317.6h.55v.55h-.55zM52.2 253.1h.55v.55h-.55zM48.0 261.3h.55v.55h-.55zM58.8 264.4h.55v.55h-.55zM58.8 254.3h.55v.55h-.55zM52.6 285.9h.55v.55h-.55zM50.4 263.6h.55v.55h-.55zM55.1 265.4h.55v.55h-.55zM50.5 272.3h.55v.55h-.55zM55.9 251.9h.55v.55h-.55zM48.0 250.4h.55v.55h-.55zM49.9 290.2h.55v.55h-.55zM48.6 265.3h.55v.55h-.55zM51.0 275.4h.55v.55h-.55zM50.7 272.1h.55v.55h-.55zM52.4 233.1h.55v.55h-.55zM53.5 259.6h.55v.55h-.55zM53.8 258.7h.55v.55h-.55zM48.0 253.5h.55v.55h-.55zM54.7 255.8h.55v.55h-.55zM51.4 246.4h.55v.55h-.55zM54.5 248.0h.55v.55h-.55zM49.4 258.1h.55v.55h-.55zM53.4 247.5h.55v.55h-.55zM54.2 270.3h.55v.55h-.55zM50.3 274.3h.55v.55h-.55zM54.3 271.4h.55v.55h-.55zM52.4 265.3h.55v.55h-.55zM56.9 251.4h.55v.55h-.55zM48.0 275.2h.55v.55h-.55zM48.0 272.7h.55v.55h-.55zM56.0 287.4h.55v.55h-.55zM50.5 256.7h.55v.55h-.55zM52.5 263.9h.55v.55h-.55zM48.0 266.8h.55v.55h-.55zM56.6 259.0h.55v.55h-.55zM52.0 246.5h.55v.55h-.55zM56.4 261.9h.55v.55h-.55zM55.5 260.9h.55v.55h-.55zM54.4 266.7h.55v.55h-.55zM52.9 260.9h.55v.55h-.55zM58.8 249.3h.55v.55h-.55zM50.2 273.5h.55v.55h-.55zM51.4 273.7h.55v.55h-.55zM57.6 249.0h.55v.55h-.55zM58.6 252.4h.55v.55h-.55zM55.3 267.0h.55v.55h-.55zM58.8 261.0h.55v.55h-.55zM49.9 269.1h.55v.55h-.55zM57.3 245.8h.55v.55h-.55zM56.9 261.9h.55v.55h-.55zM58.8 268.6h.55v.55h-.55zM58.8 254.8h.55v.55h-.55zM49.5 252.8h.55v.55h-.55zM48.0 252.6h.55v.55h-.55zM55.3 261.8h.55v.55h-.55zM51.1 248.5h.55v.55h-.55zM58.8 253.0h.55v.55h-.55zM55.5 235.4h.55v.55h-.55zM58.8 240.3h.55v.55h-.55zM54.2 273.7h.55v.55h-.55zM52.7 315.5h.55v.55h-.55zM49.2 263.1h.55v.55h-.55zM56.2 275.6h.55v.55h-.55zM50.7 259.8h.55v.55h-.55zM52.7 279.7h.55v.55h-.55zM54.7 247.9h.55v.55h-.55zM52.9 290.1h.55v.55h-.55zM58.7 263.4h.55v.55h-.55zM48.5 251.8h.55v.55h-.55zM48.0 265.3h.55v.55h-.55zM57.5 255.6h.55v.55h-.55zM49.5 245.3h.55v.55h-.55zM51.9 267.6h.55v.55h-.55zM55.8 267.7h.55v.55h-.55zM57.4 261.4h.55v.55h-.55zM53.7 252.7h.55v.55h-.55zM53.9 304.8h.55v.55h-.55zM58.8 256.2h.55v.55h-.55zM50.2 289.9h.55v.55h-.55zM51.7 282.6h.55v.55h-.55zM58.0 256.4h.55v.55h-.55zM52.2 279.3h.55v.55h-.55zM55.6 253.3h.55v.55h-.55zM57.6 266.6h.55v.55h-.55zM56.8 260.4h.55v.55h-.55zM57.8 255.0h.55v.55h-.55zM55.6 288.5h.55v.55h-.55zM54.7 259.5h.55v.55h-.55zM48.0 253.5h.55v.55h-.55zM54.7 273.4h.55v.55h-.55zM58.6 275.3h.55v.55h-.55zM51.3 255.1h.55v.55h-.55zM54.5 246.1h.55v.55h-.55zM49.9 257.1h.55v.55h-.55zM48.0 259.2h.55v.55h-.55zM53.0 253.5h.55v.55h-.55zM48.0 263.4h.55v.55h-.55zM58.8 269.6h.55v.55h-.55zM49.7 253.5h.55v.55h-.55zM58.8 268.9h.55v.55h-.55zM50.2 254.6h.55v.55h-.55zM58.8 247.7h.55v.55h-.55zM54.6 254.1h.55v.55h-.55zM53.8 257.6h.55v.55h-.55zM55.2 281.9h.55v.55h-.55zM53.6 249.4h.55v.55h-.55zM52.3 263.8h.55v.55h-.55zM57.7 246.7h.55v.55h-.55zM50.5 236.0h.55v.55h-.55zM52.1 286.6h.55v.55h-.55zM54.6 260.6h.55v.55h-.55zM52.2 275.0h.55v.55h-.55zM54.4 256.9h.55v.55h-.55zM50.6 252.7h.55v.55h-.55zM51.6 277.0h.55v.55h-.55zM51.4 253.0h.55v.55h-.55zM49.6 260.4h.55v.55h-.55zM48.5 260.6h.55v.55h-.55zM51.8 260.4h.55v.55h-.55zM54.0 261.6h.55v.55h-.55zM51.8 262.4h.55v.55h-.55zM55.8 261.0h.55v.55h-.55zM53.6 261.2h.55v.55h-.55zM54.8 268.7h.55v.55h-.55zM58.8 264.1h.55v.55h-.55zM49.2 273.6h.55v.55h-.55zM58.8 263.5h.55v.55h-.55zM54.9 258.0h.55v.55h-.55zM48.0 260.1h.55v.55h-.55zM55.7 260.1h.55v.55h-.55zM54.0 304.4h.55v.55h-.55zM55.4 260.7h.55v.55h-.55zM52.6 286.7h.55v.55h-.55zM51.5 258.8h.55v.55h-.55zM53.5 279.9h.55v.55h-.55zM49.1 277.3h.55v.55h-.55zM53.9 277.1h.55v.55h-.55zM57.4 263.3h.55v.55h-.55zM48.0 259.3h.55v.55h-.55zM58.8 261.5h.55v.55h-.55zM51.6 272.0h.55v.55h-.55zM52.7 318.7h.55v.55h-.55zM54.5 242.0h.55v.55h-.55zM48.7 250.6h.55v.55h-.55zM50.6 264.9h.55v.55h-.55zM50.4 269.0h.55v.55h-.55zM58.8 260.4h.55v.55h-.55zM52.6 238.1h.55v.55h-.55zM57.3 267.4h.55v.55h-.55zM48.0 268.3h.55v.55h-.55zM58.8 260.8h.55v.55h-.55zM55.4 261.7h.55v.55h-.55zM56.5 292.6h.55v.55h-.55zM55.0 249.7h.55v.55h-.55zM54.2 254.0h.55v.55h-.55zM56.7 293.6h.55v.55h-.55zM52.7 261.2h.55v.55h-.55zM55.9 286.0h.55v.55h-.55zM54.4 265.9h.55v.55h-.55zM48.1 240.9h.55v.55h-.55zM48.0 253.3h.55v.55h-.55zM51.9 261.5h.55v.55h-.55zM52.5 259.9h.55v.55h-.55zM57.1 252.9h.55v.55h-.55zM53.0 282.7h.55v.55h-.55zM56.8 256.4h.55v.55h-.55zM53.3 269.5h.55v.55h-.55zM53.3 259.0h.55v.55h-.55zM55.7 268.3h.55v.55h-.55zM58.8 258.3h.55v.55h-.55zM56.3 250.7h.55v.55h-.55zM56.0 319.7h.55v.55h-.55zM55.6 283.0h.55v.55h-.55zM52.2 247.1h.55v.55h-.55zM58.8 262.1h.55v.55h-.55zM53.8 264.3h.55v.55h-.55zM48.0 263.3h.55v.55h-.55zM50.0 284.6h.55v.55h-.55zM54.0 247.0h.55v.55h-.55zM54.7 263.7h.55v.55h-.55zM56.3 248.7h.55v.55h-.55zM52.8 265.4h.55v.55h-.55zM55.2 251.7h.55v.55h-.55zM58.8 257.7h.55v.55h-.55zM57.2 254.7h.55v.55h-.55zM52.9 316.5h.55v.55h-.55zM54.0 268.8h.55v.55h-.55zM52.5 317.7h.55v.55h-.55zM51.2 266.9h.55v.55h-.55zM55.3 251.4h.55v.55h-.55zM54.4 247.1h.55v.55h-.55zM52.2 255.2h.55v.55h-.55zM55.2 266.3h.55v.55h-.55zM58.8 269.0h.55v.55h-.55zM58.8 261.5h.55v.55h-.55zM50.3 239.4h.55v.55h-.55zM53.4 244.0h.55v.55h-.55zM53.4 277.9h.55v.55h-.55zM56.2 258.2h.55v.55h-.55zM48.0 253.0h.55v.55h-.55zM53.7 274.9h.55v.55h-.55zM48.0 256.2h.55v.55h-.55zM57.8 281.1h.55v.55h-.55zM53.4 266.8h.55v.55h-.55zM54.2 250.3h.55v.55h-.55zM48.2 252.9h.55v.55h-.55zM53.8 276.5h.55v.55h-.55zM56.0 249.6h.55v.55h-.55zM48.0 257.9h.55v.55h-.55zM58.2 261.4h.55v.55h-.55zM54.5 250.2h.55v.55h-.55zM54.6 269.8h.55v.55h-.55zM52.2 265.7h.55v.55h-.55zM58.8 256.0h.55v.55h-.55zM54.5 276.3h.55v.55h-.55zM53.2 281.3h.55v.55h-.55zM54.2 269.1h.55v.55h-.55zM54.3 266.6h.55v.55h-.55zM56.1 265.3h.55v.55h-.55zM53.6 275.8h.55v.55h-.55zM55.3 270.0h.55v.55h-.55zM58.3 256.2h.55v.55h-.55zM48.0 252.6h.55v.55h-.55zM51.6 244.5h.55v.55h-.55zM56.1 251.2h.55v.55h-.55zM58.8 264.5h.55v.55h-.55zM48.0 269.3h.55v.55h-.55zM51.7 253.8h.55v.55h-.55zM51.7 241.7h.55v.55h-.55zM58.1 250.2h.55v.55h-.55zM55.0 278.8h.55v.55h-.55zM55.4 269.1h.55v.55h-.55zM56.0 261.1h.55v.55h-.55zM48.0 255.0h.55v.55h-.55zM48.0 262.7h.55v.55h-.55zM51.0 311.2h.55v.55h-.55zM51.4 261.4h.55v.55h-.55zM48.0 257.5h.55v.55h-.55zM48.0 273.1h.55v.55h-.55zM54.5 241.6h.55v.55h-.55zM51.8 260.8h.55v.55h-.55zM58.8 259.3h.55v.55h-.55zM51.4 269.7h.55v.55h-.55zM58.8 255.4h.55v.55h-.55zM54.4 265.7h.55v.55h-.55zM54.6 279.7h.55v.55h-.55zM58.8 257.4h.55v.55h-.55zM56.2 277.0h.55v.55h-.55zM56.0 246.0h.55v.55h-.55zM48.0 256.4h.55v.55h-.55zM56.2 263.7h.55v.55h-.55zM54.5 262.2h.55v.55h-.55zM50.3 268.4h.55v.55h-.55zM58.8 254.2h.55v.55h-.55zM50.8 253.5h.55v.55h-.55zM52.5 247.1h.55v.55h-.55z" fill="#707070" fill-opacity="0.5"/>
<path d="M62.1 262.0h.55v.55h-.55zM66.6 312.7h.55v.55h-.55zM65.7 257.0h.55v.55h-.55zM61.7 252.2h.55v.55h-.55zM65.4 251.5h.55v.55h-.55zM67.9 262.2h.55v.55h-.55zM61.7 258.1h.55v.55h-.55zM62.7 241.2h.55v.55h-.55zM71.8 238.3h.55v.55h-.55zM68.9 241.9h.55v.55h-.55zM71.6 246.6h.55v.55h-.55zM67.0 261.0h.55v.55h-.55zM72.5 250.9h.55v.55h-.55zM69.5 249.3h.55v.55h-.55zM71.5 251.1h.55v.55h-.55zM66.7 220.2h.55v.55h-.55zM63.8 256.2h.55v.55h-.55zM68.7 248.5h.55v.55h-.55zM66.7 234.9h.55v.55h-.55zM64.2 254.3h.55v.55h-.55zM68.3 247.2h.55v.55h-.55zM65.7 245.9h.55v.55h-.55zM61.7 249.8h.55v.55h-.55zM67.8 307.2h.55v.55h-.55zM68.4 246.8h.55v.55h-.55zM61.7 261.8h.55v.55h-.55zM71.6 260.8h.55v.55h-.55zM71.8 252.7h.55v.55h-.55zM66.3 285.9h.55v.55h-.55zM70.2 254.3h.55v.55h-.55zM68.0 289.3h.55v.55h-.55zM64.2 223.3h.55v.55h-.55zM64.8 247.8h.55v.55h-.55zM69.7 273.5h.55v.55h-.55zM62.3 257.4h.55v.55h-.55zM70.7 251.7h.55v.55h-.55zM67.6 247.9h.55v.55h-.55zM68.7 268.3h.55v.55h-.55zM61.7 247.7h.55v.55h-.55zM72.5 246.1h.55v.55h-.55zM66.3 246.7h.55v.55h-.55zM69.6 250.5h.55v.55h-.55zM64.3 246.5h.55v.55h-.55zM66.7 259.3h.55v.55h-.55zM72.5 251.4h.55v.55h-.55zM68.8 244.1h.55v.55h-.55zM68.8 260.3h.55v.55h-.55zM61.7 255.0h.55v.55h-.55zM67.7 259.5h.55v.55h-.55zM65.7 241.7h.55v.55h-.55zM62.6 250.8h.55v.55h-.55zM68.1 238.0h.55v.55h-.55zM70.8 245.9h.55v.55h-.55zM63.4 239.9h.55v.55h-.55zM67.3 262.3h.55v.55h-.55zM66.0 240.9h.55v.55h-.55zM69.6 262.3h.55v.55h-.55zM67.5 275.9h.55v.55h-.55zM72.5 243.0h.55v.55h-.55zM61.7 256.4h.55v.55h-.55zM67.9 245.3h.55v.55h-.55zM65.3 248.3h.55v.55h-.55zM61.7 256.6h.55v.55h-.55zM67.0 252.3h.55v.55h-.55zM63.8 242.2h.55v.55h-.55zM66.6 223.5h.55v.55h-.55zM72.5 240.7h.55v.55h-.55zM63.7 266.8h.55v.55h-.55zM66.9 307.0h.55v.55h-.55zM72.5 238.1h.55v.55h-.55zM72.5 246.0h.55v.55h-.55zM63.7 242.3h.55v.55h-.55zM70.5 254.5h.55v.55h-.55zM63.0 251.0h.55v.55h-.55zM71.0 252.5h.55v.55h-.55zM68.9 255.0h.55v.55h-.55zM71.0 255.2h.55v.55h-.55zM68.1 273.7h.55v.55h-.55zM67.8 301.1h.55v.55h-.55zM66.1 238.6h.55v.55h-.55zM64.9 240.1h.55v.55h-.55zM72.5 249.0h.55v.55h-.55zM66.9 235.3h.55v.55h-.55zM70.1 246.4h.55v.55h-.55zM71.8 255.0h.55v.55h-.55zM61.7 254.6h.55v.55h-.55zM65.7 264.1h.55v.55h-.55zM70.7 223.9h.55v.55h-.55zM61.7 255.3h.55v.55h-.55zM63.4 245.8h.55v.55h-.55zM67.9 293.4h.55v.55h-.55zM71.5 250.3h.55v.55h-.55zM72.5 259.7h.55v.55h-.55zM64.8 262.3h.55v.55h-.55zM66.2 238.2h.55v.55h-.55zM71.2 260.9h.55v.55h-.55zM68.0 257.1h.55v.55h-.55zM67.6 254.0h.55v.55h-.55zM69.9 252.3h.55v.55h-.55zM72.5 251.8h.55v.55h-.55zM65.9 253.6h.55v.55h-.55zM66.1 311.7h.55v.55h-.55zM72.5 268.2h.55v.55h-.55zM65.3 235.2h.55v.55h-.55zM70.9 234.1h.55v.55h-.55zM65.2 250.4h.55v.55h-.55zM67.8 237.0h.55v.55h-.55zM65.2 236.1h.55v.55h-.55zM65.6 271.0h.55v.55h-.55zM66.8 256.8h.55v.55h-.55zM68.9 257.5h.55v.55h-.55zM65.1 247.1h.55v.55h-.55zM68.4 245.3h.55v.55h-.55zM71.9 242.1h.55v.55h-.55zM63.5 311.8h.55v.55h-.55zM63.3 251.4h.55v.55h-.55zM69.6 242.4h.55v.55h-.55zM69.6 249.7h.55v.55h-.55zM62.7 242.8h.55v.55h-.55zM72.5 244.3h.55v.55h-.55zM66.1 267.6h.55v.55h-.55zM71.8 261.6h.55v.55h-.55zM62.9 255.8h.55v.55h-.55zM72.5 250.7h.55v.55h-.55zM61.7 238.5h.55v.55h-.55zM63.7 269.3h.55v.55h-.55zM61.7 237.7h.55v.55h-.55zM65.2 259.4h.55v.55h-.55zM67.1 267.2h.55v.55h-.55zM62.5 236.8h.55v.55h-.55zM66.6 248.7h.55v.55h-.55zM65.2 231.2h.55v.55h-.55zM68.6 267.6h.55v.55h-.55zM64.5 221.8h.55v.55h-.55zM70.0 261.6h.55v.55h-.55zM66.8 267.8h.55v.55h-.55zM65.6 257.9h.55v.55h-.55zM71.1 244.7h.55v.55h-.55zM70.1 263.4h.55v.55h-.55zM70.5 251.9h.55v.55h-.55zM67.3 237.8h.55v.55h-.55zM64.7 230.4h.55v.55h-.55zM71.2 227.5h.55v.55h-.55zM68.6 260.9h.55v.55h-.55zM65.3 239.0h.55v.55h-.55zM65.3 256.2h.55v.55h-.55zM65.9 233.7h.55v.55h-.55zM67.2 277.3h.55v.55h-.55zM67.3 246.7h.55v.55h-.55zM66.1 231.5h.55v.55h-.55zM64.4 235.6h.55v.55h-.55zM65.6 299.1h.55v.55h-.55zM65.3 251.2h.55v.55h-.55zM62.6 260.5h.55v.55h-.55zM70.1 243.6h.55v.55h-.55zM72.5 235.9h.55v.55h-.55zM66.5 239.2h.55v.55h-.55zM69.0 246.9h.55v.55h-.55zM63.4 239.3h.55v.55h-.55zM69.8 220.9h.55v.55h-.55zM65.4 230.0h.55v.55h-.55zM71.7 256.6h.55v.55h-.55zM68.4 244.8h.55v.55h-.55zM69.3 246.5h.55v.55h-.55zM70.9 236.6h.55v.55h-.55zM72.1 244.1h.55v.55h-.55zM72.5 237.9h.55v.55h-.55zM72.5 259.7h.55v.55h-.55zM62.9 252.6h.55v.55h-.55zM72.5 247.2h.55v.55h-.55zM68.8 227.0h.55v.55h-.55zM62.7 244.1h.55v.55h-.55zM67.4 235.7h.55v.55h-.55zM67.2 245.6h.55v.55h-.55zM61.7 240.7h.55v.55h-.55zM62.9 257.7h.55v.55h-.55zM70.6 246.2h.55v.55h-.55zM66.7 256.0h.55v.55h-.55zM63.8 244.7h.55v.55h-.55zM64.2 244.6h.55v.55h-.55zM64.5 241.1h.55v.55h-.55zM70.8 259.4h.55v.55h-.55zM72.5 248.6h.55v.55h-.55zM67.2 254.3h.55v.55h-.55zM61.7 245.8h.55v.55h-.55zM64.1 251.1h.55v.55h-.55zM65.6 241.2h.55v.55h-.55zM68.1 305.4h.55v.55h-.55zM67.3 262.4h.55v.55h-.55zM69.9 268.2h.55v.55h-.55zM64.1 248.4h.55v.55h-.55zM61.7 238.5h.55v.55h-.55zM69.4 230.2h.55v.55h-.55zM66.9 248.0h.55v.55h-.55zM65.6 278.6h.55v.55h-.55zM68.7 261.6h.55v.55h-.55zM70.0 277.1h.55v.55h-.55zM71.5 254.0h.55v.55h-.55zM67.0 246.1h.55v.55h-.55zM69.0 264.8h.55v.55h-.55zM67.1 275.1h.55v.55h-.55zM63.6 253.8h.55v.55h-.55zM72.5 246.2h.55v.55h-.55zM72.5 247.2h.55v.55h-.55zM68.1 253.2h.55v.55h-.55zM72.5 249.4h.55v.55h-.55zM69.6 264.0h.55v.55h-.55zM65.6 262.6h.55v.55h-.55zM65.5 263.0h.55v.55h-.55zM68.2 246.9h.55v.55h-.55zM69.5 246.5h.55v.55h-.55zM61.7 241.5h.55v.55h-.55zM70.0 253.0h.55v.55h-.55zM63.5 242.7h.55v.55h-.55zM72.5 252.4h.55v.55h-.55zM64.6 266.6h.55v.55h-.55zM72.2 238.2h.55v.55h-.55zM61.7 247.2h.55v.55h-.55zM68.8 259.8h.55v.55h-.55zM66.3 243.0h.55v.55h-.55zM63.5 247.7h.55v.55h-.55zM64.2 258.3h.55v.55h-.55zM72.1 251.5h.55v.55h-.55zM70.6 247.3h.55v.55h-.55zM63.8 246.3h.55v.55h-.55zM68.6 252.0h.55v.55h-.55zM66.2 231.5h.55v.55h-.55zM72.4 243.4h.55v.55h-.55zM69.3 227.8h.55v.55h-.55zM66.5 252.9h.55v.55h-.55zM66.2 255.9h.55v.55h-.55zM67.6 222.9h.55v.55h-.55zM70.8 241.9h.55v.55h-.55zM64.8 246.7h.55v.55h-.55zM64.6 265.7h.55v.55h-.55zM61.7 253.6h.55v.55h-.55zM63.1 262.2h.55v.55h-.55zM68.7 238.1h.55v.55h-.55zM69.6 249.5h.55v.55h-.55zM64.8 247.9h.55v.55h-.55zM68.5 239.8h.55v.55h-.55zM65.1 274.3h.55v.55h-.55zM70.8 261.5h.55v.55h-.55zM70.8 244.4h.55v.55h-.55zM64.9 245.8h.55v.55h-.55zM65.4 223.1h.55v.55h-.55zM61.7 243.8h.55v.55h-.55zM64.4 275.5h.55v.55h-.55zM71.1 268.9h.55v.55h-.55zM64.0 266.0h.55v.55h-.55zM61.7 256.1h.55v.55h-.55zM64.8 261.6h.55v.55h-.55zM61.7 247.3h.55v.55h-.55zM61.7 239.8h.55v.55h-.55zM65.6 310.1h.55v.55h-.55zM68.2 243.2h.55v.55h-.55zM70.3 234.9h.55v.55h-.55zM69.1 270.3h.55v.55h-.55zM64.1 313.8h.55v.55h-.55zM67.9 238.5h.55v.55h-.55zM67.5 247.4h.55v.55h-.55zM69.9 236.2h.55v.55h-.55zM62.7 250.8h.55v.55h-.55zM66.6 311.6h.55v.55h-.55zM69.2 269.6h.55v.55h-.55zM67.2 253.6h.55v.55h-.55zM72.5 250.3h.55v.55h-.55zM62.8 248.6h.55v.55h-.55zM61.7 252.4h.55v.55h-.55zM69.7 256.8h.55v.55h-.55zM66.9 296.4h.55v.55h-.55zM68.7 268.4h.55v.55h-.55zM67.3 251.8h.55v.55h-.55zM65.8 244.1h.55v.55h-.55zM66.4 224.8h.55v.55h-.55zM67.5 252.9h.55v.55h-.55zM67.3 254.2h.55v.55h-.55zM72.5 261.9h.55v.55h-.55zM65.1 239.9h.55v.55h-.55zM69.5 222.5h.55v.55h-.55zM70.3 232.2h.55v.55h-.55zM64.6 253.8h.55v.55h-.55zM69.9 239.6h.55v.55h-.55zM65.8 236.5h.55v.55h-.55zM63.5 246.2h.55v.55h-.55zM69.7 240.9h.55v.55h-.55zM63.7 238.1h.55v.55h-.55zM66.7 243.0h.55v.55h-.55zM63.9 253.5h.55v.55h-.55zM72.2 232.7h.55v.55h-.55zM63.3 253.3h.55v.55h-.55zM65.0 257.9h.55v.55h-.55zM68.1 245.6h.55v.55h-.55zM67.6 268.3h.55v.55h-.55zM70.9 254.7h.55v.55h-.55zM71.4 244.6h.55v.55h-.55zM72.2 242.4h.55v.55h-.55zM68.2 302.8h.55v.55h-.55zM67.3 250.5h.55v.55h-.55zM62.1 247.5h.55v.55h-.55zM67.6 252.0h.55v.55h-.55zM68.1 235.3h.55v.55h-.55zM68.6 248.1h.55v.55h-.55zM68.1 248.4h.55v.55h-.55zM71.4 250.3h.55v.55h-.55zM67.1 250.1h.55v.55h-.55zM72.0 244.8h.55v.55h-.55zM68.2 249.7h.55v.55h-.55zM66.3 255.4h.55v.55h-.55zM66.2 221.2h.55v.55h-.55zM65.7 237.2h.55v.55h-.55zM65.7 245.4h.55v.55h-.55zM72.5 247.1h.55v.55h-.55zM65.7 268.5h.55v.55h-.55zM71.5 243.7h.55v.55h-.55zM66.8 266.4h.55v.55h-.55zM68.2 295.8h.55v.55h-.55zM72.5 257.1h.55v.55h-.55zM69.0 253.1h.55v.55h-.55zM71.5 253.9h.55v.55h-.55zM71.9 266.8h.55v.55h-.55zM66.7 231.8h.55v.55h-.55zM65.6 266.3h.55v.55h-.55zM61.7 252.7h.55v.55h-.55zM72.5 242.7h.55v.55h-.55zM66.5 252.8h.55v.55h-.55zM72.5 244.8h.55v.55h-.55zM62.2 242.0h.55v.55h-.55zM68.0 238.6h.55v.55h-.55zM67.5 246.9h.55v.55h-.55zM70.0 231.3h.55v.55h-.55zM68.1 246.5h.55v.55h-.55zM71.6 251.0h.55v.55h-.55zM64.4 231.0h.55v.55h-.55zM72.0 245.4h.55v.55h-.55zM72.5 244.0h.55v.55h-.55zM69.0 243.3h.55v.55h-.55zM72.5 257.1h.55v.55h-.55zM72.5 258.0h.55v.55h-.55zM65.3 252.4h.55v.55h-.55zM69.7 247.4h.55v.55h-.55zM63.2 262.1h.55v.55h-.55zM65.3 243.8h.55v.55h-.55zM71.1 260.8h.55v.55h-.55zM66.1 232.2h.55v.55h-.55zM68.3 248.3h.55v.55h-.55zM66.6 254.1h.55v.55h-.55zM64.6 242.8h.55v.55h-.55zM62.5 239.6h.55v.55h-.55zM64.5 276.0h.55v.55h-.55zM64.7 238.7h.55v.55h-.55zM66.8 248.8h.55v.55h-.55zM69.1 236.7h.55v.55h-.55zM67.2 256.3h.55v.55h-.55zM67.9 306.8h.55v.55h-.55zM68.1 239.5h.55v.55h-.55zM66.9 232.4h.55v.55h-.55zM63.4 242.5h.55v.55h-.55zM68.9 229.7h.55v.55h-.55zM62.9 253.8h.55v.55h-.55zM68.2 248.5h.55v.55h-.55zM70.9 259.0h.55v.55h-.55zM68.8 245.2h.55v.55h-.55zM65.9 305.0h.55v.55h-.55zM65.0 236.9h.55v.55h-.55zM71.5 237.6h.55v.55h-.55zM62.7 271.9h.55v.55h-.55zM68.3 260.1h.55v.55h-.55zM67.0 260.6h.55v.55h-.55zM71.4 256.7h.55v.55h-.55zM65.4 261.3h.55v.55h-.55zM71.5 249.6h.55v.55h-.55zM64.0 249.2h.55v.55h-.55zM64.4 244.9h.55v.55h-.55zM67.6 241.0h.55v.55h-.55zM72.5 245.2h.55v.55h-.55zM62.3 266.1h.55v.55h-.55zM65.8 221.3h.55v.55h-.55zM65.3 256.7h.55v.55h-.55zM70.1 250.2h.55v.55h-.55zM63.2 249.7h.55v.55h-.55zM68.4 268.0h.55v.55h-.55zM68.0 237.0h.55v.55h-.55zM69.2 281.4h.55v.55h-.55zM71.1 233.9h.55v.55h-.55zM68.0 258.7h.55v.55h-.55zM62.0 260.1h.55v.55h-.55zM72.5 247.2h.55v.55h-.55zM68.8 240.9h.55v.55h-.55zM69.5 265.7h.55v.55h-.55zM69.4 230.8h.55v.55h-.55zM61.7 242.1h.55v.55h-.55zM66.7 258.8h.55v.55h-.55zM68.9 264.5h.55v.55h-.55zM69.7 245.0h.55v.55h-.55zM69.0 313.7h.55v.55h-.55zM64.7 252.2h.55v.55h-.55zM67.1 240.2h.55v.55h-.55zM70.3 252.8h.55v.55h-.55zM71.6 244.2h.55v.55h-.55zM67.5 255.9h.55v.55h-.55zM67.2 242.1h.55v.55h-.55zM72.5 248.7h.55v.55h-.55zM68.5 289.8h.55v.55h-.55zM72.3 258.8h.55v.55h-.55zM61.7 243.8h.55v.55h-.55zM61.7 249.8h.55v.55h-.55zM65.0 265.4h.55v.55h-.55zM68.2 249.9h.55v.55h-.55zM67.5 229.9h.55v.55h-.55zM70.9 242.3h.55v.55h-.55zM70.6 230.4h.55v.55h-.55zM70.7 237.5h.55v.55h-.55zM68.6 259.7h.55v.55h-.55zM68.8 245.9h.55v.55h-.55zM64.4 244.0h.55v.55h-.55zM67.8 272.9h.55v.55h-.55zM72.5 258.2h.55v.55h-.55zM64.3 243.3h.55v.55h-.55zM69.6 270.7h.55v.55h-.55zM69.3 253.2h.55v.55h-.55zM71.5 241.7h.55v.55h-.55zM69.8 248.1h.55v.55h-.55zM72.5 240.5h.55v.55h-.55zM70.3 240.0h.55v.55h-.55zM62.0 235.3h.55v.55h-.55zM72.1 256.5h.55v.55h-.55zM64.4 229.6h.55v.55h-.55zM61.7 248.8h.55v.55h-.55zM72.5 238.8h.55v.55h-.55zM66.1 252.3h.55v.55h-.55zM72.5 245.7h.55v.55h-.55zM68.5 291.8h.55v.55h-.55zM72.5 232.7h.55v.55h-.55zM72.3 254.6h.55v.55h-.55zM72.5 248.6h.55v.55h-.55zM68.9 224.3h.55v.55h-.55zM64.1 237.6h.55v.55h-.55zM69.1 247.6h.55v.55h-.55zM66.6 274.2h.55v.55h-.55zM66.3 254.1h.55v.55h-.55zM61.7 233.5h.55v.55h-.55zM66.4 244.5h.55v.55h-.55zM66.7 242.5h.55v.55h-.55zM63.0 235.6h.55v.55h-.55zM67.3 316.5h.55v.55h-.55zM61.7 242.0h.55v.55h-.55zM72.3 248.0h.55v.55h-.55zM65.9 223.7h.55v.55h-.55zM68.2 224.1h.55v.55h-.55zM66.0 262.6h.55v.55h-.55zM66.0 235.1h.55v.55h-.55zM68.9 231.9h.55v.55h-.55zM70.1 245.6h.55v.55h-.55zM65.6 265.6h.55v.55h-.55zM68.5 251.0h.55v.55h-.55zM72.5 248.9h.55v.55h-.55zM65.1 235.1h.55v.55h-.55zM68.1 251.8h.55v.55h-.55zM65.9 259.7h.55v.55h-.55zM61.9 256.3h.55v.55h-.55zM65.5 239.2h.55v.55h-.55zM68.7 287.0h.55v.55h-.55zM65.4 276.3h.55v.55h-.55zM69.2 244.4h.55v.55h-.55zM71.9 257.1h.55v.55h-.55zM69.3 285.9h.55v.55h-.55zM70.2 261.7h.55v.55h-.55zM68.0 295.5h.55v.55h-.55zM65.9 266.6h.55v.55h-.55zM63.0 250.5h.55v.55h-.55zM70.0 237.4h.55v.55h-.55zM71.5 264.4h.55v.55h-.55zM64.7 225.7h.55v.55h-.55zM68.6 309.9h.55v.55h-.55zM66.1 250.3h.55v.55h-.55zM66.1 259.7h.55v.55h-.55zM68.4 262.8h.55v.55h-.55zM66.6 225.8h.55v.55h-.55zM65.4 221.9h.55v.55h-.55zM66.3 233.7h.55v.55h-.55zM68.0 257.2h.55v.55h-.55zM67.0 316.2h.55v.55h-.55zM65.6 243.6h.55v.55h-.55zM61.7 236.8h.55v.55h-.55zM69.4 241.2h.55v.55h-.55zM67.1 250.1h.55v.55h-.55zM66.6 259.2h.55v.55h-.55zM72.5 250.5h.55v.55h-.55zM61.7 235.6h.55v.55h-.55zM65.0 220.2h.55v.55h-.55zM61.7 245.8h.55v.55h-.55zM62.0 247.4h.55v.55h-.55zM70.4 252.4h.55v.55h-.55zM68.4 239.4h.55v.55h-.55zM65.8 226.6h.55v.55h-.55zM66.0 275.3h.55v.55h-.55zM63.5 261.1h.55v.55h-.55zM72.1 267.9h.55v.55h-.55zM70.7 271.5h.55v.55h-.55zM70.2 260.0h.55v.55h-.55zM71.4 240.7h.55v.55h-.55zM66.3 238.2h.55v.55h-.55zM68.4 222.3h.55v.55h-.55zM70.0 272.6h.55v.55h-.55zM67.9 234.6h.55v.55h-.55zM69.2 250.1h.55v.55h-.55zM67.1 261.5h.55v.55h-.55zM69.3 241.3h.55v.55h-.55zM68.4 253.1h.55v.55h-.55zM62.3 264.7h.55v.55h-.55zM65.6 254.6h.55v.55h-.55zM72.5 249.6h.55v.55h-.55zM65.2 253.4h.55v.55h-.55zM64.5 297.2h.55v.55h-.55zM72.5 243.7h.55v.55h-.55zM72.5 239.3h.55v.55h-.55zM68.4 258.2h.55v.55h-.55zM63.0 236.8h.55v.55h-.55zM66.0 261.1h.55v.55h-.55zM64.1 236.2h.55v.55h-.55zM66.4 256.2h.55v.55h-.55zM65.4 299.1h.55v.55h-.55zM62.9 253.3h.55v.55h-.55zM71.9 252.1h.55v.55h-.55zM68.3 239.4h.55v.55h-.55zM70.1 234.5h.55v.55h-.55zM68.0 251.8h.55v.55h-.55zM67.5 253.5h.55v.55h-.55zM69.5 312.5h.55v.55h-.55zM67.3 273.4h.55v.55h-.55zM67.1 245.5h.55v.55h-.55zM66.4 256.7h.55v.55h-.55zM61.7 260.3h.55v.55h-.55zM63.7 242.6h.55v.55h-.55zM63.2 258.1h.55v.55h-.55zM61.9 256.7h.55v.55h-.55zM63.2 242.9h.55v.55h-.55zM64.7 242.7h.55v.55h-.55zM61.7 247.0h.55v.55h-.55zM68.4 257.8h.55v.55h-.55zM67.3 230.7h.55v.55h-.55zM66.1 246.9h.55v.55h-.55zM72.5 240.2h.55v.55h-.55zM65.0 239.3h.55v.55h-.55zM63.2 232.0h.55v.55h-.55zM65.6 302.4h.55v.55h-.55zM72.5 246.9h.55v.55h-.55zM65.2 246.8h.55v.55h-.55zM64.3 259.5h.55v.55h-.55zM61.7 247.9h.55v.55h-.55zM68.6 248.1h.55v.55h-.55zM66.1 223.3h.55v.55h-.55zM61.7 247.0h.55v.55h-.55zM68.6 261.6h.55v.55h-.55zM70.4 278.2h.55v.55h-.55zM66.9 271.6h.55v.55h-.55zM71.7 254.4h.55v.55h-.55zM68.6 248.3h.55v.55h-.55zM64.4 239.4h.55v.55h-.55z" fill="#707070" fill-opacity="0.5"/>
<path d="M80.2 238.6h.55v.55h-.55zM81.6 265.9h.55v.55h-.55zM84.7 235.8h.55v.55h-.55zM85.0 249.7h.55v.55h-.55zM75.1 236.8h.55v.55h-.55zM83.7 244.4h.55v.55h-.55zM85.3 240.2h.55v.55h-.55zM83.0 251.5h.55v.55h-.55zM79.6 231.4h.55v.55h-.55zM83.8 256.4h.55v.55h-.55zM79.8 246.0h.55v.55h-.55zM83.6 233.3h.55v.55h-.55zM75.6 235.6h.55v.55h-.55zM79.5 245.4h.55v.55h-.55zM76.3 236.7h.55v.55h-.55zM77.8 223.1h.55v.55h-.55zM79.4 242.1h.55v.55h-.55zM83.9 229.3h.55v.55h-.55zM82.0 255.7h.55v.55h-.55zM76.8 239.3h.55v.55h-.55zM80.3 269.7h.55v.55h-.55zM80.0 265.1h.55v.55h-.55zM85.0 241.1h.55v.55h-.55zM79.7 237.6h.55v.55h-.55zM79.9 230.4h.55v.55h-.55zM78.2 237.2h.55v.55h-.55zM77.7 251.7h.55v.55h-.55zM75.8 245.1h.55v.55h-.55zM82.7 244.6h.55v.55h-.55zM80.6 246.7h.55v.55h-.55zM77.8 240.1h.55v.55h-.55zM75.1 243.5h.55v.55h-.55zM78.2 240.4h.55v.55h-.55zM77.0 249.0h.55v.55h-.55zM81.4 293.3h.55v.55h-.55zM85.9 238.0h.55v.55h-.55zM84.6 250.8h.55v.55h-.55zM77.6 234.3h.55v.55h-.55zM79.5 231.3h.55v.55h-.55zM78.4 232.4h.55v.55h-.55zM83.9 238.1h.55v.55h-.55zM79.0 219.8h.55v.55h-.55zM81.0 230.5h.55v.55h-.55zM79.6 253.4h.55v.55h-.55zM80.7 222.5h.55v.55h-.55zM82.0 252.5h.55v.55h-.55zM78.7 240.2h.55v.55h-.55zM76.0 236.7h.55v.55h-.55zM85.9 246.3h.55v.55h-.55zM75.1 229.3h.55v.55h-.55zM82.9 251.0h.55v.55h-.55zM75.5 234.8h.55v.55h-.55zM82.4 240.5h.55v.55h-.55zM78.5 228.7h.55v.55h-.55zM79.9 265.1h.55v.55h-.55zM77.2 259.6h.55v.55h-.55zM80.0 239.1h.55v.55h-.55zM79.4 254.7h.55v.55h-.55zM82.2 270.4h.55v.55h-.55zM83.8 256.5h.55v.55h-.55zM80.2 232.3h.55v.55h-.55zM80.8 234.3h.55v.55h-.55zM82.3 221.5h.55v.55h-.55zM85.9 248.7h.55v.55h-.55zM77.4 243.7h.55v.55h-.55zM76.3 254.5h.55v.55h-.55zM82.1 264.6h.55v.55h-.55zM80.0 232.5h.55v.55h-.55zM81.9 219.2h.55v.55h-.55zM81.4 224.3h.55v.55h-.55zM79.8 253.0h.55v.55h-.55zM79.8 248.4h.55v.55h-.55zM85.9 258.2h.55v.55h-.55zM84.2 227.0h.55v.55h-.55zM79.1 236.4h.55v.55h-.55zM83.0 235.7h.55v.55h-.55zM79.6 246.6h.55v.55h-.55zM75.1 245.4h.55v.55h-.55zM81.8 250.3h.55v.55h-.55zM82.6 231.2h.55v.55h-.55zM83.4 245.7h.55v.55h-.55zM83.6 250.8h.55v.55h-.55zM79.0 248.8h.55v.55h-.55zM75.1 244.5h.55v.55h-.55zM81.8 247.6h.55v.55h-.55zM75.1 236.5h.55v.55h-.55zM80.6 268.1h.55v.55h-.55zM77.0 235.1h.55v.55h-.55zM75.1 248.0h.55v.55h-.55zM77.6 236.7h.55v.55h-.55zM84.6 233.9h.55v.55h-.55zM79.3 227.2h.55v.55h-.55zM75.1 234.3h.55v.55h-.55zM75.1 242.9h.55v.55h-.55zM75.1 245.3h.55v.55h-.55zM78.0 258.8h.55v.55h-.55zM80.5 241.7h.55v.55h-.55zM85.9 246.1h.55v.55h-.55zM75.1 235.8h.55v.55h-.55zM83.7 227.6h.55v.55h-.55zM76.6 239.0h.55v.55h-.55zM77.9 266.1h.55v.55h-.55zM79.3 258.6h.55v.55h-.55zM76.0 260.9h.55v.55h-.55zM81.0 261.8h.55v.55h-.55zM84.3 252.4h.55v.55h-.55zM79.8 245.5h.55v.55h-.55zM84.3 258.2h.55v.55h-.55zM82.2 272.2h.55v.55h-.55zM85.9 235.4h.55v.55h-.55zM82.0 242.3h.55v.55h-.55zM76.2 238.2h.55v.55h-.55zM82.2 263.5h.55v.55h-.55zM80.6 240.8h.55v.55h-.55zM85.2 248.5h.55v.55h-.55zM79.5 252.5h.55v.55h-.55zM76.8 244.6h.55v.55h-.55zM85.9 247.4h.55v.55h-.55zM80.2 233.3h.55v.55h-.55zM79.0 248.6h.55v.55h-.55zM80.9 254.0h.55v.55h-.55zM79.7 263.3h.55v.55h-.55zM80.2 226.0h.55v.55h-.55zM85.9 243.7h.55v.55h-.55zM77.7 233.7h.55v.55h-.55zM83.5 280.4h.55v.55h-.55zM84.9 232.4h.55v.55h-.55zM84.5 231.8h.55v.55h-.55zM82.3 265.4h.55v.55h-.55zM82.1 266.3h.55v.55h-.55zM75.1 236.4h.55v.55h-.55zM78.6 259.5h.55v.55h-.55zM79.6 233.0h.55v.55h-.55zM85.9 244.0h.55v.55h-.55zM79.8 250.7h.55v.55h-.55zM83.8 235.1h.55v.55h-.55zM75.5 251.8h.55v.55h-.55zM85.9 235.5h.55v.55h-.55zM80.2 230.0h.55v.55h-.55zM75.5 234.9h.55v.55h-.55zM78.7 251.4h.55v.55h-.55zM77.3 230.8h.55v.55h-.55zM83.1 247.3h.55v.55h-.55zM84.0 256.7h.55v.55h-.55zM82.4 257.6h.55v.55h-.55zM80.5 239.7h.55v.55h-.55zM80.6 237.9h.55v.55h-.55zM85.9 232.7h.55v.55h-.55zM82.8 249.3h.55v.55h-.55zM82.7 257.8h.55v.55h-.55zM83.9 222.9h.55v.55h-.55zM83.5 221.2h.55v.55h-.55zM83.1 259.1h.55v.55h-.55zM75.1 247.8h.55v.55h-.55zM83.5 246.6h.55v.55h-.55zM78.1 240.1h.55v.55h-.55zM81.6 241.4h.55v.55h-.55zM84.4 254.5h.55v.55h-.55zM81.6 242.5h.55v.55h-.55zM81.1 255.0h.55v.55h-.55zM76.4 245.0h.55v.55h-.55zM75.1 239.2h.55v.55h-.55zM75.1 234.7h.55v.55h-.55zM84.9 237.0h.55v.55h-.55zM85.8 252.9h.55v.55h-.55zM79.0 229.3h.55v.55h-.55zM81.2 258.6h.55v.55h-.55zM83.3 237.4h.55v.55h-.55zM79.1 242.8h.55v.55h-.55zM80.1 267.5h.55v.55h-.55zM78.1 242.9h.55v.55h-.55zM79.9 252.4h.55v.55h-.55zM77.3 239.7h.55v.55h-.55zM85.1 250.7h.55v.55h-.55zM84.2 242.1h.55v.55h-.55zM80.5 250.8h.55v.55h-.55zM84.2 256.1h.55v.55h-.55zM82.5 230.9h.55v.55h-.55zM77.8 291.1h.55v.55h-.55zM78.6 238.8h.55v.55h-.55zM85.0 256.7h.55v.55h-.55zM81.4 246.4h.55v.55h-.55zM78.0 237.8h.55v.55h-.55zM80.0 259.1h.55v.55h-.55zM78.8 238.5h.55v.55h-.55zM83.6 235.5h.55v.55h-.55zM75.1 239.8h.55v.55h-.55zM84.1 225.5h.55v.55h-.55zM80.2 222.1h.55v.55h-.55zM84.7 232.6h.55v.55h-.55zM83.2 246.0h.55v.55h-.55zM85.9 244.3h.55v.55h-.55zM81.6 231.4h.55v.55h-.55zM84.4 226.3h.55v.55h-.55zM78.6 242.6h.55v.55h-.55zM81.2 233.8h.55v.55h-.55zM79.3 233.4h.55v.55h-.55zM80.8 247.2h.55v.55h-.55zM82.3 251.2h.55v.55h-.55zM85.9 245.3h.55v.55h-.55zM81.3 248.4h.55v.55h-.55zM82.3 248.2h.55v.55h-.55zM85.7 255.5h.55v.55h-.55zM82.3 256.0h.55v.55h-.55zM75.9 245.4h.55v.55h-.55zM82.4 259.5h.55v.55h-.55zM85.0 247.2h.55v.55h-.55zM79.8 238.4h.55v.55h-.55zM79.2 262.8h.55v.55h-.55zM75.8 231.7h.55v.55h-.55zM82.1 253.1h.55v.55h-.55zM85.0 225.9h.55v.55h-.55zM80.7 242.9h.55v.55h-.55zM83.3 243.7h.55v.55h-.55zM79.5 250.9h.55v.55h-.55zM85.9 249.8h.55v.55h-.55zM75.1 245.0h.55v.55h-.55zM80.7 243.3h.55v.55h-.55zM85.9 237.5h.55v.55h-.55zM78.9 234.2h.55v.55h-.55zM84.4 239.8h.55v.55h-.55zM82.4 294.0h.55v.55h-.55zM80.4 236.4h.55v.55h-.55zM82.6 248.4h.55v.55h-.55zM79.7 256.2h.55v.55h-.55zM75.1 251.3h.55v.55h-.55zM75.1 242.0h.55v.55h-.55zM78.2 222.7h.55v.55h-.55zM75.1 236.9h.55v.55h-.55zM79.6 222.7h.55v.55h-.55zM82.3 259.8h.55v.55h-.55zM80.7 231.8h.55v.55h-.55zM84.5 230.5h.55v.55h-.55zM77.2 232.1h.55v.55h-.55zM79.7 248.9h.55v.55h-.55zM80.6 237.4h.55v.55h-.55zM85.9 247.7h.55v.55h-.55zM81.5 236.0h.55v.55h-.55zM85.1 235.3h.55v.55h-.55zM75.1 238.0h.55v.55h-.55zM75.1 239.7h.55v.55h-.55zM79.5 225.6h.55v.55h-.55zM76.0 258.1h.55v.55h-.55zM83.4 237.0h.55v.55h-.55zM83.0 266.8h.55v.55h-.55zM80.5 248.2h.55v.55h-.55zM82.6 230.5h.55v.55h-.55zM75.7 242.0h.55v.55h-.55zM76.5 254.6h.55v.55h-.55zM83.1 233.9h.55v.55h-.55zM85.9 250.8h.55v.55h-.55zM80.0 238.0h.55v.55h-.55zM80.7 239.6h.55v.55h-.55zM83.3 238.5h.55v.55h-.55zM79.1 241.8h.55v.55h-.55zM76.9 238.6h.55v.55h-.55zM82.3 242.7h.55v.55h-.55zM75.1 246.1h.55v.55h-.55zM75.1 236.1h.55v.55h-.55zM82.7 243.4h.55v.55h-.55zM78.2 258.5h.55v.55h-.55zM75.4 261.2h.55v.55h-.55zM75.6 252.2h.55v.55h-.55zM79.7 251.5h.55v.55h-.55zM83.5 242.3h.55v.55h-.55zM80.0 254.9h.55v.55h-.55zM78.0 238.1h.55v.55h-.55zM85.6 243.9h.55v.55h-.55zM85.9 236.7h.55v.55h-.55zM77.1 254.5h.55v.55h-.55zM85.9 252.5h.55v.55h-.55zM80.2 251.8h.55v.55h-.55zM76.7 247.4h.55v.55h-.55zM80.6 264.1h.55v.55h-.55zM79.5 234.4h.55v.55h-.55zM77.2 231.4h.55v.55h-.55zM77.3 234.9h.55v.55h-.55zM85.9 230.1h.55v.55h-.55zM79.6 240.6h.55v.55h-.55zM83.4 234.8h.55v.55h-.55zM79.0 233.3h.55v.55h-.55zM84.6 233.7h.55v.55h-.55zM79.2 273.5h.55v.55h-.55zM85.9 234.9h.55v.55h-.55zM79.7 225.9h.55v.55h-.55zM77.5 272.8h.55v.55h-.55zM79.8 239.3h.55v.55h-.55zM78.2 241.0h.55v.55h-.55zM82.5 240.4h.55v.55h-.55zM79.5 226.9h.55v.55h-.55zM82.8 245.2h.55v.55h-.55zM80.8 268.7h.55v.55h-.55zM75.9 228.7h.55v.55h-.55zM83.0 248.0h.55v.55h-.55zM82.0 246.4h.55v.55h-.55zM79.0 243.7h.55v.55h-.55zM77.9 231.8h.55v.55h-.55zM80.0 240.7h.55v.55h-.55zM80.0 224.5h.55v.55h-.55zM75.1 238.6h.55v.55h-.55zM80.4 263.1h.55v.55h-.55zM85.9 249.2h.55v.55h-.55zM80.7 236.3h.55v.55h-.55zM80.1 224.6h.55v.55h-.55zM81.1 233.2h.55v.55h-.55zM79.5 288.3h.55v.55h-.55zM79.8 231.4h.55v.55h-.55zM79.0 237.4h.55v.55h-.55zM77.8 240.1h.55v.55h-.55zM83.0 236.8h.55v.55h-.55zM84.9 248.0h.55v.55h-.55zM82.1 230.3h.55v.55h-.55zM79.7 244.9h.55v.55h-.55zM80.6 228.7h.55v.55h-.55zM81.4 220.1h.55v.55h-.55zM83.6 237.0h.55v.55h-.55zM80.0 244.7h.55v.55h-.55zM80.5 287.9h.55v.55h-.55zM81.3 259.0h.55v.55h-.55zM80.3 252.1h.55v.55h-.55zM83.4 252.1h.55v.55h-.55zM85.0 256.5h.55v.55h-.55zM82.1 249.3h.55v.55h-.55zM75.3 257.2h.55v.55h-.55zM79.9 263.0h.55v.55h-.55zM77.2 233.7h.55v.55h-.55zM78.5 254.2h.55v.55h-.55zM79.5 243.1h.55v.55h-.55zM77.7 230.1h.55v.55h-.55zM85.9 240.2h.55v.55h-.55zM81.4 236.8h.55v.55h-.55zM79.4 238.2h.55v.55h-.55zM84.8 235.1h.55v.55h-.55zM75.1 236.9h.55v.55h-.55zM79.3 238.0h.55v.55h-.55zM85.0 246.4h.55v.55h-.55zM79.3 244.3h.55v.55h-.55zM80.7 223.1h.55v.55h-.55zM81.8 289.4h.55v.55h-.55zM81.7 254.6h.55v.55h-.55zM76.1 252.3h.55v.55h-.55zM84.0 237.5h.55v.55h-.55zM78.4 250.8h.55v.55h-.55zM78.7 228.8h.55v.55h-.55zM75.3 257.4h.55v.55h-.55zM78.6 264.0h.55v.55h-.55zM81.4 257.4h.55v.55h-.55zM75.7 225.2h.55v.55h-.55zM78.8 233.9h.55v.55h-.55zM76.9 262.7h.55v.55h-.55zM85.9 237.1h.55v.55h-.55zM85.3 254.9h.55v.55h-.55zM81.1 228.7h.55v.55h-.55zM77.2 235.2h.55v.55h-.55zM85.9 237.3h.55v.55h-.55zM81.9 245.0h.55v.55h-.55zM78.6 225.4h.55v.55h-.55zM79.4 232.1h.55v.55h-.55zM80.2 222.0h.55v.55h-.55zM81.8 241.9h.55v.55h-.55zM80.4 252.0h.55v.55h-.55zM83.5 255.4h.55v.55h-.55zM77.7 244.5h.55v.55h-.55zM80.2 220.5h.55v.55h-.55zM83.1 241.7h.55v.55h-.55zM79.7 248.0h.55v.55h-.55zM81.3 231.9h.55v.55h-.55zM77.7 227.0h.55v.55h-.55zM79.6 246.2h.55v.55h-.55zM81.9 236.5h.55v.55h-.55zM84.1 238.0h.55v.55h-.55zM75.1 239.8h.55v.55h-.55zM82.6 243.3h.55v.55h-.55zM75.1 244.4h.55v.55h-.55zM80.5 229.7h.55v.55h-.55zM83.9 233.0h.55v.55h-.55zM78.5 240.8h.55v.55h-.55zM79.3 237.2h.55v.55h-.55zM79.3 249.9h.55v.55h-.55zM85.9 247.5h.55v.55h-.55z" fill="#707070" fill-opacity="0.5"/>
<path d="M93.8 287.1h.55v.55h-.55zM94.8 235.5h.55v.55h-.55zM88.9 234.0h.55v.55h-.55zM92.1 290.6h.55v.55h-.55zM93.0 226.1h.55v.55h-.55zM96.9 236.9h.55v.55h-.55zM99.5 237.5h.55v.55h-.55zM93.6 243.7h.55v.55h-.55zM97.1 222.2h.55v.55h-.55zM93.0 233.1h.55v.55h-.55zM98.3 231.3h.55v.55h-.55zM97.2 241.1h.55v.55h-.55zM99.5 234.9h.55v.55h-.55zM88.7 238.9h.55v.55h-.55zM92.3 225.4h.55v.55h-.55zM91.7 235.3h.55v.55h-.55zM89.1 250.2h.55v.55h-.55zM90.8 240.4h.55v.55h-.55zM91.5 238.4h.55v.55h-.55zM90.1 235.5h.55v.55h-.55zM92.3 303.4h.55v.55h-.55zM91.4 242.8h.55v.55h-.55zM88.7 232.1h.55v.55h-.55zM98.8 243.3h.55v.55h-.55zM88.7 228.9h.55v.55h-.55zM93.0 228.1h.55v.55h-.55zM95.6 250.1h.55v.55h-.55zM90.0 232.4h.55v.55h-.55zM90.0 235.8h.55v.55h-.55zM95.1 225.3h.55v.55h-.55zM95.0 257.7h.55v.55h-.55zM90.2 231.2h.55v.55h-.55zM94.8 256.7h.55v.55h-.55zM98.3 223.3h.55v.55h-.55zM99.5 248.8h.55v.55h-.55zM94.1 230.6h.55v.55h-.55zM88.7 237.5h.55v.55h-.55zM99.0 229.3h.55v.55h-.55zM92.5 265.5h.55v.55h-.55zM95.7 239.6h.55v.55h-.55zM89.5 247.4h.55v.55h-.55zM90.2 224.7h.55v.55h-.55zM91.7 235.9h.55v.55h-.55zM91.3 234.6h.55v.55h-.55zM92.5 243.4h.55v.55h-.55zM99.5 245.8h.55v.55h-.55zM93.1 234.4h.55v.55h-.55zM91.4 234.7h.55v.55h-.55zM95.8 247.8h.55v.55h-.55zM92.5 238.2h.55v.55h-.55zM92.0 257.9h.55v.55h-.55zM94.9 244.2h.55v.55h-.55zM96.0 238.6h.55v.55h-.55zM90.5 231.7h.55v.55h-.55zM95.6 228.1h.55v.55h-.55zM97.9 250.0h.55v.55h-.55zM93.2 221.5h.55v.55h-.55zM97.2 231.1h.55v.55h-.55zM97.1 234.1h.55v.55h-.55zM94.6 258.2h.55v.55h-.55zM93.3 236.6h.55v.55h-.55zM95.8 232.5h.55v.55h-.55zM95.0 217.0h.55v.55h-.55zM93.4 236.2h.55v.55h-.55zM94.5 280.9h.55v.55h-.55zM94.8 227.6h.55v.55h-.55zM97.1 225.8h.55v.55h-.55zM91.2 299.2h.55v.55h-.55zM88.7 234.0h.55v.55h-.55zM92.9 239.2h.55v.55h-.55zM91.9 218.5h.55v.55h-.55zM96.9 231.0h.55v.55h-.55zM99.0 236.1h.55v.55h-.55zM93.6 244.5h.55v.55h-.55zM88.7 237.8h.55v.55h-.55zM90.0 245.6h.55v.55h-.55zM99.5 231.8h.55v.55h-.55zM91.0 229.5h.55v.55h-.55zM99.5 227.1h.55v.55h-.55zM99.5 231.5h.55v.55h-.55zM99.2 220.1h.55v.55h-.55zM99.5 231.1h.55v.55h-.55zM94.7 229.5h.55v.55h-.55zM95.8 240.4h.55v.55h-.55zM93.2 250.3h.55v.55h-.55zM92.9 247.0h.55v.55h-.55zM88.7 234.0h.55v.55h-.55zM97.2 228.2h.55v.55h-.55zM90.3 282.6h.55v.55h-.55zM94.2 250.8h.55v.55h-.55zM99.5 236.2h.55v.55h-.55zM93.8 221.1h.55v.55h-.55zM90.5 252.3h.55v.55h-.55zM88.7 228.6h.55v.55h-.55zM93.4 239.3h.55v.55h-.55zM93.6 232.4h.55v.55h-.55zM91.7 305.0h.55v.55h-.55zM89.3 230.7h.55v.55h-.55zM93.4 257.8h.55v.55h-.55zM99.5 238.2h.55v.55h-.55zM93.9 229.4h.55v.55h-.55zM93.1 254.3h.55v.55h-.55zM99.3 227.9h.55v.55h-.55zM90.0 229.3h.55v.55h-.55zM92.0 248.5h.55v.55h-.55zM97.2 244.1h.55v.55h-.55zM91.8 226.9h.55v.55h-.55zM96.5 229.2h.55v.55h-.55zM94.0 226.7h.55v.55h-.55zM99.5 229.7h.55v.55h-.55zM93.0 226.2h.55v.55h-.55zM99.5 242.5h.55v.55h-.55zM95.7 241.7h.55v.55h-.55zM94.1 224.0h.55v.55h-.55zM95.4 240.5h.55v.55h-.55zM91.2 237.4h.55v.55h-.55zM92.0 232.4h.55v.55h-.55zM90.9 248.9h.55v.55h-.55zM99.5 236.4h.55v.55h-.55zM88.7 247.4h.55v.55h-.55zM91.9 217.2h.55v.55h-.55zM99.1 238.8h.55v.55h-.55zM94.7 224.0h.55v.55h-.55zM93.6 245.4h.55v.55h-.55zM96.5 228.4h.55v.55h-.55zM88.7 231.7h.55v.55h-.55zM92.3 225.4h.55v.55h-.55zM96.2 232.8h.55v.55h-.55zM96.1 226.9h.55v.55h-.55zM95.2 218.2h.55v.55h-.55zM99.5 233.8h.55v.55h-.55zM89.3 253.7h.55v.55h-.55zM95.3 292.8h.55v.55h-.55zM89.5 242.6h.55v.55h-.55zM99.5 250.5h.55v.55h-.55zM98.0 251.6h.55v.55h-.55zM99.2 239.8h.55v.55h-.55zM93.0 249.2h.55v.55h-.55zM88.7 233.9h.55v.55h-.55zM90.2 233.4h.55v.55h-.55zM95.3 245.9h.55v.55h-.55zM91.6 228.6h.55v.55h-.55zM94.2 229.4h.55v.55h-.55zM99.5 225.6h.55v.55h-.55zM92.9 232.7h.55v.55h-.55zM95.9 236.3h.55v.55h-.55zM97.7 239.1h.55v.55h-.55zM91.6 230.6h.55v.55h-.55zM90.1 237.3h.55v.55h-.55zM99.5 231.9h.55v.55h-.55zM94.5 271.5h.55v.55h-.55zM88.7 233.5h.55v.55h-.55zM93.7 286.8h.55v.55h-.55zM94.1 252.1h.55v.55h-.55zM95.5 247.6h.55v.55h-.55zM96.4 246.8h.55v.55h-.55zM93.8 221.2h.55v.55h-.55zM92.3 290.3h.55v.55h-.55zM95.1 224.8h.55v.55h-.55zM96.3 239.1h.55v.55h-.55zM95.4 213.9h.55v.55h-.55zM93.9 255.5h.55v.55h-.55zM90.6 216.9h.55v.55h-.55zM92.7 244.9h.55v.55h-.55zM96.8 229.9h.55v.55h-.55zM93.6 231.9h.55v.55h-.55zM92.7 246.5h.55v.55h-.55zM99.5 229.6h.55v.55h-.55zM98.9 227.4h.55v.55h-.55zM95.9 236.8h.55v.55h-.55zM93.6 225.0h.55v.55h-.55zM97.1 224.5h.55v.55h-.55zM94.8 242.8h.55v.55h-.55zM94.6 245.9h.55v.55h-.55zM92.2 238.3h.55v.55h-.55zM88.7 223.9h.55v.55h-.55zM97.6 233.5h.55v.55h-.55zM97.7 230.5h.55v.55h-.55zM92.3 230.4h.55v.55h-.55zM89.9 241.5h.55v.55h-.55zM89.8 233.8h.55v.55h-.55zM92.5 219.6h.55v.55h-.55zM98.2 228.2h.55v.55h-.55zM95.9 249.6h.55v.55h-.55zM94.0 242.1h.55v.55h-.55zM92.1 244.3h.55v.55h-.55zM90.6 244.9h.55v.55h-.55zM92.1 248.7h.55v.55h-.55zM96.0 252.5h.55v.55h-.55zM91.6 240.2h.55v.55h-.55zM94.7 229.9h.55v.55h-.55zM93.2 246.1h.55v.55h-.55zM99.5 229.4h.55v.55h-.55zM92.2 235.2h.55v.55h-.55zM94.7 227.4h.55v.55h-.55zM95.9 226.9h.55v.55h-.55zM99.5 226.1h.55v.55h-.55zM89.7 241.7h.55v.55h-.55zM91.6 231.3h.55v.55h-.55zM88.7 245.2h.55v.55h-.55zM92.1 236.1h.55v.55h-.55zM88.7 229.4h.55v.55h-.55zM89.9 235.3h.55v.55h-.55zM90.4 253.6h.55v.55h-.55zM96.2 235.4h.55v.55h-.55zM92.0 224.8h.55v.55h-.55zM91.2 236.4h.55v.55h-.55zM96.0 231.9h.55v.55h-.55zM98.1 245.0h.55v.55h-.55zM91.9 236.4h.55v.55h-.55zM99.5 233.7h.55v.55h-.55zM88.7 238.0h.55v.55h-.55zM98.2 227.8h.55v.55h-.55zM88.9 241.1h.55v.55h-.55zM99.5 221.0h.55v.55h-.55zM91.6 229.6h.55v.55h-.55zM95.7 236.0h.55v.55h-.55zM95.5 230.3h.55v.55h-.55zM94.5 306.2h.55v.55h-.55zM92.9 223.2h.55v.55h-.55zM98.5 233.2h.55v.55h-.55zM94.7 247.3h.55v.55h-.55zM94.0 218.9h.55v.55h-.55zM92.8 284.0h.55v.55h-.55zM91.6 238.1h.55v.55h-.55zM99.5 235.0h.55v.55h-.55zM88.9 237.6h.55v.55h-.55zM91.8 216.1h.55v.55h-.55zM89.8 239.8h.55v.55h-.55zM92.8 244.7h.55v.55h-.55zM89.7 257.9h.55v.55h-.55zM95.9 298.8h.55v.55h-.55zM91.3 229.8h.55v.55h-.55zM93.9 258.4h.55v.55h-.55zM96.9 240.1h.55v.55h-.55zM91.4 217.7h.55v.55h-.55zM99.5 222.0h.55v.55h-.55zM97.6 239.5h.55v.55h-.55zM96.0 245.1h.55v.55h-.55zM95.3 243.0h.55v.55h-.55zM92.7 220.8h.55v.55h-.55zM97.8 241.2h.55v.55h-.55zM96.2 233.4h.55v.55h-.55zM92.8 234.0h.55v.55h-.55zM95.6 227.0h.55v.55h-.55zM99.5 236.9h.55v.55h-.55zM96.6 224.6h.55v.55h-.55zM95.6 247.2h.55v.55h-.55zM97.1 244.5h.55v.55h-.55zM92.2 248.7h.55v.55h-.55zM95.7 298.0h.55v.55h-.55zM88.7 245.6h.55v.55h-.55zM95.0 218.8h.55v.55h-.55zM90.9 246.6h.55v.55h-.55zM97.6 236.6h.55v.55h-.55zM93.6 222.3h.55v.55h-.55zM90.1 234.8h.55v.55h-.55zM96.1 270.2h.55v.55h-.55zM90.3 232.6h.55v.55h-.55zM92.0 228.0h.55v.55h-.55zM88.7 241.3h.55v.55h-.55zM93.7 223.7h.55v.55h-.55zM95.3 232.6h.55v.55h-.55zM95.1 286.5h.55v.55h-.55zM88.7 225.6h.55v.55h-.55zM96.9 277.1h.55v.55h-.55zM98.9 241.9h.55v.55h-.55zM95.1 255.9h.55v.55h-.55zM94.9 241.7h.55v.55h-.55zM88.7 240.5h.55v.55h-.55zM88.7 225.6h.55v.55h-.55zM96.0 283.4h.55v.55h-.55zM94.4 212.6h.55v.55h-.55zM89.9 236.7h.55v.55h-.55zM88.7 248.0h.55v.55h-.55zM92.5 240.7h.55v.55h-.55zM88.7 229.9h.55v.55h-.55zM92.0 231.4h.55v.55h-.55zM91.1 249.7h.55v.55h-.55zM96.0 254.0h.55v.55h-.55zM95.9 251.3h.55v.55h-.55zM94.6 277.7h.55v.55h-.55zM94.2 247.8h.55v.55h-.55zM92.2 299.3h.55v.55h-.55zM93.7 274.1h.55v.55h-.55zM88.7 229.9h.55v.55h-.55zM95.5 239.5h.55v.55h-.55zM89.9 251.4h.55v.55h-.55zM99.5 225.9h.55v.55h-.55zM88.7 232.5h.55v.55h-.55zM97.6 217.1h.55v.55h-.55zM97.1 236.2h.55v.55h-.55zM91.7 237.9h.55v.55h-.55zM92.1 241.6h.55v.55h-.55zM94.4 246.4h.55v.55h-.55zM93.7 279.7h.55v.55h-.55zM93.6 240.0h.55v.55h-.55zM97.8 228.4h.55v.55h-.55zM97.1 242.9h.55v.55h-.55zM99.5 240.4h.55v.55h-.55zM94.5 248.5h.55v.55h-.55zM97.6 235.0h.55v.55h-.55zM96.5 232.6h.55v.55h-.55zM93.1 225.5h.55v.55h-.55zM99.5 246.7h.55v.55h-.55zM91.3 238.5h.55v.55h-.55zM93.5 234.7h.55v.55h-.55zM94.8 225.2h.55v.55h-.55zM98.3 233.2h.55v.55h-.55zM88.7 238.1h.55v.55h-.55zM96.3 243.5h.55v.55h-.55zM94.0 243.9h.55v.55h-.55zM95.2 225.3h.55v.55h-.55zM90.0 239.4h.55v.55h-.55zM92.3 254.7h.55v.55h-.55zM93.3 273.4h.55v.55h-.55zM93.9 240.5h.55v.55h-.55zM99.5 233.7h.55v.55h-.55zM95.1 216.8h.55v.55h-.55zM98.3 248.8h.55v.55h-.55zM90.8 256.6h.55v.55h-.55zM96.0 220.2h.55v.55h-.55zM94.3 242.6h.55v.55h-.55zM93.0 239.6h.55v.55h-.55zM94.1 230.7h.55v.55h-.55zM92.8 248.0h.55v.55h-.55zM98.5 232.2h.55v.55h-.55zM95.8 246.2h.55v.55h-.55zM95.0 221.2h.55v.55h-.55zM99.5 225.0h.55v.55h-.55zM95.2 235.7h.55v.55h-.55zM94.1 221.6h.55v.55h-.55zM99.0 255.1h.55v.55h-.55zM94.0 260.1h.55v.55h-.55zM93.0 239.1h.55v.55h-.55zM89.3 250.9h.55v.55h-.55zM94.4 230.3h.55v.55h-.55zM96.5 236.1h.55v.55h-.55zM89.3 221.8h.55v.55h-.55zM99.5 249.4h.55v.55h-.55zM92.6 251.6h.55v.55h-.55zM88.7 230.7h.55v.55h-.55zM91.4 239.4h.55v.55h-.55zM88.7 232.5h.55v.55h-.55zM89.7 225.2h.55v.55h-.55zM90.2 258.1h.55v.55h-.55zM90.8 225.1h.55v.55h-.55zM99.5 241.3h.55v.55h-.55zM99.5 225.5h.55v.55h-.55zM88.7 235.0h.55v.55h-.55zM90.4 232.6h.55v.55h-.55zM91.0 258.9h.55v.55h-.55zM94.2 223.4h.55v.55h-.55zM98.6 228.6h.55v.55h-.55zM91.9 233.0h.55v.55h-.55zM99.5 230.4h.55v.55h-.55zM91.8 245.2h.55v.55h-.55zM93.0 231.1h.55v.55h-.55zM88.9 236.3h.55v.55h-.55zM89.4 238.8h.55v.55h-.55zM96.6 248.1h.55v.55h-.55zM88.7 239.6h.55v.55h-.55zM92.5 239.5h.55v.55h-.55zM99.5 239.5h.55v.55h-.55zM91.9 236.1h.55v.55h-.55zM97.8 235.0h.55v.55h-.55zM98.2 227.6h.55v.55h-.55zM88.7 232.9h.55v.55h-.55zM89.4 243.8h.55v.55h-.55zM93.6 228.7h.55v.55h-.55zM91.9 237.3h.55v.55h-.55zM96.5 247.7h.55v.55h-.55zM88.9 228.9h.55v.55h-.55zM90.7 239.6h.55v.55h-.55zM94.9 254.9h.55v.55h-.55zM91.1 235.7h.55v.55h-.55zM88.7 234.5h.55v.55h-.55zM94.7 225.3h.55v.55h-.55zM90.5 243.8h.55v.55h-.55zM88.8 234.9h.55v.55h-.55z" fill="#707070" fill-opacity="0.5"/>
<path d="M105.6 248.0h.55v.55h-.55zM103.5 275.6h.55v.55h-.55zM105.5 272.1h.55v.55h-.55zM106.6 260.7h.55v.55h-.55zM106.5 249.1h.55v.55h-.55zM112.0 256.1h.55v.55h-.55zM113.0 252.9h.55v.55h-.55zM105.0 258.3h.55v.55h-.55zM105.3 252.7h.55v.55h-.55zM113.0 250.2h.55v.55h-.55zM111.3 262.0h.55v.55h-.55zM112.7 254.5h.55v.55h-.55zM113.0 261.0h.55v.55h-.55zM106.1 247.4h.55v.55h-.55zM105.2 279.3h.55v.55h-.55zM107.3 251.5h.55v.55h-.55zM102.2 256.2h.55v.55h-.55zM109.4 276.8h.55v.55h-.55zM111.3 238.6h.55v.55h-.55zM110.2 280.9h.55v.55h-.55zM112.6 254.6h.55v.55h-.55zM103.4 267.9h.55v.55h-.55zM107.6 253.0h.55v.55h-.55zM107.4 231.2h.55v.55h-.55zM102.2 263.2h.55v.55h-.55zM113.0 257.0h.55v.55h-.55zM102.2 258.0h.55v.55h-.55zM110.7 268.9h.55v.55h-.55zM112.7 242.1h.55v.55h-.55zM102.2 246.8h.55v.55h-.55zM102.2 261.2h.55v.55h-.55zM113.0 250.5h.55v.55h-.55zM102.2 261.9h.55v.55h-.55zM105.3 259.1h.55v.55h-.55zM102.7 246.9h.55v.55h-.55zM106.1 272.5h.55v.55h-.55zM113.0 256.1h.55v.55h-.55zM102.2 257.8h.55v.55h-.55zM110.5 276.2h.55v.55h-.55zM110.5 244.5h.55v.55h-.55zM108.8 248.5h.55v.55h-.55zM104.2 268.5h.55v.55h-.55zM102.5 280.4h.55v.55h-.55zM110.8 277.4h.55v.55h-.55zM106.7 264.0h.55v.55h-.55zM110.7 270.0h.55v.55h-.55zM112.9 239.6h.55v.55h-.55zM103.4 259.4h.55v.55h-.55zM112.3 278.9h.55v.55h-.55zM107.6 244.9h.55v.55h-.55zM111.8 253.9h.55v.55h-.55zM108.1 249.4h.55v.55h-.55zM110.8 255.7h.55v.55h-.55zM113.0 265.2h.55v.55h-.55zM105.1 268.2h.55v.55h-.55zM102.2 246.5h.55v.55h-.55zM107.1 267.0h.55v.55h-.55zM106.0 262.3h.55v.55h-.55zM108.0 250.5h.55v.55h-.55zM105.2 257.3h.55v.55h-.55zM105.9 240.9h.55v.55h-.55zM108.2 281.6h.55v.55h-.55zM109.4 264.8h.55v.55h-.55zM102.2 254.1h.55v.55h-.55zM104.2 249.8h.55v.55h-.55zM113.0 250.8h.55v.55h-.55zM108.4 268.9h.55v.55h-.55zM108.9 242.8h.55v.55h-.55zM108.7 229.7h.55v.55h-.55zM110.0 246.3h.55v.55h-.55zM109.7 261.8h.55v.55h-.55zM110.4 256.6h.55v.55h-.55zM109.5 249.2h.55v.55h-.55zM113.0 246.2h.55v.55h-.55zM107.6 243.1h.55v.55h-.55zM111.4 247.1h.55v.55h-.55zM113.0 262.2h.55v.55h-.55zM108.4 297.4h.55v.55h-.55zM112.3 260.3h.55v.55h-.55zM102.2 269.4h.55v.55h-.55zM104.1 264.4h.55v.55h-.55zM111.0 266.2h.55v.55h-.55zM108.2 265.5h.55v.55h-.55zM107.5 251.4h.55v.55h-.55zM112.0 241.2h.55v.55h-.55zM108.6 266.7h.55v.55h-.55zM105.3 238.2h.55v.55h-.55zM109.0 312.4h.55v.55h-.55zM109.1 269.3h.55v.55h-.55zM104.0 285.9h.55v.55h-.55zM106.1 242.9h.55v.55h-.55zM112.1 264.8h.55v.55h-.55zM106.6 277.4h.55v.55h-.55zM111.9 251.5h.55v.55h-.55zM113.0 260.1h.55v.55h-.55zM102.2 255.7h.55v.55h-.55zM108.5 242.9h.55v.55h-.55zM107.7 265.9h.55v.55h-.55zM102.2 257.8h.55v.55h-.55zM107.8 267.1h.55v.55h-.55zM108.4 250.0h.55v.55h-.55zM108.3 248.0h.55v.55h-.55zM110.1 295.3h.55v.55h-.55zM110.2 275.8h.55v.55h-.55zM112.9 250.7h.55v.55h-.55zM108.7 265.3h.55v.55h-.55zM108.1 249.2h.55v.55h-.55zM107.8 240.2h.55v.55h-.55zM102.6 253.2h.55v.55h-.55zM106.8 245.1h.55v.55h-.55zM109.3 251.9h.55v.55h-.55zM108.5 279.2h.55v.55h-.55zM106.4 271.1h.55v.55h-.55zM103.2 247.5h.55v.55h-.55zM110.5 267.0h.55v.55h-.55zM109.3 249.0h.55v.55h-.55zM106.4 279.3h.55v.55h-.55zM104.9 258.2h.55v.55h-.55zM102.2 262.9h.55v.55h-.55zM103.1 257.1h.55v.55h-.55zM108.6 238.9h.55v.55h-.55zM107.6 262.8h.55v.55h-.55zM106.2 264.4h.55v.55h-.55zM110.4 259.4h.55v.55h-.55zM107.0 256.5h.55v.55h-.55zM108.1 251.1h.55v.55h-.55zM102.8 261.9h.55v.55h-.55zM105.9 265.4h.55v.55h-.55zM104.0 268.2h.55v.55h-.55zM103.8 274.4h.55v.55h-.55zM104.9 290.3h.55v.55h-.55zM108.4 319.5h.55v.55h-.55zM108.7 292.5h.55v.55h-.55zM109.4 268.9h.55v.55h-.55zM107.3 245.7h.55v.55h-.55zM110.6 264.9h.55v.55h-.55zM106.7 294.2h.55v.55h-.55zM113.0 252.7h.55v.55h-.55zM105.0 253.1h.55v.55h-.55zM111.0 259.0h.55v.55h-.55zM111.0 271.2h.55v.55h-.55zM109.3 262.5h.55v.55h-.55zM109.5 257.2h.55v.55h-.55zM109.4 245.8h.55v.55h-.55zM107.8 271.5h.55v.55h-.55zM107.2 304.3h.55v.55h-.55zM109.4 280.7h.55v.55h-.55zM110.1 261.7h.55v.55h-.55zM107.9 283.4h.55v.55h-.55zM106.6 277.8h.55v.55h-.55zM103.1 258.2h.55v.55h-.55zM109.0 264.9h.55v.55h-.55zM107.8 240.1h.55v.55h-.55zM104.4 257.3h.55v.55h-.55zM113.0 249.1h.55v.55h-.55zM110.7 251.0h.55v.55h-.55zM110.5 265.0h.55v.55h-.55zM102.2 256.6h.55v.55h-.55zM104.3 258.8h.55v.55h-.55zM113.0 259.5h.55v.55h-.55zM108.2 241.0h.55v.55h-.55zM104.6 278.8h.55v.55h-.55zM107.1 260.8h.55v.55h-.55zM113.0 251.0h.55v.55h-.55zM105.0 306.8h.55v.55h-.55zM102.2 268.3h.55v.55h-.55zM110.9 243.4h.55v.55h-.55zM108.2 274.6h.55v.55h-.55zM109.5 265.2h.55v.55h-.55zM112.6 246.8h.55v.55h-.55zM109.9 282.2h.55v.55h-.55zM105.2 238.5h.55v.55h-.55zM109.1 315.8h.55v.55h-.55zM106.4 262.6h.55v.55h-.55zM113.0 266.7h.55v.55h-.55zM108.5 257.4h.55v.55h-.55zM106.6 239.8h.55v.55h-.55zM107.0 280.4h.55v.55h-.55zM110.7 253.9h.55v.55h-.55zM108.8 269.0h.55v.55h-.55zM113.0 262.9h.55v.55h-.55zM105.2 261.5h.55v.55h-.55zM110.6 270.7h.55v.55h-.55zM113.0 251.7h.55v.55h-.55zM107.7 265.1h.55v.55h-.55zM102.2 252.9h.55v.55h-.55zM103.6 266.2h.55v.55h-.55zM108.6 246.5h.55v.55h-.55zM108.1 242.6h.55v.55h-.55zM113.0 263.3h.55v.55h-.55zM103.1 249.0h.55v.55h-.55zM108.6 260.8h.55v.55h-.55zM107.1 262.3h.55v.55h-.55zM108.4 231.6h.55v.55h-.55zM102.2 254.7h.55v.55h-.55zM104.4 253.2h.55v.55h-.55zM106.1 258.6h.55v.55h-.55zM113.0 266.1h.55v.55h-.55zM107.8 279.8h.55v.55h-.55zM105.9 257.0h.55v.55h-.55z" fill="#707070" fill-opacity="0.5"/>
<path d="M119.9 255.2h.55v.55h-.55zM120.3 261.7h.55v.55h-.55zM123.3 276.4h.55v.55h-.55zM122.6 253.4h.55v.55h-.55zM123.8 259.1h.55v.55h-.55zM118.9 262.2h.55v.55h-.55zM117.0 251.4h.55v.55h-.55zM126.5 248.9h.55v.55h-.55zM115.7 263.5h.55v.55h-.55zM121.0 276.7h.55v.55h-.55zM126.5 259.7h.55v.55h-.55zM121.3 261.0h.55v.55h-.55zM120.7 242.6h.55v.55h-.55zM125.8 267.4h.55v.55h-.55zM120.4 236.4h.55v.55h-.55zM117.1 281.8h.55v.55h-.55zM120.5 242.1h.55v.55h-.55zM116.8 243.8h.55v.55h-.55zM118.1 234.3h.55v.55h-.55zM126.5 256.4h.55v.55h-.55zM122.1 252.3h.55v.55h-.55zM123.8 272.4h.55v.55h-.55zM121.2 265.2h.55v.55h-.55zM124.3 266.5h.55v.55h-.55zM125.8 251.7h.55v.55h-.55zM119.2 228.8h.55v.55h-.55zM115.7 254.7h.55v.55h-.55zM121.8 279.2h.55v.55h-.55zM126.5 266.0h.55v.55h-.55zM124.4 270.4h.55v.55h-.55zM122.2 250.7h.55v.55h-.55zM120.0 260.2h.55v.55h-.55zM117.9 247.8h.55v.55h-.55zM116.8 261.2h.55v.55h-.55zM121.1 255.0h.55v.55h-.55zM125.6 247.1h.55v.55h-.55zM121.8 284.3h.55v.55h-.55zM122.7 271.4h.55v.55h-.55zM118.7 253.0h.55v.55h-.55zM117.2 247.4h.55v.55h-.55zM123.1 242.1h.55v.55h-.55zM115.7 251.3h.55v.55h-.55zM120.9 241.3h.55v.55h-.55zM126.1 266.1h.55v.55h-.55zM125.5 257.7h.55v.55h-.55zM126.5 246.8h.55v.55h-.55zM123.1 249.1h.55v.55h-.55zM117.7 233.9h.55v.55h-.55zM123.1 240.1h.55v.55h-.55zM121.8 250.3h.55v.55h-.55zM121.0 264.9h.55v.55h-.55zM115.7 272.6h.55v.55h-.55zM115.7 245.7h.55v.55h-.55zM117.6 259.4h.55v.55h-.55zM123.1 251.5h.55v.55h-.55zM126.5 247.0h.55v.55h-.55zM117.8 275.0h.55v.55h-.55zM124.6 247.7h.55v.55h-.55zM115.7 262.8h.55v.55h-.55zM115.7 250.7h.55v.55h-.55zM122.1 268.7h.55v.55h-.55zM122.2 248.9h.55v.55h-.55zM120.8 247.8h.55v.55h-.55zM115.7 236.1h.55v.55h-.55zM120.7 260.8h.55v.55h-.55zM119.9 236.4h.55v.55h-.55zM117.8 269.0h.55v.55h-.55zM121.6 254.6h.55v.55h-.55zM122.1 270.2h.55v.55h-.55zM125.0 248.4h.55v.55h-.55zM121.4 274.0h.55v.55h-.55zM124.4 261.8h.55v.55h-.55zM123.5 272.4h.55v.55h-.55zM115.7 272.8h.55v.55h-.55zM119.5 249.3h.55v.55h-.55zM120.4 266.0h.55v.55h-.55zM126.5 263.0h.55v.55h-.55zM119.3 272.5h.55v.55h-.55zM122.4 246.5h.55v.55h-.55zM120.7 257.7h.55v.55h-.55zM123.9 242.8h.55v.55h-.55zM118.8 253.2h.55v.55h-.55zM122.9 268.8h.55v.55h-.55zM122.2 244.5h.55v.55h-.55zM122.6 274.8h.55v.55h-.55zM119.1 257.7h.55v.55h-.55zM118.5 239.2h.55v.55h-.55zM124.4 268.1h.55v.55h-.55zM116.6 248.6h.55v.55h-.55zM119.5 234.2h.55v.55h-.55zM123.5 239.4h.55v.55h-.55zM123.9 240.0h.55v.55h-.55zM121.4 250.8h.55v.55h-.55zM124.6 239.5h.55v.55h-.55zM118.1 255.8h.55v.55h-.55zM126.5 274.1h.55v.55h-.55zM119.1 246.6h.55v.55h-.55zM116.5 247.2h.55v.55h-.55zM122.6 252.8h.55v.55h-.55zM126.3 241.0h.55v.55h-.55zM118.8 249.7h.55v.55h-.55zM118.5 266.0h.55v.55h-.55zM126.5 260.4h.55v.55h-.55zM122.7 259.0h.55v.55h-.55zM117.3 252.1h.55v.55h-.55zM117.5 261.4h.55v.55h-.55zM115.7 252.3h.55v.55h-.55zM121.0 236.6h.55v.55h-.55zM122.6 249.2h.55v.55h-.55zM119.7 269.7h.55v.55h-.55zM115.7 252.5h.55v.55h-.55zM118.3 247.6h.55v.55h-.55zM117.5 244.0h.55v.55h-.55zM125.5 253.1h.55v.55h-.55zM120.4 244.4h.55v.55h-.55zM119.6 251.9h.55v.55h-.55zM120.4 256.1h.55v.55h-.55zM124.1 249.1h.55v.55h-.55zM119.7 253.9h.55v.55h-.55zM115.7 252.1h.55v.55h-.55zM121.3 243.4h.55v.55h-.55zM125.1 253.6h.55v.55h-.55zM120.2 245.0h.55v.55h-.55zM124.5 237.6h.55v.55h-.55zM116.8 243.9h.55v.55h-.55zM115.7 255.5h.55v.55h-.55zM119.1 261.3h.55v.55h-.55zM120.4 272.4h.55v.55h-.55zM123.2 251.1h.55v.55h-.55zM120.7 247.7h.55v.55h-.55zM118.9 255.4h.55v.55h-.55zM119.2 228.6h.55v.55h-.55zM121.9 282.6h.55v.55h-.55zM123.6 264.4h.55v.55h-.55zM115.7 258.4h.55v.55h-.55zM115.7 258.3h.55v.55h-.55zM115.7 249.4h.55v.55h-.55zM120.3 257.8h.55v.55h-.55zM121.9 288.5h.55v.55h-.55zM122.4 251.5h.55v.55h-.55zM123.0 248.5h.55v.55h-.55zM123.2 269.8h.55v.55h-.55zM120.4 282.5h.55v.55h-.55zM118.7 267.8h.55v.55h-.55zM126.5 263.7h.55v.55h-.55zM115.7 251.5h.55v.55h-.55zM115.7 253.0h.55v.55h-.55zM126.5 273.9h.55v.55h-.55zM126.5 271.9h.55v.55h-.55zM122.0 268.8h.55v.55h-.55zM121.0 248.9h.55v.55h-.55zM123.3 268.9h.55v.55h-.55zM124.0 264.0h.55v.55h-.55zM120.5 250.8h.55v.55h-.55zM115.7 256.9h.55v.55h-.55zM122.8 243.4h.55v.55h-.55zM117.4 265.2h.55v.55h-.55zM126.5 253.2h.55v.55h-.55zM126.5 271.2h.55v.55h-.55zM118.5 239.8h.55v.55h-.55zM120.4 278.5h.55v.55h-.55zM123.7 276.7h.55v.55h-.55zM120.0 263.3h.55v.55h-.55zM120.8 239.7h.55v.55h-.55zM125.6 265.0h.55v.55h-.55zM120.2 240.8h.55v.55h-.55zM119.2 263.0h.55v.55h-.55zM119.3 254.2h.55v.55h-.55zM122.3 264.9h.55v.55h-.55zM124.6 275.9h.55v.55h-.55zM115.7 258.6h.55v.55h-.55zM123.7 251.7h.55v.55h-.55zM125.3 258.5h.55v.55h-.55zM116.2 265.9h.55v.55h-.55zM115.7 242.8h.55v.55h-.55zM122.5 260.5h.55v.55h-.55zM117.5 251.8h.55v.55h-.55zM123.4 249.5h.55v.55h-.55zM120.8 241.6h.55v.55h-.55zM121.3 249.7h.55v.55h-.55z" fill="#707070" fill-opacity="0.5"/>
<path d="M135.9 267.0h.55v.55h-.55zM132.1 258.6h.55v.55h-.55zM133.9 259.0h.55v.55h-.55zM137.8 247.4h.55v.55h-.55zM140.2 254.0h.55v.55h-.55zM135.5 253.0h.55v.55h-.55zM139.7 259.8h.55v.55h-.55zM135.3 259.6h.55v.55h-.55zM134.4 238.8h.55v.55h-.55zM133.3 251.0h.55v.55h-.55zM136.4 254.2h.55v.55h-.55zM134.8 244.5h.55v.55h-.55zM134.5 267.4h.55v.55h-.55zM133.8 257.0h.55v.55h-.55zM132.2 253.4h.55v.55h-.55zM136.5 243.8h.55v.55h-.55zM135.3 261.9h.55v.55h-.55zM140.2 241.4h.55v.55h-.55zM132.2 238.0h.55v.55h-.55zM137.2 243.7h.55v.55h-.55zM129.4 237.4h.55v.55h-.55zM139.3 234.0h.55v.55h-.55zM133.6 259.4h.55v.55h-.55zM129.4 258.7h.55v.55h-.55zM129.4 245.1h.55v.55h-.55zM133.6 260.1h.55v.55h-.55zM129.7 247.5h.55v.55h-.55zM137.3 270.7h.55v.55h-.55zM135.0 247.9h.55v.55h-.55zM132.4 265.2h.55v.55h-.55zM133.0 246.1h.55v.55h-.55zM137.4 267.9h.55v.55h-.55zM133.6 270.6h.55v.55h-.55zM131.2 231.5h.55v.55h-.55zM129.4 261.9h.55v.55h-.55zM134.2 242.1h.55v.55h-.55zM129.4 252.3h.55v.55h-.55zM138.2 244.7h.55v.55h-.55zM137.2 254.1h.55v.55h-.55zM139.8 237.5h.55v.55h-.55zM137.4 278.7h.55v.55h-.55zM134.1 252.3h.55v.55h-.55zM134.7 261.6h.55v.55h-.55zM136.8 237.9h.55v.55h-.55zM140.2 247.3h.55v.55h-.55zM129.4 245.0h.55v.55h-.55zM137.0 254.9h.55v.55h-.55zM132.2 257.3h.55v.55h-.55zM129.4 241.4h.55v.55h-.55zM134.6 258.6h.55v.55h-.55zM134.8 263.4h.55v.55h-.55zM133.6 255.9h.55v.55h-.55zM136.2 245.8h.55v.55h-.55zM134.5 250.0h.55v.55h-.55zM133.3 252.6h.55v.55h-.55zM131.9 249.6h.55v.55h-.55zM139.1 248.0h.55v.55h-.55zM134.4 249.3h.55v.55h-.55zM134.0 262.3h.55v.55h-.55zM130.9 232.8h.55v.55h-.55zM137.2 266.2h.55v.55h-.55zM139.1 240.3h.55v.55h-.55zM135.5 252.8h.55v.55h-.55zM129.4 241.0h.55v.55h-.55zM133.3 255.1h.55v.55h-.55zM135.5 257.1h.55v.55h-.55zM129.6 243.9h.55v.55h-.55zM133.8 246.7h.55v.55h-.55zM131.6 237.5h.55v.55h-.55zM133.7 246.6h.55v.55h-.55zM129.4 242.6h.55v.55h-.55zM140.2 247.0h.55v.55h-.55zM138.9 229.3h.55v.55h-.55zM133.0 241.5h.55v.55h-.55zM136.0 247.7h.55v.55h-.55zM136.5 252.5h.55v.55h-.55zM137.4 240.3h.55v.55h-.55zM132.3 260.0h.55v.55h-.55zM131.3 260.6h.55v.55h-.55zM140.2 244.4h.55v.55h-.55zM132.8 246.1h.55v.55h-.55zM134.5 284.6h.55v.55h-.55zM129.4 244.0h.55v.55h-.55zM138.2 245.5h.55v.55h-.55zM130.9 256.9h.55v.55h-.55zM136.7 238.7h.55v.55h-.55zM139.8 262.4h.55v.55h-.55zM133.0 235.7h.55v.55h-.55zM131.9 259.4h.55v.55h-.55zM140.2 252.1h.55v.55h-.55zM140.2 249.5h.55v.55h-.55zM140.2 252.3h.55v.55h-.55zM129.9 253.1h.55v.55h-.55zM139.8 237.3h.55v.55h-.55zM131.9 249.3h.55v.55h-.55zM135.0 256.5h.55v.55h-.55zM131.9 249.1h.55v.55h-.55zM138.3 259.7h.55v.55h-.55zM140.2 243.7h.55v.55h-.55zM135.7 263.1h.55v.55h-.55zM132.0 253.0h.55v.55h-.55zM137.7 253.5h.55v.55h-.55zM137.6 242.6h.55v.55h-.55zM135.7 244.4h.55v.55h-.55zM137.6 239.1h.55v.55h-.55zM129.4 238.3h.55v.55h-.55zM133.0 236.8h.55v.55h-.55zM129.4 248.9h.55v.55h-.55zM137.2 254.5h.55v.55h-.55zM133.1 248.9h.55v.55h-.55zM139.2 264.6h.55v.55h-.55zM132.4 232.7h.55v.55h-.55zM129.4 257.0h.55v.55h-.55zM140.2 266.5h.55v.55h-.55zM140.2 244.3h.55v.55h-.55zM138.2 245.4h.55v.55h-.55zM134.6 245.5h.55v.55h-.55zM130.3 256.3h.55v.55h-.55zM135.0 261.8h.55v.55h-.55zM132.9 261.8h.55v.55h-.55zM133.4 257.0h.55v.55h-.55zM134.9 235.7h.55v.55h-.55zM129.4 246.0h.55v.55h-.55zM130.7 247.2h.55v.55h-.55zM135.2 247.9h.55v.55h-.55zM130.5 243.0h.55v.55h-.55zM133.7 255.2h.55v.55h-.55zM132.0 261.8h.55v.55h-.55zM137.9 232.8h.55v.55h-.55zM136.4 248.0h.55v.55h-.55zM136.1 265.4h.55v.55h-.55zM136.7 255.4h.55v.55h-.55zM136.5 240.5h.55v.55h-.55zM129.4 243.6h.55v.55h-.55zM137.1 244.5h.55v.55h-.55zM135.4 231.2h.55v.55h-.55zM132.9 240.3h.55v.55h-.55zM133.3 273.4h.55v.55h-.55zM130.8 258.5h.55v.55h-.55zM134.4 240.9h.55v.55h-.55zM135.6 238.6h.55v.55h-.55zM140.2 247.5h.55v.55h-.55zM129.4 253.6h.55v.55h-.55zM135.4 261.0h.55v.55h-.55zM137.4 265.4h.55v.55h-.55zM132.6 244.1h.55v.55h-.55zM140.2 242.6h.55v.55h-.55zM129.4 245.2h.55v.55h-.55zM140.2 248.3h.55v.55h-.55zM134.4 265.4h.55v.55h-.55zM138.4 245.2h.55v.55h-.55zM130.0 243.7h.55v.55h-.55zM131.7 226.3h.55v.55h-.55zM140.2 236.7h.55v.55h-.55zM130.6 235.6h.55v.55h-.55zM133.5 256.9h.55v.55h-.55zM134.1 268.3h.55v.55h-.55zM133.7 247.4h.55v.55h-.55zM133.5 267.9h.55v.55h-.55zM133.5 255.1h.55v.55h-.55zM133.2 245.3h.55v.55h-.55zM137.6 231.8h.55v.55h-.55zM140.2 243.6h.55v.55h-.55zM140.2 258.4h.55v.55h-.55zM131.8 267.1h.55v.55h-.55zM135.5 254.4h.55v.55h-.55zM135.3 264.3h.55v.55h-.55zM129.4 249.9h.55v.55h-.55zM136.1 253.6h.55v.55h-.55zM132.4 230.0h.55v.55h-.55zM129.6 255.8h.55v.55h-.55zM140.2 243.8h.55v.55h-.55zM131.3 244.1h.55v.55h-.55zM136.7 245.0h.55v.55h-.55zM133.8 242.5h.55v.55h-.55zM129.4 241.0h.55v.55h-.55zM134.0 239.0h.55v.55h-.55zM137.5 271.1h.55v.55h-.55zM138.4 234.0h.55v.55h-.55zM135.1 236.8h.55v.55h-.55zM133.2 272.7h.55v.55h-.55zM140.2 255.7h.55v.55h-.55zM140.2 239.2h.55v.55h-.55zM129.4 250.6h.55v.55h-.55zM135.5 230.0h.55v.55h-.55zM133.8 276.0h.55v.55h-.55zM134.8 264.8h.55v.55h-.55zM133.3 250.7h.55v.55h-.55zM129.5 247.3h.55v.55h-.55zM136.2 275.8h.55v.55h-.55zM135.0 243.8h.55v.55h-.55zM134.2 240.2h.55v.55h-.55zM139.7 245.5h.55v.55h-.55zM129.4 251.9h.55v.55h-.55zM137.0 242.5h.55v.55h-.55zM134.6 247.8h.55v.55h-.55zM135.6 272.7h.55v.55h-.55zM135.4 251.9h.55v.55h-.55zM136.9 249.6h.55v.55h-.55zM133.1 241.3h.55v.55h-.55z" fill="#707070" fill-opacity="0.5"/>
<rect x="51.3" y="252.2" width="4.2" height="16.7" fill="#fff" stroke="#222" stroke-width="0.5" />
<line x1="51.3" y1="259.5" x2="55.5" y2="259.5" stroke="#222" stroke-width="0.5" />
<rect x="65" y="241.7" width="4.2" height="14.7" fill="#fff" stroke="#222" stroke-width="0.5" />
<line x1="65" y1="249" x2="69.2" y2="249" stroke="#222" stroke-width="0.5" />
<rect x="78.4" y="234.4" width="4.2" height="13.6" fill="#fff" stroke="#222" stroke-width="0.5" />
<line x1="78.4" y1="240.7" x2="82.6" y2="240.7" stroke="#222" stroke-width="0.5" />
<rect x="92" y="228" width="4.2" height="12.7" fill="#fff" stroke="#222" stroke-width="0.5" />
<line x1="92" y1="234.4" x2="96.2" y2="234.4" stroke="#222" stroke-width="0.5" />
<rect x="105.5" y="250.7" width="4.2" height="15.6" fill="#fff" stroke="#222" stroke-width="0.5" />
<line x1="105.5" y1="258.5" x2="109.7" y2="258.5" stroke="#222" stroke-width="0.5" />
<rect x="119" y="246.8" width="4.2" height="16.6" fill="#fff" stroke="#222" stroke-width="0.5" />
<line x1="119" y1="253.6" x2="123.2" y2="253.6" stroke="#222" stroke-width="0.5" />
<rect x="132.7" y="240" width="4.2" height="13.6" fill="#fff" stroke="#222" stroke-width="0.5" />
<line x1="132.7" y1="246.8" x2="136.9" y2="246.8" stroke="#222" stroke-width="0.5" />
<rect x="45.5" y="205.5" width="97.19999999999999" height="120.89999999999998" fill="none" stroke="#000" stroke-width="0.9"/>
<line x1="42.4" y1="221.4" x2="45.5" y2="221.4" stroke="#000" stroke-width="0.8" />
<text x="40.2" y="223.3" font-size="5.4" text-anchor="end" fill="#222" stroke="#222" stroke-width="0.12" >4.0</text>
<line x1="42.4" y1="244.6" x2="45.5" y2="244.6" stroke="#000" stroke-width="0.8" />
<text x="40.2" y="246.5" font-size="5.4" text-anchor="end" fill="#222" stroke="#222" stroke-width="0.12" >3.5</text>
<line x1="42.4" y1="267.8" x2="45.5" y2="267.8" stroke="#000" stroke-width="0.8" />
<text x="40.2" y="269.7" font-size="5.4" text-anchor="end" fill="#222" stroke="#222" stroke-width="0.12" >3.0</text>
<line x1="42.4" y1="291" x2="45.5" y2="291" stroke="#000" stroke-width="0.8" />
<text x="40.2" y="292.9" font-size="5.4" text-anchor="end" fill="#222" stroke="#222" stroke-width="0.12" >2.5</text>
<line x1="42.4" y1="314.2" x2="45.5" y2="314.2" stroke="#000" stroke-width="0.8" />
<text x="40.2" y="316.1" font-size="5.4" text-anchor="end" fill="#222" stroke="#222" stroke-width="0.12" >2.0</text>
<line x1="53.4" y1="326.4" x2="53.4" y2="329.8" stroke="#000" stroke-width="0.8" />
<line x1="67.1" y1="326.4" x2="67.1" y2="329.8" stroke="#000" stroke-width="0.8" />
<line x1="80.5" y1="326.4" x2="80.5" y2="329.8" stroke="#000" stroke-width="0.8" />
<line x1="94.1" y1="326.4" x2="94.1" y2="329.8" stroke="#000" stroke-width="0.8" />
<line x1="107.6" y1="326.4" x2="107.6" y2="329.8" stroke="#000" stroke-width="0.8" />
<line x1="121.1" y1="326.4" x2="121.1" y2="329.8" stroke="#000" stroke-width="0.8" />
<line x1="134.8" y1="326.4" x2="134.8" y2="329.8" stroke="#000" stroke-width="0.8" />
<text x="93.7" y="338.8" font-size="6.7" text-anchor="middle" textLength="31.5" lengthAdjust="spacingAndGlyphs" stroke="#000" stroke-width="0.22" >UMAP cluster</text>
<text x="27.4" y="262" font-size="6.1" text-anchor="middle" textLength="61.4" lengthAdjust="spacingAndGlyphs" transform="rotate(-90 27.4 262)" stroke="#000" stroke-width="0.18" >rTreg vs aTreg gene-set score</text>
<line x1="182.7" y1="210" x2="182.7" y2="261" stroke="#8c8c8c" stroke-width="0.95" />
<path d="M182.95 211 C183.1 212.99 183.28 220.14 183.83 222.93 C184.38 225.73 185.47 226.39 186.25 227.75 C187.04 229.12 188.1 230.02 188.56 231.12 C189.02 232.23 189.07 233.21 189 234.4 C188.93 235.59 188.67 236.86 188.12 238.27 C187.56 239.68 186.4 241.32 185.67 242.85 C184.95 244.37 184.21 245.9 183.76 247.42 C183.3 248.95 183.08 251.24 182.95 252 L182.45 252 C182.32 251.24 182.1 248.95 181.64 247.42 C181.19 245.9 180.45 244.37 179.73 242.85 C179 241.32 177.84 239.68 177.28 238.27 C176.73 236.86 176.47 235.59 176.4 234.4 C176.33 233.21 176.38 232.23 176.84 231.12 C177.3 230.02 178.36 229.12 179.15 227.75 C179.93 226.39 181.02 225.73 181.57 222.93 C182.12 220.14 182.3 212.99 182.45 211Z" fill="#000000" stroke="#333" stroke-width="0.5"/>
<line x1="196.3" y1="219" x2="196.3" y2="295" stroke="#8c8c8c" stroke-width="0.95" />
<path d="M196.55 220 C196.69 221.95 196.87 228.99 197.42 231.73 C197.96 234.47 199.02 235.13 199.8 236.47 C200.57 237.81 201.62 238.69 202.07 239.78 C202.52 240.87 202.57 241.66 202.5 243 C202.43 244.34 202.18 246.08 201.63 247.84 C201.09 249.6 199.94 251.65 199.23 253.56 C198.51 255.47 197.79 257.37 197.34 259.28 C196.9 261.19 196.68 264.05 196.55 265 L196.05 265 C195.92 264.05 195.7 261.19 195.26 259.28 C194.81 257.37 194.09 255.47 193.37 253.56 C192.66 251.65 191.51 249.6 190.97 247.84 C190.42 246.08 190.17 244.34 190.1 243 C190.03 241.66 190.08 240.87 190.53 239.78 C190.98 238.69 192.03 237.81 192.8 236.47 C193.58 235.13 194.64 234.47 195.18 231.73 C195.73 228.99 195.91 221.95 196.05 220Z" fill="#a9a9a9" stroke="#333" stroke-width="0.5"/>
<line x1="210" y1="223" x2="210" y2="277.5" stroke="#8c8c8c" stroke-width="0.95" />
<path d="M210.25 224 C210.4 226.21 210.58 234.16 211.13 237.26 C211.68 240.36 212.77 241.1 213.55 242.62 C214.34 244.13 215.4 245.13 215.86 246.36 C216.32 247.59 216.37 248.62 216.3 250 C216.23 251.38 215.97 252.94 215.42 254.62 C214.86 256.3 213.7 258.26 212.97 260.08 C212.25 261.9 211.51 263.72 211.06 265.54 C210.6 267.36 210.38 270.09 210.25 271 L209.75 271 C209.62 270.09 209.4 267.36 208.94 265.54 C208.49 263.72 207.75 261.9 207.03 260.08 C206.3 258.26 205.14 256.3 204.58 254.62 C204.03 252.94 203.77 251.38 203.7 250 C203.63 248.62 203.68 247.59 204.14 246.36 C204.6 245.13 205.66 244.13 206.45 242.62 C207.23 241.1 208.32 240.36 208.87 237.26 C209.42 234.16 209.6 226.21 209.75 224Z" fill="#a9c83c" stroke="#333" stroke-width="0.5"/>
<line x1="223.9" y1="226.8" x2="223.9" y2="321.4" stroke="#8c8c8c" stroke-width="0.95" />
<path d="M224.15 227.8 C224.31 230.62 224.53 240.77 225.12 244.73 C225.72 248.69 226.89 249.63 227.74 251.57 C228.59 253.51 229.73 254.78 230.22 256.35 C230.72 257.92 230.78 259.24 230.7 261 C230.62 262.76 230.35 264.78 229.75 266.94 C229.15 269.1 227.89 271.62 227.11 273.96 C226.33 276.3 225.54 278.64 225.04 280.98 C224.55 283.32 224.3 286.83 224.15 288 L223.65 288 C223.5 286.83 223.25 283.32 222.76 280.98 C222.26 278.64 221.47 276.3 220.69 273.96 C219.91 271.62 218.65 269.1 218.05 266.94 C217.45 264.78 217.18 262.76 217.1 261 C217.02 259.24 217.08 257.92 217.58 256.35 C218.07 254.78 219.21 253.51 220.06 251.57 C220.91 249.63 222.08 248.69 222.68 244.73 C223.27 240.77 223.49 230.62 223.65 227.8Z" fill="#c9b8df" stroke="#333" stroke-width="0.5"/>
<line x1="237.8" y1="219" x2="237.8" y2="272.4" stroke="#8c8c8c" stroke-width="0.95" />
<path d="M238.05 220 C238.2 221.44 238.38 226.64 238.93 228.67 C239.48 230.7 240.57 231.18 241.35 232.17 C242.14 233.16 243.2 233.82 243.66 234.62 C244.12 235.42 244.17 235.8 244.1 237 C244.03 238.2 243.77 240.08 243.22 241.84 C242.66 243.6 241.5 245.65 240.77 247.56 C240.05 249.47 239.31 251.37 238.86 253.28 C238.4 255.19 238.18 258.05 238.05 259 L237.55 259 C237.42 258.05 237.2 255.19 236.74 253.28 C236.29 251.37 235.55 249.47 234.83 247.56 C234.1 245.65 232.94 243.6 232.38 241.84 C231.83 240.08 231.57 238.2 231.5 237 C231.43 235.8 231.48 235.42 231.94 234.62 C232.4 233.82 233.46 233.16 234.25 232.17 C235.03 231.18 236.12 230.7 236.67 228.67 C237.22 226.64 237.4 221.44 237.55 220Z" fill="#5a3a9a" stroke="#333" stroke-width="0.5"/>
<line x1="251.8" y1="215" x2="251.8" y2="268" stroke="#8c8c8c" stroke-width="0.95" />
<path d="M252.05 216 C252.21 217.91 252.41 224.79 252.99 227.47 C253.57 230.16 254.7 230.8 255.52 232.11 C256.35 233.42 257.46 234.28 257.94 235.35 C258.42 236.41 258.48 236.91 258.4 238.5 C258.32 240.09 258.06 242.56 257.48 244.88 C256.9 247.2 255.68 249.91 254.92 252.42 C254.15 254.93 253.39 257.45 252.91 259.96 C252.43 262.47 252.19 266.24 252.05 267.5 L251.55 267.5 C251.41 266.24 251.17 262.47 250.69 259.96 C250.21 257.45 249.45 254.93 248.68 252.42 C247.92 249.91 246.7 247.2 246.12 244.88 C245.54 242.56 245.28 240.09 245.2 238.5 C245.12 236.91 245.18 236.41 245.66 235.35 C246.14 234.28 247.25 233.42 248.08 232.11 C248.9 230.8 250.03 230.16 250.61 227.47 C251.19 224.79 251.39 217.91 251.55 216Z" fill="#d01c26" stroke="#333" stroke-width="0.5"/>
<line x1="265.3" y1="223.5" x2="265.3" y2="281.5" stroke="#8c8c8c" stroke-width="0.95" />
<path d="M265.55 224.5 C265.71 226.37 265.92 233.09 266.51 235.72 C267.09 238.35 268.24 238.97 269.08 240.25 C269.92 241.54 271.04 242.38 271.53 243.42 C272.02 244.46 272.08 245 272 246.5 C271.92 248 271.65 250.28 271.06 252.44 C270.47 254.6 269.24 257.12 268.46 259.46 C267.69 261.8 266.91 264.14 266.43 266.48 C265.94 268.82 265.7 272.33 265.55 273.5 L265.05 273.5 C264.9 272.33 264.66 268.82 264.17 266.48 C263.69 264.14 262.91 261.8 262.14 259.46 C261.36 257.12 260.13 254.6 259.54 252.44 C258.95 250.28 258.68 248 258.6 246.5 C258.52 245 258.58 244.46 259.07 243.42 C259.56 242.38 260.68 241.54 261.52 240.25 C262.36 238.97 263.51 238.35 264.09 235.72 C264.68 233.09 264.89 226.37 265.05 224.5Z" fill="#8fd0e2" stroke="#333" stroke-width="0.5"/>
<path d="M186.0 231.0h.55v.55h-.55zM182.1 233.6h.55v.55h-.55zM182.9 233.0h.55v.55h-.55zM180.4 231.6h.55v.55h-.55zM183.2 225.9h.55v.55h-.55zM179.0 224.8h.55v.55h-.55zM183.1 237.3h.55v.55h-.55zM183.4 236.8h.55v.55h-.55zM177.3 235.9h.55v.55h-.55zM182.0 237.4h.55v.55h-.55zM177.3 237.2h.55v.55h-.55zM179.3 226.5h.55v.55h-.55zM177.3 233.6h.55v.55h-.55zM188.1 237.7h.55v.55h-.55zM184.9 232.1h.55v.55h-.55zM177.3 235.3h.55v.55h-.55zM187.6 238.9h.55v.55h-.55zM187.6 241.6h.55v.55h-.55zM181.7 236.4h.55v.55h-.55zM184.8 238.7h.55v.55h-.55zM188.1 235.7h.55v.55h-.55zM185.1 235.5h.55v.55h-.55zM182.9 231.3h.55v.55h-.55zM181.8 238.0h.55v.55h-.55zM186.8 232.8h.55v.55h-.55zM183.9 230.7h.55v.55h-.55zM186.2 241.4h.55v.55h-.55zM177.3 236.1h.55v.55h-.55zM185.7 243.3h.55v.55h-.55zM185.8 229.5h.55v.55h-.55zM183.7 228.1h.55v.55h-.55zM181.6 230.1h.55v.55h-.55zM185.6 226.0h.55v.55h-.55zM181.1 218.2h.55v.55h-.55zM182.8 226.9h.55v.55h-.55zM183.5 234.2h.55v.55h-.55zM178.7 236.6h.55v.55h-.55zM186.6 215.3h.55v.55h-.55zM181.8 219.3h.55v.55h-.55zM180.7 243.9h.55v.55h-.55zM178.9 238.8h.55v.55h-.55zM183.7 225.2h.55v.55h-.55zM178.2 222.5h.55v.55h-.55zM188.1 236.1h.55v.55h-.55zM180.1 222.3h.55v.55h-.55zM182.1 245.1h.55v.55h-.55zM181.1 238.8h.55v.55h-.55zM177.3 232.3h.55v.55h-.55zM180.6 239.9h.55v.55h-.55zM177.3 237.3h.55v.55h-.55zM183.2 229.1h.55v.55h-.55zM177.3 234.2h.55v.55h-.55zM184.5 239.2h.55v.55h-.55zM187.2 236.9h.55v.55h-.55zM184.5 227.0h.55v.55h-.55zM181.8 223.2h.55v.55h-.55zM177.3 234.1h.55v.55h-.55zM188.1 229.5h.55v.55h-.55zM180.3 230.0h.55v.55h-.55zM180.9 236.2h.55v.55h-.55zM177.3 240.0h.55v.55h-.55zM184.4 233.9h.55v.55h-.55zM182.1 242.6h.55v.55h-.55zM185.4 236.4h.55v.55h-.55zM177.5 241.4h.55v.55h-.55zM185.2 230.1h.55v.55h-.55zM184.8 242.3h.55v.55h-.55zM184.4 243.1h.55v.55h-.55zM186.6 240.8h.55v.55h-.55zM181.4 231.8h.55v.55h-.55zM186.4 237.8h.55v.55h-.55zM185.6 243.5h.55v.55h-.55zM187.5 227.6h.55v.55h-.55zM181.2 232.6h.55v.55h-.55zM184.1 235.0h.55v.55h-.55zM183.0 246.9h.55v.55h-.55zM182.3 237.2h.55v.55h-.55zM185.0 223.7h.55v.55h-.55zM184.6 236.5h.55v.55h-.55zM180.6 225.9h.55v.55h-.55zM184.4 239.0h.55v.55h-.55zM181.7 254.1h.55v.55h-.55zM181.2 236.7h.55v.55h-.55zM182.4 240.2h.55v.55h-.55zM178.7 236.5h.55v.55h-.55zM181.3 227.9h.55v.55h-.55zM178.2 231.2h.55v.55h-.55zM185.0 233.4h.55v.55h-.55zM186.3 229.0h.55v.55h-.55zM187.3 241.7h.55v.55h-.55zM186.6 228.1h.55v.55h-.55zM182.8 260.0h.55v.55h-.55zM184.4 219.8h.55v.55h-.55zM184.7 220.0h.55v.55h-.55zM177.9 237.6h.55v.55h-.55zM182.5 236.9h.55v.55h-.55zM180.3 240.5h.55v.55h-.55zM183.6 245.0h.55v.55h-.55zM177.3 235.0h.55v.55h-.55zM178.9 235.5h.55v.55h-.55zM182.6 241.5h.55v.55h-.55zM180.6 246.6h.55v.55h-.55zM183.2 228.1h.55v.55h-.55zM177.3 238.5h.55v.55h-.55zM188.1 236.9h.55v.55h-.55zM188.1 225.1h.55v.55h-.55zM183.0 247.8h.55v.55h-.55zM182.5 228.9h.55v.55h-.55zM180.7 227.7h.55v.55h-.55zM181.5 246.9h.55v.55h-.55zM181.1 226.5h.55v.55h-.55zM183.6 254.5h.55v.55h-.55zM181.7 242.2h.55v.55h-.55zM182.8 223.8h.55v.55h-.55zM181.6 217.7h.55v.55h-.55zM182.4 227.3h.55v.55h-.55zM186.8 223.5h.55v.55h-.55zM184.2 229.3h.55v.55h-.55zM185.5 248.0h.55v.55h-.55zM183.9 244.2h.55v.55h-.55zM179.4 221.4h.55v.55h-.55zM188.1 240.3h.55v.55h-.55zM184.5 235.1h.55v.55h-.55zM182.0 241.2h.55v.55h-.55zM184.7 255.2h.55v.55h-.55zM177.3 234.5h.55v.55h-.55zM177.3 245.2h.55v.55h-.55zM183.5 235.1h.55v.55h-.55zM177.8 237.0h.55v.55h-.55zM186.2 233.2h.55v.55h-.55zM185.4 223.8h.55v.55h-.55zM182.2 219.9h.55v.55h-.55zM180.7 232.6h.55v.55h-.55zM181.5 238.0h.55v.55h-.55zM185.1 214.6h.55v.55h-.55zM183.6 231.2h.55v.55h-.55zM188.1 235.0h.55v.55h-.55zM177.3 235.9h.55v.55h-.55zM179.5 240.5h.55v.55h-.55zM181.6 231.1h.55v.55h-.55zM181.5 236.4h.55v.55h-.55zM182.1 226.0h.55v.55h-.55zM182.1 229.8h.55v.55h-.55zM182.8 247.5h.55v.55h-.55zM182.7 239.5h.55v.55h-.55zM177.8 237.3h.55v.55h-.55zM183.6 228.2h.55v.55h-.55zM180.9 228.3h.55v.55h-.55zM179.2 234.9h.55v.55h-.55zM188.1 234.8h.55v.55h-.55zM178.9 231.3h.55v.55h-.55zM180.6 228.3h.55v.55h-.55zM179.6 232.6h.55v.55h-.55zM181.2 239.4h.55v.55h-.55zM187.0 232.8h.55v.55h-.55zM180.3 238.7h.55v.55h-.55zM177.3 233.2h.55v.55h-.55zM181.8 241.6h.55v.55h-.55zM188.1 240.2h.55v.55h-.55zM180.5 237.3h.55v.55h-.55zM182.1 234.7h.55v.55h-.55zM184.5 214.5h.55v.55h-.55zM184.0 239.8h.55v.55h-.55zM187.6 238.9h.55v.55h-.55zM181.1 232.9h.55v.55h-.55zM186.4 233.8h.55v.55h-.55zM182.8 245.0h.55v.55h-.55zM178.1 240.6h.55v.55h-.55zM178.4 236.9h.55v.55h-.55zM182.1 242.1h.55v.55h-.55zM183.6 230.8h.55v.55h-.55zM182.3 234.6h.55v.55h-.55zM177.3 238.0h.55v.55h-.55zM183.6 250.6h.55v.55h-.55zM177.3 238.0h.55v.55h-.55zM177.3 233.0h.55v.55h-.55zM181.3 237.9h.55v.55h-.55zM183.0 231.8h.55v.55h-.55zM186.1 226.4h.55v.55h-.55zM184.0 235.6h.55v.55h-.55zM179.3 240.7h.55v.55h-.55zM188.1 241.1h.55v.55h-.55zM182.4 214.2h.55v.55h-.55zM183.9 236.7h.55v.55h-.55zM188.1 229.0h.55v.55h-.55zM177.3 228.5h.55v.55h-.55zM183.5 242.9h.55v.55h-.55zM187.9 233.0h.55v.55h-.55zM179.0 227.1h.55v.55h-.55zM182.2 243.0h.55v.55h-.55zM180.9 243.8h.55v.55h-.55zM183.1 239.6h.55v.55h-.55zM177.3 235.7h.55v.55h-.55zM182.2 247.8h.55v.55h-.55zM184.0 238.2h.55v.55h-.55zM184.6 232.4h.55v.55h-.55zM181.1 226.6h.55v.55h-.55zM180.4 245.6h.55v.55h-.55zM178.7 244.6h.55v.55h-.55zM180.1 220.9h.55v.55h-.55zM188.1 235.2h.55v.55h-.55zM179.1 239.9h.55v.55h-.55zM181.9 225.5h.55v.55h-.55zM187.6 236.9h.55v.55h-.55zM181.5 217.5h.55v.55h-.55zM183.4 233.2h.55v.55h-.55zM178.8 237.8h.55v.55h-.55zM181.4 243.4h.55v.55h-.55zM184.5 225.7h.55v.55h-.55zM182.5 226.8h.55v.55h-.55zM185.3 235.4h.55v.55h-.55zM183.7 237.3h.55v.55h-.55zM183.8 226.9h.55v.55h-.55zM184.4 233.9h.55v.55h-.55zM183.9 250.9h.55v.55h-.55zM180.8 237.6h.55v.55h-.55zM180.5 248.8h.55v.55h-.55zM183.0 214.1h.55v.55h-.55zM184.0 239.6h.55v.55h-.55zM177.3 231.7h.55v.55h-.55zM183.6 238.3h.55v.55h-.55zM184.6 233.2h.55v.55h-.55zM180.5 235.8h.55v.55h-.55zM187.9 228.1h.55v.55h-.55zM186.7 235.8h.55v.55h-.55zM180.9 235.0h.55v.55h-.55zM186.4 241.5h.55v.55h-.55zM180.8 243.5h.55v.55h-.55zM179.4 233.3h.55v.55h-.55zM179.5 231.3h.55v.55h-.55zM184.3 242.7h.55v.55h-.55zM184.9 214.3h.55v.55h-.55zM177.3 232.2h.55v.55h-.55zM185.5 234.8h.55v.55h-.55zM183.0 229.6h.55v.55h-.55zM180.7 235.6h.55v.55h-.55zM185.0 218.2h.55v.55h-.55zM188.1 242.3h.55v.55h-.55zM185.1 224.7h.55v.55h-.55zM182.0 227.5h.55v.55h-.55zM180.0 220.9h.55v.55h-.55zM184.0 242.3h.55v.55h-.55zM177.3 235.1h.55v.55h-.55zM182.5 245.3h.55v.55h-.55zM182.5 222.8h.55v.55h-.55zM177.3 242.6h.55v.55h-.55zM185.1 226.4h.55v.55h-.55zM184.7 252.4h.55v.55h-.55zM179.0 230.6h.55v.55h-.55zM188.1 231.0h.55v.55h-.55zM180.6 229.6h.55v.55h-.55zM183.3 233.7h.55v.55h-.55zM184.3 233.6h.55v.55h-.55zM188.1 232.0h.55v.55h-.55zM185.8 240.9h.55v.55h-.55zM183.3 228.4h.55v.55h-.55zM177.4 248.0h.55v.55h-.55zM184.2 242.4h.55v.55h-.55zM181.9 227.9h.55v.55h-.55zM188.1 230.2h.55v.55h-.55zM185.5 238.6h.55v.55h-.55zM182.4 239.6h.55v.55h-.55zM183.5 232.5h.55v.55h-.55zM182.8 216.5h.55v.55h-.55zM182.0 239.2h.55v.55h-.55zM184.0 230.4h.55v.55h-.55zM180.9 215.6h.55v.55h-.55zM183.7 227.0h.55v.55h-.55zM187.7 229.2h.55v.55h-.55zM179.8 241.0h.55v.55h-.55zM180.1 236.4h.55v.55h-.55zM180.6 238.1h.55v.55h-.55zM182.3 240.5h.55v.55h-.55zM184.4 214.4h.55v.55h-.55zM181.2 239.0h.55v.55h-.55zM177.3 229.9h.55v.55h-.55zM177.3 234.4h.55v.55h-.55zM179.0 234.9h.55v.55h-.55zM181.5 247.3h.55v.55h-.55zM178.8 218.9h.55v.55h-.55zM183.1 237.2h.55v.55h-.55zM179.2 240.9h.55v.55h-.55zM187.1 236.6h.55v.55h-.55zM187.6 231.6h.55v.55h-.55zM183.3 229.8h.55v.55h-.55zM182.2 239.9h.55v.55h-.55zM177.3 238.8h.55v.55h-.55zM185.9 226.1h.55v.55h-.55zM182.0 240.0h.55v.55h-.55zM188.1 237.2h.55v.55h-.55zM177.3 229.9h.55v.55h-.55zM180.2 232.6h.55v.55h-.55zM184.2 227.9h.55v.55h-.55zM182.9 229.3h.55v.55h-.55zM184.3 229.0h.55v.55h-.55zM183.6 258.1h.55v.55h-.55zM181.8 227.8h.55v.55h-.55zM188.1 227.8h.55v.55h-.55zM182.1 257.8h.55v.55h-.55zM184.1 234.8h.55v.55h-.55zM183.9 241.0h.55v.55h-.55zM186.0 228.3h.55v.55h-.55zM188.1 230.7h.55v.55h-.55zM183.0 242.1h.55v.55h-.55zM180.7 233.8h.55v.55h-.55zM182.9 225.0h.55v.55h-.55zM185.9 235.5h.55v.55h-.55zM178.3 237.7h.55v.55h-.55zM185.2 240.6h.55v.55h-.55zM183.7 234.3h.55v.55h-.55zM186.4 232.2h.55v.55h-.55zM182.6 230.7h.55v.55h-.55zM182.4 244.7h.55v.55h-.55zM179.3 234.2h.55v.55h-.55zM181.7 242.1h.55v.55h-.55zM182.9 247.1h.55v.55h-.55zM177.3 238.9h.55v.55h-.55zM184.6 225.6h.55v.55h-.55zM178.4 235.9h.55v.55h-.55zM179.1 226.0h.55v.55h-.55zM178.0 229.2h.55v.55h-.55zM184.5 232.5h.55v.55h-.55zM183.2 225.1h.55v.55h-.55zM177.3 240.7h.55v.55h-.55zM185.8 242.0h.55v.55h-.55zM177.3 225.8h.55v.55h-.55zM177.3 234.9h.55v.55h-.55zM185.9 229.7h.55v.55h-.55zM183.8 239.2h.55v.55h-.55zM184.3 220.9h.55v.55h-.55z" fill="#707070" fill-opacity="0.5"/>
<path d="M196.1 221.4h.55v.55h-.55zM200.7 250.6h.55v.55h-.55zM199.2 241.3h.55v.55h-.55zM193.6 245.4h.55v.55h-.55zM201.7 248.3h.55v.55h-.55zM198.6 254.9h.55v.55h-.55zM193.8 242.0h.55v.55h-.55zM193.9 255.5h.55v.55h-.55zM192.8 241.1h.55v.55h-.55zM194.4 262.7h.55v.55h-.55zM196.7 288.3h.55v.55h-.55zM190.9 244.3h.55v.55h-.55zM198.7 239.7h.55v.55h-.55zM194.2 229.5h.55v.55h-.55zM191.5 247.1h.55v.55h-.55zM192.5 241.6h.55v.55h-.55zM198.7 229.4h.55v.55h-.55zM200.1 244.9h.55v.55h-.55zM196.8 250.2h.55v.55h-.55zM195.5 254.1h.55v.55h-.55zM194.6 247.6h.55v.55h-.55zM191.4 252.8h.55v.55h-.55zM198.1 242.5h.55v.55h-.55zM198.1 239.5h.55v.55h-.55zM199.1 239.0h.55v.55h-.55zM196.9 276.2h.55v.55h-.55zM192.1 238.5h.55v.55h-.55zM192.4 250.9h.55v.55h-.55zM192.8 252.8h.55v.55h-.55zM192.0 239.9h.55v.55h-.55zM201.6 249.3h.55v.55h-.55zM191.6 238.8h.55v.55h-.55zM201.7 248.4h.55v.55h-.55zM201.7 238.6h.55v.55h-.55zM193.8 238.4h.55v.55h-.55zM200.8 241.0h.55v.55h-.55zM198.6 244.0h.55v.55h-.55zM201.7 249.0h.55v.55h-.55zM193.4 234.8h.55v.55h-.55zM190.9 240.3h.55v.55h-.55zM196.6 259.2h.55v.55h-.55zM191.0 238.8h.55v.55h-.55zM197.8 279.0h.55v.55h-.55zM194.0 221.3h.55v.55h-.55zM195.6 253.9h.55v.55h-.55zM197.5 233.3h.55v.55h-.55zM198.3 237.8h.55v.55h-.55zM195.5 241.4h.55v.55h-.55zM194.8 252.1h.55v.55h-.55zM194.1 247.3h.55v.55h-.55zM195.2 261.7h.55v.55h-.55zM198.0 234.4h.55v.55h-.55zM198.2 236.9h.55v.55h-.55zM200.1 255.4h.55v.55h-.55zM201.7 244.8h.55v.55h-.55zM192.7 239.5h.55v.55h-.55zM201.0 244.3h.55v.55h-.55zM197.6 240.7h.55v.55h-.55zM201.1 248.6h.55v.55h-.55zM195.5 261.8h.55v.55h-.55zM196.3 246.0h.55v.55h-.55zM190.9 234.4h.55v.55h-.55zM198.2 251.4h.55v.55h-.55zM194.6 260.5h.55v.55h-.55zM193.8 281.1h.55v.55h-.55zM198.2 236.7h.55v.55h-.55zM201.7 239.4h.55v.55h-.55zM194.7 236.9h.55v.55h-.55zM196.0 247.0h.55v.55h-.55zM192.1 253.6h.55v.55h-.55zM198.1 251.7h.55v.55h-.55zM198.4 229.4h.55v.55h-.55zM197.8 241.8h.55v.55h-.55zM200.9 225.1h.55v.55h-.55zM197.1 226.4h.55v.55h-.55zM198.6 228.6h.55v.55h-.55zM194.1 240.0h.55v.55h-.55zM200.6 243.6h.55v.55h-.55zM199.7 249.9h.55v.55h-.55zM196.0 228.0h.55v.55h-.55zM196.1 262.0h.55v.55h-.55zM190.9 241.9h.55v.55h-.55zM192.3 243.8h.55v.55h-.55zM192.1 230.4h.55v.55h-.55zM200.3 238.6h.55v.55h-.55zM196.4 258.9h.55v.55h-.55zM194.4 255.7h.55v.55h-.55zM193.6 236.3h.55v.55h-.55zM193.9 252.8h.55v.55h-.55zM192.5 233.9h.55v.55h-.55zM195.4 240.9h.55v.55h-.55zM190.9 256.7h.55v.55h-.55zM199.0 254.3h.55v.55h-.55zM194.4 243.8h.55v.55h-.55zM197.2 249.1h.55v.55h-.55zM194.7 244.6h.55v.55h-.55zM201.7 244.4h.55v.55h-.55zM190.9 242.8h.55v.55h-.55zM201.7 244.3h.55v.55h-.55zM201.7 244.6h.55v.55h-.55zM197.4 238.9h.55v.55h-.55zM195.5 238.8h.55v.55h-.55zM198.8 256.7h.55v.55h-.55zM196.6 293.5h.55v.55h-.55zM195.1 289.2h.55v.55h-.55zM190.9 255.9h.55v.55h-.55zM201.7 234.2h.55v.55h-.55zM193.0 235.9h.55v.55h-.55zM197.7 245.6h.55v.55h-.55zM200.4 247.5h.55v.55h-.55zM190.9 249.2h.55v.55h-.55zM193.6 246.6h.55v.55h-.55zM197.2 233.6h.55v.55h-.55zM201.7 242.5h.55v.55h-.55zM199.6 241.7h.55v.55h-.55zM192.7 247.3h.55v.55h-.55zM201.7 247.9h.55v.55h-.55zM200.1 233.0h.55v.55h-.55zM198.2 242.7h.55v.55h-.55zM198.3 236.6h.55v.55h-.55zM197.0 238.8h.55v.55h-.55zM198.6 253.7h.55v.55h-.55zM196.2 289.4h.55v.55h-.55zM199.3 286.9h.55v.55h-.55zM194.0 258.1h.55v.55h-.55zM197.9 245.1h.55v.55h-.55zM197.3 260.8h.55v.55h-.55zM195.8 240.3h.55v.55h-.55zM196.2 278.5h.55v.55h-.55zM196.6 253.0h.55v.55h-.55zM196.0 241.3h.55v.55h-.55zM201.7 241.4h.55v.55h-.55zM200.7 238.2h.55v.55h-.55zM195.0 250.7h.55v.55h-.55zM199.5 242.2h.55v.55h-.55zM192.9 249.8h.55v.55h-.55zM192.9 257.5h.55v.55h-.55zM198.2 230.9h.55v.55h-.55zM197.5 249.4h.55v.55h-.55zM193.4 243.9h.55v.55h-.55zM196.3 238.2h.55v.55h-.55zM190.9 243.9h.55v.55h-.55zM196.0 262.2h.55v.55h-.55zM201.7 247.9h.55v.55h-.55zM194.1 249.2h.55v.55h-.55zM198.8 244.2h.55v.55h-.55zM194.0 248.2h.55v.55h-.55zM193.3 254.5h.55v.55h-.55zM197.4 235.8h.55v.55h-.55zM200.2 234.4h.55v.55h-.55zM197.7 242.9h.55v.55h-.55zM195.6 252.6h.55v.55h-.55zM192.2 237.4h.55v.55h-.55zM195.1 246.0h.55v.55h-.55zM200.0 228.8h.55v.55h-.55zM200.0 244.9h.55v.55h-.55zM201.7 242.8h.55v.55h-.55zM199.8 249.9h.55v.55h-.55zM190.9 243.9h.55v.55h-.55zM196.0 252.9h.55v.55h-.55zM195.6 256.9h.55v.55h-.55zM201.7 240.5h.55v.55h-.55zM195.7 245.0h.55v.55h-.55zM195.8 253.5h.55v.55h-.55zM190.9 239.5h.55v.55h-.55zM194.0 248.2h.55v.55h-.55zM193.8 225.6h.55v.55h-.55zM192.4 244.0h.55v.55h-.55zM194.6 254.6h.55v.55h-.55zM194.6 234.6h.55v.55h-.55zM192.5 236.9h.55v.55h-.55zM190.9 246.7h.55v.55h-.55zM193.8 274.9h.55v.55h-.55zM191.7 240.2h.55v.55h-.55zM196.6 243.1h.55v.55h-.55zM196.4 245.9h.55v.55h-.55zM192.4 236.4h.55v.55h-.55zM198.4 242.8h.55v.55h-.55zM201.3 246.7h.55v.55h-.55zM197.9 246.5h.55v.55h-.55zM194.2 229.2h.55v.55h-.55zM195.7 241.8h.55v.55h-.55zM198.9 246.9h.55v.55h-.55zM196.1 238.3h.55v.55h-.55zM199.9 241.3h.55v.55h-.55zM191.8 250.3h.55v.55h-.55zM194.4 258.2h.55v.55h-.55zM195.9 285.2h.55v.55h-.55zM194.5 257.5h.55v.55h-.55zM193.4 252.7h.55v.55h-.55zM194.9 239.8h.55v.55h-.55zM199.1 237.8h.55v.55h-.55zM197.0 239.5h.55v.55h-.55zM201.7 246.0h.55v.55h-.55zM197.4 243.6h.55v.55h-.55zM190.9 247.4h.55v.55h-.55zM196.8 236.1h.55v.55h-.55zM201.7 245.7h.55v.55h-.55zM191.5 258.7h.55v.55h-.55zM194.8 251.4h.55v.55h-.55zM201.7 242.5h.55v.55h-.55zM197.5 248.1h.55v.55h-.55zM196.5 263.3h.55v.55h-.55zM194.9 251.6h.55v.55h-.55zM199.5 244.4h.55v.55h-.55zM197.1 241.6h.55v.55h-.55zM198.4 261.9h.55v.55h-.55zM199.2 252.1h.55v.55h-.55zM200.9 251.2h.55v.55h-.55zM194.5 238.1h.55v.55h-.55zM195.0 226.7h.55v.55h-.55zM199.1 247.1h.55v.55h-.55zM195.7 238.9h.55v.55h-.55zM194.9 225.4h.55v.55h-.55zM201.7 253.2h.55v.55h-.55zM194.1 234.4h.55v.55h-.55zM200.5 243.2h.55v.55h-.55zM197.2 239.9h.55v.55h-.55zM199.3 235.8h.55v.55h-.55zM192.9 237.4h.55v.55h-.55zM201.7 236.8h.55v.55h-.55zM197.3 254.4h.55v.55h-.55zM198.9 242.1h.55v.55h-.55zM193.7 275.5h.55v.55h-.55zM197.8 242.5h.55v.55h-.55zM190.9 242.3h.55v.55h-.55zM201.7 242.9h.55v.55h-.55zM190.9 246.2h.55v.55h-.55zM197.4 288.4h.55v.55h-.55zM197.8 238.6h.55v.55h-.55zM194.4 243.7h.55v.55h-.55zM198.9 240.0h.55v.55h-.55zM201.7 242.9h.55v.55h-.55zM197.0 263.8h.55v.55h-.55zM193.7 249.0h.55v.55h-.55zM191.7 244.9h.55v.55h-.55zM190.9 239.7h.55v.55h-.55zM192.9 246.7h.55v.55h-.55zM195.7 247.8h.55v.55h-.55zM195.5 239.9h.55v.55h-.55zM190.9 242.0h.55v.55h-.55zM196.0 243.6h.55v.55h-.55zM190.9 234.7h.55v.55h-.55zM195.4 269.9h.55v.55h-.55zM201.7 240.5h.55v.55h-.55zM193.6 255.4h.55v.55h-.55zM190.9 241.9h.55v.55h-.55zM196.3 234.9h.55v.55h-.55zM196.3 222.5h.55v.55h-.55zM199.3 231.7h.55v.55h-.55zM198.9 235.5h.55v.55h-.55zM198.3 239.0h.55v.55h-.55zM195.3 230.0h.55v.55h-.55zM198.5 243.6h.55v.55h-.55zM196.4 250.3h.55v.55h-.55zM197.5 235.3h.55v.55h-.55zM196.3 235.7h.55v.55h-.55zM190.9 241.9h.55v.55h-.55zM201.7 241.6h.55v.55h-.55zM196.8 250.5h.55v.55h-.55zM195.1 233.5h.55v.55h-.55zM199.3 294.3h.55v.55h-.55zM195.3 258.7h.55v.55h-.55zM194.7 254.0h.55v.55h-.55zM198.0 253.7h.55v.55h-.55zM198.8 238.4h.55v.55h-.55zM194.6 249.7h.55v.55h-.55zM191.9 249.7h.55v.55h-.55zM190.9 245.7h.55v.55h-.55zM199.0 257.4h.55v.55h-.55zM191.0 242.0h.55v.55h-.55zM200.4 236.3h.55v.55h-.55zM196.4 252.1h.55v.55h-.55zM197.0 225.8h.55v.55h-.55zM192.5 243.6h.55v.55h-.55zM197.8 222.0h.55v.55h-.55zM201.7 249.9h.55v.55h-.55zM190.9 238.4h.55v.55h-.55zM190.9 239.2h.55v.55h-.55zM201.1 244.5h.55v.55h-.55zM194.2 255.2h.55v.55h-.55zM196.3 241.0h.55v.55h-.55zM191.7 239.0h.55v.55h-.55zM194.0 242.3h.55v.55h-.55zM199.7 244.5h.55v.55h-.55zM197.4 243.1h.55v.55h-.55zM191.7 246.9h.55v.55h-.55zM196.0 236.7h.55v.55h-.55zM194.7 249.8h.55v.55h-.55zM201.3 246.4h.55v.55h-.55zM192.6 241.8h.55v.55h-.55zM199.2 246.5h.55v.55h-.55zM201.7 236.1h.55v.55h-.55zM196.8 245.5h.55v.55h-.55zM195.2 253.9h.55v.55h-.55zM195.0 251.9h.55v.55h-.55zM199.2 252.7h.55v.55h-.55zM194.5 249.4h.55v.55h-.55zM194.5 258.9h.55v.55h-.55zM198.7 238.4h.55v.55h-.55zM197.3 258.8h.55v.55h-.55zM192.5 247.8h.55v.55h-.55zM197.5 248.4h.55v.55h-.55zM193.1 242.4h.55v.55h-.55zM190.9 239.1h.55v.55h-.55zM190.9 242.7h.55v.55h-.55zM198.4 252.9h.55v.55h-.55zM201.5 240.2h.55v.55h-.55zM197.8 241.5h.55v.55h-.55zM199.7 245.8h.55v.55h-.55zM193.0 250.3h.55v.55h-.55zM195.6 246.0h.55v.55h-.55zM198.1 235.7h.55v.55h-.55zM194.6 243.0h.55v.55h-.55zM190.9 242.3h.55v.55h-.55zM196.2 282.0h.55v.55h-.55zM200.0 247.4h.55v.55h-.55zM198.6 244.7h.55v.55h-.55zM194.6 246.2h.55v.55h-.55zM197.8 254.2h.55v.55h-.55zM191.7 245.8h.55v.55h-.55zM198.6 244.9h.55v.55h-.55zM194.1 249.7h.55v.55h-.55zM193.0 245.4h.55v.55h-.55zM199.6 247.0h.55v.55h-.55zM193.3 248.2h.55v.55h-.55zM197.5 254.3h.55v.55h-.55zM199.8 236.3h.55v.55h-.55zM190.9 240.8h.55v.55h-.55zM196.2 241.7h.55v.55h-.55zM191.8 237.8h.55v.55h-.55zM192.9 240.6h.55v.55h-.55zM198.9 226.6h.55v.55h-.55zM194.8 244.0h.55v.55h-.55zM197.7 269.7h.55v.55h-.55zM194.3 242.0h.55v.55h-.55zM190.9 246.2h.55v.55h-.55zM192.2 250.1h.55v.55h-.55zM195.0 286.8h.55v.55h-.55zM190.9 245.0h.55v.55h-.55zM195.9 276.5h.55v.55h-.55zM196.0 235.6h.55v.55h-.55zM201.7 240.4h.55v.55h-.55zM196.2 245.2h.55v.55h-.55zM192.3 239.3h.55v.55h-.55zM194.9 237.7h.55v.55h-.55zM201.7 244.6h.55v.55h-.55zM190.9 243.0h.55v.55h-.55zM191.1 250.0h.55v.55h-.55zM201.7 239.4h.55v.55h-.55zM198.1 251.7h.55v.55h-.55zM201.7 241.7h.55v.55h-.55zM201.7 233.8h.55v.55h-.55zM201.1 250.7h.55v.55h-.55zM197.3 236.5h.55v.55h-.55zM194.6 257.1h.55v.55h-.55zM195.5 237.8h.55v.55h-.55zM200.3 243.2h.55v.55h-.55zM196.7 244.0h.55v.55h-.55zM201.7 239.8h.55v.55h-.55zM201.7 239.2h.55v.55h-.55zM192.5 239.0h.55v.55h-.55zM190.9 247.2h.55v.55h-.55zM194.4 224.1h.55v.55h-.55zM196.4 245.0h.55v.55h-.55zM199.0 234.7h.55v.55h-.55zM196.9 236.4h.55v.55h-.55zM198.0 227.3h.55v.55h-.55zM201.7 239.4h.55v.55h-.55zM194.3 231.4h.55v.55h-.55zM193.2 242.5h.55v.55h-.55zM190.9 248.4h.55v.55h-.55zM190.9 238.8h.55v.55h-.55zM195.6 284.1h.55v.55h-.55zM196.3 245.2h.55v.55h-.55zM190.9 239.0h.55v.55h-.55zM196.5 245.9h.55v.55h-.55zM193.9 254.8h.55v.55h-.55zM194.5 253.5h.55v.55h-.55zM201.7 240.4h.55v.55h-.55zM201.1 238.4h.55v.55h-.55zM196.7 240.2h.55v.55h-.55zM201.4 237.5h.55v.55h-.55zM192.4 248.2h.55v.55h-.55zM197.9 286.8h.55v.55h-.55zM197.2 280.2h.55v.55h-.55zM201.7 244.7h.55v.55h-.55zM201.7 251.5h.55v.55h-.55zM199.4 270.3h.55v.55h-.55zM198.6 245.6h.55v.55h-.55zM192.1 243.9h.55v.55h-.55zM199.4 242.7h.55v.55h-.55zM193.4 240.6h.55v.55h-.55zM197.4 292.9h.55v.55h-.55zM196.3 221.6h.55v.55h-.55zM195.0 260.5h.55v.55h-.55zM195.4 282.1h.55v.55h-.55zM198.0 252.7h.55v.55h-.55zM201.7 242.4h.55v.55h-.55zM193.7 229.9h.55v.55h-.55zM199.6 244.5h.55v.55h-.55zM195.7 230.6h.55v.55h-.55zM197.4 246.0h.55v.55h-.55zM193.5 236.3h.55v.55h-.55zM201.7 239.3h.55v.55h-.55zM199.2 243.6h.55v.55h-.55zM195.3 265.4h.55v.55h-.55zM191.5 237.2h.55v.55h-.55zM200.1 235.7h.55v.55h-.55zM201.7 247.8h.55v.55h-.55zM193.7 246.8h.55v.55h-.55zM197.5 294.6h.55v.55h-.55zM195.0 242.2h.55v.55h-.55zM191.8 246.0h.55v.55h-.55zM200.5 243.9h.55v.55h-.55zM191.0 237.0h.55v.55h-.55zM193.3 241.2h.55v.55h-.55zM201.7 248.0h.55v.55h-.55zM199.1 240.8h.55v.55h-.55zM196.7 252.6h.55v.55h-.55z" fill="#707070" fill-opacity="0.5"/>
<path d="M206.4 240.8h.55v.55h-.55zM214.3 260.2h.55v.55h-.55zM214.4 261.4h.55v.55h-.55zM204.6 258.6h.55v.55h-.55zM215.4 254.6h.55v.55h-.55zM207.4 246.6h.55v.55h-.55zM210.2 258.0h.55v.55h-.55zM207.9 225.8h.55v.55h-.55zM210.9 260.6h.55v.55h-.55zM209.0 240.7h.55v.55h-.55zM215.4 249.5h.55v.55h-.55zM210.2 244.3h.55v.55h-.55zM208.8 253.0h.55v.55h-.55zM204.6 249.8h.55v.55h-.55zM210.3 243.2h.55v.55h-.55zM209.4 241.9h.55v.55h-.55zM210.0 245.2h.55v.55h-.55zM208.9 258.1h.55v.55h-.55zM205.6 253.5h.55v.55h-.55zM209.5 252.3h.55v.55h-.55zM207.6 239.5h.55v.55h-.55zM205.4 256.4h.55v.55h-.55zM211.1 247.5h.55v.55h-.55zM211.7 252.2h.55v.55h-.55zM213.6 250.8h.55v.55h-.55zM210.9 256.7h.55v.55h-.55zM204.6 245.9h.55v.55h-.55zM207.8 237.2h.55v.55h-.55zM204.6 247.7h.55v.55h-.55zM204.6 262.3h.55v.55h-.55zM211.3 245.8h.55v.55h-.55zM205.5 248.8h.55v.55h-.55zM209.4 249.9h.55v.55h-.55zM211.7 249.1h.55v.55h-.55zM205.6 243.7h.55v.55h-.55zM210.8 255.3h.55v.55h-.55zM208.6 252.9h.55v.55h-.55zM215.4 258.6h.55v.55h-.55zM212.3 259.0h.55v.55h-.55zM210.1 247.1h.55v.55h-.55zM214.9 259.8h.55v.55h-.55zM209.2 267.8h.55v.55h-.55zM215.4 254.1h.55v.55h-.55zM208.1 247.9h.55v.55h-.55zM204.6 248.7h.55v.55h-.55zM209.0 242.0h.55v.55h-.55zM212.5 259.3h.55v.55h-.55zM210.3 253.4h.55v.55h-.55zM215.1 247.0h.55v.55h-.55zM205.9 253.0h.55v.55h-.55zM209.1 261.0h.55v.55h-.55zM207.9 263.8h.55v.55h-.55zM215.4 250.4h.55v.55h-.55zM215.4 256.6h.55v.55h-.55zM213.3 235.6h.55v.55h-.55zM211.9 241.8h.55v.55h-.55zM209.2 240.2h.55v.55h-.55zM213.1 254.7h.55v.55h-.55zM215.4 252.9h.55v.55h-.55zM204.6 251.1h.55v.55h-.55zM209.2 246.0h.55v.55h-.55zM209.4 259.1h.55v.55h-.55zM214.1 257.4h.55v.55h-.55zM215.4 243.8h.55v.55h-.55zM206.4 254.6h.55v.55h-.55zM215.4 256.8h.55v.55h-.55zM208.7 263.2h.55v.55h-.55zM204.6 253.2h.55v.55h-.55zM210.2 261.4h.55v.55h-.55zM209.0 257.0h.55v.55h-.55zM207.6 234.2h.55v.55h-.55zM215.4 247.4h.55v.55h-.55zM206.4 254.9h.55v.55h-.55zM204.6 246.6h.55v.55h-.55zM207.3 249.0h.55v.55h-.55zM214.0 245.1h.55v.55h-.55zM215.4 247.3h.55v.55h-.55zM210.0 250.1h.55v.55h-.55zM211.5 260.4h.55v.55h-.55zM213.7 243.0h.55v.55h-.55zM211.3 235.2h.55v.55h-.55zM214.2 247.9h.55v.55h-.55zM214.7 247.3h.55v.55h-.55zM207.5 259.6h.55v.55h-.55zM211.8 256.6h.55v.55h-.55zM213.8 250.3h.55v.55h-.55zM207.5 251.7h.55v.55h-.55zM204.6 258.0h.55v.55h-.55zM211.0 259.2h.55v.55h-.55zM215.4 244.8h.55v.55h-.55zM215.4 243.9h.55v.55h-.55zM211.0 236.8h.55v.55h-.55zM214.9 249.9h.55v.55h-.55zM208.3 250.6h.55v.55h-.55zM213.1 258.2h.55v.55h-.55zM204.6 253.8h.55v.55h-.55zM213.7 260.9h.55v.55h-.55zM211.4 258.4h.55v.55h-.55zM210.9 243.9h.55v.55h-.55zM208.7 239.7h.55v.55h-.55zM204.6 249.5h.55v.55h-.55zM211.6 240.0h.55v.55h-.55zM211.8 234.9h.55v.55h-.55zM212.8 260.1h.55v.55h-.55zM210.8 235.1h.55v.55h-.55zM215.4 247.0h.55v.55h-.55zM210.9 249.0h.55v.55h-.55zM210.9 241.0h.55v.55h-.55zM211.1 258.6h.55v.55h-.55zM211.1 243.5h.55v.55h-.55zM207.3 263.4h.55v.55h-.55zM210.8 252.0h.55v.55h-.55zM212.2 233.1h.55v.55h-.55zM210.5 270.2h.55v.55h-.55zM215.4 253.2h.55v.55h-.55zM204.6 251.8h.55v.55h-.55zM208.4 267.3h.55v.55h-.55zM204.6 251.0h.55v.55h-.55zM207.5 243.7h.55v.55h-.55zM215.4 248.3h.55v.55h-.55zM213.8 256.2h.55v.55h-.55zM209.7 248.5h.55v.55h-.55zM210.5 244.8h.55v.55h-.55zM211.0 253.6h.55v.55h-.55zM208.2 245.8h.55v.55h-.55zM213.5 255.3h.55v.55h-.55zM204.6 263.8h.55v.55h-.55zM215.4 249.6h.55v.55h-.55zM208.7 226.9h.55v.55h-.55zM204.6 252.3h.55v.55h-.55zM208.3 248.9h.55v.55h-.55zM213.7 237.4h.55v.55h-.55zM210.3 254.1h.55v.55h-.55zM210.5 238.8h.55v.55h-.55zM208.9 252.5h.55v.55h-.55zM206.2 244.2h.55v.55h-.55zM215.4 248.4h.55v.55h-.55zM214.2 250.4h.55v.55h-.55zM208.1 257.9h.55v.55h-.55zM210.9 262.3h.55v.55h-.55zM210.8 248.5h.55v.55h-.55zM208.2 239.0h.55v.55h-.55zM212.5 225.7h.55v.55h-.55zM208.8 251.1h.55v.55h-.55zM211.4 229.9h.55v.55h-.55zM211.3 248.7h.55v.55h-.55zM214.0 251.1h.55v.55h-.55zM209.4 253.1h.55v.55h-.55zM205.1 258.3h.55v.55h-.55zM212.3 246.0h.55v.55h-.55zM211.0 240.6h.55v.55h-.55zM215.4 243.1h.55v.55h-.55zM205.2 253.6h.55v.55h-.55zM211.4 250.5h.55v.55h-.55zM206.0 253.3h.55v.55h-.55zM213.6 247.1h.55v.55h-.55zM215.2 246.1h.55v.55h-.55zM210.6 243.7h.55v.55h-.55zM208.8 243.8h.55v.55h-.55zM209.4 250.1h.55v.55h-.55zM214.2 253.0h.55v.55h-.55zM212.1 246.5h.55v.55h-.55zM213.7 260.0h.55v.55h-.55zM210.3 238.4h.55v.55h-.55zM207.3 253.1h.55v.55h-.55zM210.7 252.7h.55v.55h-.55zM208.2 241.9h.55v.55h-.55zM210.7 229.9h.55v.55h-.55zM204.6 244.4h.55v.55h-.55zM209.6 253.6h.55v.55h-.55zM206.6 246.2h.55v.55h-.55zM212.0 252.6h.55v.55h-.55zM211.2 249.8h.55v.55h-.55zM205.8 269.0h.55v.55h-.55zM209.1 247.8h.55v.55h-.55zM205.9 247.5h.55v.55h-.55zM214.1 244.3h.55v.55h-.55zM208.4 268.3h.55v.55h-.55zM210.2 253.4h.55v.55h-.55zM211.1 247.4h.55v.55h-.55zM210.2 261.4h.55v.55h-.55zM206.4 262.2h.55v.55h-.55zM204.6 253.1h.55v.55h-.55zM213.0 275.8h.55v.55h-.55zM215.4 241.8h.55v.55h-.55zM208.7 250.7h.55v.55h-.55zM209.7 247.6h.55v.55h-.55zM206.5 243.8h.55v.55h-.55zM209.1 275.1h.55v.55h-.55zM207.7 242.0h.55v.55h-.55zM212.5 262.2h.55v.55h-.55zM210.2 251.5h.55v.55h-.55zM204.6 253.1h.55v.55h-.55zM208.3 239.7h.55v.55h-.55zM209.1 243.1h.55v.55h-.55zM205.1 245.2h.55v.55h-.55zM210.1 244.1h.55v.55h-.55zM204.6 248.0h.55v.55h-.55zM207.9 247.8h.55v.55h-.55zM207.6 268.0h.55v.55h-.55zM213.1 241.9h.55v.55h-.55zM206.5 247.3h.55v.55h-.55zM212.6 267.4h.55v.55h-.55zM208.4 241.1h.55v.55h-.55zM205.2 248.7h.55v.55h-.55zM212.1 263.4h.55v.55h-.55zM205.3 243.8h.55v.55h-.55zM208.7 267.1h.55v.55h-.55zM210.9 248.0h.55v.55h-.55zM207.7 246.8h.55v.55h-.55zM204.6 250.0h.55v.55h-.55zM204.6 246.1h.55v.55h-.55zM206.8 256.7h.55v.55h-.55zM211.5 252.9h.55v.55h-.55zM208.1 262.4h.55v.55h-.55zM210.0 267.2h.55v.55h-.55zM210.3 241.9h.55v.55h-.55zM204.8 259.2h.55v.55h-.55zM212.0 261.8h.55v.55h-.55zM211.4 253.0h.55v.55h-.55zM210.4 251.4h.55v.55h-.55zM213.6 249.0h.55v.55h-.55zM208.8 252.0h.55v.55h-.55zM207.5 259.6h.55v.55h-.55zM210.4 242.3h.55v.55h-.55zM214.3 245.1h.55v.55h-.55zM204.6 248.0h.55v.55h-.55zM213.2 248.6h.55v.55h-.55zM206.6 234.6h.55v.55h-.55zM210.7 272.5h.55v.55h-.55zM210.3 248.3h.55v.55h-.55zM209.5 262.8h.55v.55h-.55zM212.1 237.0h.55v.55h-.55zM212.3 259.6h.55v.55h-.55zM211.9 252.6h.55v.55h-.55zM207.1 260.4h.55v.55h-.55zM215.1 248.4h.55v.55h-.55zM211.3 246.3h.55v.55h-.55zM214.7 238.0h.55v.55h-.55zM206.6 226.6h.55v.55h-.55zM212.1 250.6h.55v.55h-.55zM213.3 255.4h.55v.55h-.55zM208.9 251.9h.55v.55h-.55zM208.7 270.4h.55v.55h-.55zM211.9 244.1h.55v.55h-.55zM204.6 254.5h.55v.55h-.55zM207.2 260.1h.55v.55h-.55zM205.3 250.5h.55v.55h-.55zM204.7 253.7h.55v.55h-.55zM210.8 230.2h.55v.55h-.55zM207.4 247.3h.55v.55h-.55zM210.9 236.9h.55v.55h-.55zM209.2 267.9h.55v.55h-.55zM208.3 252.3h.55v.55h-.55zM210.6 238.2h.55v.55h-.55zM215.4 250.1h.55v.55h-.55zM204.6 252.1h.55v.55h-.55zM209.4 239.0h.55v.55h-.55zM215.3 255.9h.55v.55h-.55zM215.4 251.0h.55v.55h-.55zM213.4 251.1h.55v.55h-.55zM214.2 244.7h.55v.55h-.55zM207.0 239.8h.55v.55h-.55zM209.2 236.6h.55v.55h-.55zM208.2 251.5h.55v.55h-.55zM207.9 252.7h.55v.55h-.55zM208.2 250.3h.55v.55h-.55zM209.1 258.4h.55v.55h-.55zM215.4 249.2h.55v.55h-.55zM209.2 261.9h.55v.55h-.55zM208.3 272.0h.55v.55h-.55zM209.3 243.7h.55v.55h-.55zM208.2 241.5h.55v.55h-.55zM207.0 231.6h.55v.55h-.55zM205.3 242.8h.55v.55h-.55zM209.0 248.7h.55v.55h-.55zM207.7 235.7h.55v.55h-.55zM206.7 256.1h.55v.55h-.55zM208.3 244.8h.55v.55h-.55zM213.4 251.1h.55v.55h-.55zM205.5 237.9h.55v.55h-.55zM207.4 253.3h.55v.55h-.55zM215.4 256.7h.55v.55h-.55zM212.5 242.4h.55v.55h-.55zM209.2 243.2h.55v.55h-.55zM206.3 258.7h.55v.55h-.55zM205.6 253.2h.55v.55h-.55zM207.7 255.1h.55v.55h-.55zM210.6 254.6h.55v.55h-.55zM213.9 246.3h.55v.55h-.55zM215.4 250.7h.55v.55h-.55zM207.2 250.8h.55v.55h-.55zM210.5 255.8h.55v.55h-.55zM211.1 241.7h.55v.55h-.55zM207.2 246.3h.55v.55h-.55zM204.6 242.5h.55v.55h-.55zM211.3 250.0h.55v.55h-.55zM205.5 259.2h.55v.55h-.55zM214.8 247.4h.55v.55h-.55zM208.2 259.3h.55v.55h-.55zM209.0 266.4h.55v.55h-.55zM208.8 244.3h.55v.55h-.55zM209.6 269.8h.55v.55h-.55zM215.4 247.1h.55v.55h-.55zM206.3 261.9h.55v.55h-.55zM215.4 254.0h.55v.55h-.55zM208.4 242.7h.55v.55h-.55zM208.7 261.9h.55v.55h-.55zM208.7 259.7h.55v.55h-.55zM213.4 245.2h.55v.55h-.55zM208.9 247.0h.55v.55h-.55zM208.6 251.7h.55v.55h-.55zM212.2 244.1h.55v.55h-.55zM212.1 250.5h.55v.55h-.55zM208.3 232.5h.55v.55h-.55zM214.5 249.3h.55v.55h-.55zM215.4 252.1h.55v.55h-.55zM211.4 250.6h.55v.55h-.55zM211.3 241.7h.55v.55h-.55zM209.2 246.5h.55v.55h-.55zM207.8 267.9h.55v.55h-.55zM209.0 240.3h.55v.55h-.55zM212.5 249.2h.55v.55h-.55zM214.3 259.0h.55v.55h-.55zM212.9 238.4h.55v.55h-.55zM207.3 249.8h.55v.55h-.55zM207.9 263.5h.55v.55h-.55zM209.3 256.5h.55v.55h-.55zM204.6 254.3h.55v.55h-.55zM215.4 249.0h.55v.55h-.55z" fill="#707070" fill-opacity="0.5"/>
<path d="M219.4 274.5h.55v.55h-.55zM220.0 260.1h.55v.55h-.55zM226.4 247.6h.55v.55h-.55zM224.1 254.0h.55v.55h-.55zM218.5 263.3h.55v.55h-.55zM223.4 256.6h.55v.55h-.55zM226.9 267.2h.55v.55h-.55zM222.4 266.3h.55v.55h-.55zM222.4 270.1h.55v.55h-.55zM227.0 270.3h.55v.55h-.55zM222.7 245.1h.55v.55h-.55zM223.4 265.4h.55v.55h-.55zM220.4 258.9h.55v.55h-.55zM218.5 264.9h.55v.55h-.55zM224.9 262.7h.55v.55h-.55zM221.9 267.7h.55v.55h-.55zM227.6 273.3h.55v.55h-.55zM226.6 282.0h.55v.55h-.55zM225.5 269.4h.55v.55h-.55zM225.3 259.1h.55v.55h-.55zM224.9 257.6h.55v.55h-.55zM222.4 319.4h.55v.55h-.55zM226.5 282.6h.55v.55h-.55zM226.6 261.2h.55v.55h-.55zM222.7 283.7h.55v.55h-.55zM229.3 267.7h.55v.55h-.55zM228.2 262.5h.55v.55h-.55zM223.5 257.0h.55v.55h-.55zM219.9 274.4h.55v.55h-.55zM224.2 258.9h.55v.55h-.55zM219.1 261.2h.55v.55h-.55zM224.2 276.4h.55v.55h-.55zM221.8 262.8h.55v.55h-.55zM222.4 257.6h.55v.55h-.55zM223.8 249.7h.55v.55h-.55zM222.5 256.7h.55v.55h-.55zM226.4 258.2h.55v.55h-.55zM224.2 267.7h.55v.55h-.55zM229.3 259.1h.55v.55h-.55zM220.1 264.7h.55v.55h-.55zM220.9 253.2h.55v.55h-.55zM229.3 266.8h.55v.55h-.55zM224.9 234.8h.55v.55h-.55zM220.0 265.1h.55v.55h-.55zM225.0 258.6h.55v.55h-.55zM224.8 257.9h.55v.55h-.55zM226.3 263.7h.55v.55h-.55zM224.9 257.5h.55v.55h-.55zM222.7 250.5h.55v.55h-.55zM221.2 270.2h.55v.55h-.55zM226.6 257.7h.55v.55h-.55zM229.3 271.4h.55v.55h-.55zM221.3 266.8h.55v.55h-.55zM223.0 272.7h.55v.55h-.55zM223.4 256.5h.55v.55h-.55zM218.5 269.5h.55v.55h-.55zM229.3 262.5h.55v.55h-.55zM224.2 259.1h.55v.55h-.55zM224.2 270.2h.55v.55h-.55zM219.2 269.8h.55v.55h-.55zM229.3 255.4h.55v.55h-.55zM219.5 269.0h.55v.55h-.55zM225.7 285.1h.55v.55h-.55zM224.1 241.9h.55v.55h-.55zM218.9 247.9h.55v.55h-.55zM222.3 276.7h.55v.55h-.55zM224.9 279.5h.55v.55h-.55zM218.8 259.6h.55v.55h-.55zM220.7 272.4h.55v.55h-.55zM218.5 268.1h.55v.55h-.55zM225.7 265.8h.55v.55h-.55zM228.4 253.7h.55v.55h-.55zM224.6 264.1h.55v.55h-.55zM225.1 271.2h.55v.55h-.55zM218.5 261.8h.55v.55h-.55zM218.5 265.5h.55v.55h-.55zM225.3 237.8h.55v.55h-.55zM228.7 267.1h.55v.55h-.55zM223.5 262.2h.55v.55h-.55zM223.2 276.4h.55v.55h-.55zM224.4 267.3h.55v.55h-.55zM223.3 267.0h.55v.55h-.55zM229.0 264.4h.55v.55h-.55zM223.2 268.3h.55v.55h-.55zM228.3 275.8h.55v.55h-.55zM221.2 286.4h.55v.55h-.55zM226.8 261.6h.55v.55h-.55zM223.8 255.4h.55v.55h-.55zM223.4 281.0h.55v.55h-.55zM227.1 260.1h.55v.55h-.55zM223.0 253.3h.55v.55h-.55zM227.5 249.6h.55v.55h-.55zM220.9 245.4h.55v.55h-.55zM223.0 251.4h.55v.55h-.55zM229.3 252.3h.55v.55h-.55zM223.8 279.4h.55v.55h-.55zM223.7 265.7h.55v.55h-.55zM229.3 261.4h.55v.55h-.55zM221.2 269.3h.55v.55h-.55zM224.1 252.0h.55v.55h-.55zM229.3 255.8h.55v.55h-.55zM221.5 272.7h.55v.55h-.55zM226.5 260.2h.55v.55h-.55zM219.4 269.0h.55v.55h-.55zM222.4 250.6h.55v.55h-.55zM220.6 272.0h.55v.55h-.55zM224.8 259.4h.55v.55h-.55zM220.3 252.5h.55v.55h-.55zM224.4 239.0h.55v.55h-.55zM224.6 260.2h.55v.55h-.55zM222.6 263.4h.55v.55h-.55zM226.3 258.0h.55v.55h-.55zM225.4 250.2h.55v.55h-.55zM226.7 258.0h.55v.55h-.55zM220.8 273.2h.55v.55h-.55zM225.6 263.6h.55v.55h-.55zM221.5 263.7h.55v.55h-.55zM228.0 267.9h.55v.55h-.55zM226.2 273.8h.55v.55h-.55zM223.7 257.0h.55v.55h-.55zM221.8 272.1h.55v.55h-.55zM219.3 270.3h.55v.55h-.55zM223.2 244.3h.55v.55h-.55zM228.7 252.9h.55v.55h-.55zM229.3 260.3h.55v.55h-.55zM223.5 254.0h.55v.55h-.55zM225.4 256.2h.55v.55h-.55zM221.7 249.9h.55v.55h-.55zM222.4 237.1h.55v.55h-.55zM218.5 267.7h.55v.55h-.55zM222.3 302.0h.55v.55h-.55zM222.0 251.6h.55v.55h-.55zM221.1 258.1h.55v.55h-.55zM227.2 262.9h.55v.55h-.55zM229.3 253.3h.55v.55h-.55zM223.5 271.9h.55v.55h-.55zM226.0 271.1h.55v.55h-.55zM225.2 263.8h.55v.55h-.55zM224.3 260.4h.55v.55h-.55zM225.6 248.8h.55v.55h-.55zM221.7 279.8h.55v.55h-.55zM226.0 271.7h.55v.55h-.55zM228.8 264.2h.55v.55h-.55zM223.8 247.7h.55v.55h-.55zM220.6 267.9h.55v.55h-.55zM219.5 256.4h.55v.55h-.55zM229.3 250.5h.55v.55h-.55zM222.4 257.3h.55v.55h-.55zM218.5 259.5h.55v.55h-.55zM219.0 262.7h.55v.55h-.55zM224.7 312.0h.55v.55h-.55zM227.9 262.2h.55v.55h-.55zM225.3 249.6h.55v.55h-.55zM218.7 269.7h.55v.55h-.55zM219.5 269.1h.55v.55h-.55zM222.3 291.6h.55v.55h-.55zM229.3 269.7h.55v.55h-.55zM229.3 258.9h.55v.55h-.55zM228.9 257.3h.55v.55h-.55zM223.3 252.5h.55v.55h-.55zM229.3 261.7h.55v.55h-.55zM226.9 257.3h.55v.55h-.55zM218.5 265.4h.55v.55h-.55zM225.5 248.7h.55v.55h-.55zM224.4 234.6h.55v.55h-.55zM224.7 255.8h.55v.55h-.55zM228.8 249.9h.55v.55h-.55zM223.9 248.2h.55v.55h-.55zM228.6 257.5h.55v.55h-.55zM225.2 278.5h.55v.55h-.55zM229.3 257.0h.55v.55h-.55zM227.8 272.3h.55v.55h-.55zM220.0 270.4h.55v.55h-.55zM218.5 257.5h.55v.55h-.55zM218.8 251.2h.55v.55h-.55zM228.8 262.8h.55v.55h-.55zM218.7 268.3h.55v.55h-.55zM229.3 252.2h.55v.55h-.55zM225.5 250.4h.55v.55h-.55zM220.5 260.2h.55v.55h-.55zM222.9 279.7h.55v.55h-.55zM223.7 239.2h.55v.55h-.55zM225.1 265.1h.55v.55h-.55zM221.5 280.5h.55v.55h-.55zM221.8 253.9h.55v.55h-.55zM221.6 261.1h.55v.55h-.55zM223.8 264.6h.55v.55h-.55zM221.4 259.0h.55v.55h-.55zM219.8 262.3h.55v.55h-.55zM220.0 250.5h.55v.55h-.55zM223.7 273.7h.55v.55h-.55zM221.7 316.7h.55v.55h-.55zM220.5 260.0h.55v.55h-.55zM221.4 259.0h.55v.55h-.55zM228.7 253.8h.55v.55h-.55zM223.8 249.6h.55v.55h-.55zM225.0 304.6h.55v.55h-.55zM223.2 274.3h.55v.55h-.55zM222.1 265.0h.55v.55h-.55zM225.9 266.1h.55v.55h-.55zM227.3 254.9h.55v.55h-.55zM223.1 267.7h.55v.55h-.55zM226.9 275.8h.55v.55h-.55zM220.0 269.7h.55v.55h-.55zM226.0 277.1h.55v.55h-.55zM223.7 316.5h.55v.55h-.55zM229.3 255.9h.55v.55h-.55zM223.2 237.3h.55v.55h-.55zM222.1 265.3h.55v.55h-.55zM222.5 264.0h.55v.55h-.55zM229.3 257.8h.55v.55h-.55zM227.1 268.2h.55v.55h-.55zM218.5 263.6h.55v.55h-.55zM226.5 272.2h.55v.55h-.55zM218.5 263.0h.55v.55h-.55zM222.4 247.5h.55v.55h-.55zM220.9 255.3h.55v.55h-.55zM221.9 300.5h.55v.55h-.55zM229.3 253.2h.55v.55h-.55zM226.6 272.7h.55v.55h-.55zM224.6 239.2h.55v.55h-.55zM229.3 266.4h.55v.55h-.55zM226.7 275.8h.55v.55h-.55zM222.8 256.0h.55v.55h-.55zM219.0 269.0h.55v.55h-.55zM224.9 243.7h.55v.55h-.55zM223.9 251.9h.55v.55h-.55zM224.4 251.1h.55v.55h-.55zM218.5 255.4h.55v.55h-.55zM229.3 262.5h.55v.55h-.55zM218.5 257.2h.55v.55h-.55zM220.4 270.9h.55v.55h-.55zM222.8 263.6h.55v.55h-.55zM218.5 256.3h.55v.55h-.55zM228.3 263.0h.55v.55h-.55zM225.9 255.3h.55v.55h-.55zM220.8 252.2h.55v.55h-.55zM225.5 259.2h.55v.55h-.55zM223.1 278.2h.55v.55h-.55zM227.3 257.3h.55v.55h-.55zM218.5 259.1h.55v.55h-.55zM225.3 250.5h.55v.55h-.55zM220.8 253.9h.55v.55h-.55zM229.3 265.6h.55v.55h-.55zM221.5 267.1h.55v.55h-.55zM221.6 274.8h.55v.55h-.55zM228.3 250.5h.55v.55h-.55zM221.0 278.6h.55v.55h-.55zM218.5 261.2h.55v.55h-.55zM223.2 254.5h.55v.55h-.55zM229.3 271.2h.55v.55h-.55zM223.6 272.8h.55v.55h-.55zM221.4 267.2h.55v.55h-.55zM223.6 258.7h.55v.55h-.55zM227.9 263.9h.55v.55h-.55zM224.7 282.2h.55v.55h-.55zM221.7 248.4h.55v.55h-.55zM229.3 255.9h.55v.55h-.55zM219.4 271.4h.55v.55h-.55zM219.1 264.5h.55v.55h-.55zM228.4 271.2h.55v.55h-.55zM222.9 233.3h.55v.55h-.55zM223.5 253.0h.55v.55h-.55zM223.1 273.7h.55v.55h-.55zM229.3 269.5h.55v.55h-.55zM222.3 251.1h.55v.55h-.55zM228.9 249.6h.55v.55h-.55zM226.5 261.3h.55v.55h-.55zM220.1 257.2h.55v.55h-.55zM223.1 262.6h.55v.55h-.55zM219.8 261.7h.55v.55h-.55zM223.4 239.9h.55v.55h-.55zM218.5 256.5h.55v.55h-.55zM226.4 231.5h.55v.55h-.55zM225.7 270.2h.55v.55h-.55zM222.6 256.1h.55v.55h-.55zM224.8 271.0h.55v.55h-.55zM222.5 262.8h.55v.55h-.55zM225.8 248.3h.55v.55h-.55zM220.5 252.6h.55v.55h-.55zM225.7 274.2h.55v.55h-.55zM226.2 255.9h.55v.55h-.55zM223.8 279.9h.55v.55h-.55zM223.1 266.3h.55v.55h-.55zM221.8 264.7h.55v.55h-.55zM220.5 264.7h.55v.55h-.55zM220.8 254.6h.55v.55h-.55zM224.0 260.8h.55v.55h-.55zM227.6 274.5h.55v.55h-.55zM228.7 267.0h.55v.55h-.55zM223.3 247.3h.55v.55h-.55zM221.0 259.5h.55v.55h-.55zM221.3 248.7h.55v.55h-.55zM224.6 245.2h.55v.55h-.55zM218.5 254.8h.55v.55h-.55zM228.9 275.9h.55v.55h-.55zM225.8 248.5h.55v.55h-.55zM229.3 254.4h.55v.55h-.55zM224.9 271.9h.55v.55h-.55zM229.3 261.0h.55v.55h-.55zM223.0 251.1h.55v.55h-.55zM220.3 247.4h.55v.55h-.55zM222.4 265.1h.55v.55h-.55zM224.5 256.5h.55v.55h-.55zM222.4 274.3h.55v.55h-.55zM219.7 268.9h.55v.55h-.55zM222.1 270.5h.55v.55h-.55zM229.3 259.3h.55v.55h-.55zM226.9 270.3h.55v.55h-.55zM219.9 265.9h.55v.55h-.55zM219.7 265.4h.55v.55h-.55zM223.9 251.8h.55v.55h-.55zM229.3 260.1h.55v.55h-.55zM228.7 256.2h.55v.55h-.55zM224.8 276.7h.55v.55h-.55zM221.8 232.7h.55v.55h-.55zM227.2 265.6h.55v.55h-.55zM228.1 260.4h.55v.55h-.55zM228.6 240.0h.55v.55h-.55zM228.2 272.2h.55v.55h-.55zM219.0 252.7h.55v.55h-.55zM218.5 257.2h.55v.55h-.55zM218.5 263.4h.55v.55h-.55zM227.7 250.3h.55v.55h-.55zM225.3 235.6h.55v.55h-.55zM218.5 262.1h.55v.55h-.55zM219.6 266.5h.55v.55h-.55zM228.6 267.3h.55v.55h-.55zM223.0 266.1h.55v.55h-.55zM222.4 250.5h.55v.55h-.55zM221.6 248.7h.55v.55h-.55zM226.7 244.2h.55v.55h-.55zM224.3 270.5h.55v.55h-.55zM220.8 256.1h.55v.55h-.55zM227.5 262.5h.55v.55h-.55zM225.0 246.0h.55v.55h-.55zM221.9 268.6h.55v.55h-.55zM223.2 291.6h.55v.55h-.55zM226.6 254.6h.55v.55h-.55zM229.3 260.0h.55v.55h-.55zM223.2 276.1h.55v.55h-.55zM223.6 278.4h.55v.55h-.55zM218.5 265.6h.55v.55h-.55zM229.3 265.0h.55v.55h-.55zM226.6 280.1h.55v.55h-.55zM225.9 269.6h.55v.55h-.55zM223.9 263.5h.55v.55h-.55zM229.3 274.4h.55v.55h-.55zM218.9 276.6h.55v.55h-.55zM223.4 304.4h.55v.55h-.55zM223.2 279.8h.55v.55h-.55zM223.3 313.5h.55v.55h-.55zM218.5 265.0h.55v.55h-.55zM227.8 268.6h.55v.55h-.55zM228.7 272.2h.55v.55h-.55zM224.5 262.3h.55v.55h-.55zM218.5 256.6h.55v.55h-.55zM222.4 242.5h.55v.55h-.55zM220.9 253.4h.55v.55h-.55zM224.2 287.4h.55v.55h-.55zM226.1 295.9h.55v.55h-.55zM226.8 262.9h.55v.55h-.55zM226.8 274.7h.55v.55h-.55zM219.2 268.5h.55v.55h-.55zM224.4 254.7h.55v.55h-.55zM229.1 251.1h.55v.55h-.55zM227.2 261.4h.55v.55h-.55zM224.1 247.8h.55v.55h-.55zM218.6 258.4h.55v.55h-.55zM224.6 267.2h.55v.55h-.55zM225.2 241.3h.55v.55h-.55zM227.9 275.6h.55v.55h-.55zM221.6 248.5h.55v.55h-.55zM226.9 266.5h.55v.55h-.55zM218.5 270.6h.55v.55h-.55zM223.5 252.7h.55v.55h-.55zM224.2 319.0h.55v.55h-.55zM228.2 273.6h.55v.55h-.55zM225.9 287.7h.55v.55h-.55zM229.3 252.2h.55v.55h-.55z" fill="#707070" fill-opacity="0.5"/>
<path d="M233.1 238.5h.55v.55h-.55zM240.1 234.5h.55v.55h-.55zM235.2 249.3h.55v.55h-.55zM234.5 236.7h.55v.55h-.55zM238.1 231.5h.55v.55h-.55zM242.9 245.2h.55v.55h-.55zM240.5 241.4h.55v.55h-.55zM235.0 232.2h.55v.55h-.55zM243.2 242.9h.55v.55h-.55zM240.9 238.4h.55v.55h-.55zM236.1 242.9h.55v.55h-.55zM239.9 230.3h.55v.55h-.55zM240.3 235.1h.55v.55h-.55zM240.2 237.1h.55v.55h-.55zM237.5 239.5h.55v.55h-.55zM239.8 242.9h.55v.55h-.55zM243.2 234.7h.55v.55h-.55zM243.1 234.0h.55v.55h-.55zM241.0 244.2h.55v.55h-.55zM243.2 240.8h.55v.55h-.55zM236.1 245.8h.55v.55h-.55zM240.6 241.6h.55v.55h-.55zM237.8 231.8h.55v.55h-.55zM240.4 241.8h.55v.55h-.55zM241.1 237.2h.55v.55h-.55zM243.2 245.4h.55v.55h-.55zM232.4 237.3h.55v.55h-.55zM238.9 244.8h.55v.55h-.55zM237.0 256.8h.55v.55h-.55zM243.2 239.4h.55v.55h-.55zM232.4 240.0h.55v.55h-.55zM234.9 265.1h.55v.55h-.55zM232.4 240.1h.55v.55h-.55zM236.6 233.9h.55v.55h-.55zM232.4 241.0h.55v.55h-.55zM238.4 246.0h.55v.55h-.55zM234.0 232.6h.55v.55h-.55zM233.4 236.4h.55v.55h-.55zM234.5 228.2h.55v.55h-.55zM237.7 265.9h.55v.55h-.55zM241.4 242.0h.55v.55h-.55zM233.4 245.1h.55v.55h-.55zM243.2 234.1h.55v.55h-.55zM240.6 233.6h.55v.55h-.55zM240.8 237.3h.55v.55h-.55zM238.8 231.4h.55v.55h-.55zM242.7 236.1h.55v.55h-.55zM238.1 249.1h.55v.55h-.55zM234.7 248.9h.55v.55h-.55zM238.1 237.2h.55v.55h-.55zM237.8 234.4h.55v.55h-.55zM243.2 237.1h.55v.55h-.55zM237.0 234.7h.55v.55h-.55zM239.2 233.5h.55v.55h-.55zM233.2 236.2h.55v.55h-.55zM239.4 249.2h.55v.55h-.55zM243.2 239.2h.55v.55h-.55zM232.4 232.3h.55v.55h-.55zM242.8 238.0h.55v.55h-.55zM236.2 236.9h.55v.55h-.55zM237.0 254.7h.55v.55h-.55zM240.9 234.8h.55v.55h-.55zM234.8 244.5h.55v.55h-.55zM239.6 248.3h.55v.55h-.55zM239.8 225.7h.55v.55h-.55zM240.6 238.8h.55v.55h-.55zM239.9 233.4h.55v.55h-.55zM235.2 239.7h.55v.55h-.55zM233.1 249.4h.55v.55h-.55zM238.2 251.8h.55v.55h-.55zM238.4 257.1h.55v.55h-.55zM238.5 259.0h.55v.55h-.55zM243.2 237.8h.55v.55h-.55zM242.6 232.8h.55v.55h-.55zM237.1 254.3h.55v.55h-.55zM240.5 241.6h.55v.55h-.55zM235.1 234.0h.55v.55h-.55zM241.1 256.5h.55v.55h-.55zM241.2 236.8h.55v.55h-.55zM236.7 239.9h.55v.55h-.55zM243.2 244.7h.55v.55h-.55zM238.6 242.3h.55v.55h-.55zM237.6 237.1h.55v.55h-.55zM239.5 238.4h.55v.55h-.55zM233.0 227.6h.55v.55h-.55zM236.2 245.1h.55v.55h-.55zM237.3 232.8h.55v.55h-.55zM235.0 249.3h.55v.55h-.55zM235.8 234.3h.55v.55h-.55zM234.7 242.3h.55v.55h-.55zM237.3 243.1h.55v.55h-.55zM236.8 243.3h.55v.55h-.55zM243.2 243.0h.55v.55h-.55zM237.3 235.8h.55v.55h-.55zM236.2 252.4h.55v.55h-.55zM241.5 245.0h.55v.55h-.55zM239.1 234.9h.55v.55h-.55zM236.3 244.4h.55v.55h-.55zM236.2 239.8h.55v.55h-.55zM237.5 241.1h.55v.55h-.55zM238.9 225.1h.55v.55h-.55zM235.2 240.7h.55v.55h-.55zM242.3 253.5h.55v.55h-.55zM235.6 234.4h.55v.55h-.55zM235.9 230.5h.55v.55h-.55zM240.3 238.3h.55v.55h-.55zM234.0 246.2h.55v.55h-.55zM238.4 236.9h.55v.55h-.55zM238.0 232.1h.55v.55h-.55zM232.8 234.3h.55v.55h-.55zM238.3 271.7h.55v.55h-.55zM235.6 242.9h.55v.55h-.55zM234.2 246.3h.55v.55h-.55zM236.5 244.6h.55v.55h-.55zM242.0 228.8h.55v.55h-.55zM237.5 231.4h.55v.55h-.55zM238.9 246.2h.55v.55h-.55zM242.6 233.9h.55v.55h-.55zM234.6 241.2h.55v.55h-.55zM239.1 271.6h.55v.55h-.55zM238.5 230.1h.55v.55h-.55zM237.7 250.7h.55v.55h-.55zM236.1 240.5h.55v.55h-.55zM243.2 247.6h.55v.55h-.55zM235.3 243.2h.55v.55h-.55zM234.1 234.7h.55v.55h-.55zM232.4 235.3h.55v.55h-.55zM241.4 247.1h.55v.55h-.55zM242.2 232.2h.55v.55h-.55zM241.5 240.7h.55v.55h-.55zM236.6 235.1h.55v.55h-.55zM243.2 241.8h.55v.55h-.55zM234.3 246.3h.55v.55h-.55zM234.8 245.1h.55v.55h-.55zM243.2 238.6h.55v.55h-.55zM232.4 230.6h.55v.55h-.55zM237.2 234.9h.55v.55h-.55zM232.4 244.0h.55v.55h-.55zM235.0 234.5h.55v.55h-.55zM238.5 244.3h.55v.55h-.55zM240.8 237.6h.55v.55h-.55zM238.1 238.3h.55v.55h-.55zM241.3 234.6h.55v.55h-.55zM234.8 233.6h.55v.55h-.55zM238.1 234.1h.55v.55h-.55zM237.3 242.9h.55v.55h-.55zM239.2 243.7h.55v.55h-.55zM236.4 233.5h.55v.55h-.55zM232.4 249.9h.55v.55h-.55zM232.4 237.3h.55v.55h-.55zM243.2 236.4h.55v.55h-.55zM239.2 246.1h.55v.55h-.55zM233.8 237.2h.55v.55h-.55zM237.0 256.1h.55v.55h-.55zM236.5 248.4h.55v.55h-.55zM242.0 241.1h.55v.55h-.55zM236.3 247.9h.55v.55h-.55zM239.3 240.3h.55v.55h-.55zM235.0 238.5h.55v.55h-.55zM243.0 234.8h.55v.55h-.55z" fill="#707070" fill-opacity="0.5"/>
<path d="M247.6 245.6h.55v.55h-.55zM253.5 220.6h.55v.55h-.55zM252.3 235.5h.55v.55h-.55zM249.3 250.1h.55v.55h-.55zM253.6 236.7h.55v.55h-.55zM246.4 231.7h.55v.55h-.55zM247.0 235.7h.55v.55h-.55zM246.4 242.0h.55v.55h-.55zM250.2 247.7h.55v.55h-.55zM248.1 234.3h.55v.55h-.55zM251.3 243.9h.55v.55h-.55zM250.6 235.0h.55v.55h-.55zM251.5 236.4h.55v.55h-.55zM248.3 241.1h.55v.55h-.55zM250.7 261.4h.55v.55h-.55zM246.4 242.4h.55v.55h-.55zM250.2 235.8h.55v.55h-.55zM247.5 234.7h.55v.55h-.55zM255.0 244.9h.55v.55h-.55zM248.8 246.3h.55v.55h-.55zM251.9 240.4h.55v.55h-.55zM247.9 238.3h.55v.55h-.55zM247.2 234.3h.55v.55h-.55zM249.1 249.5h.55v.55h-.55zM250.1 238.6h.55v.55h-.55zM252.6 238.4h.55v.55h-.55zM247.9 239.0h.55v.55h-.55zM248.9 251.0h.55v.55h-.55zM246.9 242.9h.55v.55h-.55zM252.6 242.0h.55v.55h-.55zM255.1 236.1h.55v.55h-.55zM253.1 236.2h.55v.55h-.55zM253.6 229.8h.55v.55h-.55zM247.8 239.8h.55v.55h-.55zM250.4 257.0h.55v.55h-.55zM256.0 243.3h.55v.55h-.55zM246.4 231.4h.55v.55h-.55zM254.4 235.9h.55v.55h-.55zM246.4 235.6h.55v.55h-.55zM257.2 242.9h.55v.55h-.55zM250.3 257.9h.55v.55h-.55zM253.1 232.9h.55v.55h-.55zM246.4 234.0h.55v.55h-.55zM253.1 241.6h.55v.55h-.55zM257.2 236.3h.55v.55h-.55zM254.3 261.5h.55v.55h-.55zM257.2 238.1h.55v.55h-.55zM254.8 260.3h.55v.55h-.55zM257.2 239.7h.55v.55h-.55zM249.2 243.0h.55v.55h-.55zM256.6 237.4h.55v.55h-.55zM255.2 229.5h.55v.55h-.55zM246.5 242.4h.55v.55h-.55zM246.4 241.3h.55v.55h-.55zM250.4 251.8h.55v.55h-.55zM253.6 244.8h.55v.55h-.55zM246.4 243.3h.55v.55h-.55zM253.0 245.0h.55v.55h-.55zM248.3 255.0h.55v.55h-.55zM248.7 235.1h.55v.55h-.55zM246.4 247.7h.55v.55h-.55zM254.5 244.6h.55v.55h-.55zM252.9 248.0h.55v.55h-.55zM250.1 242.3h.55v.55h-.55zM256.0 234.6h.55v.55h-.55zM251.6 250.3h.55v.55h-.55zM256.8 237.9h.55v.55h-.55zM252.3 231.0h.55v.55h-.55zM254.4 251.0h.55v.55h-.55zM252.2 244.7h.55v.55h-.55zM253.4 241.3h.55v.55h-.55zM257.2 244.6h.55v.55h-.55zM246.4 230.0h.55v.55h-.55zM251.3 240.8h.55v.55h-.55zM251.0 238.3h.55v.55h-.55zM254.4 252.4h.55v.55h-.55zM246.4 239.8h.55v.55h-.55zM246.4 243.1h.55v.55h-.55zM246.4 237.8h.55v.55h-.55zM254.2 249.7h.55v.55h-.55zM257.2 242.2h.55v.55h-.55zM246.4 232.5h.55v.55h-.55zM252.1 246.3h.55v.55h-.55zM246.4 241.2h.55v.55h-.55zM252.0 258.9h.55v.55h-.55zM252.9 232.5h.55v.55h-.55zM253.4 224.8h.55v.55h-.55zM249.9 242.6h.55v.55h-.55zM250.3 241.5h.55v.55h-.55zM253.7 257.6h.55v.55h-.55zM253.0 242.6h.55v.55h-.55zM255.3 235.5h.55v.55h-.55zM253.0 258.2h.55v.55h-.55zM246.4 238.3h.55v.55h-.55zM249.9 228.6h.55v.55h-.55zM247.3 240.8h.55v.55h-.55zM248.3 232.9h.55v.55h-.55zM254.2 232.5h.55v.55h-.55zM250.4 243.2h.55v.55h-.55zM255.9 254.2h.55v.55h-.55zM257.2 242.1h.55v.55h-.55zM251.1 243.7h.55v.55h-.55zM257.2 247.4h.55v.55h-.55zM250.1 246.8h.55v.55h-.55zM254.8 251.7h.55v.55h-.55zM250.4 239.6h.55v.55h-.55zM253.2 238.7h.55v.55h-.55zM257.2 243.3h.55v.55h-.55zM252.4 255.6h.55v.55h-.55zM249.8 248.1h.55v.55h-.55zM248.4 254.2h.55v.55h-.55zM253.6 235.5h.55v.55h-.55zM256.6 243.5h.55v.55h-.55zM252.2 259.1h.55v.55h-.55zM246.4 245.2h.55v.55h-.55zM254.0 246.9h.55v.55h-.55zM251.5 247.9h.55v.55h-.55zM253.2 256.6h.55v.55h-.55zM257.2 242.4h.55v.55h-.55zM251.7 244.9h.55v.55h-.55zM246.4 240.5h.55v.55h-.55zM246.7 244.8h.55v.55h-.55zM253.4 248.4h.55v.55h-.55zM257.2 249.6h.55v.55h-.55zM254.2 231.5h.55v.55h-.55zM256.7 235.6h.55v.55h-.55zM257.2 240.4h.55v.55h-.55zM246.4 239.2h.55v.55h-.55zM257.2 249.0h.55v.55h-.55zM246.6 242.5h.55v.55h-.55zM252.3 256.0h.55v.55h-.55zM257.2 238.2h.55v.55h-.55zM252.7 240.3h.55v.55h-.55zM250.1 233.8h.55v.55h-.55zM251.1 258.7h.55v.55h-.55zM249.6 238.0h.55v.55h-.55zM254.8 256.1h.55v.55h-.55zM250.8 249.5h.55v.55h-.55zM250.9 255.5h.55v.55h-.55zM251.2 238.0h.55v.55h-.55zM255.4 233.2h.55v.55h-.55zM250.8 250.7h.55v.55h-.55zM251.4 240.5h.55v.55h-.55zM257.2 238.0h.55v.55h-.55zM255.4 229.3h.55v.55h-.55zM248.5 245.5h.55v.55h-.55zM253.2 263.7h.55v.55h-.55zM246.4 238.6h.55v.55h-.55zM254.3 236.6h.55v.55h-.55zM255.7 249.2h.55v.55h-.55z" fill="#707070" fill-opacity="0.5"/>
<path d="M266.2 244.5h.55v.55h-.55zM269.2 247.6h.55v.55h-.55zM262.8 258.2h.55v.55h-.55zM264.7 267.4h.55v.55h-.55zM260.2 239.6h.55v.55h-.55zM267.6 249.8h.55v.55h-.55zM259.9 246.4h.55v.55h-.55zM266.3 241.2h.55v.55h-.55zM264.8 247.5h.55v.55h-.55zM264.3 240.9h.55v.55h-.55zM264.7 236.4h.55v.55h-.55zM261.3 242.1h.55v.55h-.55zM267.4 243.5h.55v.55h-.55zM270.7 242.9h.55v.55h-.55zM266.2 270.1h.55v.55h-.55zM269.6 239.8h.55v.55h-.55zM265.3 250.0h.55v.55h-.55zM259.9 254.0h.55v.55h-.55zM259.9 244.5h.55v.55h-.55zM266.6 247.4h.55v.55h-.55zM269.0 256.1h.55v.55h-.55zM265.8 263.1h.55v.55h-.55zM270.1 249.4h.55v.55h-.55zM263.5 237.7h.55v.55h-.55zM266.4 244.0h.55v.55h-.55zM265.8 234.0h.55v.55h-.55zM263.8 242.0h.55v.55h-.55zM259.9 246.6h.55v.55h-.55zM267.7 262.7h.55v.55h-.55zM265.4 264.3h.55v.55h-.55zM261.0 240.2h.55v.55h-.55zM270.7 243.5h.55v.55h-.55zM269.1 254.3h.55v.55h-.55zM270.7 246.5h.55v.55h-.55zM265.2 238.4h.55v.55h-.55zM267.3 260.3h.55v.55h-.55zM262.1 238.4h.55v.55h-.55zM264.9 232.3h.55v.55h-.55zM263.3 243.1h.55v.55h-.55zM262.0 236.2h.55v.55h-.55zM262.2 261.0h.55v.55h-.55zM264.7 269.5h.55v.55h-.55zM265.7 259.0h.55v.55h-.55zM261.9 248.3h.55v.55h-.55zM269.4 233.7h.55v.55h-.55zM264.2 252.2h.55v.55h-.55zM260.2 243.0h.55v.55h-.55zM261.7 250.0h.55v.55h-.55zM263.4 232.5h.55v.55h-.55zM267.4 250.3h.55v.55h-.55zM270.7 248.4h.55v.55h-.55zM263.3 245.9h.55v.55h-.55zM267.1 251.8h.55v.55h-.55zM262.8 266.2h.55v.55h-.55zM270.7 245.4h.55v.55h-.55zM270.7 253.3h.55v.55h-.55zM261.5 238.4h.55v.55h-.55zM259.9 246.6h.55v.55h-.55zM262.1 260.6h.55v.55h-.55zM263.3 256.8h.55v.55h-.55zM268.5 254.4h.55v.55h-.55zM262.5 253.0h.55v.55h-.55zM262.8 279.1h.55v.55h-.55zM264.2 261.9h.55v.55h-.55zM265.3 239.0h.55v.55h-.55zM263.9 242.9h.55v.55h-.55zM270.4 252.7h.55v.55h-.55zM262.2 228.9h.55v.55h-.55zM265.8 258.6h.55v.55h-.55zM266.1 266.9h.55v.55h-.55zM261.4 258.8h.55v.55h-.55zM266.8 253.9h.55v.55h-.55zM259.9 251.4h.55v.55h-.55zM270.7 247.5h.55v.55h-.55zM259.9 249.3h.55v.55h-.55zM267.5 260.2h.55v.55h-.55zM270.7 243.3h.55v.55h-.55zM270.7 245.6h.55v.55h-.55zM270.7 249.8h.55v.55h-.55zM260.1 252.8h.55v.55h-.55zM265.1 250.8h.55v.55h-.55zM268.8 247.4h.55v.55h-.55zM268.2 243.1h.55v.55h-.55zM267.1 241.2h.55v.55h-.55zM268.5 252.5h.55v.55h-.55zM264.8 266.4h.55v.55h-.55zM268.9 244.8h.55v.55h-.55zM266.4 237.3h.55v.55h-.55zM259.9 254.0h.55v.55h-.55zM270.7 247.5h.55v.55h-.55zM263.0 258.4h.55v.55h-.55zM269.0 250.8h.55v.55h-.55zM259.9 249.8h.55v.55h-.55zM268.3 249.1h.55v.55h-.55zM267.1 241.4h.55v.55h-.55zM269.9 257.5h.55v.55h-.55zM270.7 242.8h.55v.55h-.55zM267.9 243.9h.55v.55h-.55zM270.7 252.5h.55v.55h-.55zM261.5 256.1h.55v.55h-.55zM267.3 251.0h.55v.55h-.55zM265.3 244.8h.55v.55h-.55zM262.6 247.4h.55v.55h-.55zM259.9 254.5h.55v.55h-.55zM266.8 238.8h.55v.55h-.55zM267.0 247.4h.55v.55h-.55zM269.9 259.4h.55v.55h-.55zM265.9 268.7h.55v.55h-.55zM259.9 256.8h.55v.55h-.55zM264.1 254.6h.55v.55h-.55zM265.2 234.0h.55v.55h-.55zM269.2 250.6h.55v.55h-.55zM262.1 254.0h.55v.55h-.55zM267.5 245.3h.55v.55h-.55zM266.0 264.0h.55v.55h-.55zM263.9 245.9h.55v.55h-.55zM259.9 243.5h.55v.55h-.55zM266.0 245.7h.55v.55h-.55zM259.9 255.4h.55v.55h-.55zM266.1 237.7h.55v.55h-.55zM270.7 244.7h.55v.55h-.55zM266.8 248.1h.55v.55h-.55zM266.9 248.1h.55v.55h-.55zM266.4 244.3h.55v.55h-.55zM264.7 240.0h.55v.55h-.55zM261.3 259.5h.55v.55h-.55zM270.7 242.9h.55v.55h-.55zM259.9 250.2h.55v.55h-.55zM259.9 241.5h.55v.55h-.55zM268.8 249.1h.55v.55h-.55zM262.0 264.8h.55v.55h-.55zM262.7 254.0h.55v.55h-.55zM262.8 269.5h.55v.55h-.55zM264.2 261.1h.55v.55h-.55zM260.6 245.0h.55v.55h-.55zM266.6 261.1h.55v.55h-.55zM269.7 242.9h.55v.55h-.55zM263.5 249.8h.55v.55h-.55zM268.2 255.0h.55v.55h-.55zM269.7 258.1h.55v.55h-.55zM264.2 253.1h.55v.55h-.55zM263.2 241.6h.55v.55h-.55zM268.6 245.4h.55v.55h-.55zM266.1 245.7h.55v.55h-.55zM264.2 242.9h.55v.55h-.55zM266.7 237.7h.55v.55h-.55zM261.2 240.6h.55v.55h-.55zM259.9 241.9h.55v.55h-.55zM264.9 256.1h.55v.55h-.55zM265.4 230.5h.55v.55h-.55zM268.0 254.4h.55v.55h-.55zM263.7 261.5h.55v.55h-.55zM259.9 251.3h.55v.55h-.55zM263.1 257.6h.55v.55h-.55zM263.7 260.9h.55v.55h-.55zM261.9 253.4h.55v.55h-.55zM269.1 264.0h.55v.55h-.55zM259.9 255.5h.55v.55h-.55zM262.3 247.8h.55v.55h-.55zM260.4 246.5h.55v.55h-.55zM266.0 247.9h.55v.55h-.55zM270.7 248.1h.55v.55h-.55zM264.2 250.8h.55v.55h-.55zM270.7 253.3h.55v.55h-.55zM267.4 241.3h.55v.55h-.55zM259.9 249.0h.55v.55h-.55zM268.4 233.9h.55v.55h-.55zM262.1 239.2h.55v.55h-.55zM269.6 255.2h.55v.55h-.55zM263.9 279.2h.55v.55h-.55zM270.7 245.5h.55v.55h-.55zM261.8 251.3h.55v.55h-.55zM264.5 259.1h.55v.55h-.55zM265.6 251.4h.55v.55h-.55zM263.3 253.9h.55v.55h-.55zM266.5 249.0h.55v.55h-.55zM262.2 257.0h.55v.55h-.55zM267.1 257.4h.55v.55h-.55zM266.7 241.5h.55v.55h-.55zM266.8 238.2h.55v.55h-.55zM262.0 252.2h.55v.55h-.55zM266.6 244.9h.55v.55h-.55zM269.8 238.2h.55v.55h-.55zM266.2 262.0h.55v.55h-.55zM263.2 239.1h.55v.55h-.55zM267.0 258.2h.55v.55h-.55zM268.0 249.2h.55v.55h-.55zM261.6 260.6h.55v.55h-.55zM265.2 268.8h.55v.55h-.55zM267.3 259.8h.55v.55h-.55z" fill="#707070" fill-opacity="0.5"/>
<rect x="180.6" y="230" width="4.2" height="9.6" fill="#fff" stroke="#222" stroke-width="0.5" />
<line x1="180.6" y1="234.8" x2="184.8" y2="234.8" stroke="#222" stroke-width="0.5" />
<rect x="194.2" y="237.9" width="4.2" height="10" fill="#fff" stroke="#222" stroke-width="0.5" />
<line x1="194.2" y1="242.8" x2="198.4" y2="242.8" stroke="#222" stroke-width="0.5" />
<rect x="207.9" y="244.5" width="4.2" height="11.2" fill="#fff" stroke="#222" stroke-width="0.5" />
<line x1="207.9" y1="250" x2="212.1" y2="250" stroke="#222" stroke-width="0.5" />
<rect x="221.8" y="255.7" width="4.2" height="14.5" fill="#fff" stroke="#222" stroke-width="0.5" />
<line x1="221.8" y1="262.8" x2="226" y2="262.8" stroke="#222" stroke-width="0.5" />
<rect x="235.7" y="235.6" width="4.2" height="10.1" fill="#fff" stroke="#222" stroke-width="0.5" />
<line x1="235.7" y1="240.6" x2="239.9" y2="240.6" stroke="#222" stroke-width="0.5" />
<rect x="249.7" y="236.7" width="4.2" height="10.5" fill="#fff" stroke="#222" stroke-width="0.5" />
<line x1="249.7" y1="242" x2="253.9" y2="242" stroke="#222" stroke-width="0.5" />
<rect x="263.2" y="242.3" width="4.2" height="12.3" fill="#fff" stroke="#222" stroke-width="0.5" />
<line x1="263.2" y1="248.4" x2="267.4" y2="248.4" stroke="#222" stroke-width="0.5" />
<rect x="174.4" y="206.2" width="99.6" height="119.80000000000001" fill="none" stroke="#000" stroke-width="0.9"/>
<line x1="171.3" y1="227.8" x2="174.4" y2="227.8" stroke="#000" stroke-width="0.8" />
<text x="168.6" y="229.7" font-size="5.4" text-anchor="end" fill="#222" stroke="#222" stroke-width="0.12" >4</text>
<line x1="171.3" y1="260.1" x2="174.4" y2="260.1" stroke="#000" stroke-width="0.8" />
<text x="168.6" y="262" font-size="5.4" text-anchor="end" fill="#222" stroke="#222" stroke-width="0.12" >3</text>
<line x1="171.3" y1="292.4" x2="174.4" y2="292.4" stroke="#000" stroke-width="0.8" />
<text x="168.6" y="294.3" font-size="5.4" text-anchor="end" fill="#222" stroke="#222" stroke-width="0.12" >2</text>
<line x1="171.3" y1="324.7" x2="174.4" y2="324.7" stroke="#000" stroke-width="0.8" />
<text x="168.6" y="326.6" font-size="5.4" text-anchor="end" fill="#222" stroke="#222" stroke-width="0.12" >1</text>
<line x1="182.7" y1="326" x2="182.7" y2="329.5" stroke="#000" stroke-width="0.8" />
<line x1="196.3" y1="326" x2="196.3" y2="329.5" stroke="#000" stroke-width="0.8" />
<line x1="210" y1="326" x2="210" y2="329.5" stroke="#000" stroke-width="0.8" />
<line x1="223.9" y1="326" x2="223.9" y2="329.5" stroke="#000" stroke-width="0.8" />
<line x1="237.8" y1="326" x2="237.8" y2="329.5" stroke="#000" stroke-width="0.8" />
<line x1="251.8" y1="326" x2="251.8" y2="329.5" stroke="#000" stroke-width="0.8" />
<line x1="265.3" y1="326" x2="265.3" y2="329.5" stroke="#000" stroke-width="0.8" />
<text x="224" y="338.9" font-size="6.7" text-anchor="middle" textLength="31.5" lengthAdjust="spacingAndGlyphs" stroke="#000" stroke-width="0.22" >UMAP cluster</text>
<text x="160.9" y="262.6" font-size="6" text-anchor="middle" textLength="60.2" lengthAdjust="spacingAndGlyphs" transform="rotate(-90 160.9 262.6)" stroke="#000" stroke-width="0.18" >aTreg vs rTreg gene-set score</text>
<text x="289" y="197.3" font-size="11.6" font-weight="bold" stroke="#000" stroke-width="0.45">D</text>
<text x="354.3" y="197.2" font-size="6.9" text-anchor="middle" stroke="#000" stroke-width="0.12" >CMA1</text>
<line x1="317.2" y1="200" x2="317.2" y2="218.6" stroke="#000" stroke-width="0.9" />
<line x1="313.8" y1="204.5" x2="317.2" y2="204.5" stroke="#000" stroke-width="0.8" />
<text x="310.6" y="206.4" font-size="5.2" text-anchor="end" fill="#333" stroke="#333" stroke-width="0.12" >0.75</text>
<line x1="313.8" y1="208.4" x2="317.2" y2="208.4" stroke="#000" stroke-width="0.8" />
<text x="310.6" y="210.3" font-size="5.2" text-anchor="end" fill="#333" stroke="#333" stroke-width="0.12" >0.50</text>
<line x1="313.8" y1="212.3" x2="317.2" y2="212.3" stroke="#000" stroke-width="0.8" />
<text x="310.6" y="214.2" font-size="5.2" text-anchor="end" fill="#333" stroke="#333" stroke-width="0.12" >0.25</text>
<line x1="313.8" y1="216.2" x2="317.2" y2="216.2" stroke="#000" stroke-width="0.8" />
<text x="310.6" y="218.1" font-size="5.2" text-anchor="end" fill="#333" stroke="#333" stroke-width="0.12" >0.00</text>
<path d="M319.3 216.3 Q322.9 215.91 323.6 215 L324.2 215 Q324.9 215.91 328.5 216.3 Z" fill="#c9b8df" stroke="#555" stroke-width="0.55"/>
<line x1="334.3" y1="204.2" x2="334.3" y2="216.3" stroke="#707070" stroke-width="0.75" />
<path d="M329.7 216.3 Q333.3 215.91 334 215 L334.6 215 Q335.3 215.91 338.9 216.3 Z" fill="#a9c83c" stroke="#555" stroke-width="0.55"/>
<line x1="344.7" y1="209" x2="344.7" y2="216.3" stroke="#707070" stroke-width="0.75" />
<path d="M340.1 216.3 Q343.7 215.91 344.4 215 L345 215 Q345.7 215.91 349.3 216.3 Z" fill="#a9a9a9" stroke="#555" stroke-width="0.55"/>
<line x1="355.1" y1="208.6" x2="355.1" y2="216.3" stroke="#707070" stroke-width="0.75" />
<path d="M350.5 216.3 Q354.1 215.91 354.8 215 L355.4 215 Q356.1 215.91 359.7 216.3 Z" fill="#000000" stroke="#555" stroke-width="0.55"/>
<line x1="365.5" y1="205.3" x2="365.5" y2="216.3" stroke="#707070" stroke-width="0.75" />
<path d="M360.9 216.3 Q364.5 215.91 365.2 215 L365.8 215 Q366.5 215.91 370.1 216.3 Z" fill="#5a3a9a" stroke="#555" stroke-width="0.55"/>
<line x1="386.3" y1="210" x2="386.3" y2="216.3" stroke="#707070" stroke-width="0.75" />
<path d="M381.7 216.3 Q385.3 215.91 386 215 L386.6 215 Q387.3 215.91 390.9 216.3 Z" fill="#8fd0e2" stroke="#555" stroke-width="0.55"/>
<path d="M376.1 201.1 C376.17 201.42 376.3 202.18 376.5 203 C376.7 203.82 377.1 205 377.3 206 C377.5 207 377.67 208.08 377.7 209 C377.73 209.92 377.53 210.75 377.5 211.5 C377.47 212.25 377.3 212.95 377.5 213.5 C377.7 214.05 378.25 214.43 378.7 214.8 C379.15 215.17 379.9 215.45 380.2 215.7 C380.5 215.95 380.45 216.2 380.5 216.3 L371.3 216.3 C371.35 216.2 371.3 215.95 371.6 215.7 C371.9 215.45 372.65 215.17 373.1 214.8 C373.55 214.43 374.1 214.05 374.3 213.5 C374.5 212.95 374.33 212.25 374.3 211.5 C374.27 210.75 374.07 209.92 374.1 209 C374.13 208.08 374.3 207 374.5 206 C374.7 205 375.1 203.82 375.3 203 C375.5 202.18 375.63 201.42 375.7 201.1Z" fill="#d01c26" stroke="#333" stroke-width="0.5"/>
<text x="354" y="231.6" font-size="6.9" text-anchor="middle" stroke="#000" stroke-width="0.12" >GNLY</text>
<line x1="317.2" y1="235.1" x2="317.2" y2="254" stroke="#000" stroke-width="0.9" />
<line x1="313.8" y1="236.3" x2="317.2" y2="236.3" stroke="#000" stroke-width="0.8" />
<text x="310.6" y="238.2" font-size="5.2" text-anchor="end" fill="#333" stroke="#333" stroke-width="0.12" >1.5</text>
<line x1="313.8" y1="241.7" x2="317.2" y2="241.7" stroke="#000" stroke-width="0.8" />
<text x="310.6" y="243.6" font-size="5.2" text-anchor="end" fill="#333" stroke="#333" stroke-width="0.12" >1.0</text>
<line x1="313.8" y1="247" x2="317.2" y2="247" stroke="#000" stroke-width="0.8" />
<text x="310.6" y="248.9" font-size="5.2" text-anchor="end" fill="#333" stroke="#333" stroke-width="0.12" >0.5</text>
<line x1="313.8" y1="252.4" x2="317.2" y2="252.4" stroke="#000" stroke-width="0.8" />
<text x="310.6" y="254.3" font-size="5.2" text-anchor="end" fill="#333" stroke="#333" stroke-width="0.12" >0.0</text>
<line x1="323.9" y1="242.4" x2="323.9" y2="252.4" stroke="#707070" stroke-width="0.75" />
<path d="M319.3 252.4 Q322.9 252.01 323.6 251.1 L324.2 251.1 Q324.9 252.01 328.5 252.4 Z" fill="#c9b8df" stroke="#555" stroke-width="0.55"/>
<line x1="334.3" y1="239.7" x2="334.3" y2="252.4" stroke="#707070" stroke-width="0.75" />
<path d="M329.7 252.4 Q333.3 252.01 334 251.1 L334.6 251.1 Q335.3 252.01 338.9 252.4 Z" fill="#a9c83c" stroke="#555" stroke-width="0.55"/>
<line x1="344.7" y1="241.4" x2="344.7" y2="252.4" stroke="#707070" stroke-width="0.75" />
<path d="M340.1 252.4 Q343.7 252.01 344.4 251.1 L345 251.1 Q345.7 252.01 349.3 252.4 Z" fill="#a9a9a9" stroke="#555" stroke-width="0.55"/>
<line x1="355.1" y1="244.5" x2="355.1" y2="252.4" stroke="#707070" stroke-width="0.75" />
<path d="M350.5 252.4 Q354.1 252.01 354.8 251.1 L355.4 251.1 Q356.1 252.01 359.7 252.4 Z" fill="#000000" stroke="#555" stroke-width="0.55"/>
<line x1="365.5" y1="240.3" x2="365.5" y2="252.4" stroke="#707070" stroke-width="0.75" />
<path d="M360.9 252.4 Q364.5 252.01 365.2 251.1 L365.8 251.1 Q366.5 252.01 370.1 252.4 Z" fill="#5a3a9a" stroke="#555" stroke-width="0.55"/>
<line x1="386.3" y1="241.4" x2="386.3" y2="252.4" stroke="#707070" stroke-width="0.75" />
<path d="M381.7 252.4 Q385.3 252.01 386 251.1 L386.6 251.1 Q387.3 252.01 390.9 252.4 Z" fill="#8fd0e2" stroke="#555" stroke-width="0.55"/>
<path d="M376.4 235.8 C376.68 235.9 377.65 236.1 378.1 236.4 C378.55 236.7 378.8 236.98 379.1 237.6 C379.4 238.22 379.8 239.28 379.9 240.1 C380 240.92 379.78 241.72 379.7 242.5 C379.62 243.28 379.32 243.75 379.4 244.8 C379.48 245.85 380 247.67 380.2 248.8 C380.4 249.93 380.52 251 380.6 251.6 C380.68 252.2 380.68 252.27 380.7 252.4 L371.1 252.4 C371.12 252.27 371.12 252.2 371.2 251.6 C371.28 251 371.4 249.93 371.6 248.8 C371.8 247.67 372.32 245.85 372.4 244.8 C372.48 243.75 372.18 243.28 372.1 242.5 C372.02 241.72 371.8 240.92 371.9 240.1 C372 239.28 372.4 238.22 372.7 237.6 C373 236.98 373.25 236.7 373.7 236.4 C374.15 236.1 375.12 235.9 375.4 235.8Z" fill="#d01c26" stroke="#333" stroke-width="0.5"/>
<text x="354.5" y="266.7" font-size="6.9" text-anchor="middle" stroke="#000" stroke-width="0.12" >GZMB</text>
<line x1="317.2" y1="269.6" x2="317.2" y2="290.5" stroke="#000" stroke-width="0.9" />
<line x1="313.8" y1="271.1" x2="317.2" y2="271.1" stroke="#000" stroke-width="0.8" />
<text x="310.6" y="273" font-size="5.2" text-anchor="end" fill="#333" stroke="#333" stroke-width="0.12" >1.5</text>
<line x1="313.8" y1="276.6" x2="317.2" y2="276.6" stroke="#000" stroke-width="0.8" />
<text x="310.6" y="278.5" font-size="5.2" text-anchor="end" fill="#333" stroke="#333" stroke-width="0.12" >1.0</text>
<line x1="313.8" y1="282.1" x2="317.2" y2="282.1" stroke="#000" stroke-width="0.8" />
<text x="310.6" y="284" font-size="5.2" text-anchor="end" fill="#333" stroke="#333" stroke-width="0.12" >0.5</text>
<line x1="313.8" y1="287.6" x2="317.2" y2="287.6" stroke="#000" stroke-width="0.8" />
<text x="310.6" y="289.5" font-size="5.2" text-anchor="end" fill="#333" stroke="#333" stroke-width="0.12" >0.0</text>
<line x1="323.9" y1="274.8" x2="323.9" y2="287.6" stroke="#707070" stroke-width="0.75" />
<path d="M319.3 287.6 Q322.9 287.21 323.6 286.3 L324.2 286.3 Q324.9 287.21 328.5 287.6 Z" fill="#c9b8df" stroke="#555" stroke-width="0.55"/>
<line x1="334.3" y1="280.5" x2="334.3" y2="287.6" stroke="#707070" stroke-width="0.75" />
<path d="M329.7 287.6 Q333.3 287.21 334 286.3 L334.6 286.3 Q335.3 287.21 338.9 287.6 Z" fill="#a9c83c" stroke="#555" stroke-width="0.55"/>
<line x1="344.7" y1="279.4" x2="344.7" y2="287.6" stroke="#707070" stroke-width="0.75" />
<path d="M340.1 287.6 Q343.7 287.21 344.4 286.3 L345 286.3 Q345.7 287.21 349.3 287.6 Z" fill="#a9a9a9" stroke="#555" stroke-width="0.55"/>
<line x1="355.1" y1="277.3" x2="355.1" y2="287.6" stroke="#707070" stroke-width="0.75" />
<path d="M350.5 287.6 Q354.1 287.21 354.8 286.3 L355.4 286.3 Q356.1 287.21 359.7 287.6 Z" fill="#000000" stroke="#555" stroke-width="0.55"/>
<line x1="365.5" y1="274.2" x2="365.5" y2="287.6" stroke="#707070" stroke-width="0.75" />
<path d="M360.9 287.6 Q364.5 287.21 365.2 286.3 L365.8 286.3 Q366.5 287.21 370.1 287.6 Z" fill="#5a3a9a" stroke="#555" stroke-width="0.55"/>
<line x1="386.3" y1="283.8" x2="386.3" y2="287.6" stroke="#707070" stroke-width="0.75" />
<path d="M381.7 287.6 Q385.3 287.21 386 286.3 L386.6 286.3 Q387.3 287.21 390.9 287.6 Z" fill="#8fd0e2" stroke="#555" stroke-width="0.55"/>
<path d="M376.1 271.3 C376.15 271.67 376.27 272.72 376.4 273.5 C376.53 274.28 376.7 275.17 376.9 276 C377.1 276.83 377.37 277.67 377.6 278.5 C377.83 279.33 378.08 280.17 378.3 281 C378.52 281.83 378.7 282.75 378.9 283.5 C379.1 284.25 379.27 284.95 379.5 285.5 C379.73 286.05 380.1 286.45 380.3 286.8 C380.5 287.15 380.63 287.47 380.7 287.6 L371.1 287.6 C371.17 287.47 371.3 287.15 371.5 286.8 C371.7 286.45 372.07 286.05 372.3 285.5 C372.53 284.95 372.7 284.25 372.9 283.5 C373.1 282.75 373.28 281.83 373.5 281 C373.72 280.17 373.97 279.33 374.2 278.5 C374.43 277.67 374.7 276.83 374.9 276 C375.1 275.17 375.27 274.28 375.4 273.5 C375.53 272.72 375.65 271.67 375.7 271.3Z" fill="#d01c26" stroke="#333" stroke-width="0.5"/>
<text x="354.5" y="304.9" font-size="6.9" text-anchor="middle" stroke="#000" stroke-width="0.12" >IFI44</text>
<line x1="317.2" y1="308.2" x2="317.2" y2="327" stroke="#000" stroke-width="0.9" />
<line x1="313.8" y1="313.6" x2="317.2" y2="313.6" stroke="#000" stroke-width="0.8" />
<text x="310.6" y="315.5" font-size="5.2" text-anchor="end" fill="#333" stroke="#333" stroke-width="0.12" >0.75</text>
<line x1="313.8" y1="317.5" x2="317.2" y2="317.5" stroke="#000" stroke-width="0.8" />
<text x="310.6" y="319.4" font-size="5.2" text-anchor="end" fill="#333" stroke="#333" stroke-width="0.12" >0.50</text>
<line x1="313.8" y1="321.4" x2="317.2" y2="321.4" stroke="#000" stroke-width="0.8" />
<text x="310.6" y="323.3" font-size="5.2" text-anchor="end" fill="#333" stroke="#333" stroke-width="0.12" >0.25</text>
<line x1="313.8" y1="325.3" x2="317.2" y2="325.3" stroke="#000" stroke-width="0.8" />
<text x="310.6" y="327.2" font-size="5.2" text-anchor="end" fill="#333" stroke="#333" stroke-width="0.12" >0.00</text>
<line x1="323.9" y1="313.5" x2="323.9" y2="325.3" stroke="#707070" stroke-width="0.75" />
<path d="M319.3 325.3 Q322.9 324.91 323.6 324 L324.2 324 Q324.9 324.91 328.5 325.3 Z" fill="#c9b8df" stroke="#555" stroke-width="0.55"/>
<line x1="334.3" y1="313.3" x2="334.3" y2="325.3" stroke="#707070" stroke-width="0.75" />
<path d="M329.7 325.3 Q333.3 324.91 334 324 L334.6 324 Q335.3 324.91 338.9 325.3 Z" fill="#a9c83c" stroke="#555" stroke-width="0.55"/>
<line x1="344.7" y1="317.6" x2="344.7" y2="325.3" stroke="#707070" stroke-width="0.75" />
<path d="M340.1 325.3 Q343.7 324.91 344.4 324 L345 324 Q345.7 324.91 349.3 325.3 Z" fill="#a9a9a9" stroke="#555" stroke-width="0.55"/>
<line x1="355.1" y1="314.5" x2="355.1" y2="325.3" stroke="#707070" stroke-width="0.75" />
<path d="M350.5 325.3 Q354.1 324.91 354.8 324 L355.4 324 Q356.1 324.91 359.7 325.3 Z" fill="#000000" stroke="#555" stroke-width="0.55"/>
<line x1="365.5" y1="311.4" x2="365.5" y2="325.3" stroke="#707070" stroke-width="0.75" />
<path d="M360.9 325.3 Q364.5 324.91 365.2 324 L365.8 324 Q366.5 324.91 370.1 325.3 Z" fill="#5a3a9a" stroke="#555" stroke-width="0.55"/>
<line x1="375.9" y1="312.4" x2="375.9" y2="325.3" stroke="#707070" stroke-width="0.75" />
<path d="M371.3 325.3 Q374.9 324.91 375.6 324 L376.2 324 Q376.9 324.91 380.5 325.3 Z" fill="#d01c26" stroke="#555" stroke-width="0.55"/>
<path d="M386.5 313.5 C386.57 313.92 386.7 315.25 386.9 316 C387.1 316.75 387.38 317.38 387.7 318 C388.02 318.62 388.55 319.17 388.8 319.7 C389.05 320.23 389.2 320.7 389.2 321.2 C389.2 321.7 388.85 322.27 388.8 322.7 C388.75 323.13 388.68 323.48 388.9 323.8 C389.12 324.12 389.73 324.35 390.1 324.6 C390.47 324.85 390.93 325.18 391.1 325.3 L381.5 325.3 C381.67 325.18 382.13 324.85 382.5 324.6 C382.87 324.35 383.48 324.12 383.7 323.8 C383.92 323.48 383.85 323.13 383.8 322.7 C383.75 322.27 383.4 321.7 383.4 321.2 C383.4 320.7 383.55 320.23 383.8 319.7 C384.05 319.17 384.58 318.62 384.9 318 C385.22 317.38 385.5 316.75 385.7 316 C385.9 315.25 386.03 313.92 386.1 313.5Z" fill="#8fd0e2" stroke="#333" stroke-width="0.5"/>
<path d="M371.1 325.3 Q373.9 323.6 375.9 322.8 Q377.9 323.6 380.7 325.3 Z" fill="#d01c26" stroke="#444" stroke-width="0.4"/>
<line x1="323.9" y1="326" x2="323.9" y2="329.8" stroke="#000" stroke-width="0.7" />
<line x1="334.3" y1="326" x2="334.3" y2="329.8" stroke="#000" stroke-width="0.7" />
<line x1="344.7" y1="326" x2="344.7" y2="329.8" stroke="#000" stroke-width="0.7" />
<line x1="355.1" y1="326" x2="355.1" y2="329.8" stroke="#000" stroke-width="0.7" />
<line x1="365.5" y1="326" x2="365.5" y2="329.8" stroke="#000" stroke-width="0.7" />
<line x1="375.9" y1="326" x2="375.9" y2="329.8" stroke="#000" stroke-width="0.7" />
<line x1="386.3" y1="326" x2="386.3" y2="329.8" stroke="#000" stroke-width="0.7" />
<rect x="318.6" y="331.4" width="10.3" height="9.9" fill="#c9b8df" stroke="#333" stroke-width="0.5" />
<rect x="328.9" y="331.4" width="10.3" height="9.9" fill="#a9c83c" stroke="#333" stroke-width="0.5" />
<rect x="339.2" y="331.4" width="10.3" height="9.9" fill="#a9a9a9" stroke="#333" stroke-width="0.5" />
<rect x="349.5" y="331.4" width="10.3" height="9.9" fill="#000000" stroke="#333" stroke-width="0.5" />
<rect x="359.8" y="331.4" width="10.3" height="9.9" fill="#5a3a9a" stroke="#333" stroke-width="0.5" />
<rect x="370.1" y="331.4" width="10.3" height="9.9" fill="#d01c26" stroke="#333" stroke-width="0.5" />
<rect x="380.4" y="331.4" width="10.3" height="9.9" fill="#8fd0e2" stroke="#333" stroke-width="0.5" />
<text x="354.5" y="350.7" font-size="7.2" text-anchor="middle" textLength="31.4" lengthAdjust="spacingAndGlyphs" stroke="#000" stroke-width="0.22" >UMAP cluster</text>
<text x="453.9" y="196.6" font-size="6.9" text-anchor="middle" stroke="#000" stroke-width="0.12" >IFNAR1</text>
<line x1="417.2" y1="196.3" x2="417.2" y2="218.4" stroke="#000" stroke-width="0.9" />
<line x1="413.8" y1="199.2" x2="417.2" y2="199.2" stroke="#000" stroke-width="0.8" />
<text x="410.6" y="201.1" font-size="5.2" text-anchor="end" fill="#333" stroke="#333" stroke-width="0.12" >1.00</text>
<line x1="413.8" y1="203.35" x2="417.2" y2="203.35" stroke="#000" stroke-width="0.8" />
<text x="410.6" y="205.25" font-size="5.2" text-anchor="end" fill="#333" stroke="#333" stroke-width="0.12" >0.75</text>
<line x1="413.8" y1="207.5" x2="417.2" y2="207.5" stroke="#000" stroke-width="0.8" />
<text x="410.6" y="209.4" font-size="5.2" text-anchor="end" fill="#333" stroke="#333" stroke-width="0.12" >0.50</text>
<line x1="413.8" y1="211.65" x2="417.2" y2="211.65" stroke="#000" stroke-width="0.8" />
<text x="410.6" y="213.55" font-size="5.2" text-anchor="end" fill="#333" stroke="#333" stroke-width="0.12" >0.25</text>
<line x1="413.8" y1="215.8" x2="417.2" y2="215.8" stroke="#000" stroke-width="0.8" />
<text x="410.6" y="217.7" font-size="5.2" text-anchor="end" fill="#333" stroke="#333" stroke-width="0.12" >0.00</text>
<line x1="423.6" y1="208.4" x2="423.6" y2="215.9" stroke="#707070" stroke-width="0.75" />
<path d="M419 215.9 Q422.6 215.42 423.3 214.3 L423.9 214.3 Q424.6 215.42 428.2 215.9 Z" fill="#c9b8df" stroke="#555" stroke-width="0.55"/>
<line x1="434" y1="207.5" x2="434" y2="215.9" stroke="#707070" stroke-width="0.75" />
<path d="M429.4 215.9 Q433 215.42 433.7 214.3 L434.3 214.3 Q435 215.42 438.6 215.9 Z" fill="#a9c83c" stroke="#555" stroke-width="0.55"/>
<line x1="444.4" y1="205.3" x2="444.4" y2="215.9" stroke="#707070" stroke-width="0.75" />
<path d="M439.8 215.9 Q443.4 215.42 444.1 214.3 L444.7 214.3 Q445.4 215.42 449 215.9 Z" fill="#a9a9a9" stroke="#555" stroke-width="0.55"/>
<line x1="454.8" y1="206.9" x2="454.8" y2="215.9" stroke="#707070" stroke-width="0.75" />
<path d="M450.2 215.9 Q453.8 215.42 454.5 214.3 L455.1 214.3 Q455.8 215.42 459.4 215.9 Z" fill="#000000" stroke="#555" stroke-width="0.55"/>
<line x1="465.2" y1="206.5" x2="465.2" y2="215.9" stroke="#707070" stroke-width="0.75" />
<path d="M460.6 215.9 Q464.2 215.42 464.9 214.3 L465.5 214.3 Q466.2 215.42 469.8 215.9 Z" fill="#5a3a9a" stroke="#555" stroke-width="0.55"/>
<line x1="475.6" y1="209" x2="475.6" y2="215.9" stroke="#707070" stroke-width="0.75" />
<path d="M471 215.9 Q474.6 215.42 475.3 214.3 L475.9 214.3 Q476.6 215.42 480.2 215.9 Z" fill="#d01c26" stroke="#555" stroke-width="0.55"/>
<line x1="486" y1="208.4" x2="486" y2="215.9" stroke="#707070" stroke-width="0.75" />
<path d="M481.4 215.9 Q485 215.42 485.7 214.3 L486.3 214.3 Q487 215.42 490.6 215.9 Z" fill="#8fd0e2" stroke="#555" stroke-width="0.55"/>
<text x="453.9" y="232.1" font-size="6.9" text-anchor="middle" stroke="#000" stroke-width="0.12" >IRF9</text>
<line x1="417.2" y1="232.9" x2="417.2" y2="254.5" stroke="#000" stroke-width="0.9" />
<line x1="413.8" y1="235.4" x2="417.2" y2="235.4" stroke="#000" stroke-width="0.8" />
<text x="410.6" y="237.3" font-size="5.2" text-anchor="end" fill="#333" stroke="#333" stroke-width="0.12" >1.00</text>
<line x1="413.8" y1="239.57" x2="417.2" y2="239.57" stroke="#000" stroke-width="0.8" />
<text x="410.6" y="241.47" font-size="5.2" text-anchor="end" fill="#333" stroke="#333" stroke-width="0.12" >0.75</text>
<line x1="413.8" y1="243.75" x2="417.2" y2="243.75" stroke="#000" stroke-width="0.8" />
<text x="410.6" y="245.65" font-size="5.2" text-anchor="end" fill="#333" stroke="#333" stroke-width="0.12" >0.50</text>
<line x1="413.8" y1="247.92" x2="417.2" y2="247.92" stroke="#000" stroke-width="0.8" />
<text x="410.6" y="249.82" font-size="5.2" text-anchor="end" fill="#333" stroke="#333" stroke-width="0.12" >0.25</text>
<line x1="413.8" y1="252.1" x2="417.2" y2="252.1" stroke="#000" stroke-width="0.8" />
<text x="410.6" y="254" font-size="5.2" text-anchor="end" fill="#333" stroke="#333" stroke-width="0.12" >0.00</text>
<line x1="423.6" y1="240.3" x2="423.6" y2="252.2" stroke="#707070" stroke-width="0.75" />
<path d="M419 252.2 Q422.6 251.6 423.3 250.2 L423.9 250.2 Q424.6 251.6 428.2 252.2 Z" fill="#c9b8df" stroke="#555" stroke-width="0.55"/>
<line x1="434" y1="240.3" x2="434" y2="252.2" stroke="#707070" stroke-width="0.75" />
<path d="M429.4 252.2 Q433 251.6 433.7 250.2 L434.3 250.2 Q435 251.6 438.6 252.2 Z" fill="#a9c83c" stroke="#555" stroke-width="0.55"/>
<line x1="444.4" y1="238.9" x2="444.4" y2="252.2" stroke="#707070" stroke-width="0.75" />
<path d="M439.8 252.2 Q443.4 251.6 444.1 250.2 L444.7 250.2 Q445.4 251.6 449 252.2 Z" fill="#a9a9a9" stroke="#555" stroke-width="0.55"/>
<line x1="454.8" y1="240.3" x2="454.8" y2="252.2" stroke="#707070" stroke-width="0.75" />
<path d="M450.2 252.2 Q453.8 251.6 454.5 250.2 L455.1 250.2 Q455.8 251.6 459.4 252.2 Z" fill="#000000" stroke="#555" stroke-width="0.55"/>
<line x1="465.2" y1="240.3" x2="465.2" y2="252.2" stroke="#707070" stroke-width="0.75" />
<path d="M460.6 252.2 Q464.2 251.6 464.9 250.2 L465.5 250.2 Q466.2 251.6 469.8 252.2 Z" fill="#5a3a9a" stroke="#555" stroke-width="0.55"/>
<line x1="475.6" y1="243.5" x2="475.6" y2="252.2" stroke="#707070" stroke-width="0.75" />
<path d="M471 252.2 Q474.6 251.6 475.3 250.2 L475.9 250.2 Q476.6 251.6 480.2 252.2 Z" fill="#d01c26" stroke="#555" stroke-width="0.55"/>
<path d="M486.2 242.6 C486.28 242.83 486.52 243.43 486.7 244 C486.88 244.57 487.15 245.33 487.3 246 C487.45 246.67 487.53 247.42 487.6 248 C487.67 248.58 487.53 249.07 487.7 249.5 C487.87 249.93 488.22 250.27 488.6 250.6 C488.98 250.93 489.65 251.23 490 251.5 C490.35 251.77 490.58 252.08 490.7 252.2 L481.3 252.2 C481.42 252.08 481.65 251.77 482 251.5 C482.35 251.23 483.02 250.93 483.4 250.6 C483.78 250.27 484.13 249.93 484.3 249.5 C484.47 249.07 484.33 248.58 484.4 248 C484.47 247.42 484.55 246.67 484.7 246 C484.85 245.33 485.12 244.57 485.3 244 C485.48 243.43 485.72 242.83 485.8 242.6Z" fill="#8fd0e2" stroke="#333" stroke-width="0.5"/>
<path d="M423.8 245.5 C423.88 245.79 424.3 246.67 424.3 247.25 C424.3 247.83 423.88 248.71 423.8 249 L423.4 249 C423.32 248.71 422.9 247.83 422.9 247.25 C422.9 246.67 423.32 245.79 423.4 245.5Z" fill="#c9b8df" stroke="#333" stroke-width="0.35"/>
<path d="M434.2 242 C434.32 242.58 434.9 244.33 434.9 245.5 C434.9 246.67 434.32 248.42 434.2 249 L433.8 249 C433.68 248.42 433.1 246.67 433.1 245.5 C433.1 244.33 433.68 242.58 433.8 242Z" fill="#a9c83c" stroke="#333" stroke-width="0.35"/>
<path d="M444.6 245.5 C444.67 245.79 445 246.67 445 247.25 C445 247.83 444.67 248.71 444.6 249 L444.2 249 C444.13 248.71 443.8 247.83 443.8 247.25 C443.8 246.67 444.13 245.79 444.2 245.5Z" fill="#a9a9a9" stroke="#333" stroke-width="0.35"/>
<path d="M455 245.3 C455.15 245.65 455.9 246.7 455.9 247.4 C455.9 248.1 455.15 249.15 455 249.5 L454.6 249.5 C454.45 249.15 453.7 248.1 453.7 247.4 C453.7 246.7 454.45 245.65 454.6 245.3Z" fill="#000000" stroke="#333" stroke-width="0.35"/>
<path d="M465.4 241.5 C465.52 242.25 466.1 244.5 466.1 246 C466.1 247.5 465.52 249.75 465.4 250.5 L465 250.5 C464.88 249.75 464.3 247.5 464.3 246 C464.3 244.5 464.88 242.25 465 241.5Z" fill="#5a3a9a" stroke="#333" stroke-width="0.35"/>
<path d="M475.8 245 C475.93 245.38 476.6 246.5 476.6 247.25 C476.6 248 475.93 249.12 475.8 249.5 L475.4 249.5 C475.27 249.12 474.6 248 474.6 247.25 C474.6 246.5 475.27 245.38 475.4 245Z" fill="#d01c26" stroke="#333" stroke-width="0.35"/>
<text x="454.7" y="266.7" font-size="6.9" text-anchor="middle" stroke="#000" stroke-width="0.12" >ISG15</text>
<line x1="417.2" y1="270" x2="417.2" y2="291" stroke="#000" stroke-width="0.9" />
<line x1="413.8" y1="272.7" x2="417.2" y2="272.7" stroke="#000" stroke-width="0.8" />
<text x="410.6" y="274.6" font-size="5.2" text-anchor="end" fill="#333" stroke="#333" stroke-width="0.12" >1.5</text>
<line x1="413.8" y1="278.1" x2="417.2" y2="278.1" stroke="#000" stroke-width="0.8" />
<text x="410.6" y="280" font-size="5.2" text-anchor="end" fill="#333" stroke="#333" stroke-width="0.12" >1.0</text>
<line x1="413.8" y1="283.5" x2="417.2" y2="283.5" stroke="#000" stroke-width="0.8" />
<text x="410.6" y="285.4" font-size="5.2" text-anchor="end" fill="#333" stroke="#333" stroke-width="0.12" >0.5</text>
<line x1="413.8" y1="288.8" x2="417.2" y2="288.8" stroke="#000" stroke-width="0.8" />
<text x="410.6" y="290.7" font-size="5.2" text-anchor="end" fill="#333" stroke="#333" stroke-width="0.12" >0.0</text>
<line x1="423.6" y1="279" x2="423.6" y2="288.8" stroke="#707070" stroke-width="0.75" />
<path d="M419 288.8 Q422.6 288.41 423.3 287.5 L423.9 287.5 Q424.6 288.41 428.2 288.8 Z" fill="#c9b8df" stroke="#555" stroke-width="0.55"/>
<line x1="434" y1="276.9" x2="434" y2="288.8" stroke="#707070" stroke-width="0.75" />
<path d="M429.4 288.8 Q433 288.41 433.7 287.5 L434.3 287.5 Q435 288.41 438.6 288.8 Z" fill="#a9c83c" stroke="#555" stroke-width="0.55"/>
<line x1="444.4" y1="278" x2="444.4" y2="288.8" stroke="#707070" stroke-width="0.75" />
<path d="M439.8 288.8 Q443.4 288.41 444.1 287.5 L444.7 287.5 Q445.4 288.41 449 288.8 Z" fill="#a9a9a9" stroke="#555" stroke-width="0.55"/>
<line x1="454.8" y1="278" x2="454.8" y2="288.8" stroke="#707070" stroke-width="0.75" />
<path d="M450.2 288.8 Q453.8 288.41 454.5 287.5 L455.1 287.5 Q455.8 288.41 459.4 288.8 Z" fill="#000000" stroke="#555" stroke-width="0.55"/>
<line x1="465.2" y1="275.9" x2="465.2" y2="288.8" stroke="#707070" stroke-width="0.75" />
<path d="M460.6 288.8 Q464.2 288.41 464.9 287.5 L465.5 287.5 Q466.2 288.41 469.8 288.8 Z" fill="#5a3a9a" stroke="#555" stroke-width="0.55"/>
<line x1="475.6" y1="280.5" x2="475.6" y2="288.8" stroke="#707070" stroke-width="0.75" />
<path d="M471 288.8 Q474.6 288.41 475.3 287.5 L475.9 287.5 Q476.6 288.41 480.2 288.8 Z" fill="#d01c26" stroke="#555" stroke-width="0.55"/>
<path d="M486.2 271.7 C486.53 272.08 487.53 273.2 488.2 274 C488.87 274.8 489.67 275.75 490.2 276.5 C490.73 277.25 491.33 277.83 491.4 278.5 C491.47 279.17 491.1 279.75 490.6 280.5 C490.1 281.25 489.07 282.25 488.4 283 C487.73 283.75 486.95 284.5 486.6 285 C486.25 285.5 486.35 285.37 486.3 286 C486.25 286.63 486.3 288.33 486.3 288.8 L485.7 288.8 C485.7 288.33 485.75 286.63 485.7 286 C485.65 285.37 485.75 285.5 485.4 285 C485.05 284.5 484.27 283.75 483.6 283 C482.93 282.25 481.9 281.25 481.4 280.5 C480.9 279.75 480.53 279.17 480.6 278.5 C480.67 277.83 481.27 277.25 481.8 276.5 C482.33 275.75 483.13 274.8 483.8 274 C484.47 273.2 485.47 272.08 485.8 271.7Z" fill="#8fd0e2" stroke="#333" stroke-width="0.5"/>
<path d="M465.4 284.5 C465.55 284.86 465.93 285.93 466.3 286.65 C466.67 287.37 467.4 288.44 467.62 288.8 L462.78 288.8 C463 288.44 463.73 287.37 464.1 286.65 C464.47 285.93 464.85 284.86 465 284.5Z" fill="#5a3a9a" stroke="#333" stroke-width="0.35"/>
<path d="M475.8 287 C476.03 287.15 476.65 287.6 477.2 287.9 C477.75 288.2 478.8 288.65 479.12 288.8 L472.08 288.8 C472.4 288.65 473.45 288.2 474 287.9 C474.55 287.6 475.17 287.15 475.4 287Z" fill="#d01c26" stroke="#333" stroke-width="0.35"/>
<text x="453.2" y="305.3" font-size="6.9" text-anchor="middle" stroke="#000" stroke-width="0.12" >MX1</text>
<line x1="417.2" y1="306.2" x2="417.2" y2="327" stroke="#000" stroke-width="0.9" />
<line x1="413.8" y1="308.7" x2="417.2" y2="308.7" stroke="#000" stroke-width="0.8" />
<text x="410.6" y="310.6" font-size="5.2" text-anchor="end" fill="#333" stroke="#333" stroke-width="0.12" >1.00</text>
<line x1="413.8" y1="312.93" x2="417.2" y2="312.93" stroke="#000" stroke-width="0.8" />
<text x="410.6" y="314.82" font-size="5.2" text-anchor="end" fill="#333" stroke="#333" stroke-width="0.12" >0.75</text>
<line x1="413.8" y1="317.15" x2="417.2" y2="317.15" stroke="#000" stroke-width="0.8" />
<text x="410.6" y="319.05" font-size="5.2" text-anchor="end" fill="#333" stroke="#333" stroke-width="0.12" >0.50</text>
<line x1="413.8" y1="321.38" x2="417.2" y2="321.38" stroke="#000" stroke-width="0.8" />
<text x="410.6" y="323.27" font-size="5.2" text-anchor="end" fill="#333" stroke="#333" stroke-width="0.12" >0.25</text>
<line x1="413.8" y1="325.6" x2="417.2" y2="325.6" stroke="#000" stroke-width="0.8" />
<text x="410.6" y="327.5" font-size="5.2" text-anchor="end" fill="#333" stroke="#333" stroke-width="0.12" >0.00</text>
<line x1="423.6" y1="315.5" x2="423.6" y2="325.6" stroke="#707070" stroke-width="0.75" />
<path d="M419 325.6 Q422.6 325.21 423.3 324.3 L423.9 324.3 Q424.6 325.21 428.2 325.6 Z" fill="#c9b8df" stroke="#555" stroke-width="0.55"/>
<line x1="434" y1="316.6" x2="434" y2="325.6" stroke="#707070" stroke-width="0.75" />
<path d="M429.4 325.6 Q433 325.21 433.7 324.3 L434.3 324.3 Q435 325.21 438.6 325.6 Z" fill="#a9c83c" stroke="#555" stroke-width="0.55"/>
<line x1="444.4" y1="317.2" x2="444.4" y2="325.6" stroke="#707070" stroke-width="0.75" />
<path d="M439.8 325.6 Q443.4 325.21 444.1 324.3 L444.7 324.3 Q445.4 325.21 449 325.6 Z" fill="#a9a9a9" stroke="#555" stroke-width="0.55"/>
<line x1="454.8" y1="316.2" x2="454.8" y2="325.6" stroke="#707070" stroke-width="0.75" />
<path d="M450.2 325.6 Q453.8 325.21 454.5 324.3 L455.1 324.3 Q455.8 325.21 459.4 325.6 Z" fill="#000000" stroke="#555" stroke-width="0.55"/>
<line x1="465.2" y1="312.4" x2="465.2" y2="325.6" stroke="#707070" stroke-width="0.75" />
<path d="M460.6 325.6 Q464.2 325.21 464.9 324.3 L465.5 324.3 Q466.2 325.21 469.8 325.6 Z" fill="#5a3a9a" stroke="#555" stroke-width="0.55"/>
<line x1="475.6" y1="317.2" x2="475.6" y2="325.6" stroke="#707070" stroke-width="0.75" />
<path d="M471 325.6 Q474.6 325.21 475.3 324.3 L475.9 324.3 Q476.6 325.21 480.2 325.6 Z" fill="#d01c26" stroke="#555" stroke-width="0.55"/>
<path d="M486.2 308.6 C486.4 308.92 486.9 309.77 487.4 310.5 C487.9 311.23 488.62 312.08 489.2 313 C489.78 313.92 490.5 315.05 490.9 316 C491.3 316.95 491.65 317.78 491.6 318.7 C491.55 319.62 491.1 320.65 490.6 321.5 C490.1 322.35 489.27 323.13 488.6 323.8 C487.93 324.47 486.93 325.22 486.6 325.5 L485.4 325.5 C485.07 325.22 484.07 324.47 483.4 323.8 C482.73 323.13 481.9 322.35 481.4 321.5 C480.9 320.65 480.45 319.62 480.4 318.7 C480.35 317.78 480.7 316.95 481.1 316 C481.5 315.05 482.22 313.92 482.8 313 C483.38 312.08 484.1 311.23 484.6 310.5 C485.1 309.77 485.6 308.92 485.8 308.6Z" fill="#8fd0e2" stroke="#333" stroke-width="0.5"/>
<line x1="423.6" y1="326" x2="423.6" y2="329.8" stroke="#000" stroke-width="0.7" />
<line x1="434" y1="326" x2="434" y2="329.8" stroke="#000" stroke-width="0.7" />
<line x1="444.4" y1="326" x2="444.4" y2="329.8" stroke="#000" stroke-width="0.7" />
<line x1="454.8" y1="326" x2="454.8" y2="329.8" stroke="#000" stroke-width="0.7" />
<line x1="465.2" y1="326" x2="465.2" y2="329.8" stroke="#000" stroke-width="0.7" />
<line x1="475.6" y1="326" x2="475.6" y2="329.8" stroke="#000" stroke-width="0.7" />
<line x1="486" y1="326" x2="486" y2="329.8" stroke="#000" stroke-width="0.7" />
<rect x="418.4" y="331.4" width="10.3" height="9.9" fill="#c9b8df" stroke="#333" stroke-width="0.5" />
<rect x="428.7" y="331.4" width="10.3" height="9.9" fill="#a9c83c" stroke="#333" stroke-width="0.5" />
<rect x="439" y="331.4" width="10.3" height="9.9" fill="#a9a9a9" stroke="#333" stroke-width="0.5" />
<rect x="449.3" y="331.4" width="10.3" height="9.9" fill="#000000" stroke="#333" stroke-width="0.5" />
<rect x="459.6" y="331.4" width="10.3" height="9.9" fill="#5a3a9a" stroke="#333" stroke-width="0.5" />
<rect x="469.9" y="331.4" width="10.3" height="9.9" fill="#d01c26" stroke="#333" stroke-width="0.5" />
<rect x="480.2" y="331.4" width="10.3" height="9.9" fill="#8fd0e2" stroke="#333" stroke-width="0.5" />
<text x="454.6" y="350.7" font-size="7.2" text-anchor="middle" textLength="31.4" lengthAdjust="spacingAndGlyphs" stroke="#000" stroke-width="0.22" >UMAP cluster</text>
</svg>
</body></html>
